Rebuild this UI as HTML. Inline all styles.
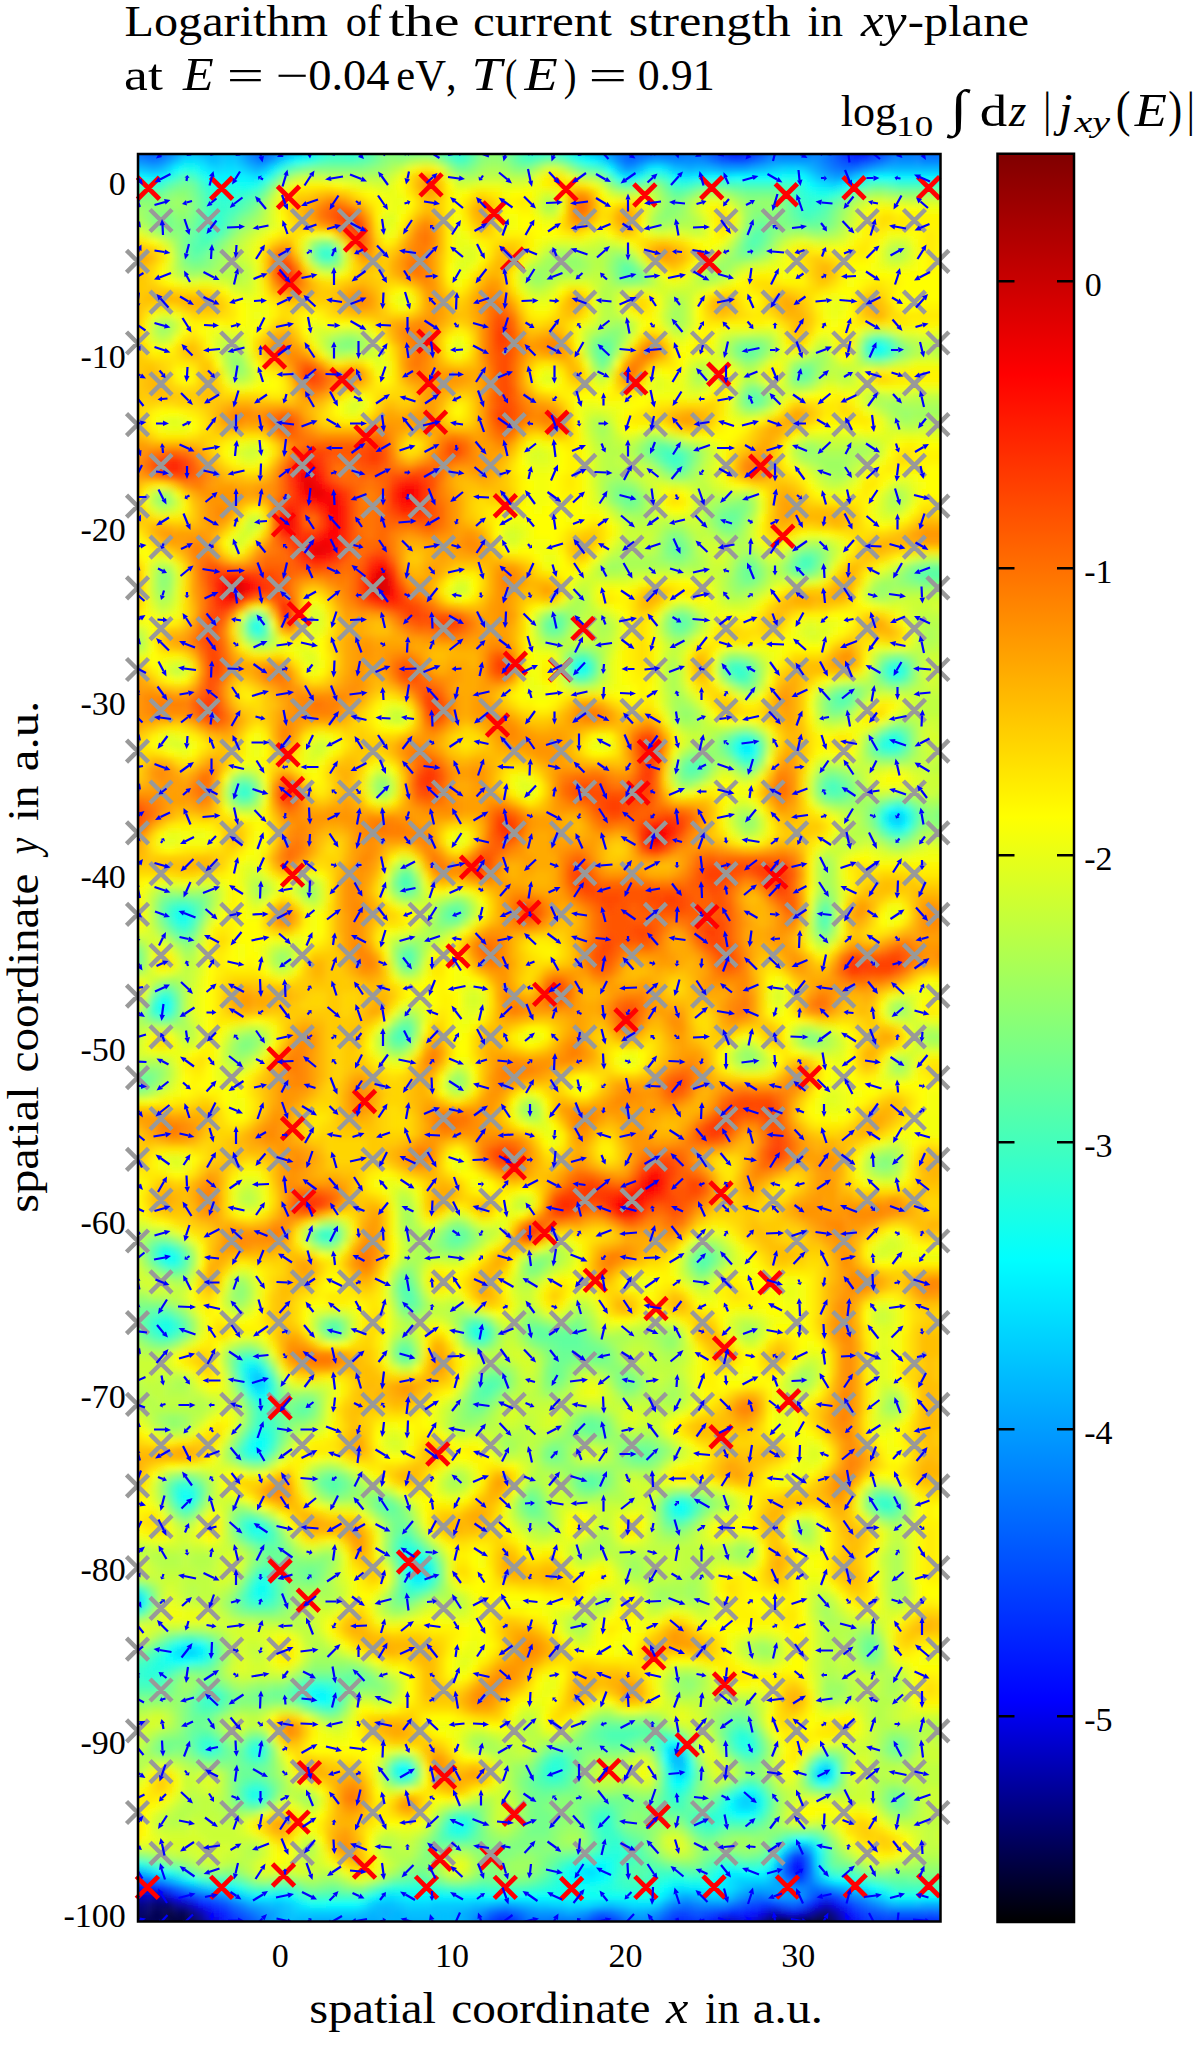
<!DOCTYPE html><html><head><meta charset="utf-8"><style>html,body{margin:0;padding:0;background:#fff;overflow:hidden;width:1200px;height:2055px;}svg{display:block;}text{font-family:"Liberation Serif",serif;fill:#000;font-kerning:none;}</style></head><body>
<svg width="1200" height="2055" viewBox="0 0 1200 2055">
<defs><linearGradient id="cb" x1="0" y1="0" x2="0" y2="1"><stop offset="0" stop-color="#800000"/><stop offset="0.125" stop-color="#ff0000"/><stop offset="0.375" stop-color="#ffff00"/><stop offset="0.625" stop-color="#00ffff"/><stop offset="0.875" stop-color="#0000ff"/><stop offset="1" stop-color="#000000"/></linearGradient><clipPath id="pc"><rect x="138" y="154" width="802.5" height="1767.5"/></clipPath><filter id="bl" x="-5%" y="-5%" width="110%" height="110%"><feGaussianBlur stdDeviation="3"/></filter></defs>
<rect width="1200" height="2055" fill="#fff"/>
<g clip-path="url(#pc)"><g filter="url(#bl)"><g transform="translate(109.495 124.907) scale(8.0096 8.1070)" fill="none" stroke-width="1.04">
<path stroke="#000000" d="M83 222.5h3"/>
<path stroke="#000015" d="M86 222.5h2M84 223.5h1"/>
<path stroke="#00002a" d="M83 221.5h2M88 221.5h1M9 222.5h1M82 222.5h1M88 222.5h1M83 223.5h1M85 223.5h1"/>
<path stroke="#000040" d="M7 220.5h1M7 221.5h3M85 221.5h3M89 221.5h1M8 222.5h1M89 222.5h1M8 223.5h2M86 223.5h3"/>
<path stroke="#000055" d="M5 220.5h2M8 220.5h2M0 221.5h7M10 221.5h1M82 221.5h1M1 222.5h3M7 222.5h1M10 222.5h1M7 223.5h1M82 223.5h1M89 223.5h1M8 224.5h2M83 224.5h2M88 224.5h1"/>
<path stroke="#00006a" d="M5 219.5h3M0 220.5h5M89 220.5h1M90 221.5h1M0 222.5h1M4 222.5h3M90 222.5h1M0 223.5h7M10 223.5h1M6 224.5h2M85 224.5h3M89 224.5h1"/>
<path stroke="#000080" d="M3 219.5h2M10 220.5h1M88 220.5h1M11 221.5h1M11 222.5h1M81 222.5h1M90 223.5h1M0 224.5h6M10 224.5h1M82 224.5h1"/>
<path stroke="#000095" d="M0 219.5h3M8 219.5h1M90 220.5h1M81 221.5h1M77 222.5h1M91 222.5h1M11 223.5h1M81 223.5h1M90 224.5h1"/>
<path stroke="#0000aa" d="M5 218.5h2M9 219.5h1M11 220.5h1M87 220.5h1M91 221.5h1M76 222.5h1M91 223.5h1M11 224.5h1"/>
<path stroke="#0000bf" d="M3 218.5h2M89 219.5h1M82 220.5h2M12 221.5h1M77 221.5h1M12 222.5h1M78 222.5h1M80 222.5h1M77 223.5h1M81 224.5h1M91 224.5h1"/>
<path stroke="#0000d4" d="M0 218.5h3M7 218.5h1M10 219.5h1M84 220.5h1M86 220.5h1M91 220.5h1M76 221.5h1M78 221.5h1M80 221.5h1M79 222.5h1M92 222.5h1M12 223.5h1M76 223.5h1M78 223.5h1M80 223.5h1"/>
<path stroke="#0000ea" d="M78 2.5h1M88 219.5h1M90 219.5h1M12 220.5h1M81 220.5h1M85 220.5h1M13 221.5h1M79 221.5h1M92 221.5h1M13 222.5h1M75 222.5h1M79 223.5h1M92 223.5h1M12 224.5h1M77 224.5h1"/>
<path stroke="#0000ff" d="M77 2.5h1M79 2.5h1M93 2.5h2M8 218.5h1M61 222.5h1M13 223.5h1M76 224.5h1M78 224.5h3M92 224.5h1"/>
<path stroke="#000bff" d="M78 1.5h1M77 3.5h2M93 3.5h2M85 214.5h1M11 219.5h1M13 220.5h1M80 220.5h1M92 220.5h1M75 221.5h1M93 221.5h1M14 222.5h1M48 222.5h2M93 222.5h1M75 223.5h1M13 224.5h1"/>
<path stroke="#0015ff" d="M77 1.5h1M79 1.5h1M93 1.5h2M92 2.5h1M95 2.5h1M79 3.5h1M92 3.5h1M86 214.5h1M85 215.5h2M0 217.5h6M91 219.5h1M79 220.5h1M14 221.5h1M49 221.5h1M61 221.5h1M62 222.5h1M98 222.5h7M14 223.5h1M49 223.5h1M61 223.5h1M93 223.5h1M75 224.5h1"/>
<path stroke="#0020ff" d="M78 0.5h1M93 0.5h2M92 1.5h1M95 1.5h1M76 2.5h1M80 2.5h1M95 3.5h1M6 217.5h1M9 218.5h1M12 219.5h1M87 219.5h1M14 220.5h1M77 220.5h2M15 221.5h1M48 221.5h1M62 221.5h1M71 221.5h1M74 221.5h1M98 221.5h7M15 222.5h1M50 222.5h1M60 222.5h1M70 222.5h2M74 222.5h1M94 222.5h1M97 222.5h1M48 223.5h1M62 223.5h1M99 223.5h2M14 224.5h1M93 224.5h1"/>
<path stroke="#002aff" d="M77 0.5h1M79 0.5h1M92 0.5h1M76 1.5h1M80 1.5h1M76 3.5h1M80 3.5h1M89 218.5h1M76 220.5h1M93 220.5h1M50 221.5h1M70 221.5h1M72 221.5h1M94 221.5h1M97 221.5h1M72 222.5h2M95 222.5h2M15 223.5h1M50 223.5h1M60 223.5h1M70 223.5h2M74 223.5h1M94 223.5h1M97 223.5h2M101 223.5h4M49 224.5h1M61 224.5h1"/>
<path stroke="#0035ff" d="M95 0.5h1M91 2.5h1M96 2.5h1M91 3.5h1M92 4.5h2M86 213.5h1M10 218.5h1M88 218.5h1M90 218.5h1M13 219.5h1M81 219.5h2M92 219.5h1M16 221.5h1M60 221.5h1M73 221.5h1M95 221.5h2M16 222.5h1M47 222.5h1M63 222.5h1M69 222.5h1M72 223.5h2M95 223.5h2M15 224.5h1M48 224.5h1M62 224.5h1M70 224.5h2M74 224.5h1M94 224.5h1M99 224.5h2"/>
<path stroke="#0040ff" d="M76 0.5h1M80 0.5h1M91 1.5h1M96 1.5h1M75 2.5h1M81 2.5h1M96 3.5h1M78 4.5h1M94 4.5h1M85 213.5h1M7 217.5h1M80 219.5h1M83 219.5h1M15 220.5h1M71 220.5h1M75 220.5h1M94 220.5h1M47 221.5h1M63 221.5h1M69 221.5h1M16 223.5h1M47 223.5h1M63 223.5h1M69 223.5h1M50 224.5h1M60 224.5h1M72 224.5h1M97 224.5h2M101 224.5h4"/>
<path stroke="#004aff" d="M91 0.5h1M75 1.5h1M81 1.5h1M75 3.5h1M81 3.5h1M77 4.5h1M79 4.5h1M91 4.5h1M84 215.5h1M85 216.5h2M14 219.5h1M79 219.5h1M86 219.5h1M49 220.5h1M70 220.5h1M72 220.5h1M74 220.5h1M95 220.5h1M17 221.5h1M17 222.5h1M51 222.5h1M59 222.5h1M16 224.5h1M47 224.5h1M73 224.5h1M95 224.5h2"/>
<path stroke="#0055ff" d="M96 0.5h1M5 2.5h1M18 2.5h2M65 2.5h4M90 2.5h1M97 2.5h1M65 3.5h1M90 3.5h1M76 4.5h1M95 4.5h1M84 214.5h1M0 216.5h4M11 218.5h1M91 218.5h1M84 219.5h1M93 219.5h1M16 220.5h1M48 220.5h1M73 220.5h1M96 220.5h1M102 220.5h1M51 221.5h1M59 221.5h1M68 222.5h1M17 223.5h1M51 223.5h1M59 223.5h1M63 224.5h1M69 224.5h1"/>
<path stroke="#0060ff" d="M75 0.5h1M81 0.5h1M5 1.5h1M18 1.5h2M65 1.5h3M90 1.5h1M97 1.5h1M0 2.5h1M3 2.5h2M6 2.5h1M64 2.5h1M69 2.5h2M74 2.5h1M82 2.5h1M102 2.5h2M4 3.5h3M18 3.5h2M64 3.5h1M66 3.5h2M74 3.5h1M97 3.5h1M80 4.5h1M90 4.5h1M4 216.5h1M8 217.5h1M12 218.5h1M87 218.5h1M78 219.5h1M85 219.5h1M50 220.5h1M61 220.5h1M97 220.5h5M103 220.5h2M18 221.5h1M46 221.5h1M68 221.5h1M18 222.5h1M46 222.5h1M55 222.5h1M64 222.5h1M68 223.5h1M17 224.5h1"/>
<path stroke="#006aff" d="M5 0.5h1M18 0.5h2M65 0.5h1M90 0.5h1M0 1.5h1M3 1.5h2M6 1.5h1M64 1.5h1M68 1.5h3M74 1.5h1M82 1.5h1M102 1.5h2M1 2.5h2M20 2.5h1M63 2.5h1M71 2.5h1M84 2.5h3M98 2.5h1M100 2.5h2M104 2.5h1M0 3.5h4M68 3.5h4M82 3.5h1M101 3.5h4M64 4.5h2M75 4.5h1M96 4.5h1M91 5.5h2M87 214.5h1M87 215.5h1M15 219.5h1M94 219.5h1M17 220.5h1M47 220.5h1M62 220.5h1M69 220.5h1M55 221.5h1M64 221.5h1M52 222.5h1M54 222.5h1M56 222.5h3M18 223.5h1M46 223.5h1M64 223.5h1M51 224.5h1M59 224.5h1"/>
<path stroke="#0075ff" d="M4 0.5h1M6 0.5h1M64 0.5h1M66 0.5h2M74 0.5h1M82 0.5h1M97 0.5h1M1 1.5h2M20 1.5h1M63 1.5h1M71 1.5h1M84 1.5h3M98 1.5h1M100 1.5h2M104 1.5h1M7 2.5h1M17 2.5h1M72 2.5h2M83 2.5h1M87 2.5h1M89 2.5h1M99 2.5h1M7 3.5h1M20 3.5h1M63 3.5h1M72 3.5h2M83 3.5h5M89 3.5h1M98 3.5h3M5 4.5h1M81 4.5h1M89 4.5h1M90 5.5h1M93 5.5h1M5 216.5h1M84 216.5h1M87 216.5h1M87 217.5h2M13 218.5h1M80 218.5h2M92 218.5h1M71 219.5h2M77 219.5h1M51 220.5h1M60 220.5h1M52 221.5h3M56 221.5h3M53 222.5h1M67 222.5h1M52 223.5h1M54 223.5h3M58 223.5h1M18 224.5h1M46 224.5h1M68 224.5h1"/>
<path stroke="#0080ff" d="M0 0.5h4M68 0.5h4M85 0.5h2M89 0.5h1M100 0.5h5M7 1.5h1M17 1.5h1M72 1.5h2M83 1.5h1M87 1.5h3M99 1.5h1M62 2.5h1M88 2.5h1M17 3.5h1M88 3.5h1M4 4.5h1M6 4.5h1M18 4.5h2M66 4.5h1M74 4.5h1M97 4.5h1M101 4.5h4M87 213.5h1M9 217.5h1M86 217.5h1M89 217.5h1M82 218.5h1M16 219.5h1M70 219.5h1M73 219.5h1M95 219.5h1M18 220.5h1M63 220.5h1M19 221.5h1M65 221.5h1M67 221.5h1M19 222.5h1M65 222.5h2M53 223.5h1M57 223.5h1M67 223.5h1M52 224.5h1M54 224.5h3M64 224.5h1"/>
<path stroke="#008aff" d="M7 0.5h1M17 0.5h1M20 0.5h1M63 0.5h1M72 0.5h2M83 0.5h2M87 0.5h2M98 0.5h2M21 2.5h1M62 3.5h1M0 4.5h4M63 4.5h1M70 4.5h4M82 4.5h1M88 4.5h1M98 4.5h3M89 5.5h1M94 5.5h1M86 212.5h1M84 213.5h1M6 216.5h1M85 217.5h1M14 218.5h1M79 218.5h1M86 218.5h1M93 218.5h1M74 219.5h3M46 220.5h1M52 220.5h1M68 220.5h1M45 221.5h1M66 221.5h1M45 222.5h1M19 223.5h1M65 223.5h2M53 224.5h1M57 224.5h2M67 224.5h1"/>
<path stroke="#0095ff" d="M8 1.5h1M21 1.5h1M62 1.5h1M8 2.5h1M61 2.5h1M8 3.5h1M21 3.5h1M17 4.5h1M67 4.5h1M69 4.5h1M83 4.5h5M64 5.5h1M90 217.5h1M83 218.5h1M96 219.5h1M19 220.5h1M53 220.5h3M59 220.5h1M64 220.5h1M45 223.5h1M19 224.5h1M45 224.5h1M65 224.5h2"/>
<path stroke="#009fff" d="M62 0.5h1M16 2.5h1M22 2.5h1M16 3.5h1M7 4.5h1M20 4.5h1M68 4.5h1M65 5.5h1M76 5.5h4M88 5.5h1M95 5.5h1M90 6.5h2M85 212.5h1M2 215.5h1M83 215.5h1M83 216.5h1M10 217.5h1M84 217.5h1M78 218.5h1M84 218.5h2M94 218.5h1M17 219.5h1M49 219.5h1M69 219.5h1M20 220.5h1M45 220.5h1M56 220.5h1M58 220.5h1M67 220.5h1M20 221.5h1M20 222.5h1M25 222.5h4"/>
<path stroke="#00aaff" d="M8 0.5h1M21 0.5h1M16 1.5h1M61 1.5h1M9 2.5h1M60 2.5h1M61 3.5h1M5 5.5h1M18 5.5h1M72 5.5h1M75 5.5h1M80 5.5h1M96 5.5h1M89 6.5h1M92 6.5h1M0 215.5h2M3 215.5h1M7 216.5h1M88 216.5h1M80 217.5h4M91 217.5h1M15 218.5h1M71 218.5h2M18 219.5h1M48 219.5h1M50 219.5h1M97 219.5h1M101 219.5h4M34 220.5h1M44 220.5h1M57 220.5h1M65 220.5h2M25 221.5h9M44 221.5h1M24 222.5h1M29 222.5h4M44 222.5h1M20 223.5h1M25 223.5h4M44 223.5h1M20 224.5h1"/>
<path stroke="#00b5ff" d="M16 0.5h1M9 1.5h1M12 1.5h1M22 1.5h1M10 2.5h4M23 2.5h1M9 3.5h1M11 3.5h3M22 3.5h1M16 4.5h1M62 4.5h1M4 5.5h1M6 5.5h1M71 5.5h1M73 5.5h2M81 5.5h1M87 5.5h1M97 5.5h8M2 182.5h1M70 201.5h1M87 212.5h1M83 214.5h1M11 217.5h1M79 217.5h1M73 218.5h1M19 219.5h1M47 219.5h1M51 219.5h1M98 219.5h3M21 220.5h1M32 220.5h2M35 220.5h2M43 220.5h1M21 221.5h1M23 221.5h2M34 221.5h7M43 221.5h1M21 222.5h1M23 222.5h1M33 222.5h8M24 223.5h1M29 223.5h6M36 223.5h4M44 224.5h1"/>
<path stroke="#00bfff" d="M9 0.5h1M12 0.5h2M61 0.5h1M10 1.5h2M13 1.5h1M15 1.5h1M60 1.5h1M14 2.5h2M59 2.5h1M10 3.5h1M14 3.5h2M60 3.5h1M8 4.5h1M12 4.5h2M0 5.5h4M17 5.5h1M19 5.5h1M63 5.5h1M66 5.5h1M70 5.5h1M82 5.5h1M88 6.5h1M98 85.5h1M18 154.5h1M2 181.5h1M1 182.5h1M70 200.5h1M71 201.5h1M71 202.5h1M89 203.5h1M4 215.5h1M82 216.5h1M92 217.5h1M70 218.5h1M77 218.5h1M95 218.5h1M20 219.5h2M33 219.5h3M45 219.5h2M52 219.5h1M62 219.5h1M22 220.5h1M31 220.5h1M37 220.5h6M22 221.5h1M41 221.5h2M22 222.5h1M41 222.5h3M21 223.5h1M23 223.5h1M35 223.5h1M40 223.5h2M43 223.5h1M21 224.5h1M24 224.5h17"/>
<path stroke="#00caff" d="M10 0.5h2M14 0.5h2M22 0.5h1M14 1.5h1M23 1.5h1M24 2.5h1M23 3.5h1M14 4.5h2M21 4.5h1M83 5.5h1M86 5.5h1M93 6.5h1M18 155.5h1M1 181.5h1M3 182.5h1M70 202.5h1M79 206.5h1M88 215.5h1M8 216.5h1M12 217.5h1M78 217.5h1M16 218.5h1M74 218.5h1M22 219.5h1M36 219.5h1M40 219.5h5M53 219.5h2M61 219.5h1M63 219.5h1M68 219.5h1M23 220.5h8M22 223.5h1M42 223.5h1M22 224.5h2M41 224.5h3"/>
<path stroke="#00d4ff" d="M60 0.5h1M59 1.5h1M59 3.5h1M11 4.5h1M7 5.5h1M13 5.5h1M16 5.5h1M84 5.5h2M90 7.5h1M97 85.5h1M3 181.5h1M0 182.5h1M9 188.5h2M89 202.5h1M71 203.5h1M88 203.5h1M79 207.5h1M78 216.5h4M89 216.5h1M13 217.5h1M93 217.5h1M75 218.5h2M96 218.5h1M32 219.5h1M37 219.5h3M55 219.5h2M60 219.5h1M64 219.5h1"/>
<path stroke="#00dfff" d="M23 0.5h1M24 1.5h1M58 2.5h1M24 3.5h1M9 4.5h2M61 4.5h1M12 5.5h1M14 5.5h2M69 5.5h1M18 6.5h1M64 6.5h1M87 6.5h1M89 7.5h1M98 86.5h1M18 153.5h1M17 154.5h1M19 155.5h1M38 178.5h1M0 181.5h1M8 188.5h1M71 200.5h1M78 206.5h1M80 206.5h1M78 207.5h1M80 207.5h1M84 212.5h1M88 214.5h1M5 215.5h1M59 215.5h2M82 215.5h1M77 216.5h1M71 217.5h1M77 217.5h1M17 218.5h1M34 218.5h2M69 218.5h1M23 219.5h1M57 219.5h3M65 219.5h3"/>
<path stroke="#00eaff" d="M59 0.5h1M58 1.5h1M25 2.5h1M58 3.5h1M22 4.5h1M20 5.5h1M67 5.5h1M5 6.5h1M17 6.5h1M65 6.5h1M71 6.5h2M94 6.5h1M88 7.5h1M91 7.5h1M79 76.5h1M98 84.5h1M99 85.5h1M17 153.5h1M19 154.5h1M18 156.5h1M38 177.5h1M39 178.5h1M38 179.5h1M10 187.5h1M11 188.5h1M70 203.5h1M83 213.5h1M88 213.5h1M9 216.5h1M14 217.5h1M70 217.5h1M72 217.5h2M76 217.5h1M94 217.5h1M20 218.5h2M36 218.5h1"/>
<path stroke="#00f4ff" d="M24 0.5h1M25 1.5h1M57 2.5h1M25 3.5h1M60 4.5h1M11 5.5h1M68 5.5h1M4 6.5h1M6 6.5h1M13 6.5h4M73 6.5h2M76 6.5h2M98 6.5h7M95 27.5h1M79 77.5h1M97 86.5h1M17 155.5h1M19 156.5h1M39 177.5h1M9 187.5h1M26 193.5h1M69 200.5h1M88 202.5h1M36 203.5h1M6 215.5h1M58 215.5h1M61 215.5h1M77 215.5h2M58 216.5h3M76 216.5h1M90 216.5h1M15 217.5h1M74 217.5h2M18 218.5h2M22 218.5h1M33 218.5h1M37 218.5h10M97 218.5h1M24 219.5h1M31 219.5h1"/>
<path stroke="#00ffff" d="M58 0.5h1M8 5.5h1M62 5.5h1M0 6.5h4M12 6.5h1M19 6.5h1M70 6.5h1M75 6.5h1M78 6.5h6M86 6.5h1M95 6.5h3M87 7.5h1M92 7.5h1M96 27.5h1M97 84.5h1M99 86.5h1M6 108.5h1M7 139.5h1M18 162.5h1M18 163.5h1M9 169.5h1M71 170.5h1M37 177.5h1M37 178.5h1M39 179.5h1M11 187.5h1M7 188.5h1M8 189.5h2M25 193.5h1M26 194.5h1M70 199.5h1M69 201.5h1M36 202.5h1M70 204.5h2M89 204.5h1M79 205.5h1M77 207.5h1M78 208.5h2M86 211.5h1M88 212.5h1M60 214.5h2M76 215.5h1M79 215.5h1M81 215.5h1M57 216.5h1M61 216.5h1M91 216.5h1M69 217.5h1M95 217.5h1M47 218.5h8M68 218.5h1M101 218.5h4M27 219.5h4"/>
<path stroke="#0bfff4" d="M25 0.5h1M57 1.5h1M26 2.5h1M56 2.5h1M57 3.5h1M23 4.5h1M59 4.5h1M63 6.5h1M84 6.5h2M13 7.5h2M16 7.5h2M18 61.5h1M58 66.5h1M58 67.5h1M98 67.5h1M78 76.5h1M80 76.5h1M97 76.5h1M80 77.5h1M99 84.5h1M8 97.5h2M7 108.5h1M6 109.5h1M6 139.5h1M19 162.5h1M17 163.5h1M9 168.5h1M70 170.5h1M18 173.5h1M37 176.5h2M37 179.5h1M18 180.5h2M18 181.5h1M8 187.5h1M7 189.5h1M10 189.5h1M27 193.5h1M27 194.5h1M18 200.5h1M72 202.5h1M37 203.5h1M90 203.5h1M80 205.5h1M77 206.5h1M80 208.5h1M43 209.5h1M85 211.5h1M2 214.5h1M59 214.5h1M62 214.5h1M82 214.5h1M57 215.5h1M62 215.5h1M80 215.5h1M10 216.5h1M75 216.5h1M92 216.5h1M58 217.5h2M55 218.5h11M98 218.5h3M25 219.5h2"/>
<path stroke="#15ffea" d="M26 1.5h1M43 2.5h1M53 2.5h3M26 3.5h1M24 4.5h1M9 5.5h2M7 6.5h1M66 6.5h1M15 7.5h1M18 7.5h1M88 8.5h2M18 62.5h1M59 66.5h1M59 67.5h1M97 67.5h1M98 76.5h1M78 77.5h1M96 85.5h1M9 98.5h1M8 139.5h1M7 140.5h1M6 148.5h2M46 148.5h1M46 149.5h1M17 152.5h1M18 161.5h2M17 162.5h1M19 163.5h1M10 169.5h1M71 171.5h1M19 179.5h1M19 181.5h1M4 182.5h1M2 183.5h1M12 188.5h1M6 189.5h1M11 189.5h1M24 193.5h1M25 194.5h1M69 199.5h1M79 199.5h1M37 202.5h1M90 202.5h1M72 203.5h1M88 204.5h1M18 205.5h1M18 206.5h1M81 206.5h1M81 207.5h1M77 208.5h1M44 209.5h1M43 210.5h1M87 211.5h1M0 214.5h2M3 214.5h1M58 214.5h1M7 215.5h1M62 216.5h1M70 216.5h2M16 217.5h1M56 217.5h2M60 217.5h1M68 217.5h1M96 217.5h1M23 218.5h1M32 218.5h1M66 218.5h2"/>
<path stroke="#20ffdf" d="M57 0.5h1M43 1.5h1M53 1.5h1M56 1.5h1M29 2.5h2M42 2.5h1M52 2.5h1M30 3.5h1M43 3.5h1M53 3.5h1M56 3.5h1M58 4.5h1M21 5.5h1M11 6.5h1M12 7.5h1M86 7.5h1M93 7.5h1M13 8.5h3M87 8.5h1M90 8.5h1M97 75.5h2M96 76.5h1M9 96.5h1M8 98.5h1M6 107.5h1M7 109.5h1M8 140.5h1M6 147.5h2M45 148.5h1M18 152.5h1M16 153.5h1M19 153.5h1M17 156.5h1M18 157.5h2M8 168.5h1M10 168.5h1M8 169.5h1M9 170.5h1M72 170.5h1M70 171.5h1M17 172.5h2M17 173.5h1M19 173.5h1M37 175.5h1M40 178.5h1M18 179.5h1M38 180.5h1M4 181.5h1M1 183.5h1M5 190.5h2M25 192.5h2M78 199.5h1M12 200.5h1M79 200.5h1M72 201.5h1M55 202.5h1M69 202.5h1M55 203.5h1M17 205.5h1M70 205.5h2M78 205.5h1M17 206.5h1M76 207.5h1M76 208.5h1M42 210.5h1M44 210.5h1M61 213.5h3M56 215.5h1M75 215.5h1M89 215.5h1M56 216.5h1M69 216.5h1M72 216.5h3M93 216.5h1M35 217.5h5M55 217.5h1M61 217.5h2"/>
<path stroke="#2bffd4" d="M26 0.5h1M43 0.5h1M29 1.5h3M42 1.5h1M52 1.5h1M54 1.5h2M27 2.5h2M31 2.5h1M44 2.5h1M27 3.5h1M29 3.5h1M31 3.5h1M42 3.5h1M52 3.5h1M54 3.5h2M25 4.5h1M69 6.5h1M4 7.5h2M71 7.5h1M16 8.5h1M86 8.5h1M14 9.5h1M87 9.5h1M13 11.5h1M12 12.5h2M27 15.5h1M97 27.5h1M95 28.5h2M98 66.5h1M78 67.5h1M79 75.5h1M79 78.5h1M16 82.5h1M98 87.5h1M8 96.5h1M10 97.5h1M7 107.5h1M6 138.5h2M5 148.5h1M8 148.5h1M45 149.5h1M16 152.5h1M16 154.5h1M20 155.5h1M19 160.5h1M18 164.5h1M71 169.5h1M36 175.5h1M36 176.5h1M39 176.5h1M2 180.5h1M37 180.5h1M17 181.5h1M3 183.5h1M7 187.5h1M12 187.5h1M6 188.5h1M5 189.5h1M0 190.5h1M4 190.5h1M7 190.5h1M0 191.5h1M4 191.5h2M27 192.5h1M28 193.5h1M12 194.5h1M78 198.5h2M12 199.5h1M71 199.5h1M80 199.5h1M17 200.5h1M80 200.5h1M18 201.5h1M56 202.5h1M35 203.5h1M72 204.5h1M19 205.5h1M75 208.5h1M42 209.5h1M61 209.5h1M74 209.5h2M62 212.5h2M83 212.5h1M4 214.5h1M57 214.5h1M63 214.5h1M77 214.5h1M8 215.5h1M63 215.5h1M11 216.5h1M68 216.5h1M34 217.5h1M40 217.5h1M54 217.5h1M63 217.5h1M67 217.5h1M97 217.5h1"/>
<path stroke="#35ffca" d="M30 0.5h1M42 0.5h1M52 0.5h2M56 0.5h1M27 1.5h2M44 1.5h1M41 2.5h1M51 2.5h1M28 3.5h1M44 3.5h1M61 5.5h1M8 6.5h1M20 6.5h1M0 7.5h4M6 7.5h1M70 7.5h1M72 7.5h1M85 7.5h1M12 8.5h1M17 8.5h1M91 8.5h1M13 9.5h1M15 9.5h1M86 9.5h1M88 9.5h1M13 10.5h2M87 10.5h1M12 11.5h1M12 13.5h1M26 15.5h1M27 16.5h1M70 41.5h1M97 66.5h1M79 67.5h1M99 67.5h1M17 82.5h1M96 84.5h1M100 85.5h1M96 86.5h1M7 97.5h1M5 108.5h1M5 109.5h1M27 136.5h1M27 137.5h1M6 140.5h1M5 147.5h1M6 149.5h2M20 156.5h1M19 158.5h1M19 159.5h1M18 160.5h1M20 161.5h1M20 162.5h1M16 163.5h1M17 164.5h1M9 167.5h1M96 169.5h1M96 170.5h2M72 171.5h1M18 174.5h2M38 175.5h1M36 177.5h1M40 177.5h1M19 178.5h1M40 179.5h1M1 180.5h1M3 180.5h1M17 180.5h1M20 180.5h1M39 180.5h1M20 181.5h1M18 182.5h2M0 183.5h1M12 189.5h1M1 190.5h3M1 191.5h3M6 191.5h1M24 192.5h1M12 193.5h2M23 193.5h1M13 194.5h1M24 194.5h1M28 194.5h1M11 199.5h1M18 199.5h1M11 200.5h1M13 200.5h1M19 200.5h1M78 200.5h1M55 201.5h2M89 201.5h1M35 202.5h1M54 202.5h1M54 203.5h1M56 203.5h1M87 203.5h1M81 205.5h1M19 206.5h1M70 206.5h1M61 208.5h1M74 208.5h1M81 208.5h1M62 209.5h1M73 209.5h1M76 209.5h1M61 210.5h2M62 211.5h2M84 211.5h1M88 211.5h1M64 212.5h1M60 213.5h1M64 213.5h1M76 214.5h1M78 214.5h1M81 214.5h1M55 216.5h1M63 216.5h1M94 216.5h1M17 217.5h1M21 217.5h1M41 217.5h1M46 217.5h1M53 217.5h1M64 217.5h3M24 218.5h1M31 218.5h1"/>
<path stroke="#40ffbf" d="M27 0.5h3M31 0.5h1M44 0.5h1M54 0.5h2M51 1.5h1M51 3.5h1M26 4.5h1M43 4.5h1M10 6.5h1M67 6.5h2M11 7.5h1M19 7.5h1M79 7.5h6M94 7.5h1M98 7.5h7M12 9.5h1M16 9.5h1M89 9.5h1M12 10.5h1M15 10.5h1M86 10.5h1M88 10.5h1M14 11.5h1M13 13.5h1M26 16.5h1M95 26.5h2M94 27.5h1M69 40.5h2M71 41.5h1M86 54.5h1M17 61.5h1M78 66.5h1M77 67.5h1M98 68.5h1M78 75.5h1M96 75.5h1M77 76.5h1M97 77.5h1M80 78.5h1M16 81.5h1M90 81.5h1M97 87.5h1M7 96.5h1M10 96.5h1M89 97.5h1M10 98.5h1M9 99.5h1M36 112.5h1M26 136.5h1M26 137.5h1M8 147.5h1M20 157.5h1M18 158.5h1M18 159.5h1M20 160.5h1M17 161.5h1M8 167.5h1M70 169.5h1M72 169.5h1M97 169.5h1M10 170.5h1M16 172.5h1M19 172.5h1M36 174.5h2M20 179.5h1M0 180.5h1M17 182.5h1M0 189.5h1M4 189.5h1M8 190.5h1M0 192.5h1M3 192.5h3M28 192.5h1M11 194.5h1M27 195.5h1M13 199.5h1M17 201.5h1M69 203.5h1M18 204.5h1M55 204.5h1M69 204.5h1M90 204.5h1M71 206.5h1M76 206.5h1M43 208.5h2M62 208.5h1M73 208.5h1M45 209.5h1M77 209.5h3M43 211.5h1M61 211.5h1M61 212.5h1M65 212.5h1M65 213.5h1M82 213.5h1M89 213.5h1M5 214.5h1M56 214.5h1M64 214.5h1M79 214.5h2M89 214.5h1M55 215.5h1M68 215.5h3M74 215.5h1M90 215.5h1M12 216.5h3M64 216.5h1M67 216.5h1M20 217.5h1M22 217.5h1M42 217.5h1M44 217.5h2M47 217.5h2M52 217.5h1M98 217.5h7M25 218.5h6"/>
<path stroke="#4affb5" d="M51 0.5h1M32 1.5h1M41 1.5h1M32 2.5h1M32 3.5h1M41 3.5h1M27 4.5h4M44 4.5h1M52 4.5h1M57 4.5h1M22 5.5h1M60 5.5h1M64 7.5h1M73 7.5h1M77 7.5h2M97 7.5h1M18 8.5h1M85 8.5h1M85 9.5h1M86 11.5h2M11 12.5h1M14 12.5h1M11 13.5h1M11 14.5h2M80 14.5h1M97 28.5h1M71 40.5h1M69 41.5h1M86 53.5h2M87 54.5h1M55 61.5h1M17 62.5h1M19 62.5h1M77 66.5h1M99 66.5h1M78 68.5h2M97 68.5h1M91 70.5h1M80 75.5h1M99 76.5h1M96 77.5h1M98 77.5h1M72 79.5h1M17 81.5h1M89 81.5h1M90 82.5h1M98 83.5h1M100 84.5h1M100 86.5h1M99 87.5h1M36 93.5h2M7 98.5h1M89 98.5h1M8 99.5h1M2 102.5h1M37 102.5h1M36 111.5h1M8 138.5h1M5 139.5h1M37 144.5h1M6 146.5h1M27 148.5h2M47 148.5h1M5 149.5h1M47 149.5h1M36 151.5h1M20 154.5h1M16 155.5h1M47 155.5h1M20 158.5h1M20 159.5h1M20 163.5h1M19 164.5h1M10 167.5h1M95 169.5h1M8 170.5h1M69 170.5h1M73 170.5h1M16 173.5h1M20 173.5h1M17 174.5h1M20 174.5h1M18 178.5h1M36 178.5h1M37 181.5h1M20 182.5h1M5 188.5h1M1 189.5h3M1 192.5h2M6 192.5h1M11 195.5h2M26 195.5h1M78 197.5h1M62 198.5h4M77 198.5h1M80 198.5h1M17 199.5h1M68 199.5h1M77 199.5h1M72 200.5h1M19 201.5h1M79 201.5h1M57 202.5h1M17 204.5h1M54 204.5h1M56 204.5h1M79 204.5h2M16 205.5h1M69 205.5h1M72 205.5h1M77 205.5h1M69 206.5h1M70 207.5h2M75 207.5h1M60 208.5h1M60 209.5h1M80 209.5h1M45 210.5h1M63 210.5h1M74 210.5h2M42 211.5h1M44 211.5h1M64 211.5h1M89 212.5h1M59 213.5h1M65 214.5h1M75 214.5h1M9 215.5h1M64 215.5h1M67 215.5h1M71 215.5h1M91 215.5h2M15 216.5h1M38 216.5h1M54 216.5h1M65 216.5h2M95 216.5h1M18 217.5h2M33 217.5h1M43 217.5h1M49 217.5h3"/>
<path stroke="#55ffaa" d="M32 0.5h1M40 2.5h1M45 2.5h1M50 2.5h1M45 3.5h1M31 4.5h1M51 4.5h1M59 5.5h1M9 6.5h1M62 6.5h1M7 7.5h1M65 7.5h1M74 7.5h3M95 7.5h2M11 8.5h1M92 8.5h1M17 9.5h1M90 9.5h1M16 10.5h1M85 10.5h1M89 10.5h1M11 11.5h1M15 11.5h1M88 11.5h1M80 13.5h2M10 14.5h1M10 15.5h2M64 17.5h1M64 18.5h1M61 27.5h1M61 28.5h1M86 30.5h1M80 33.5h1M68 40.5h1M70 42.5h2M101 55.5h4M18 60.5h1M19 61.5h1M71 61.5h1M58 65.5h2M57 66.5h1M60 66.5h1M79 66.5h1M57 67.5h1M60 67.5h1M96 67.5h1M58 68.5h1M92 70.5h1M91 71.5h1M99 75.5h1M95 76.5h1M77 77.5h1M73 78.5h1M78 78.5h1M73 79.5h1M91 81.5h1M89 82.5h1M91 82.5h1M37 94.5h1M89 96.5h1M42 97.5h2M1 102.5h1M1 103.5h2M37 103.5h1M37 111.5h1M35 112.5h1M1 118.5h3M43 137.5h1M5 138.5h1M9 139.5h1M74 139.5h1M9 140.5h1M73 140.5h2M36 143.5h2M37 145.5h1M5 146.5h1M7 146.5h1M4 147.5h1M45 147.5h1M4 148.5h1M9 148.5h1M44 148.5h1M8 149.5h1M17 151.5h1M37 151.5h1M46 155.5h1M48 155.5h1M46 156.5h2M17 157.5h1M24 158.5h1M16 162.5h1M16 164.5h1M27 167.5h2M59 167.5h2M7 168.5h1M11 168.5h1M34 170.5h1M95 170.5h1M98 170.5h1M69 171.5h1M70 172.5h2M20 178.5h1M17 179.5h1M36 179.5h1M36 180.5h1M16 181.5h1M36 181.5h1M9 186.5h2M6 187.5h1M13 188.5h1M9 190.5h1M7 191.5h1M23 192.5h1M29 192.5h1M11 193.5h1M14 193.5h1M22 193.5h1M14 194.5h1M23 194.5h1M13 195.5h1M79 197.5h1M11 198.5h2M61 198.5h1M66 198.5h4M10 199.5h1M19 199.5h1M62 199.5h3M68 200.5h1M12 201.5h1M54 201.5h1M57 201.5h1M80 201.5h1M88 201.5h1M90 201.5h1M87 202.5h1M53 203.5h1M57 203.5h1M19 204.5h1M36 204.5h1M53 204.5h1M87 204.5h1M16 206.5h1M82 206.5h1M61 207.5h2M69 207.5h1M82 207.5h1M45 208.5h1M72 208.5h1M72 209.5h1M41 210.5h1M60 210.5h1M73 210.5h1M41 211.5h1M58 213.5h1M66 213.5h1M66 214.5h2M65 215.5h2M72 215.5h2M37 216.5h1M39 216.5h1M96 216.5h1M23 217.5h1"/>
<path stroke="#60ff9f" d="M41 0.5h1M45 1.5h1M50 1.5h1M37 2.5h1M50 3.5h1M32 4.5h1M42 4.5h1M53 4.5h1M23 5.5h1M69 7.5h1M0 8.5h1M70 8.5h2M84 8.5h1M11 9.5h1M11 10.5h1M85 11.5h1M89 11.5h1M81 12.5h1M10 13.5h1M14 13.5h1M79 14.5h1M81 14.5h1M79 15.5h2M10 16.5h1M65 18.5h1M97 26.5h1M62 27.5h1M79 27.5h2M98 27.5h1M94 28.5h1M80 34.5h1M68 39.5h2M77 48.5h1M85 54.5h1M56 61.5h1M70 61.5h1M55 62.5h1M18 63.5h1M59 68.5h1M99 68.5h1M90 70.5h1M90 71.5h1M98 74.5h1M81 76.5h1M72 78.5h1M90 80.5h1M15 82.5h1M16 83.5h1M97 83.5h1M99 83.5h1M36 92.5h2M36 94.5h1M8 95.5h2M11 96.5h1M43 96.5h1M10 99.5h1M0 102.5h1M3 102.5h1M36 102.5h1M7 106.5h1M5 107.5h1M8 108.5h1M6 110.5h1M37 112.5h1M36 113.5h1M0 117.5h4M0 118.5h1M28 136.5h1M43 136.5h1M42 137.5h1M73 139.5h1M7 141.5h2M36 144.5h1M4 146.5h1M46 147.5h1M53 148.5h1M53 149.5h6M46 150.5h1M56 150.5h3M16 151.5h1M19 152.5h1M47 154.5h2M46 157.5h1M23 158.5h1M21 160.5h1M59 160.5h2M65 163.5h2M66 164.5h1M26 167.5h1M27 168.5h2M11 169.5h1M52 169.5h1M73 169.5h1M35 170.5h1M52 170.5h1M9 171.5h1M17 171.5h1M97 171.5h1M36 173.5h2M19 175.5h2M35 175.5h1M40 176.5h1M19 177.5h2M4 180.5h1M21 180.5h1M40 180.5h1M21 181.5h1M38 181.5h1M16 182.5h1M4 183.5h1M8 186.5h1M11 186.5h1M13 187.5h1M4 188.5h1M10 190.5h2M25 191.5h3M29 191.5h2M12 192.5h1M0 193.5h1M3 193.5h3M29 193.5h1M10 194.5h1M10 195.5h1M28 195.5h1M61 197.5h7M77 197.5h1M10 198.5h1M60 198.5h1M70 198.5h1M61 199.5h1M10 200.5h1M14 200.5h1M16 200.5h1M56 200.5h1M77 200.5h1M81 200.5h1M13 201.5h1M16 201.5h1M17 202.5h2M53 202.5h1M73 203.5h1M16 204.5h1M57 204.5h1M20 205.5h1M54 205.5h1M72 206.5h1M98 206.5h1M17 207.5h2M60 207.5h1M72 207.5h1M74 207.5h1M42 208.5h1M63 208.5h1M71 208.5h1M63 209.5h1M81 209.5h1M76 210.5h1M45 211.5h1M60 211.5h1M65 211.5h1M83 211.5h1M60 212.5h1M66 212.5h1M57 213.5h1M6 214.5h1M55 214.5h1M68 214.5h1M74 214.5h1M93 215.5h1M16 216.5h1M36 216.5h1M53 216.5h1M97 216.5h3"/>
<path stroke="#6aff95" d="M45 0.5h1M50 0.5h1M33 1.5h1M37 1.5h1M40 1.5h1M33 2.5h1M36 2.5h1M38 2.5h2M33 3.5h1M40 3.5h1M45 4.5h1M50 4.5h1M56 4.5h1M8 7.5h1M10 7.5h1M63 7.5h1M1 8.5h6M18 9.5h1M17 10.5h1M10 12.5h1M15 12.5h1M80 12.5h1M87 12.5h2M13 14.5h1M12 15.5h1M25 15.5h1M28 15.5h1M11 16.5h1M28 16.5h1M65 17.5h1M79 28.5h2M61 29.5h1M87 30.5h1M86 31.5h1M79 33.5h1M81 33.5h1M67 40.5h1M72 40.5h1M68 41.5h1M72 41.5h1M64 45.5h1M64 46.5h2M76 48.5h1M78 48.5h1M77 49.5h1M70 51.5h1M70 52.5h2M88 53.5h1M79 54.5h2M102 54.5h2M79 55.5h2M100 55.5h1M71 60.5h1M54 61.5h1M72 61.5h1M71 62.5h1M96 66.5h1M80 67.5h1M92 71.5h1M97 74.5h1M77 75.5h1M81 77.5h1M95 77.5h1M71 79.5h1M79 79.5h1M72 80.5h1M89 80.5h1M15 81.5h1M17 83.5h1M95 85.5h1M104 85.5h1M96 87.5h1M7 95.5h1M10 95.5h1M6 96.5h1M42 96.5h1M6 97.5h1M11 97.5h1M88 97.5h1M88 98.5h1M89 99.5h1M9 100.5h1M37 101.5h1M0 103.5h1M3 103.5h1M36 103.5h1M6 106.5h1M8 107.5h1M8 109.5h1M7 110.5h1M35 113.5h1M4 117.5h1M4 118.5h1M42 136.5h1M44 136.5h1M28 137.5h1M44 137.5h1M75 139.5h1M5 140.5h1M36 142.5h2M36 145.5h1M38 145.5h1M0 146.5h2M3 146.5h1M0 147.5h4M9 147.5h1M0 148.5h1M52 148.5h1M54 148.5h1M57 148.5h2M4 149.5h1M44 149.5h1M36 150.5h1M55 150.5h1M59 150.5h1M18 151.5h1M56 151.5h6M15 152.5h1M56 152.5h1M15 153.5h1M55 153.5h1M55 154.5h1M64 154.5h1M45 156.5h1M24 157.5h1M45 157.5h1M21 158.5h1M21 159.5h1M17 160.5h1M61 160.5h1M21 161.5h1M60 161.5h1M55 163.5h1M67 163.5h1M65 164.5h1M67 164.5h1M27 166.5h1M59 166.5h2M7 167.5h1M29 167.5h1M58 167.5h1M61 167.5h1M7 169.5h1M34 169.5h1M69 169.5h1M98 169.5h1M33 170.5h1M53 170.5h1M16 171.5h1M35 171.5h1M73 171.5h1M96 171.5h1M36 172.5h1M69 172.5h1M35 174.5h1M38 174.5h1M18 175.5h1M21 175.5h1M39 175.5h1M19 176.5h3M35 176.5h1M21 177.5h1M24 178.5h2M21 179.5h1M21 182.5h1M94 187.5h2M94 188.5h2M13 189.5h1M12 190.5h1M24 191.5h1M28 191.5h1M31 191.5h1M7 192.5h1M13 192.5h1M30 192.5h1M1 193.5h2M6 193.5h1M20 193.5h2M25 195.5h1M10 196.5h3M78 196.5h1M10 197.5h2M60 199.5h1M65 199.5h1M67 199.5h1M81 199.5h1M98 199.5h1M55 200.5h1M57 200.5h1M98 200.5h1M11 201.5h1M14 201.5h1M36 201.5h1M78 201.5h1M16 202.5h1M19 202.5h1M16 203.5h3M37 204.5h1M52 204.5h1M78 204.5h1M81 204.5h1M53 205.5h1M55 205.5h2M68 206.5h1M75 206.5h1M59 207.5h1M63 207.5h1M68 207.5h1M73 207.5h1M98 207.5h1M59 208.5h1M69 208.5h2M82 208.5h1M41 209.5h1M59 209.5h1M64 210.5h1M66 211.5h1M74 211.5h1M89 211.5h1M82 212.5h1M56 213.5h1M67 213.5h1M76 213.5h2M81 213.5h1M90 214.5h1M10 215.5h1M54 215.5h1M35 216.5h1M40 216.5h1M46 216.5h2M100 216.5h5M27 217.5h2M32 217.5h1"/>
<path stroke="#75ff8a" d="M33 0.5h1M36 1.5h1M38 1.5h2M35 2.5h1M49 2.5h1M36 3.5h4M49 3.5h1M33 4.5h1M54 4.5h1M24 5.5h1M43 5.5h2M58 5.5h1M21 6.5h1M9 7.5h1M66 7.5h1M10 8.5h1M19 8.5h1M72 8.5h1M79 8.5h5M93 8.5h1M84 9.5h1M91 9.5h1M84 10.5h1M90 10.5h1M6 11.5h2M10 11.5h1M16 11.5h1M81 11.5h1M84 11.5h1M6 12.5h2M82 12.5h1M85 12.5h2M89 12.5h1M9 13.5h1M79 13.5h1M82 13.5h1M9 14.5h1M9 15.5h1M81 15.5h1M9 16.5h1M63 17.5h1M63 18.5h1M66 18.5h1M61 26.5h2M94 26.5h1M60 27.5h1M78 27.5h1M81 27.5h1M62 28.5h1M80 32.5h1M79 34.5h1M81 34.5h1M67 39.5h1M70 39.5h1M69 42.5h1M63 45.5h1M65 45.5h1M77 47.5h2M76 49.5h1M71 51.5h1M87 52.5h1M85 53.5h1M88 54.5h1M101 54.5h1M104 54.5h1M86 55.5h1M79 56.5h1M101 56.5h4M55 60.5h2M70 60.5h1M54 62.5h1M56 62.5h1M70 62.5h1M19 63.5h1M77 68.5h1M80 68.5h1M96 68.5h1M90 72.5h1M99 74.5h1M76 76.5h1M99 77.5h1M74 78.5h1M74 79.5h1M71 80.5h1M73 80.5h1M91 80.5h1M92 81.5h1M92 82.5h1M95 84.5h1M101 85.5h1M95 86.5h1M11 95.5h1M41 97.5h1M42 98.5h1M7 99.5h1M2 101.5h1M5 110.5h1M37 110.5h1M35 111.5h1M5 117.5h1M25 136.5h1M6 137.5h1M25 137.5h1M42 138.5h2M74 138.5h1M53 140.5h1M75 140.5h1M9 141.5h1M73 141.5h2M38 144.5h1M2 146.5h1M8 146.5h1M37 146.5h1M27 147.5h2M44 147.5h1M1 148.5h1M3 148.5h1M55 148.5h2M52 149.5h1M59 149.5h1M6 150.5h1M37 150.5h1M45 150.5h1M54 150.5h1M60 150.5h1M55 151.5h1M36 152.5h2M55 152.5h1M57 152.5h1M60 152.5h2M56 153.5h1M46 154.5h1M49 154.5h1M56 154.5h1M49 155.5h1M64 155.5h2M16 156.5h1M21 156.5h1M48 156.5h1M21 157.5h1M23 157.5h1M25 157.5h1M47 157.5h1M17 158.5h1M22 158.5h1M25 158.5h1M45 158.5h2M17 159.5h1M22 159.5h3M59 159.5h2M58 160.5h1M59 161.5h1M61 161.5h1M21 162.5h1M15 163.5h1M64 163.5h1M68 163.5h1M55 164.5h1M28 166.5h1M61 166.5h1M11 167.5h1M29 168.5h1M59 168.5h2M96 168.5h1M33 169.5h1M53 169.5h1M74 170.5h1M18 171.5h1M34 171.5h1M36 171.5h1M52 171.5h2M98 171.5h1M20 172.5h1M35 172.5h1M72 172.5h1M35 173.5h1M16 174.5h1M21 174.5h1M18 177.5h1M22 177.5h1M21 178.5h1M23 178.5h1M24 179.5h2M16 180.5h1M5 181.5h1M5 182.5h1M36 182.5h1M17 183.5h4M7 186.5h1M12 186.5h1M5 187.5h1M0 188.5h4M30 190.5h1M8 191.5h1M32 191.5h1M11 192.5h1M22 192.5h1M31 192.5h1M7 193.5h1M15 193.5h1M18 193.5h2M15 194.5h1M18 194.5h2M22 194.5h1M29 194.5h1M14 195.5h1M77 196.5h1M79 196.5h1M12 197.5h1M60 197.5h1M68 197.5h1M80 197.5h1M9 198.5h1M13 198.5h1M59 198.5h1M76 198.5h1M6 199.5h4M14 199.5h1M59 199.5h1M66 199.5h1M6 200.5h2M15 200.5h1M58 200.5h1M62 200.5h2M97 200.5h1M15 201.5h1M58 201.5h1M68 201.5h1M81 201.5h1M58 202.5h1M73 202.5h1M80 202.5h1M19 203.5h1M38 203.5h1M52 203.5h1M58 203.5h1M20 204.5h1M35 204.5h1M73 204.5h1M52 205.5h1M57 205.5h1M76 205.5h1M82 205.5h1M89 205.5h1M20 206.5h1M52 206.5h3M61 206.5h4M97 206.5h1M99 206.5h1M16 207.5h1M53 207.5h1M64 207.5h1M67 207.5h1M53 208.5h2M68 208.5h1M46 209.5h1M53 209.5h2M46 210.5h1M52 210.5h3M65 210.5h1M77 210.5h4M87 210.5h1M40 211.5h1M46 211.5h1M75 211.5h1M40 212.5h2M55 213.5h1M75 213.5h1M78 213.5h1M80 213.5h1M90 213.5h1M7 214.5h1M54 214.5h1M69 214.5h1M91 214.5h1M38 215.5h2M48 216.5h1M52 216.5h1M24 217.5h1M26 217.5h1"/>
<path stroke="#80ff80" d="M36 0.5h2M40 0.5h1M34 1.5h2M46 1.5h1M49 1.5h1M34 2.5h1M46 2.5h1M34 3.5h2M46 3.5h1M55 4.5h1M25 5.5h7M51 5.5h1M20 7.5h1M7 8.5h1M69 8.5h1M78 8.5h1M10 9.5h1M70 9.5h1M10 10.5h1M5 11.5h1M80 11.5h1M82 11.5h2M90 11.5h1M8 12.5h2M83 12.5h2M26 14.5h2M82 14.5h1M13 15.5h1M78 15.5h1M12 16.5h1M25 16.5h1M63 16.5h2M10 17.5h2M29 27.5h1M60 28.5h1M78 28.5h1M98 28.5h1M87 29.5h1M85 30.5h1M85 31.5h1M87 31.5h1M72 42.5h1M63 46.5h1M76 47.5h1M79 47.5h1M78 49.5h1M70 50.5h1M69 52.5h1M86 52.5h1M88 52.5h1M70 53.5h2M100 54.5h1M78 55.5h1M85 55.5h1M87 55.5h1M99 55.5h1M80 56.5h1M100 56.5h1M72 60.5h1M57 65.5h1M60 65.5h1M98 65.5h1M80 66.5h1M76 67.5h1M79 69.5h1M91 69.5h2M93 70.5h1M89 71.5h1M91 72.5h1M95 75.5h1M76 77.5h1M71 78.5h1M80 79.5h1M16 80.5h1M88 81.5h1M18 82.5h1M90 83.5h2M96 83.5h1M101 84.5h1M104 84.5h1M103 85.5h1M104 86.5h1M100 87.5h1M98 88.5h1M35 93.5h1M6 95.5h1M89 95.5h1M44 96.5h1M88 96.5h1M44 97.5h1M6 98.5h1M41 98.5h1M43 98.5h1M88 99.5h1M8 100.5h1M1 101.5h1M3 101.5h1M36 101.5h1M38 102.5h1M4 109.5h1M36 110.5h1M87 112.5h1M16 113.5h2M96 128.5h1M5 137.5h1M7 137.5h1M41 137.5h1M9 138.5h1M52 140.5h1M6 141.5h1M37 141.5h1M52 141.5h1M0 145.5h7M52 147.5h1M58 147.5h1M2 148.5h1M26 148.5h1M9 149.5h1M27 149.5h2M5 150.5h1M7 150.5h1M47 150.5h1M53 150.5h1M61 150.5h1M15 151.5h1M62 151.5h1M58 152.5h2M62 152.5h1M20 153.5h1M15 154.5h1M63 154.5h1M65 154.5h1M45 155.5h1M55 155.5h1M22 157.5h1M61 159.5h1M22 160.5h1M16 161.5h1M58 161.5h1M66 162.5h2M54 163.5h1M56 163.5h1M54 164.5h1M56 164.5h1M64 164.5h1M68 164.5h1M26 166.5h1M58 166.5h1M26 168.5h1M52 168.5h1M58 168.5h1M95 168.5h1M97 168.5h1M74 169.5h1M36 170.5h1M51 170.5h1M8 171.5h1M10 171.5h1M15 172.5h1M37 172.5h1M70 173.5h1M22 176.5h1M23 177.5h4M17 178.5h1M22 178.5h1M26 178.5h1M41 178.5h1M22 179.5h2M41 179.5h1M35 181.5h1M39 181.5h1M15 182.5h1M35 182.5h1M37 182.5h1M16 183.5h1M94 186.5h2M95 189.5h1M28 190.5h2M31 190.5h1M12 191.5h1M14 192.5h1M32 192.5h2M10 193.5h1M17 193.5h1M9 194.5h1M16 194.5h2M20 194.5h2M9 195.5h1M9 196.5h1M9 197.5h1M76 197.5h1M18 198.5h1M71 198.5h1M16 199.5h1M58 199.5h1M72 199.5h1M97 199.5h1M99 199.5h1M8 200.5h2M54 200.5h1M59 200.5h3M64 200.5h1M99 200.5h1M10 201.5h1M37 201.5h1M53 201.5h1M15 202.5h1M79 202.5h1M91 202.5h1M15 203.5h1M80 203.5h1M91 203.5h1M15 204.5h1M51 204.5h1M58 204.5h1M15 205.5h1M58 205.5h1M68 205.5h1M73 205.5h1M88 205.5h1M97 205.5h2M15 206.5h1M55 206.5h1M58 206.5h3M65 206.5h1M67 206.5h1M73 206.5h1M52 207.5h1M54 207.5h1M58 207.5h1M65 207.5h2M97 207.5h1M99 207.5h1M46 208.5h1M52 208.5h1M55 208.5h1M58 208.5h1M64 208.5h1M67 208.5h1M52 209.5h1M55 209.5h1M64 209.5h1M71 209.5h1M82 209.5h1M59 210.5h1M66 210.5h1M72 210.5h1M81 210.5h1M84 210.5h3M88 210.5h1M51 211.5h4M73 211.5h1M82 211.5h1M42 212.5h1M45 212.5h9M59 212.5h1M67 212.5h1M0 213.5h4M39 213.5h2M47 213.5h3M54 213.5h1M74 213.5h1M79 213.5h1M8 214.5h1M70 214.5h1M73 214.5h1M92 214.5h1M37 215.5h1M47 215.5h1M53 215.5h1M94 215.5h1M17 216.5h1M41 216.5h1M45 216.5h1M49 216.5h3M25 217.5h1M29 217.5h1"/>
<path stroke="#8aff75" d="M34 0.5h2M38 0.5h2M46 0.5h1M49 0.5h1M47 2.5h2M47 3.5h2M34 4.5h1M41 4.5h1M46 4.5h1M49 4.5h1M32 5.5h1M45 5.5h1M50 5.5h1M52 5.5h1M61 6.5h1M67 7.5h2M8 8.5h2M98 8.5h4M103 8.5h2M0 9.5h7M71 9.5h1M80 9.5h1M83 9.5h1M5 10.5h3M18 10.5h1M69 10.5h2M80 10.5h2M83 10.5h1M8 11.5h2M17 11.5h1M69 11.5h1M5 12.5h1M16 12.5h1M90 12.5h1M7 13.5h2M15 13.5h1M83 13.5h1M14 14.5h1M78 16.5h2M9 17.5h1M12 17.5h1M27 17.5h1M64 19.5h2M62 25.5h2M29 26.5h2M60 26.5h1M63 26.5h1M28 27.5h1M30 27.5h1M99 27.5h1M81 28.5h1M86 29.5h1M79 32.5h1M71 39.5h1M66 40.5h1M71 43.5h1M63 44.5h2M6 46.5h1M66 46.5h1M78 46.5h2M64 47.5h2M75 48.5h1M71 50.5h1M77 50.5h1M69 51.5h1M72 52.5h1M69 53.5h1M79 53.5h2M78 54.5h1M84 54.5h1M6 55.5h1M81 55.5h1M6 56.5h1M78 56.5h1M99 56.5h1M17 60.5h1M72 62.5h1M17 63.5h1M97 65.5h1M76 66.5h1M100 66.5h1M100 67.5h1M57 68.5h1M60 68.5h1M93 69.5h1M89 70.5h1M89 72.5h1M76 75.5h1M81 75.5h1M73 77.5h2M77 78.5h1M17 80.5h1M92 80.5h1M18 81.5h1M34 81.5h1M88 82.5h1M15 83.5h1M89 83.5h1M92 83.5h1M100 83.5h1M103 84.5h1M102 85.5h1M101 86.5h1M103 86.5h1M97 88.5h1M99 88.5h1M38 93.5h1M38 94.5h1M41 96.5h1M90 97.5h1M11 98.5h1M10 100.5h1M0 101.5h1M38 101.5h1M38 103.5h1M37 104.5h1M8 106.5h1M8 110.5h1M17 112.5h1M34 112.5h1M88 112.5h1M37 113.5h1M16 114.5h1M4 116.5h2M5 118.5h1M43 118.5h1M2 119.5h1M96 127.5h2M97 128.5h1M43 135.5h1M45 137.5h1M4 138.5h1M27 138.5h1M41 138.5h1M44 138.5h1M73 138.5h1M75 138.5h1M4 139.5h1M54 140.5h1M72 140.5h1M36 141.5h1M53 141.5h1M16 143.5h1M38 143.5h1M16 144.5h1M36 146.5h1M38 146.5h1M47 147.5h1M53 147.5h1M29 148.5h1M59 148.5h1M0 149.5h2M3 149.5h1M60 149.5h1M35 151.5h1M54 151.5h1M47 153.5h2M54 153.5h1M57 153.5h1M62 153.5h3M54 154.5h1M21 155.5h1M54 155.5h1M56 155.5h1M63 155.5h1M64 156.5h1M44 157.5h1M44 158.5h1M25 159.5h1M44 159.5h2M58 159.5h1M62 160.5h1M57 161.5h1M62 161.5h1M55 162.5h2M64 162.5h2M69 163.5h1M15 164.5h1M20 164.5h1M18 165.5h1M65 165.5h3M9 166.5h1M29 166.5h1M62 166.5h1M30 167.5h1M62 167.5h1M30 168.5h1M53 168.5h1M61 168.5h1M28 169.5h1M32 169.5h1M35 169.5h1M51 169.5h1M7 170.5h1M11 170.5h1M15 171.5h1M54 171.5h1M15 173.5h1M21 173.5h1M69 173.5h1M71 173.5h1M17 175.5h1M22 175.5h1M18 176.5h1M35 177.5h1M41 177.5h1M26 179.5h1M22 180.5h1M15 181.5h1M22 181.5h1M22 182.5h1M21 183.5h1M93 187.5h1M94 189.5h1M13 190.5h1M25 190.5h3M11 191.5h1M13 191.5h1M23 191.5h1M8 192.5h1M20 192.5h2M72 192.5h1M8 193.5h1M16 193.5h1M30 193.5h1M0 194.5h7M24 195.5h1M78 195.5h2M13 196.5h1M27 196.5h1M61 196.5h2M76 196.5h1M8 198.5h1M17 198.5h1M81 198.5h1M57 199.5h1M76 199.5h1M5 200.5h1M20 200.5h1M20 201.5h1M35 201.5h1M59 201.5h1M91 201.5h1M98 201.5h1M14 202.5h1M20 202.5h1M38 202.5h1M52 202.5h1M81 202.5h1M20 203.5h1M34 203.5h1M51 203.5h1M79 203.5h1M91 204.5h1M51 205.5h1M59 205.5h1M90 205.5h1M56 206.5h2M66 206.5h1M74 206.5h1M19 207.5h1M45 207.5h2M55 207.5h3M56 208.5h2M65 208.5h2M56 209.5h1M58 209.5h1M65 209.5h4M40 210.5h1M51 210.5h1M55 210.5h1M67 210.5h1M82 210.5h2M47 211.5h1M50 211.5h1M55 211.5h1M59 211.5h1M67 211.5h1M76 211.5h1M39 212.5h1M43 212.5h2M54 212.5h2M74 212.5h2M81 212.5h1M90 212.5h1M4 213.5h1M46 213.5h1M50 213.5h1M53 213.5h1M68 213.5h1M38 214.5h2M47 214.5h2M53 214.5h1M71 214.5h2M11 215.5h1M14 215.5h2M36 215.5h1M46 215.5h1M48 215.5h1M97 215.5h8M21 216.5h2M34 216.5h1M30 217.5h2"/>
<path stroke="#95ff6a" d="M47 0.5h2M47 1.5h2M35 4.5h2M47 4.5h2M33 5.5h1M62 7.5h1M73 8.5h1M77 8.5h1M94 8.5h1M97 8.5h1M102 8.5h1M7 9.5h1M9 9.5h1M69 9.5h1M79 9.5h1M81 9.5h2M92 9.5h1M0 10.5h1M4 10.5h1M8 10.5h2M71 10.5h1M82 10.5h1M91 10.5h1M4 11.5h1M68 11.5h1M70 11.5h1M79 12.5h1M88 13.5h1M8 14.5h1M78 14.5h1M13 16.5h1M56 16.5h3M77 16.5h1M80 16.5h1M26 17.5h1M56 17.5h3M62 17.5h1M76 17.5h1M53 18.5h1M75 18.5h1M63 19.5h1M66 19.5h1M28 26.5h1M79 26.5h3M98 26.5h1M63 27.5h1M82 27.5h1M15 28.5h1M15 29.5h2M62 29.5h1M79 29.5h1M88 29.5h1M16 30.5h1M61 30.5h1M88 30.5h1M81 32.5h1M82 33.5h1M99 35.5h1M66 39.5h1M73 40.5h1M87 40.5h1M67 41.5h1M73 41.5h1M70 43.5h1M62 44.5h1M65 44.5h1M62 45.5h1M66 45.5h1M7 46.5h1M77 46.5h1M66 47.5h1M75 47.5h1M79 48.5h1M75 49.5h1M69 50.5h1M76 50.5h1M78 50.5h1M72 51.5h1M72 53.5h1M89 53.5h1M81 54.5h1M7 55.5h1M7 56.5h1M98 56.5h1M6 57.5h1M78 57.5h1M96 57.5h1M54 60.5h1M57 60.5h1M57 61.5h1M69 61.5h1M1 63.5h2M55 63.5h1M77 65.5h2M99 65.5h1M100 68.5h1M80 69.5h1M90 69.5h1M97 69.5h2M71 72.5h2M79 74.5h1M96 74.5h1M100 75.5h1M75 76.5h1M100 76.5h1M72 77.5h1M75 77.5h1M75 78.5h1M81 78.5h1M96 78.5h3M78 79.5h1M89 79.5h2M88 80.5h1M33 81.5h1M93 82.5h1M95 83.5h1M94 84.5h1M102 84.5h1M79 85.5h1M94 85.5h1M79 86.5h1M102 86.5h1M36 91.5h2M35 94.5h1M89 94.5h1M12 95.5h1M37 95.5h1M43 95.5h1M12 96.5h1M90 96.5h1M90 98.5h1M9 101.5h1M21 102.5h1M2 104.5h1M98 109.5h1M4 110.5h1M16 112.5h1M18 112.5h1M86 112.5h1M18 113.5h1M34 113.5h1M87 113.5h1M17 114.5h1M79 114.5h1M79 115.5h2M0 116.5h4M6 116.5h1M6 117.5h1M43 117.5h1M0 119.5h2M3 119.5h1M52 121.5h1M95 128.5h1M41 136.5h1M45 136.5h1M26 138.5h1M40 138.5h1M54 139.5h1M72 139.5h1M76 139.5h1M35 143.5h1M1 144.5h2M15 144.5h1M7 145.5h1M9 146.5h1M26 147.5h1M57 147.5h1M59 147.5h1M10 148.5h1M48 148.5h1M51 148.5h1M2 149.5h1M48 149.5h1M69 149.5h2M4 150.5h1M52 150.5h1M62 150.5h1M69 150.5h2M54 152.5h1M63 152.5h1M49 153.5h1M61 153.5h1M57 154.5h1M66 155.5h1M24 156.5h1M49 156.5h1M55 156.5h1M65 156.5h1M48 157.5h1M47 158.5h1M7 159.5h2M46 159.5h1M7 160.5h2M23 160.5h1M57 160.5h1M22 161.5h1M15 162.5h1M57 162.5h1M63 162.5h1M68 162.5h1M21 163.5h1M63 163.5h1M63 164.5h1M17 165.5h1M55 165.5h3M64 165.5h1M8 166.5h1M10 166.5h1M57 166.5h1M25 167.5h1M57 167.5h1M31 168.5h1M71 168.5h1M27 169.5h1M29 169.5h1M94 169.5h1M32 170.5h1M54 170.5h1M68 170.5h1M75 170.5h1M94 170.5h1M99 170.5h1M33 171.5h1M37 171.5h1M51 171.5h1M68 171.5h1M74 171.5h1M95 171.5h1M34 172.5h1M53 172.5h2M38 173.5h1M86 173.5h1M23 176.5h1M26 176.5h2M27 177.5h1M16 179.5h1M5 180.5h1M23 180.5h3M35 180.5h1M41 180.5h1M15 183.5h1M6 186.5h1M13 186.5h1M93 186.5h1M14 188.5h1M93 188.5h1M96 188.5h1M9 191.5h2M33 191.5h1M71 191.5h2M10 192.5h1M18 192.5h2M34 192.5h1M71 192.5h1M9 193.5h1M33 193.5h2M90 193.5h1M7 194.5h2M8 195.5h1M15 195.5h1M29 195.5h1M77 195.5h1M28 196.5h1M63 196.5h1M66 196.5h2M80 196.5h1M13 197.5h1M59 197.5h1M69 197.5h1M7 198.5h1M58 198.5h1M97 198.5h2M5 199.5h1M15 199.5h1M56 199.5h1M65 200.5h1M67 200.5h1M96 200.5h1M9 201.5h1M73 201.5h1M77 201.5h1M97 201.5h1M99 201.5h1M13 202.5h1M34 202.5h1M51 202.5h1M59 202.5h1M68 202.5h1M81 203.5h1M21 204.5h1M68 204.5h1M77 204.5h1M82 204.5h1M21 205.5h1M63 205.5h2M75 205.5h1M87 205.5h1M99 205.5h1M51 206.5h1M83 206.5h1M96 206.5h1M15 207.5h1M44 207.5h1M83 207.5h1M41 208.5h1M98 208.5h2M51 209.5h1M57 209.5h1M69 209.5h2M47 210.5h1M56 210.5h1M39 211.5h1M48 211.5h2M77 211.5h1M80 211.5h2M56 212.5h3M76 212.5h1M41 213.5h1M51 213.5h2M73 213.5h1M91 213.5h1M9 214.5h1M40 214.5h1M46 214.5h1M49 214.5h1M12 215.5h2M40 215.5h1M49 215.5h1M52 215.5h1M95 215.5h2M20 216.5h1M27 216.5h1M44 216.5h1"/>
<path stroke="#9fff60" d="M34 5.5h1M42 5.5h1M46 5.5h1M49 5.5h1M57 5.5h1M22 6.5h1M95 8.5h2M8 9.5h1M19 9.5h1M1 10.5h3M79 10.5h1M0 11.5h1M18 11.5h1M71 11.5h1M79 11.5h1M91 11.5h1M17 12.5h1M68 12.5h1M6 13.5h1M84 13.5h1M87 13.5h1M89 13.5h1M25 14.5h1M8 15.5h1M14 15.5h1M82 15.5h1M55 16.5h1M62 16.5h1M65 16.5h1M13 17.5h1M28 17.5h1M54 17.5h2M59 17.5h1M66 17.5h1M75 17.5h1M77 17.5h1M10 18.5h1M52 18.5h1M54 18.5h1M62 18.5h1M74 18.5h1M76 18.5h1M53 19.5h1M70 23.5h1M6 24.5h1M63 24.5h1M6 25.5h1M61 25.5h1M64 25.5h1M31 26.5h1M78 26.5h1M31 27.5h1M77 27.5h1M88 28.5h1M99 28.5h1M60 29.5h1M80 29.5h1M85 29.5h1M95 29.5h2M15 30.5h1M82 34.5h1M97 34.5h2M98 35.5h1M100 35.5h5M99 36.5h1M61 37.5h1M67 38.5h2M72 39.5h1M87 39.5h1M86 40.5h1M88 40.5h1M93 40.5h1M88 41.5h4M68 42.5h1M89 42.5h3M63 43.5h1M72 43.5h1M6 45.5h1M62 46.5h1M76 46.5h1M85 52.5h1M89 52.5h1M68 53.5h1M78 53.5h1M62 54.5h2M70 54.5h2M99 54.5h1M84 55.5h1M88 55.5h1M98 55.5h1M77 56.5h1M81 56.5h1M96 56.5h2M7 57.5h1M79 57.5h1M95 57.5h1M97 57.5h1M19 60.5h1M73 61.5h1M69 62.5h1M0 63.5h1M3 63.5h1M54 63.5h1M56 63.5h1M70 63.5h2M1 64.5h2M58 64.5h2M79 65.5h1M96 65.5h1M95 67.5h1M95 68.5h1M78 69.5h1M94 69.5h1M99 69.5h1M71 71.5h1M93 71.5h1M92 72.5h1M71 73.5h2M78 74.5h1M100 74.5h1M94 76.5h1M94 77.5h1M100 77.5h1M76 78.5h1M95 78.5h1M99 78.5h1M91 79.5h1M74 80.5h1M71 81.5h2M93 81.5h1M33 82.5h2M18 83.5h1M93 83.5h2M101 83.5h1M104 83.5h1M80 85.5h1M80 86.5h1M94 86.5h1M95 87.5h1M104 87.5h1M89 91.5h1M35 92.5h1M89 92.5h1M89 93.5h1M7 94.5h1M11 94.5h1M24 94.5h2M36 95.5h1M88 95.5h1M90 95.5h1M40 98.5h1M6 99.5h1M40 99.5h2M38 100.5h1M89 100.5h1M10 101.5h1M4 102.5h1M4 103.5h1M21 103.5h1M0 104.5h2M3 104.5h1M36 104.5h1M5 106.5h1M4 108.5h1M98 108.5h1M38 111.5h1M102 112.5h2M15 113.5h1M88 113.5h1M15 114.5h1M35 114.5h2M80 114.5h1M98 115.5h1M98 116.5h1M4 119.5h1M95 127.5h1M37 134.5h1M27 135.5h1M37 135.5h1M42 135.5h1M44 135.5h1M4 137.5h1M8 137.5h1M40 137.5h1M39 138.5h1M10 139.5h1M53 139.5h1M55 139.5h1M4 140.5h1M10 140.5h1M37 140.5h1M76 140.5h1M5 141.5h1M72 141.5h1M75 141.5h1M8 142.5h1M16 142.5h1M38 142.5h1M73 142.5h1M15 143.5h1M0 144.5h1M3 144.5h2M35 144.5h1M16 145.5h1M39 145.5h1M52 146.5h1M58 146.5h1M10 147.5h1M29 147.5h1M37 147.5h1M43 147.5h1M51 147.5h1M54 147.5h1M36 149.5h2M51 149.5h1M61 149.5h1M68 149.5h1M8 150.5h1M17 150.5h1M35 150.5h1M44 150.5h1M38 151.5h1M63 151.5h1M58 153.5h1M60 153.5h1M65 153.5h1M45 154.5h1M50 154.5h1M62 154.5h1M66 154.5h1M86 154.5h1M15 155.5h1M50 155.5h1M22 156.5h2M25 156.5h1M44 156.5h1M54 156.5h1M70 156.5h1M16 157.5h1M97 157.5h2M43 158.5h1M97 158.5h1M6 159.5h1M9 159.5h1M43 159.5h1M62 159.5h1M9 160.5h1M24 160.5h1M43 160.5h3M56 161.5h1M63 161.5h1M49 162.5h1M54 162.5h1M58 162.5h1M61 162.5h2M57 163.5h1M57 164.5h1M69 164.5h1M19 165.5h1M54 165.5h1M58 165.5h6M68 165.5h1M25 166.5h1M6 167.5h1M6 168.5h1M12 168.5h1M32 168.5h2M62 168.5h1M70 168.5h1M72 168.5h1M30 169.5h2M54 169.5h1M59 169.5h1M75 169.5h1M16 170.5h1M19 171.5h1M99 171.5h1M9 172.5h1M52 172.5h1M68 172.5h1M73 172.5h1M97 172.5h2M72 173.5h1M15 174.5h1M39 174.5h1M34 175.5h1M40 175.5h1M78 175.5h2M24 176.5h2M78 176.5h2M17 177.5h1M65 177.5h1M27 178.5h1M65 178.5h1M26 180.5h1M72 180.5h1M40 181.5h1M68 181.5h2M72 181.5h1M14 182.5h1M34 182.5h1M38 182.5h1M5 183.5h1M22 183.5h1M35 183.5h2M89 183.5h1M1 184.5h3M94 185.5h1M4 187.5h1M14 187.5h1M81 187.5h1M96 187.5h1M81 188.5h2M14 189.5h1M25 189.5h5M96 189.5h1M24 190.5h1M32 190.5h1M73 191.5h1M9 192.5h1M15 192.5h1M17 192.5h1M70 192.5h1M73 192.5h1M89 192.5h3M31 193.5h2M71 193.5h2M89 193.5h1M91 193.5h1M16 195.5h3M76 195.5h1M8 196.5h1M26 196.5h1M60 196.5h1M64 196.5h2M68 196.5h1M75 196.5h1M8 197.5h1M75 197.5h1M6 198.5h1M14 198.5h1M19 198.5h1M99 198.5h1M46 199.5h1M55 199.5h1M96 199.5h1M100 199.5h1M66 200.5h1M76 200.5h1M82 200.5h1M89 200.5h2M100 200.5h1M6 201.5h3M60 201.5h4M87 201.5h1M11 202.5h2M50 202.5h1M78 202.5h1M50 203.5h1M59 203.5h1M68 203.5h1M50 204.5h1M59 204.5h1M74 204.5h1M86 204.5h1M60 205.5h3M65 205.5h1M74 205.5h1M96 205.5h1M24 206.5h1M100 206.5h1M43 207.5h1M51 207.5h1M100 207.5h1M51 208.5h1M83 208.5h1M83 209.5h1M50 210.5h1M57 210.5h2M68 210.5h1M89 210.5h1M56 211.5h1M78 211.5h2M90 211.5h1M73 212.5h1M77 212.5h4M5 213.5h1M38 213.5h1M45 213.5h1M37 214.5h1M50 214.5h3M93 214.5h1M101 214.5h3M16 215.5h1M50 215.5h2M18 216.5h1M23 216.5h1M26 216.5h1M28 216.5h1M42 216.5h2"/>
<path stroke="#aaff55" d="M37 4.5h1M47 5.5h2M53 5.5h1M44 6.5h2M60 6.5h1M68 8.5h1M74 8.5h3M55 9.5h1M72 9.5h1M78 9.5h1M68 10.5h1M1 11.5h3M72 11.5h1M4 12.5h1M69 12.5h1M91 12.5h1M16 13.5h1M85 13.5h2M90 13.5h1M15 14.5h1M83 14.5h1M56 15.5h1M62 15.5h2M77 15.5h1M98 15.5h1M8 16.5h1M14 16.5h1M54 16.5h1M59 16.5h1M76 16.5h1M81 16.5h1M8 17.5h1M14 17.5h1M53 17.5h1M9 18.5h1M11 18.5h2M55 18.5h4M67 18.5h1M52 19.5h1M54 19.5h1M62 19.5h1M67 19.5h1M70 22.5h2M71 23.5h1M7 24.5h1M62 24.5h1M64 24.5h1M70 24.5h2M7 25.5h1M27 26.5h1M82 26.5h1M15 27.5h1M27 27.5h1M100 27.5h1M16 28.5h1M77 28.5h1M89 28.5h1M89 29.5h1M94 29.5h1M73 31.5h1M88 31.5h1M85 32.5h2M78 33.5h1M78 34.5h1M96 34.5h1M99 34.5h6M79 35.5h2M97 35.5h1M98 36.5h1M100 36.5h2M104 36.5h1M61 38.5h1M86 39.5h1M88 39.5h1M94 39.5h1M65 40.5h1M89 40.5h4M94 40.5h1M66 41.5h1M87 41.5h1M92 41.5h1M73 42.5h1M62 43.5h1M64 43.5h1M69 43.5h1M90 43.5h2M98 45.5h1M75 46.5h1M80 46.5h1M98 46.5h1M63 47.5h1M74 47.5h1M80 47.5h1M65 48.5h2M74 48.5h1M69 49.5h3M79 49.5h1M72 50.5h1M68 51.5h1M78 51.5h1M68 52.5h1M79 52.5h1M63 53.5h5M73 53.5h1M84 53.5h1M6 54.5h1M64 54.5h6M72 54.5h2M89 54.5h1M77 55.5h1M77 57.5h1M80 57.5h1M98 57.5h7M6 58.5h1M58 58.5h1M96 58.5h1M57 59.5h2M71 59.5h1M58 60.5h1M69 60.5h1M73 60.5h1M53 61.5h1M61 61.5h1M57 62.5h1M61 62.5h1M102 62.5h1M102 63.5h1M0 64.5h1M3 64.5h1M60 64.5h1M61 65.5h1M100 65.5h1M61 66.5h1M70 66.5h1M61 67.5h1M70 67.5h1M81 67.5h1M70 68.5h1M70 69.5h1M95 69.5h2M70 70.5h2M94 70.5h1M70 71.5h1M72 71.5h1M70 72.5h1M73 72.5h1M73 73.5h1M90 73.5h1M98 73.5h2M80 74.5h1M75 75.5h1M74 76.5h1M75 79.5h1M15 80.5h1M33 80.5h2M93 80.5h1M102 83.5h2M92 84.5h2M78 85.5h1M101 87.5h1M103 87.5h1M96 88.5h1M100 88.5h1M89 90.5h1M38 92.5h1M6 94.5h1M8 94.5h3M12 94.5h1M18 94.5h2M90 94.5h1M25 95.5h1M38 95.5h1M42 95.5h1M44 95.5h1M5 96.5h1M40 97.5h1M11 99.5h1M90 99.5h1M7 100.5h1M37 100.5h1M39 100.5h1M88 100.5h1M4 101.5h1M35 101.5h1M9 102.5h1M22 102.5h1M35 102.5h1M7 105.5h2M37 109.5h1M99 109.5h1M0 110.5h1M3 110.5h1M9 110.5h1M38 110.5h1M0 111.5h3M9 111.5h1M89 112.5h1M101 112.5h1M104 112.5h1M86 113.5h1M89 113.5h1M78 114.5h1M15 115.5h2M78 115.5h1M6 118.5h1M42 118.5h1M52 120.5h1M51 121.5h1M53 121.5h1M52 122.5h1M97 126.5h1M98 127.5h1M98 128.5h1M96 129.5h2M37 133.5h1M28 135.5h1M37 136.5h2M0 137.5h1M37 137.5h3M46 137.5h1M28 138.5h1M38 138.5h1M45 138.5h1M76 138.5h1M38 139.5h2M41 139.5h3M38 140.5h1M55 140.5h1M38 141.5h1M51 141.5h1M54 141.5h1M7 142.5h1M9 142.5h1M35 142.5h1M52 142.5h1M74 142.5h1M17 143.5h1M17 144.5h1M8 145.5h1M15 145.5h1M39 146.5h1M43 146.5h2M59 146.5h1M56 147.5h1M43 148.5h1M60 148.5h1M69 148.5h1M79 148.5h2M29 149.5h1M62 149.5h3M0 150.5h4M16 150.5h1M48 150.5h1M63 150.5h1M68 150.5h1M19 151.5h1M53 151.5h1M69 151.5h2M14 152.5h1M35 152.5h1M46 153.5h1M50 153.5h1M59 153.5h1M87 154.5h1M8 155.5h2M57 155.5h1M70 155.5h1M86 155.5h1M56 156.5h1M63 156.5h1M66 156.5h1M69 156.5h1M26 157.5h1M69 157.5h2M26 158.5h1M59 158.5h2M98 158.5h1M47 159.5h1M57 159.5h1M6 160.5h1M16 160.5h1M46 160.5h1M66 161.5h2M22 162.5h1M50 162.5h1M59 162.5h2M69 162.5h1M49 163.5h2M53 163.5h1M70 163.5h1M53 164.5h1M16 165.5h1M27 165.5h1M7 166.5h1M11 166.5h1M43 166.5h1M56 166.5h1M63 166.5h1M12 167.5h1M31 167.5h1M42 167.5h2M52 167.5h2M63 167.5h1M25 168.5h1M57 168.5h1M63 168.5h1M73 168.5h1M98 168.5h1M6 169.5h1M12 169.5h1M26 169.5h1M58 169.5h1M60 169.5h1M68 169.5h1M76 169.5h1M99 169.5h1M15 170.5h1M37 170.5h1M76 170.5h1M55 172.5h1M86 172.5h1M34 173.5h1M54 173.5h1M68 173.5h1M87 173.5h1M22 174.5h1M34 174.5h1M61 174.5h1M69 174.5h3M16 175.5h1M59 175.5h3M17 176.5h1M34 176.5h1M41 176.5h1M59 176.5h1M65 176.5h1M77 176.5h1M98 176.5h1M64 177.5h1M66 177.5h1M98 177.5h1M35 178.5h1M66 178.5h1M98 178.5h1M1 179.5h3M27 179.5h1M72 179.5h2M98 179.5h1M15 180.5h1M27 180.5h1M68 180.5h4M73 180.5h1M98 180.5h1M14 181.5h1M23 181.5h1M26 181.5h2M41 181.5h1M70 181.5h2M73 181.5h1M98 181.5h1M61 182.5h1M68 182.5h1M89 182.5h1M0 184.5h1M18 184.5h5M58 184.5h1M89 184.5h2M58 185.5h1M93 185.5h1M95 185.5h1M92 186.5h1M0 187.5h1M80 187.5h1M82 187.5h1M26 188.5h2M80 188.5h1M30 189.5h1M93 189.5h1M94 190.5h3M14 191.5h1M22 191.5h1M34 191.5h1M70 191.5h1M89 191.5h2M97 191.5h1M16 192.5h1M35 192.5h1M97 192.5h2M70 193.5h1M73 193.5h1M97 193.5h1M78 194.5h2M89 194.5h2M0 195.5h5M7 195.5h1M19 195.5h1M75 195.5h1M80 195.5h1M14 196.5h1M75 198.5h1M96 198.5h1M100 198.5h1M45 199.5h1M47 199.5h1M54 199.5h1M82 199.5h1M4 200.5h1M47 200.5h2M53 200.5h1M91 200.5h1M4 201.5h2M52 201.5h1M64 201.5h1M82 201.5h1M96 201.5h1M1 202.5h3M10 202.5h1M2 203.5h1M14 203.5h1M21 203.5h1M74 203.5h1M78 203.5h1M86 203.5h1M14 204.5h1M34 204.5h1M38 204.5h1M96 204.5h3M14 205.5h1M50 205.5h1M66 205.5h2M83 205.5h1M91 205.5h1M100 205.5h1M14 206.5h1M25 206.5h1M14 207.5h1M47 207.5h1M96 207.5h1M15 208.5h2M47 208.5h1M97 208.5h1M100 208.5h1M40 209.5h1M47 209.5h1M48 210.5h1M71 210.5h1M57 211.5h2M68 211.5h1M72 211.5h1M38 212.5h1M68 212.5h1M6 213.5h1M69 213.5h1M10 214.5h1M36 214.5h1M100 214.5h1M104 214.5h1M35 215.5h1M45 215.5h1M19 216.5h1M24 216.5h2M33 216.5h1"/>
<path stroke="#b5ff4a" d="M38 4.5h1M40 4.5h1M35 5.5h1M31 6.5h3M43 6.5h1M50 6.5h2M59 6.5h1M20 8.5h1M64 8.5h1M54 9.5h1M68 9.5h1M93 9.5h1M19 10.5h1M54 10.5h2M72 10.5h1M92 10.5h1M0 12.5h1M18 12.5h1M70 12.5h4M5 13.5h1M78 13.5h1M55 15.5h1M57 15.5h2M61 15.5h1M64 15.5h1M97 15.5h1M60 16.5h2M98 16.5h1M15 17.5h2M60 17.5h2M78 17.5h1M13 18.5h4M59 18.5h1M77 18.5h1M74 19.5h1M61 20.5h2M61 21.5h2M70 21.5h2M62 22.5h1M62 23.5h1M61 24.5h1M60 25.5h1M95 25.5h2M64 26.5h1M77 26.5h1M99 26.5h1M14 27.5h1M32 27.5h1M59 27.5h1M93 27.5h1M101 27.5h4M14 28.5h1M28 28.5h1M82 28.5h1M87 28.5h1M93 28.5h1M100 28.5h1M78 29.5h1M97 29.5h1M17 30.5h1M73 30.5h2M89 30.5h1M91 30.5h1M16 31.5h1M79 31.5h2M87 32.5h1M95 33.5h2M95 34.5h1M60 36.5h2M102 36.5h2M60 37.5h1M62 37.5h1M62 38.5h1M69 38.5h1M61 39.5h2M65 39.5h1M73 39.5h1M92 39.5h2M95 39.5h1M62 40.5h2M74 40.5h1M95 40.5h1M62 41.5h1M86 41.5h1M93 41.5h1M62 42.5h2M88 42.5h1M92 42.5h1M61 43.5h1M73 43.5h1M89 43.5h1M61 44.5h1M66 44.5h1M7 45.5h1M61 45.5h1M67 45.5h1M74 45.5h1M79 45.5h1M5 46.5h1M67 46.5h1M74 46.5h1M97 46.5h1M67 47.5h1M64 48.5h1M74 49.5h1M68 50.5h1M75 50.5h1M79 50.5h1M77 51.5h1M79 51.5h1M87 51.5h2M64 52.5h2M73 52.5h1M78 52.5h1M80 52.5h1M62 53.5h1M81 53.5h1M7 54.5h1M61 54.5h1M77 54.5h1M82 54.5h2M61 55.5h3M82 55.5h2M97 55.5h1M95 56.5h1M7 58.5h1M59 58.5h1M77 58.5h2M95 58.5h1M97 58.5h1M59 59.5h1M16 61.5h1M60 61.5h1M62 61.5h1M101 61.5h3M1 62.5h2M16 62.5h1M53 62.5h1M62 62.5h1M73 62.5h1M101 62.5h1M103 62.5h1M20 63.5h1M61 63.5h1M101 63.5h1M103 63.5h1M57 64.5h1M61 64.5h1M102 64.5h1M80 65.5h1M81 66.5h1M95 66.5h1M76 68.5h1M81 68.5h1M100 69.5h1M88 71.5h1M89 73.5h1M91 73.5h1M100 73.5h1M72 74.5h2M77 74.5h1M94 75.5h1M73 76.5h1M71 77.5h1M94 78.5h1M100 78.5h1M70 79.5h1M92 79.5h1M18 80.5h1M70 80.5h1M79 80.5h1M94 82.5h1M98 82.5h2M88 83.5h1M16 84.5h2M79 84.5h1M91 84.5h1M93 85.5h1M78 86.5h1M93 86.5h1M79 87.5h1M92 87.5h3M102 87.5h1M92 88.5h1M98 89.5h1M90 91.5h1M90 92.5h1M18 93.5h1M24 93.5h2M90 93.5h1M5 95.5h1M24 95.5h1M40 96.5h1M45 96.5h1M5 97.5h1M12 97.5h1M5 98.5h1M44 98.5h1M39 99.5h1M42 99.5h1M0 100.5h4M36 100.5h1M40 100.5h1M8 101.5h1M39 101.5h1M10 102.5h1M20 102.5h1M20 103.5h1M22 103.5h1M38 104.5h1M6 105.5h1M9 106.5h1M9 107.5h1M9 108.5h1M99 108.5h1M9 109.5h1M97 109.5h1M1 110.5h2M35 110.5h1M3 111.5h1M8 111.5h1M34 111.5h1M86 111.5h2M102 111.5h1M1 112.5h2M9 112.5h1M15 112.5h1M19 112.5h1M38 112.5h1M79 113.5h1M102 113.5h2M18 114.5h1M4 115.5h3M81 115.5h1M99 115.5h1M7 116.5h1M99 116.5h1M7 117.5h1M42 117.5h1M44 117.5h1M44 118.5h1M5 119.5h1M53 122.5h1M96 126.5h1M98 126.5h1M95 129.5h1M17 132.5h1M36 132.5h1M36 133.5h1M36 134.5h1M26 135.5h1M36 135.5h1M4 136.5h1M29 136.5h1M40 136.5h1M46 136.5h1M1 137.5h3M74 137.5h2M0 138.5h1M3 138.5h1M37 138.5h1M37 139.5h1M40 139.5h1M52 139.5h1M56 139.5h1M36 140.5h1M51 140.5h1M15 142.5h1M51 142.5h1M53 142.5h1M0 143.5h3M5 144.5h2M39 144.5h1M35 145.5h1M42 146.5h1M45 146.5h1M51 146.5h1M53 146.5h1M36 147.5h1M38 147.5h1M55 147.5h1M60 147.5h1M37 148.5h1M68 148.5h1M70 148.5h1M10 149.5h1M26 149.5h1M65 149.5h3M71 149.5h1M79 149.5h2M18 150.5h1M38 150.5h1M51 150.5h1M64 150.5h1M67 150.5h1M71 150.5h1M4 151.5h3M14 151.5h1M46 151.5h2M68 151.5h1M47 152.5h3M64 152.5h1M69 152.5h2M66 153.5h1M86 153.5h2M8 154.5h1M21 154.5h1M53 154.5h1M70 154.5h1M85 154.5h1M0 155.5h4M7 155.5h1M53 155.5h1M62 155.5h1M67 155.5h1M69 155.5h1M71 155.5h1M85 155.5h1M87 155.5h1M0 156.5h5M7 156.5h3M15 156.5h1M26 156.5h1M50 156.5h1M53 156.5h1M67 156.5h2M71 156.5h1M97 156.5h1M0 157.5h6M10 157.5h2M43 157.5h1M64 157.5h2M68 157.5h1M71 157.5h1M5 158.5h7M16 158.5h1M48 158.5h1M58 158.5h1M61 158.5h1M96 158.5h1M5 159.5h1M10 159.5h1M26 159.5h1M42 159.5h1M25 160.5h1M42 160.5h1M47 160.5h1M56 160.5h1M63 160.5h1M23 161.5h1M49 161.5h3M55 161.5h1M64 161.5h2M68 161.5h1M48 162.5h1M51 162.5h1M53 162.5h1M14 163.5h1M62 163.5h1M14 164.5h1M62 164.5h1M26 165.5h1M28 165.5h1M53 165.5h1M30 166.5h1M53 166.5h3M64 166.5h1M66 166.5h2M44 167.5h1M34 168.5h1M51 168.5h1M54 168.5h1M69 168.5h1M36 169.5h1M61 169.5h4M17 170.5h1M50 170.5h1M55 170.5h1M55 171.5h1M38 172.5h1M51 172.5h1M87 172.5h1M96 172.5h1M53 173.5h1M61 173.5h1M85 173.5h1M60 174.5h1M62 174.5h1M68 174.5h1M72 174.5h1M86 174.5h2M23 175.5h1M62 175.5h1M77 175.5h1M98 175.5h1M5 176.5h4M10 176.5h3M28 176.5h1M58 176.5h1M60 176.5h1M63 176.5h2M66 176.5h1M76 176.5h1M97 176.5h1M6 177.5h3M10 177.5h3M28 177.5h1M73 177.5h1M97 177.5h1M11 178.5h1M64 178.5h1M67 178.5h1M72 178.5h2M97 178.5h1M0 179.5h1M4 179.5h1M35 179.5h1M65 179.5h3M70 179.5h2M97 179.5h1M10 180.5h1M67 180.5h1M97 180.5h1M99 180.5h1M10 181.5h1M24 181.5h2M28 181.5h1M34 181.5h1M42 181.5h1M61 181.5h1M67 181.5h1M97 181.5h1M99 181.5h1M23 182.5h1M42 182.5h2M69 182.5h1M72 182.5h2M88 182.5h1M98 182.5h1M14 183.5h1M23 183.5h1M34 183.5h1M37 183.5h1M88 183.5h1M90 183.5h1M4 184.5h1M16 184.5h2M23 184.5h1M59 184.5h1M91 184.5h1M9 185.5h3M57 185.5h1M59 185.5h1M89 185.5h4M5 186.5h1M14 186.5h1M89 186.5h3M96 186.5h1M1 187.5h3M25 187.5h2M89 187.5h2M92 187.5h1M25 188.5h1M89 188.5h1M89 189.5h1M14 190.5h1M89 190.5h2M97 190.5h1M74 191.5h1M91 191.5h1M96 191.5h1M98 191.5h1M74 192.5h1M92 192.5h1M96 192.5h1M35 193.5h1M92 193.5h1M96 193.5h1M98 193.5h1M30 194.5h1M76 194.5h2M80 194.5h1M91 194.5h1M95 194.5h3M5 195.5h2M23 195.5h1M95 195.5h2M95 196.5h2M7 197.5h1M52 197.5h1M58 197.5h1M70 197.5h1M81 197.5h1M96 197.5h9M5 198.5h1M16 198.5h1M52 198.5h1M57 198.5h1M72 198.5h1M101 198.5h4M4 199.5h1M48 199.5h1M53 199.5h1M104 199.5h1M46 200.5h1M49 200.5h1M73 200.5h1M0 201.5h4M49 201.5h3M100 201.5h1M0 202.5h1M9 202.5h1M21 202.5h1M49 202.5h1M60 202.5h1M82 202.5h1M96 202.5h3M1 203.5h1M3 203.5h1M82 203.5h1M96 203.5h1M60 204.5h1M63 204.5h2M76 204.5h1M95 204.5h1M99 204.5h1M22 205.5h1M86 205.5h1M95 205.5h1M10 206.5h1M21 206.5h1M23 206.5h1M46 206.5h2M50 206.5h1M84 206.5h1M9 207.5h2M13 207.5h1M42 207.5h1M8 208.5h2M14 208.5h1M17 208.5h1M7 209.5h2M50 209.5h1M49 210.5h1M69 210.5h1M34 211.5h1M38 211.5h1M17 212.5h2M24 212.5h2M34 212.5h2M91 212.5h1M7 213.5h1M17 213.5h1M24 213.5h1M35 213.5h3M42 213.5h1M72 213.5h1M92 213.5h1M101 213.5h3M15 214.5h2M41 214.5h1M45 214.5h1M99 214.5h1M17 215.5h1M41 215.5h1M29 216.5h1"/>
<path stroke="#bfff40" d="M39 4.5h1M23 6.5h1M27 6.5h4M34 6.5h1M46 6.5h4M52 6.5h1M21 7.5h1M63 8.5h1M65 8.5h1M19 11.5h1M67 11.5h1M73 11.5h1M92 11.5h1M1 12.5h1M3 12.5h1M67 12.5h1M17 13.5h1M91 13.5h1M7 14.5h1M16 14.5h1M28 14.5h1M15 15.5h1M59 15.5h2M99 15.5h1M15 16.5h1M82 16.5h1M97 16.5h1M52 17.5h1M74 17.5h1M8 18.5h1M17 18.5h1M60 18.5h2M73 18.5h1M15 19.5h2M55 19.5h1M61 19.5h1M73 19.5h1M75 19.5h1M53 20.5h1M63 20.5h1M61 22.5h1M61 23.5h1M63 23.5h1M69 23.5h1M5 25.5h1M29 25.5h2M70 25.5h2M6 26.5h1M32 26.5h1M59 26.5h1M100 26.5h1M16 27.5h1M76 27.5h1M88 27.5h2M29 28.5h1M63 28.5h1M101 28.5h1M103 28.5h2M14 29.5h1M81 29.5h1M90 29.5h1M93 29.5h1M60 30.5h1M79 30.5h2M90 30.5h1M92 30.5h1M15 31.5h1M74 31.5h1M84 31.5h1M91 31.5h2M82 32.5h1M83 33.5h1M97 33.5h2M100 33.5h5M81 35.5h1M96 35.5h1M97 36.5h1M99 37.5h2M60 38.5h1M66 38.5h1M63 39.5h2M89 39.5h3M61 40.5h1M64 40.5h1M85 40.5h1M61 41.5h1M63 41.5h3M74 41.5h1M94 41.5h1M61 42.5h1M64 42.5h1M67 42.5h1M65 43.5h1M68 43.5h1M92 43.5h1M73 44.5h2M90 44.5h1M5 45.5h1M75 45.5h1M77 45.5h2M97 45.5h1M99 45.5h1M99 46.5h1M6 47.5h1M97 47.5h2M67 48.5h1M80 48.5h1M17 49.5h1M65 49.5h4M72 49.5h1M73 50.5h2M64 51.5h2M73 51.5h1M76 51.5h1M86 51.5h1M89 51.5h1M63 52.5h1M66 52.5h2M77 52.5h1M90 52.5h1M74 53.5h1M77 53.5h1M101 53.5h3M74 54.5h1M98 54.5h1M5 55.5h1M64 55.5h2M76 55.5h1M5 56.5h1M76 56.5h1M82 56.5h1M5 57.5h1M58 57.5h2M76 57.5h1M81 57.5h1M79 58.5h1M98 58.5h1M6 59.5h1M56 59.5h1M70 59.5h1M72 59.5h1M59 60.5h3M101 60.5h3M58 61.5h1M104 61.5h1M0 62.5h1M3 62.5h1M60 62.5h1M104 62.5h1M57 63.5h1M60 63.5h1M62 63.5h1M69 63.5h1M72 63.5h1M104 63.5h1M18 64.5h2M56 64.5h1M70 64.5h1M101 64.5h1M103 64.5h2M56 65.5h1M70 65.5h1M76 65.5h1M101 65.5h1M104 65.5h1M56 66.5h1M69 66.5h1M101 66.5h1M104 66.5h1M8 67.5h1M56 67.5h1M69 67.5h1M104 67.5h1M61 68.5h1M69 68.5h1M94 68.5h1M101 68.5h1M104 68.5h1M58 69.5h2M69 69.5h1M71 69.5h1M89 69.5h1M101 69.5h1M104 69.5h1M88 70.5h1M101 70.5h4M101 71.5h4M88 72.5h1M101 72.5h4M70 73.5h1M101 73.5h1M104 73.5h1M71 74.5h1M74 74.5h3M104 74.5h1M74 75.5h1M104 75.5h1M72 76.5h1M104 76.5h1M101 77.5h1M104 77.5h1M101 78.5h1M103 78.5h2M77 79.5h1M88 79.5h1M93 79.5h1M102 79.5h3M73 81.5h1M94 81.5h1M14 82.5h1M97 82.5h1M100 82.5h2M103 82.5h2M78 84.5h1M90 84.5h1M92 85.5h1M92 86.5h1M80 87.5h1M91 88.5h1M93 88.5h1M95 88.5h1M104 88.5h1M97 89.5h1M99 89.5h1M90 90.5h1M88 91.5h1M88 92.5h1M19 93.5h1M88 93.5h1M13 94.5h1M23 94.5h1M88 94.5h1M13 95.5h1M18 95.5h1M41 95.5h1M45 97.5h1M39 98.5h1M21 101.5h2M39 102.5h1M9 103.5h2M35 103.5h1M4 104.5h1M9 104.5h1M9 105.5h1M97 108.5h1M0 109.5h1M3 109.5h1M36 109.5h1M38 109.5h1M4 111.5h1M7 111.5h1M10 111.5h1M17 111.5h2M101 111.5h1M103 111.5h2M0 112.5h1M3 112.5h1M10 112.5h1M85 112.5h1M90 112.5h1M2 113.5h1M19 113.5h1M90 113.5h1M101 113.5h1M104 113.5h1M14 114.5h1M34 114.5h1M81 114.5h1M0 115.5h4M17 115.5h1M43 116.5h1M97 116.5h1M43 119.5h1M94 128.5h1M98 129.5h1M17 131.5h1M16 132.5h1M37 132.5h1M51 133.5h1M38 135.5h1M0 136.5h4M5 136.5h2M24 136.5h1M36 136.5h1M39 136.5h1M47 136.5h1M24 137.5h1M29 137.5h1M1 138.5h2M10 138.5h1M25 138.5h1M55 138.5h2M72 138.5h1M0 139.5h1M3 139.5h1M44 139.5h1M77 139.5h1M56 140.5h1M4 141.5h1M10 141.5h1M35 141.5h1M6 142.5h1M17 142.5h1M72 142.5h1M3 143.5h1M8 143.5h1M51 143.5h2M7 144.5h2M9 145.5h1M17 145.5h1M40 145.5h1M42 145.5h2M52 145.5h1M58 145.5h2M40 146.5h2M57 146.5h1M42 147.5h1M79 147.5h1M36 148.5h1M50 148.5h1M65 148.5h3M78 148.5h1M35 149.5h1M43 149.5h1M49 149.5h2M15 150.5h1M65 150.5h2M0 151.5h2M3 151.5h1M45 151.5h1M48 151.5h1M52 151.5h1M64 151.5h1M67 151.5h1M71 151.5h1M20 152.5h1M38 152.5h1M53 152.5h1M65 152.5h1M67 152.5h2M71 152.5h1M14 153.5h1M53 153.5h1M67 153.5h4M0 154.5h4M6 154.5h2M9 154.5h1M51 154.5h1M58 154.5h1M61 154.5h1M67 154.5h1M69 154.5h1M71 154.5h1M4 155.5h3M44 155.5h1M51 155.5h1M68 155.5h1M5 156.5h2M10 156.5h1M51 156.5h2M57 156.5h1M98 156.5h1M6 157.5h4M12 157.5h1M49 157.5h1M52 157.5h5M63 157.5h1M66 157.5h2M96 157.5h1M0 158.5h5M12 158.5h1M42 158.5h1M57 158.5h1M62 158.5h1M68 158.5h3M11 159.5h1M16 159.5h1M48 159.5h1M52 159.5h1M63 159.5h1M97 159.5h1M5 160.5h1M10 160.5h1M48 160.5h1M51 160.5h2M7 161.5h2M15 161.5h1M43 161.5h2M48 161.5h1M52 161.5h3M52 162.5h1M48 163.5h1M51 163.5h2M58 163.5h1M52 164.5h1M58 164.5h1M70 164.5h1M12 166.5h1M42 166.5h1M44 166.5h1M52 166.5h1M65 166.5h1M54 167.5h1M56 167.5h1M42 168.5h2M64 168.5h1M74 168.5h1M94 168.5h1M57 169.5h1M77 169.5h1M31 170.5h1M77 170.5h1M7 171.5h1M11 171.5h1M50 171.5h1M75 171.5h1M8 172.5h1M10 172.5h1M21 172.5h1M61 172.5h1M99 172.5h1M52 173.5h1M55 173.5h1M62 173.5h1M73 173.5h1M98 173.5h1M98 174.5h1M0 175.5h5M9 175.5h1M15 175.5h1M27 175.5h1M58 175.5h1M63 175.5h1M67 175.5h7M76 175.5h1M80 175.5h1M97 175.5h1M0 176.5h5M9 176.5h1M13 176.5h1M61 176.5h2M67 176.5h2M71 176.5h5M80 176.5h1M5 177.5h1M9 177.5h1M63 177.5h1M67 177.5h1M71 177.5h2M74 177.5h1M78 177.5h2M6 178.5h5M12 178.5h1M16 178.5h1M28 178.5h1M68 178.5h1M71 178.5h1M74 178.5h1M5 179.5h1M9 179.5h4M68 179.5h2M99 179.5h1M6 180.5h1M9 180.5h1M11 180.5h2M14 180.5h1M28 180.5h1M42 180.5h1M74 180.5h1M6 181.5h1M9 181.5h1M11 181.5h3M43 181.5h1M62 181.5h1M74 181.5h1M88 181.5h2M13 182.5h1M26 182.5h2M39 182.5h1M60 182.5h1M62 182.5h1M67 182.5h1M70 182.5h2M74 182.5h1M90 182.5h1M97 182.5h1M60 183.5h1M15 184.5h1M24 184.5h1M57 184.5h1M88 184.5h1M7 185.5h2M12 185.5h2M23 185.5h3M24 186.5h2M58 186.5h1M79 187.5h1M83 187.5h1M91 187.5h1M18 188.5h1M28 188.5h1M79 188.5h1M83 188.5h1M90 188.5h1M92 188.5h1M24 189.5h1M31 189.5h1M81 189.5h2M90 189.5h1M92 189.5h1M23 190.5h1M33 190.5h1M71 190.5h2M91 190.5h3M15 191.5h1M18 191.5h4M92 191.5h1M95 191.5h1M69 192.5h1M93 192.5h1M74 193.5h1M93 193.5h1M95 193.5h1M33 194.5h2M71 194.5h5M92 194.5h1M94 194.5h1M98 194.5h1M20 195.5h1M61 195.5h2M74 195.5h1M97 195.5h1M0 196.5h4M7 196.5h1M15 196.5h1M17 196.5h2M29 196.5h1M52 196.5h1M59 196.5h1M69 196.5h1M74 196.5h1M97 196.5h1M14 197.5h1M17 197.5h2M51 197.5h1M74 197.5h1M95 197.5h1M15 198.5h1M45 198.5h2M51 198.5h1M53 198.5h1M95 198.5h1M20 199.5h1M52 199.5h1M75 199.5h1M95 199.5h1M101 199.5h1M103 199.5h1M0 200.5h2M3 200.5h1M45 200.5h1M50 200.5h1M52 200.5h1M88 200.5h1M92 200.5h1M95 200.5h1M101 200.5h1M104 200.5h1M34 201.5h1M48 201.5h1M65 201.5h1M67 201.5h1M92 201.5h1M95 201.5h1M104 201.5h1M4 202.5h1M63 202.5h1M74 202.5h1M86 202.5h1M95 202.5h1M99 202.5h6M0 203.5h1M10 203.5h1M49 203.5h1M60 203.5h1M95 203.5h1M97 203.5h2M101 203.5h4M22 204.5h1M49 204.5h1M61 204.5h2M75 204.5h1M83 204.5h1M100 204.5h5M10 205.5h1M23 205.5h2M49 205.5h1M84 205.5h1M92 205.5h1M101 205.5h1M104 205.5h1M9 206.5h1M11 206.5h3M95 206.5h1M101 206.5h1M104 206.5h1M8 207.5h1M11 207.5h2M20 207.5h1M24 207.5h2M50 207.5h1M84 207.5h1M101 207.5h1M104 207.5h1M7 208.5h1M10 208.5h4M50 208.5h1M101 208.5h1M103 208.5h2M6 209.5h1M9 209.5h1M13 209.5h3M84 209.5h1M98 209.5h7M39 210.5h1M70 210.5h1M102 210.5h1M35 211.5h1M102 211.5h1M16 212.5h1M36 212.5h2M72 212.5h1M102 212.5h2M8 213.5h2M16 213.5h1M18 213.5h1M25 213.5h1M34 213.5h1M44 213.5h1M70 213.5h2M104 213.5h1M11 214.5h1M14 214.5h1M17 214.5h1M35 214.5h1M94 214.5h1M98 214.5h1M26 215.5h2M34 215.5h1"/>
<path stroke="#caff35" d="M36 5.5h1M56 5.5h1M24 6.5h3M58 6.5h1M66 8.5h2M73 9.5h1M77 9.5h1M94 9.5h1M99 9.5h2M78 10.5h1M2 12.5h1M19 12.5h1M92 12.5h1M73 13.5h1M61 14.5h1M77 14.5h1M84 14.5h1M98 14.5h1M16 15.5h1M24 15.5h1M54 15.5h1M76 15.5h1M83 15.5h1M16 16.5h1M29 16.5h1M53 16.5h1M75 16.5h1M99 16.5h1M17 17.5h1M25 17.5h1M79 17.5h1M51 18.5h1M17 19.5h1M60 19.5h1M68 19.5h1M52 20.5h1M54 20.5h1M70 20.5h3M69 21.5h1M72 21.5h1M69 22.5h1M72 22.5h1M72 23.5h1M5 24.5h1M8 24.5h1M65 24.5h1M69 24.5h1M72 24.5h1M28 25.5h1M31 25.5h1M59 25.5h1M65 25.5h1M94 25.5h1M97 25.5h1M7 26.5h1M14 26.5h2M26 26.5h1M76 26.5h1M93 26.5h1M101 26.5h4M83 27.5h1M30 28.5h1M59 28.5h1M76 28.5h1M86 28.5h1M102 28.5h1M17 29.5h1M73 29.5h2M98 29.5h1M62 30.5h1M72 30.5h1M84 30.5h1M17 31.5h1M61 31.5h1M72 31.5h1M89 31.5h2M73 32.5h1M78 32.5h1M84 32.5h1M94 33.5h1M99 33.5h1M78 35.5h1M62 36.5h1M98 37.5h1M101 37.5h4M63 38.5h1M70 38.5h1M60 39.5h1M74 39.5h1M85 39.5h1M17 40.5h1M65 42.5h2M74 42.5h1M87 42.5h1M93 42.5h1M66 43.5h1M74 43.5h1M88 43.5h1M67 44.5h1M72 44.5h1M89 44.5h1M91 44.5h1M98 44.5h1M73 45.5h1M76 45.5h1M80 45.5h1M8 46.5h1M61 46.5h1M73 46.5h1M7 47.5h1M62 47.5h1M73 47.5h1M18 48.5h1M63 48.5h1M68 48.5h2M73 48.5h1M18 49.5h1M64 49.5h1M73 49.5h1M64 50.5h4M66 51.5h2M74 51.5h2M74 52.5h1M83 53.5h1M90 53.5h1M104 53.5h1M5 54.5h1M75 54.5h2M60 55.5h1M66 55.5h2M72 55.5h4M96 55.5h1M59 56.5h1M43 57.5h1M94 57.5h1M5 58.5h1M57 58.5h1M76 58.5h1M80 58.5h1M99 58.5h6M7 59.5h1M60 59.5h1M100 59.5h3M53 60.5h1M100 60.5h1M104 60.5h1M59 61.5h1M74 61.5h1M100 61.5h1M20 62.5h1M4 63.5h1M53 63.5h1M4 64.5h1M55 64.5h1M62 64.5h1M71 64.5h1M100 64.5h1M69 65.5h1M95 65.5h1M102 65.5h2M103 66.5h1M71 67.5h1M101 67.5h1M71 68.5h1M93 68.5h1M103 68.5h1M60 69.5h1M77 69.5h1M102 69.5h2M69 70.5h1M72 70.5h1M79 70.5h1M99 70.5h2M69 71.5h1M73 71.5h1M100 71.5h1M35 72.5h2M99 72.5h2M35 73.5h2M74 73.5h1M97 73.5h1M102 73.5h2M95 74.5h1M101 74.5h1M103 74.5h1M72 75.5h2M101 75.5h1M26 76.5h1M82 76.5h1M101 76.5h1M103 76.5h1M102 77.5h2M89 78.5h1M93 78.5h1M102 78.5h1M76 79.5h1M81 79.5h1M94 79.5h1M100 79.5h2M75 80.5h1M78 80.5h1M80 80.5h1M94 80.5h1M102 80.5h3M32 81.5h1M35 81.5h1M102 81.5h2M95 82.5h2M102 82.5h1M15 84.5h1M18 84.5h1M80 84.5h1M81 86.5h1M91 87.5h1M94 88.5h1M101 88.5h1M103 88.5h1M89 89.5h3M88 90.5h1M35 91.5h1M18 92.5h1M17 93.5h1M5 94.5h1M17 94.5h1M19 95.5h1M35 95.5h1M39 95.5h1M13 96.5h1M87 98.5h1M5 99.5h1M38 99.5h1M87 99.5h1M4 100.5h1M6 100.5h1M11 100.5h1M35 100.5h1M41 100.5h1M90 100.5h1M20 101.5h1M10 104.5h1M21 104.5h1M5 105.5h1M10 105.5h1M4 107.5h1M1 109.5h1M99 110.5h1M5 111.5h2M16 111.5h1M88 111.5h1M33 112.5h1M1 113.5h1M3 113.5h1M14 113.5h1M33 113.5h1M80 113.5h1M37 114.5h1M89 114.5h1M7 115.5h1M14 115.5h1M97 115.5h1M15 116.5h2M79 116.5h2M98 117.5h1M7 118.5h1M51 120.5h1M53 120.5h1M51 122.5h1M95 126.5h1M94 127.5h1M16 131.5h1M36 131.5h1M18 132.5h1M51 132.5h1M17 133.5h1M43 134.5h1M41 135.5h1M45 135.5h1M48 136.5h1M9 137.5h1M36 137.5h1M47 137.5h1M73 137.5h1M76 137.5h1M46 138.5h1M77 138.5h1M1 139.5h1M36 139.5h1M57 139.5h1M0 140.5h1M3 140.5h1M39 140.5h1M71 140.5h1M77 140.5h1M55 141.5h1M71 141.5h1M76 141.5h1M0 142.5h4M5 142.5h1M75 142.5h1M4 143.5h1M7 143.5h1M9 143.5h1M73 143.5h2M14 144.5h1M51 144.5h2M14 145.5h1M41 145.5h1M51 145.5h1M10 146.5h1M15 146.5h2M27 146.5h2M35 146.5h1M46 146.5h1M60 146.5h1M96 146.5h1M25 147.5h1M39 147.5h1M48 147.5h1M50 147.5h1M78 147.5h1M80 147.5h1M96 147.5h1M25 148.5h1M49 148.5h1M61 148.5h1M63 148.5h2M81 148.5h1M38 149.5h1M78 149.5h1M9 150.5h1M49 150.5h2M2 151.5h1M7 151.5h1M49 151.5h1M65 151.5h2M0 152.5h2M3 152.5h3M46 152.5h1M50 152.5h1M66 152.5h1M87 152.5h1M0 153.5h6M36 153.5h2M45 153.5h1M51 153.5h1M71 153.5h1M88 153.5h1M4 154.5h2M52 154.5h1M68 154.5h1M88 154.5h1M10 155.5h1M22 155.5h1M52 155.5h1M84 155.5h1M11 156.5h1M62 156.5h1M72 156.5h1M85 156.5h2M96 156.5h1M13 157.5h1M15 157.5h1M50 157.5h2M57 157.5h1M62 157.5h1M51 158.5h4M56 158.5h1M63 158.5h1M66 158.5h2M4 159.5h1M51 159.5h1M53 159.5h1M56 159.5h1M67 159.5h2M96 159.5h1M98 159.5h1M26 160.5h1M49 160.5h2M53 160.5h1M64 160.5h1M66 160.5h3M6 161.5h1M9 161.5h1M24 161.5h1M45 161.5h3M70 162.5h1M22 163.5h1M61 163.5h1M71 163.5h1M21 164.5h1M49 164.5h3M61 164.5h1M15 165.5h1M25 165.5h1M52 165.5h1M69 165.5h1M68 166.5h1M24 167.5h1M32 167.5h1M41 167.5h1M55 167.5h1M64 167.5h1M66 167.5h2M96 167.5h1M56 168.5h1M65 168.5h1M68 168.5h1M75 168.5h1M13 169.5h1M50 169.5h1M55 169.5h2M65 169.5h1M12 170.5h1M14 170.5h1M61 170.5h4M67 170.5h1M14 171.5h1M20 171.5h1M32 171.5h1M38 171.5h1M61 171.5h2M67 171.5h1M94 171.5h1M14 172.5h1M33 172.5h1M62 172.5h1M74 172.5h1M85 172.5h1M9 173.5h1M14 173.5h1M60 173.5h1M67 173.5h1M97 173.5h1M99 173.5h1M14 174.5h1M53 174.5h2M59 174.5h1M67 174.5h1M73 174.5h1M78 174.5h2M97 174.5h1M5 175.5h4M10 175.5h2M14 175.5h1M26 175.5h1M64 175.5h3M74 175.5h2M99 175.5h1M16 176.5h1M69 176.5h2M96 176.5h1M99 176.5h1M13 177.5h1M58 177.5h2M68 177.5h3M75 177.5h1M77 177.5h1M96 177.5h1M99 177.5h1M5 178.5h1M13 178.5h1M69 178.5h2M99 178.5h1M6 179.5h3M15 179.5h1M28 179.5h1M64 179.5h1M74 179.5h1M8 180.5h1M13 180.5h1M66 180.5h1M6 182.5h1M10 182.5h3M24 182.5h2M28 182.5h1M33 182.5h1M41 182.5h1M44 182.5h1M99 182.5h1M13 183.5h1M24 183.5h2M38 183.5h1M43 183.5h1M59 183.5h1M61 183.5h1M67 183.5h2M73 183.5h2M91 183.5h1M5 184.5h1M14 184.5h1M25 184.5h1M92 184.5h4M6 185.5h1M14 185.5h1M22 185.5h1M88 185.5h1M96 185.5h1M15 186.5h1M26 186.5h1M59 186.5h1M81 186.5h1M88 186.5h1M15 187.5h1M17 187.5h2M24 187.5h1M27 187.5h1M88 187.5h1M15 188.5h1M17 188.5h1M88 188.5h1M91 188.5h1M15 189.5h1M18 189.5h1M80 189.5h1M88 189.5h1M91 189.5h1M97 189.5h1M70 190.5h1M73 190.5h1M88 190.5h1M98 190.5h1M16 191.5h2M35 191.5h1M69 191.5h1M88 191.5h1M93 191.5h2M99 191.5h1M88 192.5h1M94 192.5h2M99 192.5h1M69 193.5h1M75 193.5h1M88 193.5h1M94 193.5h1M35 194.5h1M70 194.5h1M93 194.5h1M21 195.5h2M73 195.5h1M81 195.5h1M94 195.5h1M98 195.5h1M4 196.5h1M16 196.5h1M25 196.5h1M51 196.5h1M81 196.5h1M94 196.5h1M98 196.5h1M100 196.5h5M0 197.5h4M6 197.5h1M27 197.5h2M53 197.5h1M71 197.5h1M0 198.5h1M4 198.5h1M47 198.5h1M0 199.5h2M3 199.5h1M44 199.5h1M49 199.5h3M73 199.5h1M94 199.5h1M102 199.5h1M2 200.5h1M51 200.5h1M93 200.5h2M102 200.5h2M21 201.5h1M38 201.5h1M76 201.5h1M101 201.5h3M8 202.5h1M61 202.5h2M64 202.5h1M77 202.5h1M92 202.5h1M9 203.5h1M13 203.5h1M63 203.5h1M77 203.5h1M99 203.5h2M1 204.5h2M9 204.5h2M65 204.5h1M92 204.5h1M94 204.5h1M9 205.5h1M11 205.5h1M13 205.5h1M85 205.5h1M93 205.5h2M102 205.5h2M22 206.5h1M45 206.5h1M48 206.5h2M85 206.5h1M90 206.5h5M102 206.5h2M41 207.5h1M48 207.5h1M102 207.5h2M6 208.5h1M18 208.5h1M40 208.5h1M48 208.5h1M84 208.5h1M96 208.5h1M102 208.5h1M10 209.5h3M48 209.5h2M88 209.5h2M6 210.5h4M11 210.5h5M90 210.5h1M101 210.5h1M103 210.5h2M12 211.5h6M24 211.5h1M33 211.5h1M36 211.5h2M101 211.5h1M103 211.5h2M15 212.5h1M33 212.5h1M69 212.5h1M101 212.5h1M104 212.5h1M10 213.5h1M14 213.5h2M43 213.5h1M100 213.5h1M12 214.5h2M24 214.5h2M97 214.5h1M22 215.5h1M25 215.5h1M28 215.5h1M32 216.5h1"/>
<path stroke="#d5ff2a" d="M54 5.5h1M35 6.5h1M33 7.5h2M43 7.5h2M61 7.5h1M54 8.5h1M62 8.5h1M20 9.5h1M97 9.5h2M101 9.5h4M67 10.5h1M73 10.5h1M93 10.5h1M74 12.5h1M78 12.5h1M4 13.5h1M18 13.5h1M72 13.5h1M17 14.5h1M60 14.5h1M62 14.5h1M88 14.5h3M97 14.5h1M99 14.5h1M17 16.5h1M80 17.5h1M68 18.5h1M14 19.5h1M51 19.5h1M56 19.5h1M72 19.5h1M76 19.5h1M16 20.5h2M64 20.5h1M68 20.5h2M73 20.5h1M63 21.5h1M63 22.5h1M60 24.5h1M8 25.5h1M26 25.5h2M80 25.5h3M5 26.5h1M13 26.5h1M16 26.5h1M83 26.5h1M89 26.5h1M13 27.5h1M26 27.5h1M27 28.5h1M31 28.5h3M83 28.5h1M90 28.5h1M77 29.5h1M84 29.5h1M91 29.5h2M99 29.5h1M14 30.5h1M93 30.5h1M81 31.5h1M72 32.5h1M74 32.5h1M83 32.5h1M88 32.5h1M30 34.5h1M83 34.5h1M94 34.5h1M60 35.5h2M59 36.5h1M59 37.5h1M97 37.5h1M65 38.5h1M87 38.5h7M96 39.5h1M16 40.5h1M18 40.5h1M53 40.5h1M60 40.5h1M75 40.5h1M96 40.5h1M60 41.5h1M75 41.5h1M85 41.5h1M95 41.5h1M60 42.5h1M60 43.5h1M67 43.5h1M60 44.5h1M70 44.5h2M75 44.5h1M99 44.5h1M96 46.5h1M68 47.5h1M96 47.5h1M17 48.5h1M70 48.5h3M80 49.5h1M16 50.5h2M49 50.5h2M15 51.5h2M50 51.5h1M63 51.5h1M80 51.5h1M90 51.5h1M62 52.5h1M75 52.5h2M81 52.5h1M84 52.5h1M61 53.5h1M75 53.5h2M82 53.5h1M100 53.5h1M60 54.5h1M8 55.5h1M68 55.5h4M89 55.5h1M8 56.5h1M58 56.5h1M60 56.5h1M75 56.5h1M83 56.5h1M85 56.5h2M44 57.5h1M94 58.5h1M55 59.5h1M77 59.5h3M99 59.5h1M103 59.5h2M25 60.5h1M62 60.5h1M74 60.5h1M25 61.5h1M63 61.5h1M68 61.5h1M4 62.5h1M58 62.5h2M63 62.5h1M68 62.5h1M87 62.5h1M100 62.5h1M16 63.5h1M58 63.5h2M20 64.5h1M54 64.5h1M69 64.5h1M1 65.5h2M62 65.5h1M71 65.5h1M81 65.5h1M8 66.5h1M71 66.5h1M102 66.5h1M7 67.5h1M9 67.5h1M102 67.5h2M56 68.5h1M92 68.5h1M102 68.5h1M57 69.5h1M81 69.5h1M80 70.5h1M95 70.5h1M98 70.5h1M94 71.5h1M74 72.5h1M93 72.5h1M88 73.5h1M92 73.5h1M81 74.5h1M102 74.5h1M102 75.5h2M8 76.5h1M25 76.5h1M102 76.5h1M25 77.5h2M93 77.5h1M70 78.5h1M90 78.5h2M16 79.5h2M95 79.5h2M99 79.5h1M101 80.5h1M14 81.5h1M70 81.5h1M87 81.5h1M101 81.5h1M104 81.5h1M35 82.5h1M87 82.5h1M14 83.5h1M89 84.5h1M77 85.5h1M81 85.5h1M91 85.5h1M91 86.5h1M78 87.5h1M90 88.5h1M102 88.5h1M92 89.5h1M96 89.5h1M100 89.5h1M36 90.5h1M17 92.5h1M23 93.5h1M20 94.5h1M26 94.5h1M39 94.5h1M17 95.5h1M26 95.5h1M40 95.5h1M45 95.5h1M25 96.5h1M38 96.5h2M39 97.5h1M87 97.5h1M12 98.5h1M43 99.5h1M5 100.5h1M40 101.5h1M88 101.5h2M8 102.5h1M8 104.5h1M37 105.5h1M10 106.5h1M45 107.5h1M83 107.5h1M99 107.5h1M45 108.5h1M2 109.5h1M100 109.5h1M10 110.5h1M98 110.5h1M100 110.5h1M19 111.5h1M85 111.5h1M100 111.5h1M8 112.5h1M100 112.5h1M0 113.5h1M9 113.5h2M78 113.5h1M85 113.5h1M91 113.5h1M100 113.5h1M0 114.5h4M77 114.5h1M88 114.5h1M90 114.5h1M99 114.5h2M77 115.5h1M82 115.5h1M14 116.5h1M44 116.5h1M78 116.5h1M81 116.5h1M97 117.5h1M99 117.5h1M6 119.5h1M42 119.5h1M98 125.5h1M94 129.5h1M17 130.5h1M18 131.5h1M37 131.5h1M52 132.5h1M16 133.5h1M18 133.5h1M50 133.5h1M38 134.5h1M0 135.5h4M29 135.5h1M7 136.5h1M97 137.5h1M36 138.5h1M57 138.5h1M96 138.5h3M2 139.5h1M45 139.5h1M71 139.5h1M96 139.5h1M1 140.5h1M42 140.5h2M57 140.5h1M0 141.5h2M3 141.5h1M16 141.5h1M4 142.5h1M50 142.5h1M5 143.5h2M39 143.5h1M50 143.5h1M9 144.5h1M26 146.5h1M29 146.5h1M95 146.5h1M97 146.5h1M30 147.5h1M35 147.5h1M41 147.5h1M67 147.5h2M81 147.5h1M95 147.5h1M97 147.5h1M11 148.5h1M30 148.5h1M35 148.5h1M38 148.5h1M62 148.5h1M71 148.5h1M81 149.5h1M79 150.5h2M44 151.5h1M50 151.5h2M72 151.5h1M2 152.5h1M6 152.5h1M51 152.5h2M72 152.5h1M88 152.5h1M6 153.5h2M52 153.5h1M85 153.5h1M14 154.5h1M44 154.5h1M59 154.5h2M84 154.5h1M25 155.5h2M58 155.5h1M72 155.5h1M96 155.5h2M27 156.5h1M43 156.5h1M84 156.5h1M14 157.5h1M42 157.5h1M58 157.5h4M72 157.5h1M99 157.5h1M13 158.5h1M41 158.5h1M49 158.5h2M55 158.5h1M64 158.5h2M71 158.5h1M99 158.5h1M0 159.5h1M41 159.5h1M49 159.5h2M54 159.5h1M66 159.5h1M69 159.5h1M41 160.5h1M54 160.5h2M65 160.5h1M96 160.5h1M42 161.5h1M69 161.5h1M14 162.5h1M35 162.5h1M47 162.5h1M59 163.5h2M59 164.5h2M71 164.5h1M14 165.5h1M20 165.5h1M29 165.5h1M43 165.5h1M6 166.5h1M24 166.5h1M31 166.5h1M13 167.5h1M65 167.5h1M68 167.5h1M95 167.5h1M97 167.5h1M5 168.5h1M13 168.5h1M35 168.5h1M41 168.5h1M44 168.5h1M55 168.5h1M66 168.5h2M99 168.5h1M14 169.5h2M25 169.5h1M66 169.5h2M6 170.5h1M28 170.5h3M56 170.5h5M65 170.5h1M78 170.5h1M100 170.5h1M56 171.5h1M76 171.5h1M100 171.5h1M50 172.5h1M56 172.5h1M67 172.5h1M8 173.5h1M22 173.5h1M39 173.5h1M51 173.5h1M88 173.5h1M1 174.5h2M8 174.5h2M52 174.5h1M55 174.5h1M63 174.5h1M74 174.5h1M85 174.5h1M88 174.5h1M99 174.5h1M12 175.5h2M24 175.5h1M41 175.5h1M57 175.5h1M87 175.5h1M14 176.5h2M57 176.5h1M4 177.5h1M16 177.5h1M34 177.5h1M76 177.5h1M80 177.5h1M4 178.5h1M63 178.5h1M96 178.5h1M13 179.5h2M42 179.5h1M96 179.5h1M7 180.5h1M29 180.5h1M65 180.5h1M88 180.5h1M96 180.5h1M8 181.5h1M29 181.5h1M44 181.5h1M60 181.5h1M66 181.5h1M87 181.5h1M90 181.5h1M9 182.5h1M40 182.5h1M87 182.5h1M26 183.5h2M33 183.5h1M42 183.5h1M44 183.5h1M57 183.5h2M87 183.5h1M97 183.5h2M13 184.5h1M35 184.5h1M56 184.5h1M60 184.5h1M96 184.5h1M5 185.5h1M15 185.5h7M4 186.5h1M16 186.5h3M57 186.5h1M80 186.5h1M82 186.5h1M16 187.5h1M19 187.5h1M78 187.5h1M16 188.5h1M19 188.5h1M24 188.5h1M29 188.5h1M78 188.5h1M97 188.5h1M17 189.5h1M19 189.5h1M83 189.5h1M15 190.5h1M17 190.5h3M36 192.5h1M75 192.5h1M36 193.5h1M76 193.5h5M99 193.5h1M31 194.5h2M69 194.5h1M81 194.5h1M88 194.5h1M99 194.5h1M30 195.5h1M52 195.5h1M60 195.5h1M67 195.5h3M72 195.5h1M89 195.5h2M93 195.5h1M99 195.5h1M5 196.5h2M19 196.5h1M53 196.5h1M73 196.5h1M99 196.5h1M4 197.5h2M15 197.5h2M72 197.5h2M94 197.5h1M1 198.5h3M44 198.5h1M48 198.5h1M50 198.5h1M54 198.5h1M56 198.5h1M73 198.5h2M82 198.5h1M94 198.5h1M2 199.5h1M92 199.5h2M44 200.5h1M75 200.5h1M83 200.5h1M47 201.5h1M66 201.5h1M74 201.5h1M93 201.5h2M5 202.5h1M94 202.5h1M11 203.5h2M22 203.5h1M61 203.5h2M64 203.5h1M75 203.5h1M92 203.5h1M94 203.5h1M0 204.5h1M3 204.5h1M11 204.5h1M13 204.5h1M66 204.5h2M85 204.5h1M93 204.5h1M12 205.5h1M25 205.5h1M34 205.5h2M48 205.5h1M8 206.5h1M86 206.5h1M88 206.5h2M7 207.5h1M49 207.5h1M95 207.5h1M49 208.5h1M5 209.5h1M16 209.5h1M85 209.5h3M97 209.5h1M10 210.5h1M16 210.5h1M34 210.5h2M38 210.5h1M100 210.5h1M7 211.5h5M18 211.5h1M25 211.5h1M69 211.5h1M71 211.5h1M91 211.5h1M0 212.5h15M19 212.5h1M23 212.5h1M11 213.5h3M19 213.5h1M23 213.5h1M93 213.5h1M18 214.5h1M26 214.5h1M34 214.5h1M95 214.5h2M18 215.5h1M21 215.5h1M23 215.5h2M44 215.5h1M30 216.5h1"/>
<path stroke="#dfff20" d="M41 5.5h1M55 5.5h1M42 6.5h1M31 7.5h2M45 7.5h1M49 7.5h3M55 8.5h1M53 9.5h1M67 9.5h1M95 9.5h2M20 10.5h1M53 10.5h1M20 11.5h1M34 11.5h2M54 11.5h2M74 11.5h1M78 11.5h1M93 11.5h1M20 12.5h1M34 12.5h1M0 13.5h1M68 13.5h2M71 13.5h1M74 13.5h1M92 13.5h1M6 14.5h1M24 14.5h1M55 14.5h3M59 14.5h1M63 14.5h1M85 14.5h1M87 14.5h1M91 14.5h1M7 15.5h1M17 15.5h1M29 15.5h1M44 15.5h2M65 15.5h1M96 15.5h1M24 16.5h1M44 16.5h2M66 16.5h1M83 16.5h1M96 16.5h1M7 17.5h1M29 17.5h1M43 17.5h2M67 17.5h1M73 17.5h1M81 17.5h1M97 17.5h2M7 18.5h1M27 18.5h1M72 18.5h1M78 18.5h1M10 19.5h1M13 19.5h1M57 19.5h3M69 19.5h1M71 19.5h1M15 20.5h1M55 20.5h1M60 20.5h1M65 20.5h3M36 21.5h1M53 21.5h2M6 23.5h2M64 23.5h1M14 25.5h1M25 25.5h1M72 25.5h1M77 25.5h3M98 25.5h1M71 26.5h1M88 26.5h1M33 27.5h1M43 27.5h1M64 27.5h1M17 28.5h1M75 28.5h1M85 28.5h1M33 29.5h1M72 29.5h1M75 29.5h1M75 30.5h1M78 30.5h1M54 31.5h2M60 31.5h1M68 31.5h1M78 31.5h1M93 31.5h1M68 32.5h1M91 32.5h3M84 33.5h1M31 34.5h1M30 35.5h1M59 35.5h1M62 35.5h1M82 35.5h1M95 35.5h1M7 36.5h2M63 37.5h1M59 38.5h1M64 38.5h1M71 38.5h1M86 38.5h1M94 38.5h4M17 39.5h2M75 39.5h1M52 40.5h1M54 40.5h1M17 41.5h1M52 41.5h3M75 42.5h1M75 43.5h1M93 43.5h1M68 44.5h2M76 44.5h1M88 44.5h1M92 44.5h1M97 44.5h1M60 45.5h1M68 45.5h1M96 45.5h1M100 45.5h1M60 46.5h1M68 46.5h1M5 47.5h1M8 47.5h1M99 47.5h1M96 48.5h2M50 49.5h1M51 50.5h1M80 50.5h1M49 51.5h1M85 51.5h1M91 52.5h1M6 53.5h1M97 54.5h1M59 55.5h1M95 55.5h1M43 56.5h2M61 56.5h4M84 56.5h1M87 56.5h1M8 57.5h1M60 57.5h1M75 57.5h1M82 57.5h1M8 58.5h1M60 58.5h1M5 59.5h1M25 59.5h1M73 59.5h1M76 59.5h1M97 59.5h2M6 60.5h1M26 60.5h1M99 60.5h1M26 61.5h1M87 61.5h1M25 62.5h1M74 62.5h1M86 62.5h1M88 62.5h2M63 63.5h1M87 63.5h2M100 63.5h1M17 64.5h1M53 64.5h1M99 64.5h1M0 65.5h1M3 65.5h1M24 65.5h2M7 66.5h1M9 66.5h1M25 66.5h1M62 66.5h1M82 66.5h1M62 67.5h1M94 67.5h1M62 68.5h1M91 68.5h1M61 69.5h1M96 70.5h2M99 71.5h1M34 72.5h1M69 72.5h1M98 72.5h1M34 73.5h1M75 73.5h1M89 74.5h2M7 75.5h1M71 75.5h1M82 75.5h1M7 76.5h1M9 76.5h1M27 76.5h1M61 76.5h1M71 76.5h1M93 76.5h1M82 77.5h1M25 78.5h1M88 78.5h1M92 78.5h1M18 79.5h1M33 79.5h2M97 79.5h2M32 80.5h1M35 80.5h1M87 80.5h1M100 80.5h1M51 81.5h2M74 81.5h1M95 81.5h1M100 81.5h1M32 82.5h1M52 82.5h1M34 83.5h1M78 83.5h2M77 84.5h1M77 86.5h1M81 87.5h1M7 88.5h1M43 88.5h1M93 89.5h1M95 89.5h1M101 89.5h1M104 89.5h1M37 90.5h1M91 90.5h1M17 91.5h1M38 91.5h1M11 93.5h2M20 93.5h1M26 93.5h1M34 93.5h1M91 93.5h1M34 94.5h1M91 94.5h1M4 95.5h1M91 95.5h1M18 96.5h1M37 96.5h1M13 97.5h1M0 99.5h1M4 99.5h1M37 99.5h1M87 100.5h1M5 101.5h1M7 101.5h1M11 101.5h1M23 101.5h1M11 102.5h1M19 102.5h1M23 102.5h1M11 103.5h1M39 103.5h1M5 104.5h1M11 104.5h1M20 104.5h1M22 104.5h1M35 104.5h1M4 105.5h1M36 105.5h1M38 105.5h1M45 106.5h1M83 106.5h1M10 107.5h1M44 107.5h1M46 107.5h1M98 107.5h1M100 107.5h1M10 108.5h1M37 108.5h2M44 108.5h1M46 108.5h1M83 108.5h1M100 108.5h1M10 109.5h1M45 109.5h1M101 110.5h1M15 111.5h1M89 111.5h1M4 112.5h1M14 112.5h1M52 112.5h1M91 112.5h1M38 113.5h1M4 114.5h1M33 114.5h1M87 114.5h1M91 114.5h1M98 114.5h1M101 114.5h1M104 114.5h1M35 115.5h2M64 115.5h1M100 115.5h1M8 116.5h1M8 117.5h1M14 117.5h2M44 119.5h1M90 119.5h1M89 120.5h2M53 123.5h2M97 125.5h1M99 126.5h1M7 127.5h2M99 127.5h1M8 128.5h1M99 128.5h1M16 130.5h1M18 130.5h1M96 130.5h2M35 131.5h1M35 132.5h1M50 132.5h1M38 133.5h1M52 133.5h1M42 134.5h1M44 134.5h1M4 135.5h1M48 135.5h1M48 137.5h1M98 137.5h1M54 138.5h1M78 139.5h1M95 139.5h1M97 139.5h1M2 140.5h1M40 140.5h2M78 140.5h1M2 141.5h1M17 141.5h1M39 141.5h1M56 141.5h1M10 142.5h1M54 142.5h1M71 142.5h1M14 143.5h1M18 143.5h1M53 143.5h1M18 144.5h1M42 144.5h2M50 144.5h1M58 144.5h2M74 144.5h1M44 145.5h1M53 145.5h1M57 145.5h1M60 145.5h1M96 145.5h1M17 146.5h1M25 146.5h1M50 146.5h1M54 146.5h1M56 146.5h1M11 147.5h1M40 147.5h1M49 147.5h1M61 147.5h1M66 147.5h1M69 147.5h1M77 147.5h1M42 148.5h1M77 148.5h1M96 148.5h2M96 149.5h1M14 150.5h1M19 150.5h1M43 150.5h1M72 150.5h1M96 150.5h1M34 151.5h1M96 151.5h2M7 152.5h1M45 152.5h1M86 152.5h1M96 152.5h1M8 153.5h1M72 153.5h1M96 153.5h1M10 154.5h1M72 154.5h1M96 154.5h1M14 155.5h1M23 155.5h2M27 155.5h1M61 155.5h1M88 155.5h1M12 156.5h3M58 156.5h1M61 156.5h1M87 156.5h1M27 157.5h1M84 157.5h1M15 158.5h1M1 159.5h3M12 159.5h1M55 159.5h1M64 159.5h2M95 159.5h1M4 160.5h1M11 160.5h1M97 160.5h1M25 161.5h1M35 161.5h1M23 162.5h1M34 162.5h1M36 162.5h1M35 163.5h2M47 163.5h1M72 163.5h1M87 163.5h2M48 164.5h1M87 164.5h2M13 165.5h1M44 165.5h1M51 165.5h1M13 166.5h1M41 166.5h1M45 166.5h1M5 167.5h1M33 167.5h1M45 167.5h1M51 167.5h1M24 168.5h1M76 168.5h1M5 169.5h1M37 169.5h1M78 169.5h1M100 169.5h1M13 170.5h1M18 170.5h1M27 170.5h1M38 170.5h1M66 170.5h1M60 171.5h1M63 171.5h1M77 171.5h1M60 172.5h1M88 172.5h1M95 172.5h1M10 173.5h1M56 173.5h1M74 173.5h1M0 174.5h1M3 174.5h1M10 174.5h1M23 174.5h1M40 174.5h1M56 174.5h1M58 174.5h1M66 174.5h1M77 174.5h1M80 174.5h1M25 175.5h1M28 175.5h1M86 175.5h1M88 175.5h1M96 175.5h1M0 177.5h4M14 177.5h1M42 177.5h1M60 177.5h1M62 177.5h1M3 178.5h1M14 178.5h2M42 178.5h1M75 178.5h1M29 179.5h1M63 179.5h1M34 180.5h1M61 180.5h4M87 180.5h1M89 180.5h1M100 180.5h1M7 181.5h1M33 181.5h1M63 181.5h1M75 181.5h1M96 181.5h1M100 181.5h1M8 182.5h1M59 182.5h1M66 182.5h1M75 182.5h1M91 182.5h1M96 182.5h1M6 183.5h1M12 183.5h1M39 183.5h1M41 183.5h1M56 183.5h1M62 183.5h1M69 183.5h1M72 183.5h1M75 183.5h1M92 183.5h1M96 183.5h1M6 184.5h1M12 184.5h1M26 184.5h1M34 184.5h1M36 184.5h1M74 184.5h1M87 184.5h1M97 184.5h1M4 185.5h1M26 185.5h1M56 185.5h1M60 185.5h1M0 186.5h1M3 186.5h1M19 186.5h1M23 186.5h1M79 186.5h1M83 186.5h1M28 187.5h1M58 187.5h2M97 187.5h1M84 188.5h1M16 189.5h1M32 189.5h1M44 189.5h1M79 189.5h1M87 189.5h1M16 190.5h1M20 190.5h1M22 190.5h1M34 190.5h1M69 190.5h1M74 190.5h1M87 190.5h1M99 190.5h1M36 191.5h1M75 191.5h1M81 193.5h1M51 195.5h1M53 195.5h1M63 195.5h1M70 195.5h2M91 195.5h1M100 195.5h1M70 196.5h1M72 196.5h1M19 197.5h1M26 197.5h1M29 197.5h1M50 197.5h1M57 197.5h1M28 198.5h1M49 198.5h1M55 198.5h1M91 199.5h1M36 200.5h1M75 201.5h1M83 201.5h1M7 202.5h1M33 202.5h1M48 202.5h1M65 202.5h1M67 202.5h1M75 202.5h2M83 202.5h1M4 203.5h1M33 203.5h1M65 203.5h1M76 203.5h1M83 203.5h1M12 204.5h1M23 204.5h1M84 204.5h1M36 205.5h1M47 205.5h1M26 206.5h1M87 206.5h1M23 207.5h1M85 207.5h1M5 208.5h1M39 209.5h1M5 210.5h1M36 210.5h2M99 210.5h1M6 211.5h1M70 211.5h1M100 211.5h1M70 212.5h2M92 212.5h1M100 212.5h1M26 213.5h1M33 213.5h1M99 213.5h1M23 214.5h1M42 214.5h1M44 214.5h1M19 215.5h2M42 215.5h1M31 216.5h1"/>
<path stroke="#eaff15" d="M37 5.5h1M53 6.5h1M22 7.5h1M30 7.5h1M35 7.5h1M46 7.5h3M52 7.5h1M34 8.5h2M53 8.5h1M35 9.5h2M56 9.5h1M74 9.5h1M76 9.5h1M35 10.5h1M94 10.5h1M35 12.5h1M93 12.5h1M1 13.5h1M3 13.5h1M19 13.5h1M34 13.5h1M43 13.5h1M61 13.5h1M67 13.5h1M70 13.5h1M18 14.5h1M43 14.5h2M54 14.5h1M58 14.5h1M86 14.5h1M43 15.5h1M53 15.5h1M75 15.5h1M84 15.5h1M100 15.5h1M7 16.5h1M43 16.5h1M52 16.5h1M74 16.5h1M100 16.5h1M18 17.5h1M51 17.5h1M82 17.5h2M96 17.5h1M99 17.5h1M18 18.5h1M26 18.5h1M43 18.5h1M9 19.5h1M11 19.5h2M18 19.5h1M70 19.5h1M77 19.5h1M18 20.5h1M51 20.5h1M74 20.5h1M17 21.5h1M37 21.5h1M52 21.5h1M60 21.5h1M90 21.5h1M60 22.5h1M90 22.5h2M18 23.5h1M60 23.5h1M68 23.5h1M90 23.5h1M25 24.5h1M59 24.5h1M13 25.5h1M15 25.5h2M32 25.5h1M69 25.5h1M76 25.5h1M83 25.5h1M99 25.5h2M103 25.5h2M25 26.5h1M43 26.5h1M70 26.5h1M6 27.5h1M75 27.5h1M87 27.5h1M90 27.5h1M13 28.5h1M74 28.5h1M84 28.5h1M34 29.5h1M76 29.5h1M82 29.5h1M100 29.5h5M18 30.5h1M34 30.5h1M54 30.5h1M81 30.5h1M18 31.5h1M62 31.5h1M69 31.5h1M71 31.5h1M75 31.5h1M16 32.5h1M61 32.5h1M67 32.5h1M69 32.5h3M89 32.5h2M94 32.5h2M100 32.5h5M72 33.5h2M85 33.5h1M93 33.5h1M29 34.5h1M59 34.5h2M77 34.5h1M29 35.5h1M63 35.5h1M77 35.5h1M6 36.5h1M9 36.5h1M63 36.5h1M78 36.5h2M96 36.5h1M7 37.5h3M67 37.5h2M96 37.5h1M98 38.5h7M16 39.5h1M53 39.5h1M59 39.5h1M97 39.5h1M15 40.5h1M19 40.5h1M55 40.5h1M16 41.5h1M18 41.5h1M55 41.5h1M53 42.5h2M86 42.5h1M94 42.5h1M87 43.5h1M99 43.5h1M100 44.5h1M72 45.5h1M89 45.5h3M81 46.5h1M100 46.5h1M61 47.5h1M72 47.5h1M81 47.5h1M95 47.5h1M62 48.5h1M98 48.5h1M16 49.5h1M49 49.5h1M51 49.5h1M63 49.5h1M63 50.5h1M2 51.5h1M51 51.5h1M91 51.5h1M15 52.5h1M5 53.5h1M54 53.5h2M99 53.5h1M8 54.5h1M55 54.5h1M90 54.5h1M65 56.5h1M74 56.5h1M88 56.5h1M94 56.5h1M42 57.5h1M57 57.5h1M75 58.5h1M81 58.5h1M8 59.5h1M18 59.5h1M54 59.5h1M61 59.5h1M69 59.5h1M74 59.5h2M80 59.5h1M96 59.5h1M7 60.5h1M63 60.5h1M75 60.5h1M0 61.5h4M86 61.5h1M88 61.5h3M26 62.5h1M25 63.5h1M68 63.5h1M73 63.5h1M86 63.5h1M21 64.5h1M23 64.5h2M63 64.5h1M72 64.5h1M77 64.5h2M96 64.5h3M4 65.5h1M82 65.5h1M24 66.5h1M68 66.5h1M75 66.5h1M25 67.5h1M68 67.5h1M75 67.5h1M82 67.5h1M52 68.5h1M68 68.5h1M90 68.5h1M52 69.5h2M56 69.5h1M62 69.5h1M68 69.5h1M72 69.5h1M88 69.5h1M68 70.5h1M73 70.5h1M78 70.5h1M35 71.5h1M70 74.5h1M88 74.5h1M91 74.5h1M94 74.5h1M8 75.5h1M26 75.5h1M93 75.5h1M6 76.5h1M18 76.5h1M60 76.5h1M62 76.5h1M9 77.5h1M18 77.5h1M24 77.5h1M24 78.5h1M51 80.5h1M76 80.5h2M95 80.5h1M19 81.5h1M79 81.5h1M99 81.5h1M19 82.5h1M51 82.5h1M71 82.5h1M33 83.5h1M7 87.5h2M10 87.5h2M43 87.5h1M90 87.5h1M6 88.5h1M8 88.5h1M88 89.5h1M94 89.5h1M102 89.5h2M96 90.5h4M16 91.5h1M18 91.5h1M91 91.5h1M16 92.5h1M19 92.5h1M25 92.5h1M91 92.5h1M6 93.5h3M10 93.5h1M13 93.5h1M16 93.5h1M39 93.5h1M4 94.5h1M14 94.5h1M22 94.5h1M43 94.5h1M14 95.5h1M23 95.5h1M4 96.5h1M17 96.5h1M24 96.5h1M26 96.5h1M36 96.5h1M46 96.5h1M87 96.5h1M4 97.5h1M97 97.5h2M4 98.5h1M38 98.5h1M45 98.5h1M1 99.5h3M36 99.5h1M23 100.5h1M34 100.5h1M42 100.5h1M19 101.5h1M41 101.5h1M5 102.5h1M5 103.5h1M8 103.5h1M19 103.5h1M23 103.5h1M7 104.5h1M39 104.5h1M0 105.5h1M3 105.5h1M11 105.5h1M4 106.5h1M11 106.5h1M44 106.5h1M101 106.5h3M82 107.5h1M84 107.5h1M0 108.5h1M3 108.5h1M39 108.5h1M39 109.5h1M44 109.5h1M83 109.5h1M11 110.5h1M39 110.5h1M44 110.5h1M97 110.5h1M102 110.5h3M11 111.5h1M90 111.5h1M11 112.5h1M20 112.5h1M53 112.5h1M4 113.5h1M8 113.5h1M5 114.5h5M19 114.5h1M102 114.5h2M8 115.5h1M13 115.5h1M18 115.5h1M34 115.5h1M65 115.5h1M90 115.5h2M13 116.5h1M17 116.5h1M42 116.5h1M82 116.5h1M100 116.5h1M13 117.5h1M96 117.5h1M8 118.5h1M41 118.5h1M58 118.5h2M90 118.5h1M7 119.5h1M52 119.5h1M89 119.5h1M91 119.5h1M91 120.5h1M50 121.5h1M89 121.5h3M54 122.5h1M52 123.5h1M54 124.5h2M55 125.5h1M99 125.5h1M94 126.5h1M9 127.5h1M43 127.5h1M7 128.5h1M9 128.5h1M43 128.5h1M34 130.5h2M46 130.5h1M95 130.5h1M98 130.5h1M2 131.5h1M15 131.5h1M15 132.5h1M38 132.5h1M35 133.5h1M2 134.5h1M49 134.5h2M25 135.5h1M39 135.5h1M46 135.5h2M49 135.5h1M8 136.5h1M75 136.5h1M56 137.5h1M77 137.5h1M96 137.5h1M99 137.5h1M78 138.5h1M95 138.5h1M99 138.5h1M27 139.5h1M51 139.5h1M58 139.5h1M98 139.5h1M100 139.5h5M35 140.5h1M44 140.5h1M79 140.5h1M15 141.5h1M50 141.5h1M57 141.5h1M77 141.5h1M18 142.5h1M39 142.5h1M65 142.5h2M34 143.5h1M66 143.5h1M72 143.5h1M75 143.5h1M84 143.5h2M34 144.5h1M40 144.5h2M53 144.5h1M73 144.5h1M75 144.5h1M84 144.5h2M10 145.5h1M18 145.5h1M50 145.5h1M97 145.5h1M14 146.5h1M30 146.5h1M47 146.5h1M78 146.5h3M98 146.5h1M70 147.5h1M82 147.5h1M98 147.5h1M82 148.5h1M95 148.5h1M11 149.5h1M16 149.5h3M30 149.5h1M97 149.5h1M10 150.5h1M34 150.5h1M97 150.5h1M8 151.5h1M87 151.5h2M95 151.5h1M95 152.5h1M97 152.5h1M21 153.5h1M35 153.5h1M44 153.5h1M95 153.5h1M97 153.5h1M79 154.5h1M95 154.5h1M97 154.5h1M11 155.5h1M59 155.5h2M83 155.5h1M98 155.5h1M59 156.5h1M73 156.5h1M83 156.5h1M99 156.5h1M41 157.5h1M73 157.5h1M83 157.5h1M85 157.5h1M95 157.5h1M14 158.5h1M27 158.5h1M72 158.5h1M83 158.5h2M95 158.5h1M15 159.5h1M27 159.5h1M40 159.5h1M70 159.5h1M83 159.5h2M15 160.5h1M69 160.5h1M83 160.5h2M95 160.5h1M5 161.5h1M10 161.5h1M26 161.5h1M34 161.5h1M36 161.5h1M96 161.5h1M43 162.5h2M46 162.5h1M71 162.5h1M87 162.5h1M34 163.5h1M13 164.5h1M27 164.5h1M72 164.5h1M86 164.5h1M11 165.5h2M24 165.5h1M42 165.5h1M86 165.5h2M17 166.5h2M51 166.5h1M84 166.5h3M69 167.5h1M98 167.5h1M16 169.5h1M42 169.5h2M93 169.5h1M79 170.5h1M93 170.5h1M49 171.5h1M64 171.5h1M66 171.5h1M78 171.5h1M86 171.5h2M7 172.5h1M63 172.5h1M75 172.5h1M100 172.5h1M33 173.5h1M50 173.5h1M63 173.5h1M96 173.5h1M100 173.5h1M4 174.5h2M7 174.5h1M11 174.5h1M13 174.5h1M57 174.5h1M75 174.5h2M96 174.5h1M100 174.5h1M33 175.5h1M53 175.5h1M56 175.5h1M100 175.5h1M42 176.5h1M100 176.5h1M15 177.5h1M29 177.5h1M57 177.5h1M61 177.5h1M100 177.5h1M0 178.5h3M29 178.5h1M79 178.5h1M100 178.5h1M75 179.5h1M87 179.5h2M100 179.5h1M43 180.5h1M75 180.5h1M7 182.5h1M29 182.5h1M45 182.5h1M63 182.5h1M100 182.5h1M9 183.5h3M28 183.5h1M40 183.5h1M45 183.5h1M55 183.5h1M66 183.5h1M71 183.5h1M95 183.5h1M99 183.5h1M7 184.5h5M37 184.5h1M43 184.5h2M55 184.5h1M61 184.5h1M66 184.5h2M73 184.5h1M75 184.5h1M0 185.5h4M87 185.5h1M97 185.5h1M1 186.5h2M20 186.5h1M27 186.5h1M60 186.5h1M78 186.5h1M87 186.5h1M97 186.5h1M45 187.5h1M60 187.5h1M84 187.5h1M87 187.5h1M30 188.5h1M44 188.5h2M87 188.5h1M23 189.5h1M43 189.5h1M84 189.5h1M98 189.5h1M21 190.5h1M43 190.5h2M81 190.5h2M55 191.5h1M68 191.5h1M87 191.5h1M54 192.5h2M68 192.5h1M76 192.5h1M54 193.5h1M36 194.5h1M53 194.5h1M66 195.5h1M88 195.5h1M92 195.5h1M101 195.5h4M30 196.5h1M50 196.5h1M58 196.5h1M71 196.5h1M93 196.5h1M41 197.5h1M44 197.5h3M27 198.5h1M29 198.5h1M43 198.5h1M93 198.5h1M43 199.5h1M74 199.5h1M83 199.5h1M90 199.5h1M21 200.5h1M35 200.5h1M74 200.5h1M87 200.5h1M33 201.5h1M46 201.5h1M86 201.5h1M6 202.5h1M22 202.5h1M93 202.5h1M8 203.5h1M67 203.5h1M85 203.5h1M93 203.5h1M33 204.5h1M48 204.5h1M2 205.5h1M8 205.5h1M44 206.5h1M6 207.5h1M26 207.5h1M40 207.5h1M91 207.5h4M24 208.5h2M85 208.5h1M90 209.5h1M17 210.5h1M33 210.5h1M5 211.5h1M26 212.5h1M94 213.5h1M19 214.5h1M22 214.5h1M27 214.5h1M43 214.5h1M33 215.5h1M43 215.5h1"/>
<path stroke="#f4ff0b" d="M36 6.5h1M57 6.5h1M29 7.5h1M53 7.5h1M60 7.5h1M21 8.5h1M33 8.5h1M36 8.5h1M43 8.5h1M49 8.5h1M34 9.5h1M75 9.5h1M34 10.5h1M36 10.5h1M56 10.5h1M74 10.5h1M77 10.5h1M101 10.5h4M43 11.5h1M49 11.5h2M53 11.5h1M21 12.5h1M43 12.5h1M49 12.5h2M54 12.5h1M2 13.5h1M26 13.5h1M35 13.5h1M44 13.5h1M60 13.5h1M77 13.5h1M93 13.5h1M97 13.5h3M45 14.5h1M53 14.5h1M64 14.5h1M74 14.5h1M76 14.5h1M92 14.5h1M96 14.5h1M100 14.5h1M18 15.5h1M46 15.5h1M18 16.5h1M84 16.5h1M45 17.5h1M84 17.5h1M95 17.5h1M100 17.5h1M28 18.5h1M44 18.5h1M79 18.5h1M84 18.5h2M93 18.5h2M8 19.5h1M43 19.5h1M92 19.5h1M16 21.5h1M18 21.5h1M35 21.5h1M55 21.5h1M68 21.5h1M73 21.5h1M89 21.5h1M91 21.5h1M99 21.5h1M17 22.5h3M36 22.5h1M53 22.5h2M68 22.5h1M89 22.5h1M5 23.5h1M8 23.5h1M17 23.5h1M19 23.5h1M65 23.5h1M89 23.5h1M91 23.5h1M9 24.5h1M17 24.5h2M26 24.5h1M66 24.5h1M68 24.5h1M73 24.5h1M90 24.5h1M12 25.5h1M17 25.5h1M58 25.5h1M89 25.5h1M93 25.5h1M101 25.5h2M12 26.5h1M17 26.5h1M33 26.5h1M58 26.5h1M65 26.5h1M72 26.5h1M75 26.5h1M90 26.5h1M17 27.5h1M42 27.5h1M44 27.5h1M71 27.5h1M84 27.5h1M34 28.5h1M43 28.5h1M72 28.5h2M92 28.5h1M59 29.5h1M83 29.5h1M9 30.5h1M33 30.5h1M55 30.5h1M68 30.5h1M71 30.5h1M94 30.5h1M14 31.5h1M19 31.5h1M53 31.5h1M67 31.5h1M70 31.5h1M83 31.5h1M15 32.5h1M17 32.5h1M60 32.5h1M96 32.5h4M30 33.5h2M67 33.5h5M77 33.5h1M86 33.5h1M58 34.5h1M61 34.5h4M93 34.5h1M31 35.5h1M58 35.5h1M94 35.5h1M77 36.5h1M80 36.5h1M6 37.5h1M66 37.5h1M89 37.5h3M72 38.5h2M15 39.5h1M52 39.5h1M54 39.5h1M76 39.5h1M59 40.5h1M76 40.5h1M84 40.5h1M59 41.5h1M76 41.5h1M96 41.5h1M52 42.5h1M55 42.5h1M59 42.5h1M76 42.5h1M52 43.5h3M59 43.5h1M76 43.5h1M98 43.5h1M100 43.5h1M53 44.5h2M59 44.5h1M77 44.5h1M93 44.5h1M101 44.5h1M104 44.5h1M8 45.5h1M52 45.5h3M59 45.5h1M92 45.5h1M104 45.5h1M4 46.5h1M52 46.5h3M59 46.5h1M72 46.5h1M95 46.5h1M53 47.5h1M59 47.5h2M69 47.5h1M50 48.5h2M57 48.5h1M95 48.5h1M52 49.5h1M15 50.5h1M18 50.5h1M52 50.5h1M87 50.5h2M0 51.5h2M3 51.5h1M17 51.5h1M52 51.5h3M62 51.5h1M81 51.5h1M0 52.5h4M16 52.5h1M50 52.5h1M53 52.5h3M82 52.5h2M7 53.5h1M91 53.5h1M54 54.5h1M96 54.5h1M58 55.5h1M57 56.5h1M66 56.5h1M73 56.5h1M43 58.5h1M71 58.5h1M26 59.5h1M62 59.5h1M95 59.5h1M5 60.5h1M8 60.5h1M16 60.5h1M68 60.5h1M76 60.5h4M98 60.5h1M4 61.5h1M20 61.5h1M52 61.5h1M75 61.5h1M91 61.5h1M99 61.5h1M52 62.5h1M85 62.5h1M90 62.5h1M21 63.5h1M24 63.5h1M52 63.5h1M85 63.5h1M89 63.5h1M22 64.5h1M25 64.5h1M52 64.5h1M68 64.5h1M79 64.5h5M95 64.5h1M23 65.5h1M53 65.5h3M63 65.5h1M68 65.5h1M83 65.5h1M6 66.5h1M26 66.5h1M52 66.5h2M63 66.5h1M6 67.5h1M52 67.5h2M63 67.5h1M8 68.5h1M53 68.5h1M63 68.5h1M54 69.5h1M63 69.5h2M76 69.5h1M52 70.5h3M34 71.5h1M36 71.5h1M68 71.5h1M74 71.5h1M87 71.5h1M98 71.5h1M37 72.5h1M37 73.5h1M69 73.5h1M79 73.5h1M93 73.5h1M96 73.5h1M92 74.5h2M6 75.5h1M9 75.5h1M18 75.5h1M25 75.5h1M27 75.5h1M61 75.5h1M10 76.5h1M17 76.5h1M24 76.5h1M28 76.5h1M8 77.5h1M17 77.5h1M27 77.5h1M70 77.5h1M89 77.5h1M17 78.5h2M26 78.5h1M15 79.5h1M24 79.5h2M87 79.5h1M50 80.5h1M52 80.5h1M96 80.5h1M99 80.5h1M50 81.5h1M75 81.5h1M78 81.5h1M96 81.5h3M72 82.5h1M78 82.5h2M19 83.5h1M77 83.5h1M80 83.5h1M87 83.5h1M88 84.5h1M17 85.5h2M90 85.5h1M9 87.5h1M12 87.5h1M18 87.5h1M44 87.5h1M77 87.5h1M9 88.5h4M18 88.5h1M42 88.5h1M44 88.5h1M79 88.5h2M89 88.5h1M18 89.5h1M17 90.5h2M92 90.5h1M95 90.5h1M100 90.5h5M24 92.5h1M34 92.5h1M5 93.5h1M9 93.5h1M14 93.5h1M0 94.5h1M16 94.5h1M21 94.5h1M42 94.5h1M44 94.5h1M87 95.5h1M14 96.5h1M91 96.5h1M97 96.5h2M17 97.5h2M25 97.5h1M38 97.5h1M46 97.5h1M91 97.5h1M25 98.5h1M91 98.5h1M97 98.5h1M12 99.5h1M25 99.5h1M35 99.5h1M91 99.5h1M20 100.5h3M24 100.5h1M6 101.5h1M16 101.5h1M18 101.5h1M34 101.5h1M16 102.5h1M6 104.5h1M43 104.5h1M1 105.5h2M43 105.5h2M83 105.5h1M43 106.5h1M46 106.5h1M82 106.5h1M84 106.5h1M104 106.5h1M11 107.5h1M38 107.5h2M97 107.5h1M101 107.5h4M11 108.5h1M36 108.5h1M82 108.5h1M84 108.5h1M11 109.5h1M35 109.5h1M43 109.5h1M46 109.5h1M96 109.5h1M43 110.5h1M45 110.5h1M14 111.5h1M20 111.5h1M33 111.5h1M43 111.5h2M99 111.5h1M43 112.5h1M51 112.5h1M79 112.5h1M11 113.5h1M13 113.5h1M81 113.5h1M92 113.5h1M13 114.5h1M64 114.5h2M82 114.5h1M86 114.5h1M43 115.5h2M63 115.5h1M89 115.5h1M77 116.5h1M90 116.5h2M96 116.5h1M16 117.5h1M45 117.5h1M90 117.5h2M100 117.5h1M13 118.5h3M45 118.5h1M89 118.5h1M91 118.5h1M95 118.5h3M8 119.5h1M15 119.5h1M92 119.5h2M102 119.5h2M0 120.5h5M15 120.5h2M88 120.5h1M92 120.5h1M102 120.5h2M15 121.5h2M54 121.5h1M88 121.5h1M92 121.5h1M102 121.5h2M50 122.5h1M90 122.5h1M101 122.5h4M101 123.5h4M99 124.5h6M96 125.5h1M6 127.5h1M42 127.5h1M6 128.5h1M44 128.5h1M93 128.5h1M16 129.5h3M93 129.5h1M99 129.5h1M1 130.5h3M33 130.5h1M36 130.5h1M45 130.5h1M94 130.5h1M1 131.5h1M3 131.5h1M19 131.5h1M34 131.5h1M38 131.5h1M2 132.5h1M19 132.5h1M15 133.5h1M19 133.5h1M49 133.5h1M0 134.5h2M3 134.5h1M35 134.5h1M5 135.5h1M35 135.5h1M40 135.5h1M35 136.5h1M49 136.5h1M74 136.5h1M76 136.5h1M98 136.5h1M10 137.5h1M57 137.5h1M24 138.5h1M29 138.5h1M47 138.5h1M58 138.5h1M100 138.5h1M11 139.5h1M28 139.5h1M79 139.5h1M99 139.5h1M58 140.5h1M70 140.5h1M70 141.5h1M78 141.5h3M14 142.5h1M34 142.5h1M67 142.5h1M76 142.5h1M84 142.5h2M10 143.5h1M58 143.5h1M65 143.5h1M67 143.5h1M82 143.5h2M86 143.5h1M60 144.5h1M83 144.5h1M86 144.5h1M34 145.5h1M74 145.5h2M84 145.5h3M95 145.5h1M98 145.5h1M11 146.5h1M55 146.5h1M61 146.5h1M67 146.5h1M77 146.5h1M81 146.5h1M84 146.5h2M16 147.5h1M62 147.5h1M65 147.5h1M83 147.5h4M39 148.5h1M85 148.5h2M98 148.5h1M25 149.5h1M34 149.5h1M72 149.5h1M77 149.5h1M95 149.5h1M98 149.5h1M28 150.5h1M78 150.5h1M81 150.5h1M87 150.5h1M95 150.5h1M98 150.5h1M13 151.5h1M20 151.5h1M86 151.5h1M98 151.5h1M13 152.5h1M34 152.5h1M44 152.5h1M73 152.5h1M89 152.5h1M9 153.5h1M73 153.5h1M79 153.5h1M89 153.5h1M73 154.5h1M77 154.5h2M80 154.5h1M28 155.5h1M43 155.5h1M73 155.5h1M95 155.5h1M28 156.5h1M60 156.5h1M95 156.5h1M86 157.5h1M40 158.5h1M85 158.5h1M13 159.5h1M85 159.5h1M99 159.5h1M0 160.5h1M3 160.5h1M27 160.5h1M34 160.5h2M40 160.5h1M85 160.5h1M98 160.5h1M14 161.5h1M37 161.5h1M41 161.5h1M70 161.5h1M84 161.5h3M95 161.5h1M97 161.5h1M24 162.5h1M37 162.5h1M45 162.5h1M86 162.5h1M88 162.5h1M97 162.5h1M13 163.5h1M23 163.5h1M86 163.5h1M97 163.5h2M22 164.5h1M26 164.5h1M28 164.5h1M73 164.5h1M9 165.5h2M30 165.5h1M45 165.5h1M70 165.5h1M85 165.5h1M88 165.5h1M14 166.5h1M32 166.5h1M69 166.5h1M83 166.5h1M40 167.5h1M70 167.5h1M72 167.5h2M83 167.5h2M14 168.5h1M40 168.5h1M77 168.5h1M38 169.5h1M41 169.5h1M79 169.5h1M5 170.5h1M26 170.5h1M49 170.5h1M104 170.5h1M6 171.5h1M12 171.5h2M31 171.5h1M57 171.5h1M59 171.5h1M65 171.5h1M79 171.5h1M104 171.5h1M11 172.5h1M39 172.5h1M49 172.5h1M7 173.5h1M59 173.5h1M66 173.5h1M78 173.5h2M84 173.5h1M6 174.5h1M33 174.5h1M51 174.5h1M64 174.5h2M52 175.5h1M54 175.5h2M29 176.5h1M33 176.5h1M46 176.5h1M56 176.5h1M87 176.5h2M95 176.5h1M46 177.5h1M87 177.5h1M95 177.5h1M58 178.5h2M62 178.5h1M76 178.5h3M87 178.5h2M95 178.5h1M30 179.5h1M62 179.5h1M86 179.5h1M30 180.5h1M44 180.5h1M60 180.5h1M86 180.5h1M104 180.5h1M30 181.5h1M45 181.5h1M59 181.5h1M65 181.5h1M86 181.5h1M104 181.5h1M32 182.5h1M49 182.5h7M58 182.5h1M76 182.5h1M7 183.5h2M54 183.5h1M70 183.5h1M76 183.5h1M93 183.5h2M27 184.5h1M33 184.5h1M38 184.5h1M41 184.5h2M45 184.5h1M68 184.5h1M98 184.5h1M45 185.5h1M65 185.5h2M80 185.5h3M21 186.5h2M45 186.5h2M56 186.5h1M64 186.5h1M77 186.5h1M84 186.5h1M20 187.5h1M23 187.5h1M44 187.5h1M46 187.5h1M57 187.5h1M63 187.5h2M77 187.5h1M20 188.5h1M23 188.5h1M43 188.5h1M46 188.5h1M63 188.5h1M77 188.5h1M102 188.5h3M20 189.5h1M45 189.5h1M78 189.5h1M99 189.5h1M101 189.5h4M35 190.5h1M75 190.5h1M80 190.5h1M83 190.5h1M100 190.5h1M104 190.5h1M43 191.5h1M54 191.5h1M100 191.5h1M77 192.5h1M80 192.5h1M87 192.5h1M100 192.5h1M53 193.5h1M55 193.5h1M68 193.5h1M82 193.5h1M100 193.5h1M52 194.5h1M54 194.5h1M61 194.5h1M68 194.5h1M82 194.5h1M100 194.5h1M33 195.5h2M54 195.5h1M59 195.5h1M64 195.5h2M82 195.5h1M24 196.5h1M88 196.5h2M30 197.5h1M40 197.5h1M42 197.5h2M54 197.5h1M82 197.5h1M93 197.5h1M26 198.5h1M42 198.5h1M92 198.5h1M26 199.5h4M89 199.5h1M34 200.5h1M37 200.5h1M66 202.5h1M39 203.5h1M48 203.5h1M66 203.5h1M84 203.5h1M4 204.5h1M8 204.5h1M0 205.5h2M3 205.5h1M37 205.5h1M46 205.5h1M7 206.5h1M21 207.5h2M86 207.5h1M90 207.5h1M19 208.5h1M88 208.5h3M95 208.5h1M17 209.5h1M96 209.5h1M24 210.5h2M91 210.5h1M98 210.5h1M4 211.5h1M19 211.5h1M23 211.5h1M20 212.5h1M93 212.5h1M20 213.5h1M22 213.5h1M98 213.5h1M20 214.5h2M33 214.5h1M29 215.5h1"/>
<path stroke="#ffff00" d="M23 7.5h1M28 7.5h1M36 7.5h1M42 7.5h1M32 8.5h1M44 8.5h1M50 8.5h3M56 8.5h1M61 8.5h1M37 9.5h1M43 9.5h1M62 9.5h1M66 9.5h1M43 10.5h1M49 10.5h2M95 10.5h1M98 10.5h3M21 11.5h1M36 11.5h1M51 11.5h2M94 11.5h1M51 12.5h3M55 12.5h1M66 12.5h1M75 12.5h1M20 13.5h1M25 13.5h1M27 13.5h1M53 13.5h3M62 13.5h1M75 13.5h1M100 13.5h1M5 14.5h1M73 14.5h1M75 14.5h1M74 15.5h1M90 15.5h2M95 15.5h1M104 15.5h1M46 16.5h1M95 16.5h1M101 16.5h1M104 16.5h1M42 17.5h1M85 17.5h1M92 17.5h3M101 17.5h1M103 17.5h2M6 18.5h1M42 18.5h1M69 18.5h1M83 18.5h1M92 18.5h1M95 18.5h10M7 19.5h1M78 19.5h1M93 19.5h1M99 19.5h6M14 20.5h1M36 20.5h1M56 20.5h1M75 20.5h1M91 20.5h2M98 20.5h7M15 21.5h1M64 21.5h1M80 21.5h1M92 21.5h1M98 21.5h1M100 21.5h5M16 22.5h1M37 22.5h1M64 22.5h1M73 22.5h1M92 22.5h1M99 22.5h2M16 23.5h1M25 23.5h1M73 23.5h1M92 23.5h1M13 24.5h1M16 24.5h1M19 24.5h1M24 24.5h1M27 24.5h4M67 24.5h1M82 24.5h1M89 24.5h1M91 24.5h1M9 25.5h1M11 25.5h1M18 25.5h1M24 25.5h1M66 25.5h1M73 25.5h1M75 25.5h1M88 25.5h1M90 25.5h1M8 26.5h1M42 26.5h1M44 26.5h1M5 27.5h1M7 27.5h1M12 27.5h1M34 27.5h1M58 27.5h1M72 27.5h1M71 28.5h1M91 28.5h1M13 29.5h1M18 29.5h1M32 29.5h1M63 29.5h1M71 29.5h1M8 30.5h1M53 30.5h1M69 30.5h1M76 30.5h2M9 31.5h1M20 31.5h1M34 31.5h1M82 31.5h1M94 31.5h1M18 32.5h3M54 32.5h2M62 32.5h1M75 32.5h1M77 32.5h1M58 33.5h4M66 33.5h1M74 33.5h1M87 33.5h3M92 33.5h1M28 34.5h1M32 34.5h1M65 34.5h2M6 35.5h3M28 35.5h1M43 35.5h1M64 35.5h1M5 36.5h1M10 36.5h1M58 36.5h1M10 37.5h1M64 37.5h2M77 37.5h2M88 37.5h1M92 37.5h2M95 37.5h1M74 38.5h4M85 38.5h1M19 39.5h1M55 39.5h1M84 39.5h1M98 39.5h1M101 39.5h4M14 40.5h1M56 40.5h1M97 40.5h1M15 41.5h1M19 41.5h1M51 41.5h1M56 41.5h1M84 41.5h1M51 42.5h1M56 42.5h1M85 42.5h1M95 42.5h1M102 42.5h3M55 43.5h1M97 43.5h1M101 43.5h4M52 44.5h1M55 44.5h1M78 44.5h1M87 44.5h1M96 44.5h1M102 44.5h2M4 45.5h1M55 45.5h1M69 45.5h1M71 45.5h1M81 45.5h1M88 45.5h1M95 45.5h1M101 45.5h3M55 46.5h2M58 46.5h1M104 46.5h1M18 47.5h1M51 47.5h2M54 47.5h5M70 47.5h2M100 47.5h1M49 48.5h1M52 48.5h5M58 48.5h2M61 48.5h1M81 48.5h1M99 48.5h1M48 49.5h1M53 49.5h4M62 49.5h1M96 49.5h1M48 50.5h1M53 50.5h3M86 50.5h1M89 50.5h1M14 51.5h1M55 51.5h1M84 51.5h1M4 52.5h1M49 52.5h1M51 52.5h2M61 52.5h1M4 53.5h1M53 53.5h1M56 53.5h1M60 53.5h1M98 53.5h1M56 54.5h1M59 54.5h1M57 55.5h1M42 56.5h1M45 56.5h1M71 56.5h2M45 57.5h1M61 57.5h1M63 57.5h2M74 57.5h1M83 57.5h1M25 58.5h1M44 58.5h1M70 58.5h1M72 58.5h1M74 58.5h1M93 58.5h1M53 59.5h1M63 59.5h1M94 59.5h1M4 60.5h1M52 60.5h1M64 60.5h1M90 60.5h3M5 61.5h1M64 61.5h1M85 61.5h1M92 61.5h1M5 62.5h1M24 62.5h1M64 62.5h1M91 62.5h1M26 63.5h1M64 63.5h1M74 63.5h1M84 63.5h1M5 64.5h1M26 64.5h1M76 64.5h1M84 64.5h5M5 65.5h1M26 65.5h1M52 65.5h1M75 65.5h1M5 66.5h1M94 66.5h1M24 67.5h1M26 67.5h1M64 67.5h1M7 68.5h1M9 68.5h1M64 68.5h1M75 68.5h1M82 68.5h1M89 68.5h1M51 69.5h1M55 69.5h1M65 69.5h1M67 69.5h1M51 70.5h1M55 70.5h1M63 70.5h3M81 70.5h1M87 70.5h1M53 71.5h2M95 71.5h1M33 72.5h1M75 72.5h1M87 72.5h1M97 72.5h1M33 73.5h1M76 73.5h3M80 73.5h1M34 74.5h3M17 75.5h1M60 75.5h1M62 75.5h1M89 75.5h1M5 76.5h1M19 76.5h1M7 77.5h1M10 77.5h1M19 77.5h1M60 77.5h2M88 77.5h1M90 77.5h1M92 77.5h1M16 78.5h1M82 78.5h1M32 79.5h1M35 79.5h1M14 80.5h1M19 80.5h1M25 80.5h1M97 80.5h2M53 81.5h1M76 81.5h2M80 81.5h1M53 82.5h1M77 82.5h1M14 84.5h1M81 84.5h1M16 85.5h1M18 86.5h1M90 86.5h1M6 87.5h1M19 87.5h1M42 87.5h1M19 88.5h1M7 89.5h1M17 89.5h1M16 90.5h1M35 90.5h1M93 90.5h2M15 91.5h1M15 92.5h1M26 92.5h1M0 93.5h1M4 93.5h1M15 93.5h1M21 93.5h2M1 94.5h1M3 94.5h1M40 94.5h1M87 94.5h1M0 95.5h1M16 95.5h1M20 95.5h1M34 95.5h1M46 95.5h1M16 96.5h1M19 96.5h1M14 97.5h1M16 97.5h1M26 97.5h1M96 97.5h1M0 98.5h1M3 98.5h1M13 98.5h1M16 98.5h3M26 98.5h1M37 98.5h1M96 98.5h1M98 98.5h1M16 99.5h3M24 99.5h1M26 99.5h1M34 99.5h1M44 99.5h1M16 100.5h4M25 100.5h1M15 101.5h1M17 101.5h1M24 101.5h1M42 101.5h1M87 101.5h1M15 102.5h1M17 102.5h2M40 102.5h1M42 102.5h1M12 103.5h1M15 103.5h2M18 103.5h1M42 103.5h2M12 104.5h1M19 104.5h1M42 104.5h1M44 104.5h1M12 105.5h1M39 105.5h1M42 105.5h1M45 105.5h1M82 105.5h1M102 105.5h1M12 106.5h1M37 106.5h4M42 106.5h1M100 106.5h1M12 107.5h1M37 107.5h1M40 107.5h1M43 107.5h1M1 108.5h1M12 108.5h1M40 108.5h1M43 108.5h1M96 108.5h1M101 108.5h1M104 108.5h1M12 109.5h1M82 109.5h1M84 109.5h1M101 109.5h1M104 109.5h1M12 110.5h1M18 110.5h1M34 110.5h1M84 110.5h2M12 111.5h1M39 111.5h1M52 111.5h2M84 111.5h1M91 111.5h1M7 112.5h1M13 112.5h1M44 112.5h1M54 112.5h1M80 112.5h1M84 112.5h1M92 112.5h1M20 113.5h1M32 113.5h1M43 113.5h2M52 113.5h1M77 113.5h1M99 113.5h1M10 114.5h1M43 114.5h2M63 114.5h1M66 114.5h1M76 114.5h1M85 114.5h1M92 114.5h1M97 114.5h1M66 115.5h1M76 115.5h1M83 115.5h1M92 115.5h1M12 116.5h1M45 116.5h1M64 116.5h2M89 116.5h1M92 116.5h1M9 117.5h1M12 117.5h1M41 117.5h1M58 117.5h2M89 117.5h1M92 117.5h1M9 118.5h1M11 118.5h2M16 118.5h1M57 118.5h1M60 118.5h1M92 118.5h3M98 118.5h7M9 119.5h1M14 119.5h1M16 119.5h1M41 119.5h1M51 119.5h1M53 119.5h1M58 119.5h2M88 119.5h1M94 119.5h2M101 119.5h1M104 119.5h1M5 120.5h1M14 120.5h1M50 120.5h1M54 120.5h1M93 120.5h1M101 120.5h1M104 120.5h1M87 121.5h1M101 121.5h1M104 121.5h1M15 122.5h2M88 122.5h2M91 122.5h1M51 123.5h1M55 123.5h1M100 123.5h1M98 124.5h1M54 125.5h1M100 125.5h1M43 126.5h1M10 127.5h1M44 127.5h1M93 127.5h1M42 128.5h1M8 129.5h1M34 129.5h1M44 129.5h2M0 130.5h1M15 130.5h1M37 130.5h1M47 130.5h1M0 131.5h1M46 131.5h2M51 131.5h2M0 132.5h2M3 132.5h1M49 132.5h1M1 133.5h3M16 134.5h2M48 134.5h1M51 134.5h1M6 135.5h1M97 136.5h1M35 137.5h1M55 137.5h1M72 137.5h1M11 138.5h1M35 138.5h1M71 138.5h1M101 138.5h4M26 139.5h1M35 139.5h1M46 139.5h1M11 140.5h1M45 140.5h1M50 140.5h1M80 140.5h1M96 140.5h2M18 141.5h1M42 141.5h2M58 141.5h1M81 141.5h1M27 142.5h2M55 142.5h1M57 142.5h2M64 142.5h1M68 142.5h1M70 142.5h1M79 142.5h5M86 142.5h1M27 143.5h2M42 143.5h2M49 143.5h1M59 143.5h1M64 143.5h1M80 143.5h2M10 144.5h1M57 144.5h1M67 144.5h1M82 144.5h1M13 145.5h1M25 145.5h2M30 145.5h1M73 145.5h1M76 145.5h1M81 145.5h3M13 146.5h1M18 146.5h1M24 146.5h1M31 146.5h1M34 146.5h1M48 146.5h2M68 146.5h1M76 146.5h1M82 146.5h2M86 146.5h1M94 146.5h1M12 147.5h1M15 147.5h1M17 147.5h1M24 147.5h1M34 147.5h1M63 147.5h2M76 147.5h1M94 147.5h1M34 148.5h1M41 148.5h1M83 148.5h2M15 149.5h1M19 149.5h1M42 149.5h1M82 149.5h1M86 149.5h2M13 150.5h1M27 150.5h1M29 150.5h1M86 150.5h1M88 150.5h1M43 151.5h1M73 151.5h1M79 151.5h2M8 152.5h1M79 152.5h2M85 152.5h1M98 152.5h1M13 153.5h1M38 153.5h1M78 153.5h1M80 153.5h1M84 153.5h1M22 154.5h1M76 154.5h1M81 154.5h1M83 154.5h1M89 154.5h1M98 154.5h1M12 155.5h2M76 155.5h3M82 155.5h1M42 156.5h1M74 156.5h1M88 156.5h1M40 157.5h1M73 158.5h1M14 159.5h1M39 159.5h1M71 159.5h1M82 159.5h1M1 160.5h2M12 160.5h1M36 160.5h2M39 160.5h1M70 160.5h1M82 160.5h1M86 160.5h1M4 161.5h1M27 161.5h1M33 161.5h1M83 161.5h1M87 161.5h1M98 161.5h1M33 162.5h1M42 162.5h1M72 162.5h1M85 162.5h1M96 162.5h1M98 162.5h1M37 163.5h1M43 163.5h1M46 163.5h1M73 163.5h1M89 163.5h1M25 164.5h1M34 164.5h3M43 164.5h2M47 164.5h1M85 164.5h1M89 164.5h1M97 164.5h2M7 165.5h2M21 165.5h1M50 165.5h1M71 165.5h1M84 165.5h1M5 166.5h1M15 166.5h2M19 166.5h1M40 166.5h1M87 166.5h1M96 166.5h2M14 167.5h1M34 167.5h1M71 167.5h1M74 167.5h1M82 167.5h1M85 167.5h1M94 167.5h1M15 168.5h1M36 168.5h1M45 168.5h1M50 168.5h1M0 169.5h1M4 169.5h1M17 169.5h1M39 169.5h2M44 169.5h1M104 169.5h1M0 170.5h5M19 170.5h1M39 170.5h1M101 170.5h1M103 170.5h1M21 171.5h1M39 171.5h1M58 171.5h1M85 171.5h1M88 171.5h1M101 171.5h1M103 171.5h1M22 172.5h1M32 172.5h1M57 172.5h1M59 172.5h1M66 172.5h1M76 172.5h1M78 172.5h2M84 172.5h1M104 172.5h1M0 173.5h4M11 173.5h1M57 173.5h1M75 173.5h1M80 173.5h1M89 173.5h1M104 173.5h1M12 174.5h1M89 174.5h1M104 174.5h1M42 175.5h1M81 175.5h1M85 175.5h1M89 175.5h1M104 175.5h1M45 176.5h1M81 176.5h1M86 176.5h1M104 176.5h1M45 177.5h1M86 177.5h1M88 177.5h1M104 177.5h1M34 178.5h1M46 178.5h1M60 178.5h1M80 178.5h1M86 178.5h1M104 178.5h1M34 179.5h1M46 179.5h1M89 179.5h1M95 179.5h1M101 179.5h1M104 179.5h1M45 180.5h2M90 180.5h1M101 180.5h3M31 181.5h2M46 181.5h1M48 181.5h6M64 181.5h1M76 181.5h1M80 181.5h3M91 181.5h1M101 181.5h3M46 182.5h1M48 182.5h1M56 182.5h2M80 182.5h4M86 182.5h1M92 182.5h1M95 182.5h1M104 182.5h1M46 183.5h1M52 183.5h2M63 183.5h1M81 183.5h2M86 183.5h1M39 184.5h2M46 184.5h1M62 184.5h1M65 184.5h1M76 184.5h1M86 184.5h1M27 185.5h1M44 185.5h1M46 185.5h1M55 185.5h1M61 185.5h1M64 185.5h1M75 185.5h5M83 185.5h1M86 185.5h1M44 186.5h1M61 186.5h1M63 186.5h1M65 186.5h1M29 187.5h1M43 187.5h1M47 187.5h1M61 187.5h2M65 187.5h1M59 188.5h4M64 188.5h1M85 188.5h1M101 188.5h1M33 189.5h1M42 189.5h1M70 189.5h3M85 189.5h2M100 189.5h1M36 190.5h1M42 190.5h1M45 190.5h1M68 190.5h1M79 190.5h1M84 190.5h3M101 190.5h3M37 191.5h1M44 191.5h1M56 191.5h1M76 191.5h1M104 191.5h1M37 192.5h1M53 192.5h1M78 192.5h2M81 192.5h1M37 193.5h1M51 194.5h1M55 194.5h1M62 194.5h1M104 194.5h1M31 195.5h2M35 195.5h1M50 195.5h1M20 196.5h1M40 196.5h3M54 196.5h1M82 196.5h1M87 196.5h1M90 196.5h1M47 197.5h3M56 197.5h1M86 197.5h2M20 198.5h1M30 198.5h1M41 198.5h1M83 198.5h1M25 199.5h1M30 199.5h2M88 199.5h1M25 200.5h3M29 200.5h5M43 200.5h1M84 200.5h1M22 201.5h1M32 201.5h1M44 201.5h2M84 202.5h2M24 204.5h1M39 204.5h1M26 205.5h1M33 205.5h1M40 206.5h2M43 206.5h1M5 207.5h1M87 207.5h3M4 208.5h1M26 208.5h1M39 208.5h1M86 208.5h2M91 208.5h1M4 209.5h1M25 209.5h1M34 209.5h3M38 209.5h1M4 210.5h1M0 211.5h1M26 211.5h1M32 211.5h1M92 211.5h1M99 211.5h1M22 212.5h1M32 212.5h1M99 212.5h1M21 213.5h1M95 213.5h1"/>
<path stroke="#fff400" d="M38 5.5h1M40 5.5h1M54 6.5h1M24 7.5h4M54 7.5h1M31 8.5h1M42 8.5h1M48 8.5h1M21 9.5h1M33 9.5h1M42 9.5h1M49 9.5h2M52 9.5h1M63 9.5h1M21 10.5h1M33 10.5h1M37 10.5h1M42 10.5h1M51 10.5h2M75 10.5h1M96 10.5h2M33 11.5h1M42 11.5h1M66 11.5h1M75 11.5h1M100 11.5h5M36 12.5h1M42 12.5h1M44 12.5h1M61 12.5h1M94 12.5h1M100 12.5h5M24 13.5h1M42 13.5h1M49 13.5h4M56 13.5h1M59 13.5h1M66 13.5h1M94 13.5h1M96 13.5h1M101 13.5h1M103 13.5h2M19 14.5h1M34 14.5h1M42 14.5h1M46 14.5h1M52 14.5h1M65 14.5h1M72 14.5h1M93 14.5h1M95 14.5h1M101 14.5h1M103 14.5h2M42 15.5h1M52 15.5h1M85 15.5h1M88 15.5h2M92 15.5h1M101 15.5h1M103 15.5h1M42 16.5h1M51 16.5h1M73 16.5h1M85 16.5h1M92 16.5h3M102 16.5h2M6 17.5h1M72 17.5h1M102 17.5h1M29 18.5h1M50 18.5h1M71 18.5h1M80 18.5h3M86 18.5h1M42 19.5h1M44 19.5h1M50 19.5h1M79 19.5h1M84 19.5h3M91 19.5h1M94 19.5h1M97 19.5h2M35 20.5h1M37 20.5h1M43 20.5h1M59 20.5h1M79 20.5h1M90 20.5h1M93 20.5h1M19 21.5h1M79 21.5h1M88 21.5h1M20 22.5h1M35 22.5h1M52 22.5h1M55 22.5h1M80 22.5h1M88 22.5h1M98 22.5h1M101 22.5h4M20 23.5h1M24 23.5h1M26 23.5h1M53 23.5h2M66 23.5h2M4 24.5h1M10 24.5h3M14 24.5h2M31 24.5h1M58 24.5h1M77 24.5h5M92 24.5h1M100 24.5h5M4 25.5h1M33 25.5h1M43 25.5h1M74 25.5h1M91 25.5h2M4 26.5h1M73 26.5h2M84 26.5h1M87 26.5h1M25 27.5h1M70 27.5h1M73 27.5h2M92 27.5h1M26 28.5h1M42 28.5h1M44 28.5h1M10 30.5h1M19 30.5h1M70 30.5h1M83 30.5h1M95 30.5h1M97 30.5h8M8 31.5h1M10 31.5h1M21 31.5h1M33 31.5h1M56 31.5h1M77 31.5h1M100 31.5h5M21 32.5h1M56 32.5h1M66 32.5h1M29 33.5h1M32 33.5h1M57 33.5h1M62 33.5h4M90 33.5h2M43 34.5h1M67 34.5h1M84 34.5h1M5 35.5h1M9 35.5h1M65 35.5h1M83 35.5h1M29 36.5h2M64 36.5h1M76 36.5h1M81 36.5h1M89 36.5h3M95 36.5h1M5 37.5h1M58 37.5h1M69 37.5h1M76 37.5h1M79 37.5h1M87 37.5h1M94 37.5h1M58 38.5h1M78 38.5h1M14 39.5h1M56 39.5h1M58 39.5h1M77 39.5h1M99 39.5h2M51 40.5h1M57 40.5h2M101 40.5h4M57 41.5h2M97 41.5h1M101 41.5h4M17 42.5h2M57 42.5h2M96 42.5h1M98 42.5h4M51 43.5h1M56 43.5h1M58 43.5h1M86 43.5h1M94 43.5h1M96 43.5h1M6 44.5h1M51 44.5h1M56 44.5h1M58 44.5h1M79 44.5h1M51 45.5h1M56 45.5h3M93 45.5h1M9 46.5h1M51 46.5h1M57 46.5h1M69 46.5h1M94 46.5h1M101 46.5h1M103 46.5h1M9 47.5h1M17 47.5h1M94 47.5h1M16 48.5h1M48 48.5h1M60 48.5h1M94 48.5h1M57 49.5h2M81 49.5h1M95 49.5h1M97 49.5h1M0 50.5h4M56 50.5h1M62 50.5h1M81 50.5h1M90 50.5h1M4 51.5h1M48 51.5h1M92 51.5h1M5 52.5h1M56 52.5h1M92 52.5h1M0 53.5h1M4 54.5h1M57 54.5h1M4 55.5h1M43 55.5h3M56 55.5h1M94 55.5h1M4 56.5h1M67 56.5h4M4 57.5h1M62 57.5h1M65 57.5h1M93 57.5h1M4 58.5h1M42 58.5h1M56 58.5h1M61 58.5h1M63 58.5h2M73 58.5h1M82 58.5h1M4 59.5h1M64 59.5h1M81 59.5h1M93 59.5h1M24 60.5h1M80 60.5h1M86 60.5h4M6 61.5h2M24 61.5h1M27 61.5h1M67 61.5h1M79 61.5h1M67 62.5h1M75 62.5h1M84 62.5h1M99 62.5h1M5 63.5h1M23 63.5h1M67 63.5h1M83 63.5h1M90 63.5h1M99 63.5h1M16 64.5h1M64 64.5h1M89 64.5h1M6 65.5h3M22 65.5h1M64 65.5h1M72 65.5h1M84 65.5h1M94 65.5h1M54 66.5h2M64 66.5h1M83 66.5h1M55 67.5h1M65 67.5h1M67 67.5h1M54 68.5h2M65 68.5h3M72 68.5h1M66 69.5h1M17 70.5h1M50 70.5h1M56 70.5h1M62 70.5h1M66 70.5h2M33 71.5h1M51 71.5h2M55 71.5h1M65 71.5h1M79 71.5h2M97 71.5h1M68 72.5h1M94 72.5h1M87 73.5h1M94 73.5h2M18 74.5h1M33 74.5h1M82 74.5h1M5 75.5h1M10 75.5h1M19 75.5h1M28 75.5h1M70 75.5h1M88 75.5h1M90 75.5h1M92 75.5h1M11 76.5h1M59 76.5h1M88 76.5h2M92 76.5h1M28 77.5h1M62 77.5h1M91 77.5h1M19 78.5h1M23 78.5h1M33 78.5h1M87 78.5h1M19 79.5h1M26 79.5h1M26 80.5h1M81 80.5h1M25 81.5h2M50 82.5h1M70 82.5h1M73 82.5h1M76 82.5h1M32 83.5h1M35 83.5h1M52 83.5h1M76 83.5h1M19 84.5h1M76 84.5h1M19 85.5h1M76 85.5h1M89 85.5h1M8 86.5h5M19 86.5h1M76 86.5h1M82 86.5h1M13 87.5h1M82 87.5h1M13 88.5h1M17 88.5h1M78 88.5h1M81 88.5h1M88 88.5h1M6 89.5h1M8 89.5h1M19 89.5h1M43 89.5h1M87 90.5h1M19 91.5h1M87 91.5h1M95 91.5h10M14 92.5h1M87 92.5h1M92 92.5h1M1 93.5h3M87 93.5h1M92 93.5h1M2 94.5h1M15 94.5h1M41 94.5h1M45 94.5h1M92 94.5h1M1 95.5h1M3 95.5h1M15 95.5h1M0 96.5h1M15 96.5h1M35 96.5h1M0 97.5h1M15 97.5h1M24 97.5h1M37 97.5h1M99 97.5h1M1 98.5h2M14 98.5h2M24 98.5h1M15 99.5h1M12 100.5h1M15 100.5h1M26 100.5h1M43 100.5h1M12 101.5h1M53 101.5h3M90 101.5h1M7 102.5h1M12 102.5h1M14 102.5h1M34 102.5h1M41 102.5h1M43 102.5h1M54 102.5h2M88 102.5h2M14 103.5h1M17 103.5h1M13 104.5h1M23 104.5h1M21 105.5h1M35 105.5h1M40 105.5h2M84 105.5h1M101 105.5h1M103 105.5h1M41 106.5h1M41 107.5h2M2 108.5h1M41 108.5h2M102 108.5h2M40 109.5h1M42 109.5h1M103 109.5h1M17 110.5h1M19 110.5h1M42 110.5h1M46 110.5h1M83 110.5h1M86 110.5h1M13 111.5h1M42 111.5h1M45 111.5h1M54 111.5h1M92 111.5h1M5 112.5h1M12 112.5h1M32 112.5h1M50 112.5h1M78 112.5h1M5 113.5h1M7 113.5h1M12 113.5h1M51 113.5h1M53 113.5h1M84 113.5h1M11 114.5h2M32 114.5h1M83 114.5h1M9 115.5h1M12 115.5h1M33 115.5h1M37 115.5h1M88 115.5h1M96 115.5h1M101 115.5h1M104 115.5h1M9 116.5h1M18 116.5h1M35 116.5h2M63 116.5h1M10 117.5h2M17 117.5h1M93 117.5h1M95 117.5h1M101 117.5h1M104 117.5h1M10 118.5h1M88 118.5h1M10 119.5h1M12 119.5h2M100 119.5h1M6 120.5h2M17 120.5h1M87 120.5h1M94 120.5h1M14 121.5h1M17 121.5h1M100 121.5h1M87 122.5h1M92 122.5h1M100 122.5h1M99 123.5h1M53 124.5h1M56 124.5h1M56 125.5h1M95 125.5h1M101 125.5h1M103 125.5h2M55 126.5h1M61 126.5h2M100 126.5h1M5 127.5h1M5 128.5h1M10 128.5h1M17 128.5h1M1 129.5h3M7 129.5h1M9 129.5h1M33 129.5h1M35 129.5h1M43 129.5h1M4 130.5h1M19 130.5h1M32 130.5h1M93 130.5h1M99 130.5h1M33 131.5h1M45 131.5h1M48 131.5h1M50 131.5h1M0 133.5h1M43 133.5h1M4 134.5h1M18 134.5h1M45 134.5h1M7 135.5h1M9 136.5h1M30 136.5h1M73 136.5h1M77 136.5h1M99 136.5h1M23 137.5h1M58 137.5h1M78 137.5h1M95 137.5h1M100 137.5h1M53 138.5h1M79 138.5h1M94 138.5h1M70 139.5h1M80 139.5h1M94 139.5h1M16 140.5h1M95 140.5h1M98 140.5h7M27 141.5h2M34 141.5h1M40 141.5h2M44 141.5h1M65 141.5h5M43 142.5h1M49 142.5h1M56 142.5h1M69 142.5h1M77 142.5h2M87 142.5h1M19 143.5h1M26 143.5h1M40 143.5h1M54 143.5h1M57 143.5h1M68 143.5h1M71 143.5h1M76 143.5h1M79 143.5h1M87 143.5h1M13 144.5h1M26 144.5h1M44 144.5h1M49 144.5h1M66 144.5h1M72 144.5h1M76 144.5h1M80 144.5h2M87 144.5h1M97 144.5h1M11 145.5h1M24 145.5h1M27 145.5h3M31 145.5h1M45 145.5h1M54 145.5h1M56 145.5h1M61 145.5h1M67 145.5h1M77 145.5h4M87 145.5h1M12 146.5h1M66 146.5h1M75 146.5h1M87 146.5h1M99 146.5h1M14 147.5h1M18 147.5h1M31 147.5h1M71 147.5h1M87 147.5h1M99 147.5h1M12 148.5h1M16 148.5h3M24 148.5h1M31 148.5h1M40 148.5h1M72 148.5h1M76 148.5h1M87 148.5h1M99 148.5h1M12 149.5h1M39 149.5h1M85 149.5h1M11 150.5h1M39 150.5h1M9 151.5h1M89 151.5h1M74 152.5h1M10 153.5h1M74 153.5h1M98 153.5h1M11 154.5h1M13 154.5h1M27 154.5h1M43 154.5h1M74 154.5h2M82 154.5h1M74 155.5h2M79 155.5h3M99 155.5h1M41 156.5h1M75 156.5h2M82 156.5h1M28 157.5h1M74 157.5h1M82 157.5h1M87 157.5h1M100 157.5h1M39 158.5h1M82 158.5h1M86 158.5h1M38 159.5h1M86 159.5h1M14 160.5h1M33 160.5h1M38 160.5h1M99 160.5h1M11 161.5h1M38 161.5h1M40 161.5h1M82 161.5h1M7 162.5h1M13 162.5h1M25 162.5h2M24 163.5h1M33 163.5h1M44 163.5h2M85 163.5h1M96 163.5h1M99 163.5h1M12 164.5h1M23 164.5h2M42 164.5h1M45 164.5h2M74 164.5h1M99 164.5h1M23 165.5h1M31 165.5h1M41 165.5h1M46 165.5h1M49 165.5h1M72 165.5h2M97 165.5h2M23 166.5h1M33 166.5h1M46 166.5h1M82 166.5h1M46 167.5h1M75 167.5h1M86 167.5h1M99 167.5h1M4 168.5h1M39 168.5h1M78 168.5h1M93 168.5h1M100 168.5h1M1 169.5h3M24 169.5h1M80 169.5h1M101 169.5h1M25 170.5h1M80 170.5h1M102 170.5h1M0 171.5h4M93 171.5h1M102 171.5h1M0 172.5h3M13 172.5h1M64 172.5h1M77 172.5h1M89 172.5h1M94 172.5h1M101 172.5h3M4 173.5h1M13 173.5h1M23 173.5h1M40 173.5h1M49 173.5h1M58 173.5h1M76 173.5h2M101 173.5h1M103 173.5h1M27 174.5h1M41 174.5h1M50 174.5h1M84 174.5h1M101 174.5h1M103 174.5h1M45 175.5h2M51 175.5h1M95 175.5h1M101 175.5h1M103 175.5h1M43 176.5h2M52 176.5h2M89 176.5h1M101 176.5h1M103 176.5h1M81 177.5h1M89 177.5h1M101 177.5h1M103 177.5h1M30 178.5h1M45 178.5h1M47 178.5h1M57 178.5h1M61 178.5h1M89 178.5h1M101 178.5h1M103 178.5h1M43 179.5h1M45 179.5h1M47 179.5h1M59 179.5h3M76 179.5h1M79 179.5h2M85 179.5h1M102 179.5h2M31 180.5h1M33 180.5h1M47 180.5h1M59 180.5h1M76 180.5h1M79 180.5h2M85 180.5h1M95 180.5h1M47 181.5h1M54 181.5h2M79 181.5h1M83 181.5h3M95 181.5h1M30 182.5h1M47 182.5h1M64 182.5h2M77 182.5h3M84 182.5h2M101 182.5h1M103 182.5h1M32 183.5h1M47 183.5h1M50 183.5h2M65 183.5h1M77 183.5h4M83 183.5h1M100 183.5h1M54 184.5h1M63 184.5h2M72 184.5h1M77 184.5h7M35 185.5h1M40 185.5h4M47 185.5h1M63 185.5h1M67 185.5h1M74 185.5h1M84 185.5h2M28 186.5h1M43 186.5h1M47 186.5h1M62 186.5h1M66 186.5h1M76 186.5h1M85 186.5h2M22 187.5h1M85 187.5h2M102 187.5h3M31 188.5h1M42 188.5h1M47 188.5h1M58 188.5h1M65 188.5h1M86 188.5h1M98 188.5h1M100 188.5h1M21 189.5h2M46 189.5h1M73 189.5h1M77 189.5h1M55 190.5h2M76 190.5h1M78 190.5h1M42 191.5h1M53 191.5h1M67 191.5h1M80 191.5h3M86 191.5h1M101 191.5h1M103 191.5h1M56 192.5h1M82 192.5h1M104 192.5h1M52 193.5h1M87 193.5h1M37 194.5h1M60 194.5h1M101 194.5h3M87 195.5h1M39 196.5h1M43 196.5h1M57 196.5h1M91 196.5h2M25 197.5h1M39 197.5h1M55 197.5h1M88 197.5h1M92 197.5h1M25 198.5h1M40 198.5h1M85 198.5h3M91 198.5h1M42 199.5h1M84 199.5h1M87 199.5h1M28 200.5h1M86 200.5h1M31 201.5h1M84 201.5h1M32 202.5h1M39 202.5h1M5 203.5h1M23 203.5h1M4 205.5h1M38 205.5h1M45 205.5h1M0 206.5h4M6 206.5h1M33 206.5h2M42 206.5h1M4 207.5h1M23 208.5h1M92 208.5h1M94 208.5h1M24 209.5h1M33 209.5h1M37 209.5h1M91 209.5h1M18 210.5h1M32 210.5h1M97 210.5h1M1 211.5h3M27 213.5h1M96 213.5h2M28 214.5h1M32 215.5h1"/>
<path stroke="#ffea00" d="M39 5.5h1M56 6.5h1M55 7.5h1M59 7.5h1M22 8.5h1M37 8.5h1M45 8.5h1M47 8.5h1M32 9.5h1M44 9.5h1M51 9.5h1M61 9.5h1M64 9.5h2M66 10.5h1M76 10.5h1M44 11.5h1M56 11.5h1M77 11.5h1M95 11.5h1M98 11.5h2M22 12.5h1M33 12.5h1M48 12.5h1M77 12.5h1M95 12.5h1M97 12.5h3M21 13.5h1M45 13.5h1M48 13.5h1M57 13.5h1M76 13.5h1M95 13.5h1M102 13.5h1M0 14.5h1M4 14.5h1M23 14.5h1M35 14.5h1M47 14.5h1M94 14.5h1M102 14.5h1M6 15.5h1M47 15.5h1M66 15.5h1M73 15.5h1M86 15.5h2M93 15.5h2M102 15.5h1M91 16.5h1M46 17.5h1M68 17.5h1M86 17.5h1M91 17.5h1M25 18.5h1M45 18.5h1M70 18.5h1M91 18.5h1M6 19.5h1M83 19.5h1M95 19.5h2M13 20.5h1M19 20.5h1M76 20.5h3M80 20.5h1M89 20.5h1M97 20.5h1M51 21.5h1M67 21.5h1M74 21.5h1M81 21.5h1M97 21.5h1M15 22.5h1M67 22.5h1M79 22.5h1M81 22.5h1M9 23.5h1M15 23.5h1M23 23.5h1M52 23.5h1M59 23.5h1M80 23.5h2M88 23.5h1M99 23.5h6M23 24.5h1M32 24.5h1M74 24.5h3M83 24.5h1M88 24.5h1M93 24.5h2M97 24.5h3M10 25.5h1M44 25.5h1M68 25.5h1M84 25.5h1M11 26.5h1M24 26.5h1M91 26.5h2M85 27.5h2M91 27.5h1M5 28.5h3M12 28.5h1M70 28.5h1M8 29.5h2M28 29.5h1M35 29.5h1M54 29.5h1M70 29.5h1M20 30.5h1M35 30.5h1M56 30.5h1M59 30.5h1M67 30.5h1M82 30.5h1M96 30.5h1M35 31.5h1M76 31.5h1M98 31.5h2M14 32.5h1M33 32.5h2M53 32.5h1M57 32.5h1M59 32.5h1M76 32.5h1M20 33.5h2M56 33.5h1M75 33.5h2M44 34.5h1M57 34.5h1M68 34.5h2M76 34.5h1M89 34.5h2M92 34.5h1M10 35.5h1M27 35.5h1M32 35.5h1M42 35.5h1M44 35.5h1M66 35.5h1M76 35.5h1M89 35.5h2M93 35.5h1M11 36.5h1M28 36.5h1M31 36.5h1M43 36.5h1M65 36.5h3M92 36.5h3M11 37.5h1M75 37.5h1M6 38.5h4M16 38.5h3M53 38.5h1M37 39.5h2M57 39.5h1M20 40.5h1M77 40.5h1M98 40.5h1M100 40.5h1M14 41.5h1M100 41.5h1M16 42.5h1M50 42.5h1M84 42.5h1M97 42.5h1M57 43.5h1M77 43.5h1M95 43.5h1M5 44.5h1M57 44.5h1M94 44.5h2M70 45.5h1M87 45.5h1M94 45.5h1M71 46.5h1M89 46.5h5M102 46.5h1M4 47.5h1M47 47.5h4M104 47.5h1M6 48.5h3M19 48.5h1M47 48.5h1M19 49.5h1M59 49.5h1M94 49.5h1M98 49.5h1M85 50.5h1M91 50.5h1M56 51.5h1M82 51.5h1M14 52.5h1M1 53.5h3M52 53.5h1M97 53.5h1M53 54.5h1M58 54.5h1M95 54.5h1M55 55.5h1M90 55.5h1M89 56.5h1M41 57.5h1M71 57.5h3M84 57.5h1M26 58.5h1M45 58.5h1M62 58.5h1M19 59.5h1M24 59.5h1M52 59.5h1M92 59.5h1M0 60.5h4M27 60.5h1M93 60.5h1M97 60.5h1M8 61.5h1M65 61.5h1M76 61.5h3M80 61.5h1M98 61.5h1M27 62.5h1M65 62.5h1M92 62.5h1M22 63.5h1M65 63.5h1M75 63.5h1M80 63.5h3M65 64.5h1M67 64.5h1M73 64.5h1M75 64.5h1M94 64.5h1M18 65.5h2M27 65.5h1M65 65.5h1M67 65.5h1M3 66.5h2M23 66.5h1M27 66.5h1M65 66.5h1M67 66.5h1M5 67.5h1M10 67.5h1M54 67.5h1M66 67.5h1M72 67.5h1M93 67.5h1M6 68.5h1M25 68.5h1M51 68.5h1M88 68.5h1M16 69.5h1M73 69.5h1M82 69.5h1M87 69.5h1M16 70.5h1M34 70.5h1M57 70.5h1M61 70.5h1M74 70.5h1M77 70.5h1M64 71.5h1M66 71.5h2M96 71.5h1M32 72.5h1M53 72.5h2M32 73.5h1M81 73.5h1M7 74.5h2M87 74.5h1M24 75.5h1M91 75.5h1M4 76.5h1M16 76.5h1M29 76.5h1M44 76.5h1M70 76.5h1M90 76.5h1M6 77.5h1M16 77.5h1M23 77.5h1M59 77.5h1M9 78.5h1M27 78.5h1M34 78.5h1M23 79.5h1M50 79.5h2M24 80.5h1M49 80.5h1M53 80.5h1M31 81.5h1M49 81.5h1M26 82.5h1M74 82.5h2M80 82.5h1M87 84.5h1M15 85.5h1M82 85.5h1M7 86.5h1M17 86.5h1M17 87.5h1M89 87.5h1M5 88.5h1M9 89.5h3M16 89.5h1M87 89.5h1M15 90.5h1M34 91.5h1M92 91.5h1M94 91.5h1M0 92.5h1M13 92.5h1M20 92.5h1M23 92.5h1M39 92.5h1M101 92.5h4M27 93.5h1M27 94.5h1M2 95.5h1M22 95.5h1M27 95.5h1M98 95.5h1M1 96.5h1M3 96.5h1M96 96.5h1M99 96.5h1M1 97.5h1M3 97.5h1M36 97.5h1M36 98.5h1M13 99.5h2M19 99.5h1M23 99.5h1M95 99.5h2M33 100.5h1M53 100.5h2M91 100.5h1M14 101.5h1M25 101.5h1M52 101.5h1M6 102.5h1M13 102.5h1M24 102.5h1M53 102.5h1M7 103.5h1M13 103.5h1M40 103.5h2M14 104.5h5M40 104.5h2M82 104.5h2M13 105.5h1M20 105.5h1M22 105.5h1M46 105.5h1M104 105.5h1M0 106.5h1M13 106.5h1M36 106.5h1M85 106.5h1M99 106.5h1M0 107.5h1M3 107.5h1M13 107.5h1M36 107.5h1M47 107.5h1M13 108.5h1M47 108.5h1M13 109.5h1M41 109.5h1M102 109.5h1M13 110.5h4M20 110.5h1M40 110.5h1M87 110.5h1M96 110.5h1M51 111.5h1M39 112.5h1M42 112.5h1M93 112.5h1M99 112.5h1M67 113.5h1M38 114.5h1M62 114.5h1M67 114.5h1M84 114.5h1M10 115.5h1M19 115.5h1M42 115.5h1M45 115.5h1M62 115.5h1M102 115.5h2M10 116.5h2M34 116.5h1M66 116.5h1M76 116.5h1M83 116.5h1M101 116.5h1M104 116.5h1M57 117.5h1M60 117.5h1M79 117.5h3M94 117.5h1M102 117.5h2M17 118.5h1M11 119.5h1M17 119.5h1M45 119.5h1M57 119.5h1M96 119.5h1M99 119.5h1M8 120.5h2M13 120.5h1M43 120.5h1M100 120.5h1M93 121.5h1M14 122.5h1M17 122.5h1M25 122.5h2M15 123.5h1M25 123.5h1M88 123.5h4M97 124.5h1M61 125.5h2M102 125.5h1M6 126.5h4M42 126.5h1M54 126.5h1M93 126.5h1M11 127.5h1M61 127.5h2M100 127.5h1M16 128.5h1M18 128.5h1M76 128.5h2M0 129.5h1M4 129.5h3M15 129.5h1M19 129.5h1M32 129.5h1M46 129.5h1M77 129.5h1M38 130.5h1M44 130.5h1M84 130.5h1M4 131.5h1M32 131.5h1M49 131.5h1M83 131.5h2M34 132.5h1M48 132.5h1M53 132.5h1M4 133.5h1M44 133.5h1M48 133.5h1M15 134.5h1M28 134.5h2M39 134.5h1M41 134.5h1M30 135.5h1M75 135.5h2M23 136.5h1M96 136.5h1M11 137.5h1M49 137.5h1M59 137.5h1M48 138.5h1M59 138.5h1M59 139.5h1M17 140.5h1M27 140.5h2M69 140.5h1M81 140.5h1M11 141.5h1M19 141.5h1M82 141.5h6M19 142.5h1M26 142.5h1M29 142.5h1M42 142.5h1M59 142.5h1M29 143.5h1M41 143.5h1M60 143.5h1M69 143.5h1M77 143.5h2M19 144.5h1M25 144.5h1M27 144.5h4M33 144.5h1M54 144.5h1M61 144.5h1M68 144.5h1M77 144.5h1M79 144.5h1M96 144.5h1M98 144.5h1M12 145.5h1M19 145.5h1M32 145.5h2M49 145.5h1M66 145.5h1M68 145.5h1M94 145.5h1M99 145.5h1M32 146.5h1M69 146.5h1M74 146.5h1M13 147.5h1M15 148.5h1M19 148.5h1M94 148.5h1M13 149.5h2M33 149.5h1M83 149.5h2M88 149.5h1M94 149.5h1M99 149.5h1M12 150.5h1M20 150.5h1M26 150.5h1M33 150.5h1M73 150.5h1M85 150.5h1M99 150.5h1M39 151.5h1M78 151.5h1M81 151.5h1M85 151.5h1M99 151.5h1M9 152.5h1M43 152.5h1M78 152.5h1M99 152.5h1M34 153.5h1M43 153.5h1M75 153.5h1M77 153.5h1M81 153.5h1M94 153.5h1M26 154.5h1M28 154.5h1M94 154.5h1M29 155.5h1M89 155.5h1M29 156.5h1M100 156.5h1M75 157.5h1M74 158.5h1M100 158.5h1M28 159.5h1M34 159.5h4M72 159.5h1M94 159.5h1M13 160.5h1M28 160.5h1M87 160.5h1M94 160.5h1M0 161.5h2M3 161.5h1M28 161.5h1M39 161.5h1M71 161.5h1M88 161.5h1M99 161.5h1M5 162.5h2M8 162.5h2M27 162.5h1M38 162.5h1M41 162.5h1M84 162.5h1M89 162.5h1M95 162.5h1M99 162.5h1M25 163.5h3M42 163.5h1M74 163.5h1M29 164.5h1M33 164.5h1M37 164.5h1M96 164.5h1M6 165.5h1M22 165.5h1M32 165.5h2M47 165.5h2M83 165.5h1M89 165.5h1M70 166.5h1M73 166.5h1M88 166.5h1M95 166.5h1M98 166.5h1M4 167.5h1M23 167.5h1M39 167.5h1M81 167.5h1M0 168.5h1M16 168.5h1M37 168.5h2M79 168.5h5M49 169.5h1M102 169.5h2M40 170.5h4M4 171.5h2M29 171.5h2M80 171.5h1M3 172.5h1M6 172.5h1M12 172.5h1M48 172.5h1M58 172.5h1M65 172.5h1M80 172.5h1M5 173.5h2M12 173.5h1M64 173.5h2M95 173.5h1M102 173.5h1M24 174.5h1M26 174.5h1M28 174.5h1M81 174.5h1M95 174.5h1M102 174.5h1M29 175.5h1M43 175.5h2M47 175.5h1M102 175.5h1M47 176.5h1M54 176.5h2M102 176.5h1M33 177.5h1M43 177.5h2M47 177.5h1M56 177.5h1M102 177.5h1M85 178.5h1M102 178.5h1M31 179.5h1M44 179.5h1M58 179.5h1M77 179.5h2M32 180.5h1M48 180.5h3M78 180.5h1M81 180.5h1M56 181.5h1M58 181.5h1M77 181.5h2M31 182.5h1M93 182.5h2M102 182.5h1M29 183.5h1M48 183.5h2M64 183.5h1M84 183.5h2M28 184.5h1M47 184.5h1M53 184.5h1M69 184.5h1M84 184.5h2M99 184.5h1M34 185.5h1M36 185.5h4M62 185.5h1M73 185.5h1M98 185.5h1M42 186.5h1M21 187.5h1M42 187.5h1M48 187.5h1M56 187.5h1M76 187.5h1M101 187.5h1M21 188.5h2M57 188.5h1M76 188.5h1M99 188.5h1M34 189.5h1M61 189.5h5M69 189.5h1M74 189.5h3M37 190.5h1M54 190.5h1M67 190.5h1M77 190.5h1M77 191.5h3M83 191.5h3M102 191.5h1M43 192.5h1M67 192.5h1M83 192.5h1M101 192.5h1M103 192.5h1M56 193.5h1M83 193.5h1M101 193.5h1M103 193.5h2M50 194.5h1M67 194.5h1M87 194.5h1M36 195.5h1M55 195.5h1M31 196.5h1M44 196.5h1M49 196.5h1M86 196.5h1M31 197.5h1M83 197.5h1M85 197.5h1M89 197.5h1M31 198.5h1M84 198.5h1M88 198.5h3M32 199.5h1M85 199.5h2M24 200.5h1M38 200.5h1M85 200.5h1M28 201.5h3M43 201.5h1M85 201.5h1M47 202.5h1M7 203.5h1M32 203.5h1M25 204.5h1M47 204.5h1M7 205.5h1M39 205.5h1M4 206.5h2M0 207.5h4M33 207.5h2M39 207.5h1M0 208.5h2M3 208.5h1M33 208.5h2M93 208.5h1M0 209.5h2M3 209.5h1M18 209.5h1M26 209.5h1M95 209.5h1M0 210.5h2M3 210.5h1M23 210.5h1M26 210.5h1M98 211.5h1M21 212.5h1M94 212.5h1M32 213.5h1M30 215.5h1"/>
<path stroke="#ffdf00" d="M37 6.5h1M41 6.5h1M55 6.5h1M37 7.5h1M56 7.5h1M58 7.5h1M30 8.5h1M46 8.5h1M38 9.5h1M48 9.5h1M44 10.5h1M48 10.5h1M61 10.5h2M22 11.5h1M37 11.5h1M48 11.5h1M61 11.5h1M76 11.5h1M96 11.5h2M56 12.5h1M60 12.5h1M62 12.5h1M76 12.5h1M96 12.5h1M22 13.5h2M33 13.5h1M36 13.5h1M58 13.5h1M63 13.5h1M1 14.5h3M48 14.5h1M51 14.5h1M66 14.5h1M71 14.5h1M23 15.5h1M51 15.5h1M6 16.5h1M47 16.5h1M86 16.5h1M90 16.5h1M24 17.5h1M30 17.5h1M50 17.5h1M5 18.5h1M19 19.5h1M27 19.5h1M80 19.5h3M87 19.5h1M90 19.5h1M9 20.5h2M12 20.5h1M34 20.5h1M44 20.5h1M50 20.5h1M57 20.5h2M81 20.5h1M86 20.5h3M94 20.5h1M96 20.5h1M14 21.5h1M20 21.5h1M34 21.5h1M38 21.5h1M56 21.5h1M65 21.5h2M78 21.5h1M87 21.5h1M93 21.5h1M6 22.5h2M21 22.5h1M24 22.5h3M65 22.5h1M4 23.5h1M14 23.5h1M21 23.5h2M27 23.5h1M55 23.5h1M74 23.5h1M79 23.5h1M82 23.5h1M93 23.5h1M98 23.5h1M20 24.5h1M53 24.5h1M57 24.5h1M95 24.5h2M19 25.5h1M42 25.5h1M57 25.5h1M67 25.5h1M9 26.5h1M18 26.5h1M34 26.5h1M69 26.5h1M4 27.5h1M8 27.5h1M8 28.5h1M18 28.5h1M35 28.5h1M58 28.5h1M64 28.5h1M7 29.5h1M10 29.5h1M29 29.5h1M31 29.5h1M53 29.5h1M55 29.5h1M69 29.5h1M7 30.5h1M13 30.5h1M59 31.5h1M95 31.5h1M97 31.5h1M9 32.5h1M32 32.5h1M35 32.5h1M58 32.5h1M19 33.5h1M33 33.5h1M6 34.5h2M27 34.5h1M42 34.5h1M70 34.5h4M88 34.5h1M91 34.5h1M4 35.5h1M11 35.5h1M57 35.5h1M67 35.5h1M91 35.5h2M4 36.5h1M27 36.5h1M42 36.5h1M44 36.5h1M68 36.5h1M88 36.5h1M70 37.5h1M86 37.5h1M10 38.5h1M15 38.5h1M52 38.5h1M54 38.5h1M57 38.5h1M79 38.5h1M13 39.5h1M20 39.5h1M51 39.5h1M78 39.5h1M13 40.5h1M37 40.5h1M99 40.5h1M50 41.5h1M77 41.5h1M98 41.5h2M15 42.5h1M77 42.5h1M50 43.5h1M85 43.5h1M7 44.5h1M50 44.5h1M80 44.5h1M86 44.5h1M46 46.5h1M50 46.5h1M70 46.5h1M88 46.5h1M46 47.5h1M93 47.5h1M101 47.5h3M5 48.5h1M9 48.5h1M46 48.5h1M100 48.5h1M15 49.5h1M47 49.5h1M60 49.5h2M14 50.5h1M57 50.5h1M61 50.5h1M92 50.5h3M61 51.5h1M83 51.5h1M93 51.5h1M6 52.5h1M48 52.5h1M60 52.5h1M101 52.5h4M8 53.5h1M51 53.5h1M57 53.5h1M92 53.5h1M91 54.5h1M9 55.5h1M54 55.5h1M9 56.5h1M46 56.5h1M56 56.5h1M9 57.5h1M70 57.5h1M9 58.5h1M24 58.5h1M65 58.5h1M69 58.5h1M9 59.5h1M17 59.5h1M27 59.5h1M65 59.5h1M68 59.5h1M91 59.5h1M9 60.5h1M65 60.5h1M67 60.5h1M81 60.5h1M85 60.5h1M66 61.5h1M84 61.5h1M93 61.5h1M15 62.5h1M66 62.5h1M76 62.5h1M79 62.5h2M27 63.5h1M51 63.5h1M66 63.5h1M76 63.5h4M91 63.5h1M94 63.5h2M27 64.5h1M66 64.5h1M74 64.5h1M9 65.5h1M17 65.5h1M20 65.5h2M66 65.5h1M85 65.5h4M0 66.5h3M10 66.5h1M66 66.5h1M72 66.5h1M84 66.5h1M27 67.5h1M83 67.5h1M26 68.5h1M17 69.5h1M50 69.5h1M75 69.5h1M18 70.5h1M35 70.5h1M49 70.5h1M58 70.5h3M17 71.5h2M37 71.5h1M50 71.5h1M56 71.5h1M63 71.5h1M75 71.5h1M78 71.5h1M81 71.5h1M52 72.5h1M55 72.5h1M65 72.5h1M79 72.5h2M95 72.5h2M31 73.5h1M6 74.5h1M9 74.5h1M17 74.5h1M19 74.5h1M26 74.5h1M32 74.5h1M37 74.5h1M11 75.5h1M29 75.5h1M43 75.5h3M59 75.5h1M83 75.5h1M87 75.5h1M12 76.5h1M43 76.5h1M45 76.5h1M63 76.5h1M83 76.5h1M87 76.5h1M91 76.5h1M0 77.5h6M11 77.5h1M63 77.5h1M87 77.5h1M1 78.5h3M8 78.5h1M10 78.5h1M15 78.5h1M20 78.5h1M32 78.5h1M2 79.5h1M49 79.5h1M52 79.5h1M31 80.5h1M69 80.5h1M27 81.5h1M25 82.5h1M31 82.5h1M51 83.5h1M53 83.5h1M81 83.5h1M14 85.5h1M88 85.5h1M13 86.5h1M43 86.5h2M89 86.5h1M20 87.5h1M45 87.5h1M76 87.5h1M77 88.5h1M87 88.5h1M5 89.5h1M12 89.5h2M27 89.5h1M36 89.5h1M42 89.5h1M19 90.5h1M38 90.5h1M14 91.5h1M25 91.5h2M93 91.5h1M1 92.5h7M11 92.5h2M27 92.5h1M93 92.5h3M100 92.5h1M93 93.5h1M33 94.5h1M21 95.5h1M97 95.5h1M2 96.5h1M23 96.5h1M27 96.5h1M47 96.5h1M2 97.5h1M19 97.5h1M27 97.5h1M27 98.5h1M34 98.5h2M46 98.5h1M95 98.5h1M99 98.5h1M27 99.5h1M33 99.5h1M86 99.5h1M97 99.5h1M13 100.5h2M27 100.5h1M52 100.5h1M55 100.5h1M86 100.5h1M13 101.5h1M26 101.5h1M43 101.5h1M56 101.5h1M52 102.5h1M56 102.5h1M6 103.5h1M34 103.5h1M44 103.5h1M53 103.5h2M82 103.5h1M52 104.5h1M14 105.5h1M19 105.5h1M52 105.5h1M3 106.5h1M47 106.5h1M70 106.5h1M85 107.5h1M96 107.5h1M35 108.5h1M47 109.5h1M85 109.5h1M41 110.5h1M73 110.5h2M82 110.5h1M91 110.5h2M21 111.5h1M32 111.5h1M74 111.5h1M93 111.5h1M98 111.5h1M6 112.5h1M21 112.5h1M45 112.5h1M81 112.5h1M6 113.5h1M42 113.5h1M45 113.5h1M50 113.5h1M54 113.5h1M62 113.5h2M66 113.5h1M76 113.5h1M82 113.5h1M93 113.5h1M98 113.5h1M20 114.5h1M45 114.5h1M11 115.5h1M32 115.5h1M67 115.5h1M84 115.5h1M33 116.5h1M62 116.5h1M93 116.5h1M102 116.5h2M35 117.5h1M61 117.5h1M78 117.5h1M82 117.5h1M88 117.5h1M56 118.5h1M54 119.5h1M60 119.5h1M87 119.5h1M97 119.5h2M10 120.5h1M18 120.5h1M42 120.5h1M95 120.5h1M18 121.5h1M25 121.5h3M35 121.5h1M86 121.5h1M27 122.5h1M35 122.5h2M55 122.5h1M86 122.5h1M99 122.5h1M14 123.5h1M16 123.5h1M26 123.5h1M35 123.5h2M50 123.5h1M87 123.5h1M98 123.5h1M25 124.5h1M94 125.5h1M5 126.5h1M10 126.5h2M44 126.5h1M56 126.5h1M104 126.5h1M55 127.5h1M76 127.5h2M4 128.5h1M33 128.5h2M45 128.5h1M92 128.5h1M100 128.5h1M10 129.5h1M36 129.5h1M42 129.5h1M76 129.5h1M92 129.5h1M100 129.5h1M5 130.5h1M48 130.5h1M77 130.5h1M83 130.5h1M85 130.5h1M44 131.5h1M53 131.5h1M82 131.5h1M94 131.5h4M4 132.5h1M20 132.5h1M82 132.5h2M42 133.5h1M53 133.5h1M5 134.5h1M19 134.5h1M47 134.5h1M8 135.5h1M24 135.5h1M50 135.5h1M74 135.5h1M77 135.5h1M10 136.5h1M60 136.5h2M78 136.5h1M30 137.5h1M60 137.5h1M101 137.5h1M103 137.5h2M23 138.5h1M80 138.5h1M25 139.5h1M50 139.5h1M81 139.5h1M15 140.5h1M18 140.5h2M34 140.5h1M59 140.5h1M67 140.5h2M87 140.5h2M14 141.5h1M20 141.5h1M49 141.5h1M59 141.5h1M64 141.5h1M88 141.5h1M40 142.5h2M44 142.5h1M63 142.5h1M88 142.5h1M13 143.5h1M25 143.5h1M30 143.5h1M33 143.5h1M44 143.5h1M55 143.5h2M63 143.5h1M70 143.5h1M88 143.5h1M11 144.5h1M24 144.5h1M31 144.5h2M56 144.5h1M65 144.5h1M78 144.5h1M88 144.5h1M23 145.5h1M55 145.5h1M88 145.5h1M19 146.5h1M23 146.5h1M33 146.5h1M62 146.5h1M73 146.5h1M88 146.5h1M100 146.5h1M19 147.5h1M23 147.5h1M32 147.5h2M72 147.5h1M75 147.5h1M100 147.5h1M13 148.5h2M32 148.5h2M88 148.5h1M31 149.5h1M30 150.5h1M42 150.5h1M77 150.5h1M82 150.5h1M89 150.5h1M94 150.5h1M10 151.5h1M12 151.5h1M33 151.5h1M74 151.5h1M94 151.5h1M12 152.5h1M21 152.5h1M33 152.5h1M39 152.5h1M81 152.5h1M94 152.5h1M76 153.5h1M82 153.5h2M99 153.5h1M12 154.5h1M23 154.5h1M25 154.5h1M29 154.5h1M99 154.5h1M42 155.5h1M94 155.5h1M40 156.5h1M77 156.5h1M94 156.5h1M39 157.5h1M88 157.5h1M94 157.5h1M28 158.5h1M38 158.5h1M87 158.5h1M94 158.5h1M33 159.5h1M87 159.5h1M100 159.5h1M71 160.5h1M81 160.5h1M2 161.5h1M12 161.5h2M81 161.5h1M94 161.5h1M4 162.5h1M28 162.5h1M73 162.5h1M83 162.5h1M28 163.5h1M38 163.5h1M84 163.5h1M84 164.5h1M34 165.5h2M74 165.5h1M82 165.5h1M96 165.5h1M99 165.5h1M20 166.5h1M34 166.5h1M50 166.5h1M71 166.5h2M74 166.5h1M81 166.5h1M99 166.5h1M15 167.5h1M35 167.5h1M50 167.5h1M76 167.5h1M87 167.5h1M1 168.5h1M3 168.5h1M23 168.5h1M46 168.5h1M84 168.5h1M101 168.5h1M104 168.5h1M45 169.5h1M81 169.5h1M20 170.5h1M87 170.5h1M22 171.5h1M27 171.5h2M40 171.5h1M48 171.5h1M89 171.5h1M4 172.5h2M48 173.5h1M90 173.5h1M25 174.5h1M42 174.5h1M45 174.5h3M49 174.5h1M90 174.5h1M90 175.5h1M51 176.5h1M85 176.5h1M90 176.5h1M94 176.5h1M30 177.5h1M85 177.5h1M94 177.5h1M31 178.5h1M43 178.5h2M81 178.5h1M94 178.5h1M48 179.5h1M57 179.5h1M81 179.5h1M90 179.5h1M51 180.5h3M58 180.5h1M77 180.5h1M82 180.5h3M91 180.5h1M57 181.5h1M92 181.5h1M94 181.5h1M104 183.5h1M32 184.5h1M48 184.5h1M52 184.5h1M71 184.5h1M28 185.5h1M33 185.5h1M54 185.5h1M68 185.5h1M40 186.5h2M48 186.5h1M55 186.5h1M75 186.5h1M98 186.5h1M30 187.5h1M66 187.5h1M98 187.5h1M100 187.5h1M32 188.5h1M48 188.5h1M35 189.5h2M41 189.5h1M47 189.5h1M56 189.5h5M66 189.5h1M68 189.5h1M41 190.5h1M57 190.5h1M66 190.5h1M38 191.5h1M41 191.5h1M45 191.5h1M38 192.5h1M42 192.5h1M52 192.5h1M86 192.5h1M102 192.5h1M38 193.5h1M51 193.5h1M61 193.5h1M67 193.5h1M102 193.5h1M38 194.5h1M56 194.5h1M63 194.5h1M83 194.5h1M37 195.5h6M49 195.5h1M58 195.5h1M83 195.5h1M23 196.5h1M38 196.5h1M45 196.5h1M55 196.5h2M83 196.5h1M85 196.5h1M20 197.5h1M84 197.5h1M90 197.5h2M39 198.5h1M21 199.5h1M24 199.5h1M33 199.5h1M41 199.5h1M22 200.5h1M42 200.5h1M23 201.5h1M26 201.5h2M23 202.5h1M31 202.5h1M6 203.5h1M5 204.5h1M7 204.5h1M5 205.5h1M40 205.5h1M27 206.5h1M35 206.5h1M39 206.5h1M27 207.5h1M2 208.5h1M20 208.5h1M35 208.5h1M2 209.5h1M32 209.5h1M92 209.5h1M2 210.5h1M92 210.5h1M96 210.5h1M20 211.5h1M22 211.5h1M93 211.5h1M95 212.5h1M98 212.5h1M32 214.5h1M31 215.5h1"/>
<path stroke="#ffd500" d="M57 7.5h1M23 8.5h2M22 9.5h1M41 9.5h1M22 10.5h1M38 10.5h1M41 10.5h1M62 11.5h1M23 12.5h1M45 12.5h1M46 13.5h2M65 13.5h1M20 14.5h1M29 14.5h1M49 14.5h2M67 14.5h1M70 14.5h1M19 15.5h1M34 15.5h1M72 15.5h1M30 16.5h1M67 16.5h1M72 16.5h1M87 16.5h1M89 16.5h1M5 17.5h1M71 17.5h1M87 17.5h1M30 18.5h1M33 18.5h1M87 18.5h1M5 19.5h1M26 19.5h1M28 19.5h1M34 19.5h2M45 19.5h1M8 20.5h1M11 20.5h1M42 20.5h1M82 20.5h1M85 20.5h1M95 20.5h1M43 21.5h1M59 21.5h1M5 22.5h1M8 22.5h1M14 22.5h1M22 22.5h2M27 22.5h1M34 22.5h1M38 22.5h1M51 22.5h1M59 22.5h1M66 22.5h1M74 22.5h1M78 22.5h1M87 22.5h1M93 22.5h1M97 22.5h1M10 23.5h4M28 23.5h1M35 23.5h2M78 23.5h1M97 23.5h1M22 24.5h1M33 24.5h1M43 24.5h1M52 24.5h1M54 24.5h1M84 24.5h1M23 25.5h1M87 25.5h1M10 26.5h1M41 26.5h1M45 26.5h1M57 26.5h1M11 27.5h1M18 27.5h1M35 27.5h1M41 27.5h1M45 27.5h1M65 27.5h1M4 28.5h1M6 29.5h1M19 29.5h1M27 29.5h1M30 29.5h1M43 29.5h1M68 29.5h1M21 30.5h1M32 30.5h1M52 30.5h1M63 30.5h1M7 31.5h1M13 31.5h1M52 31.5h1M57 31.5h1M66 31.5h1M96 31.5h1M8 32.5h1M10 32.5h1M22 32.5h1M36 32.5h1M63 32.5h1M14 33.5h5M22 33.5h1M28 33.5h1M34 33.5h4M43 33.5h2M55 33.5h1M0 34.5h1M4 34.5h2M8 34.5h3M33 34.5h1M74 34.5h2M85 34.5h1M87 34.5h1M0 35.5h2M3 35.5h1M26 35.5h1M68 35.5h1M75 35.5h1M88 35.5h1M0 36.5h1M3 36.5h1M12 36.5h1M26 36.5h1M75 36.5h1M82 36.5h1M4 37.5h1M12 37.5h1M74 37.5h1M80 37.5h1M5 38.5h1M11 38.5h4M19 38.5h1M37 38.5h1M84 38.5h1M12 39.5h1M79 39.5h1M38 40.5h1M83 40.5h1M83 41.5h1M19 42.5h1M84 43.5h1M4 44.5h1M81 44.5h1M50 45.5h1M82 45.5h1M0 46.5h1M45 46.5h1M47 46.5h2M82 46.5h1M87 46.5h1M19 47.5h1M45 47.5h1M82 47.5h1M93 48.5h1M0 49.5h4M87 49.5h1M93 49.5h1M99 49.5h1M4 50.5h1M47 50.5h1M58 50.5h1M82 50.5h1M84 50.5h1M95 50.5h2M5 51.5h1M18 51.5h1M57 51.5h1M17 52.5h1M93 52.5h1M99 52.5h2M15 53.5h1M50 53.5h1M59 53.5h1M96 53.5h1M0 54.5h1M9 54.5h1M94 54.5h1M42 55.5h1M46 55.5h1M53 55.5h1M41 56.5h1M93 56.5h1M25 57.5h1M46 57.5h1M56 57.5h1M66 57.5h1M85 57.5h1M83 58.5h1M0 59.5h1M3 59.5h1M82 59.5h1M90 59.5h1M66 60.5h1M94 60.5h1M96 60.5h1M15 61.5h1M51 61.5h1M81 61.5h1M6 62.5h1M51 62.5h1M77 62.5h2M81 62.5h3M93 62.5h1M93 63.5h1M96 63.5h1M98 63.5h1M6 64.5h1M51 64.5h1M51 65.5h1M51 67.5h1M92 67.5h1M24 68.5h1M74 69.5h1M33 70.5h1M75 70.5h2M16 71.5h1M32 71.5h1M18 72.5h1M31 72.5h1M51 72.5h1M64 72.5h1M66 72.5h2M76 72.5h1M78 72.5h1M81 72.5h1M18 73.5h1M25 74.5h1M27 74.5h2M30 74.5h2M44 74.5h1M69 74.5h1M4 75.5h1M16 75.5h1M30 75.5h1M32 75.5h4M46 75.5h1M63 75.5h1M0 76.5h4M30 76.5h1M46 76.5h1M58 76.5h1M15 77.5h1M20 77.5h1M29 77.5h1M33 77.5h1M44 77.5h1M0 78.5h1M22 78.5h1M35 78.5h1M0 79.5h2M3 79.5h1M14 79.5h1M20 79.5h1M27 79.5h1M31 79.5h1M69 79.5h1M82 79.5h1M27 80.5h1M36 80.5h1M86 80.5h1M36 81.5h1M54 81.5h1M69 81.5h1M86 81.5h1M27 82.5h1M36 82.5h1M49 82.5h1M54 82.5h1M86 82.5h1M75 83.5h1M9 85.5h2M13 85.5h1M87 85.5h1M14 86.5h1M16 86.5h1M20 86.5h1M42 86.5h1M83 86.5h1M5 87.5h1M41 87.5h1M83 87.5h1M88 87.5h1M14 88.5h1M20 88.5h1M27 88.5h2M41 88.5h1M45 88.5h1M82 88.5h1M14 89.5h2M28 89.5h1M37 89.5h1M44 89.5h1M63 89.5h1M14 90.5h1M26 90.5h3M27 91.5h1M8 92.5h3M96 92.5h4M33 93.5h1M94 93.5h1M101 93.5h4M46 94.5h1M93 94.5h1M47 95.5h1M92 95.5h1M99 95.5h1M34 96.5h1M35 97.5h1M47 97.5h1M95 97.5h1M19 98.5h1M20 99.5h1M45 99.5h1M94 99.5h1M56 100.5h1M95 100.5h1M27 101.5h1M33 101.5h1M51 101.5h1M24 103.5h1M52 103.5h1M55 103.5h1M45 104.5h1M53 104.5h1M81 104.5h1M15 105.5h4M23 105.5h1M51 105.5h1M70 105.5h1M81 105.5h1M100 105.5h1M1 106.5h1M14 106.5h1M35 106.5h1M52 106.5h1M71 106.5h1M81 106.5h1M98 106.5h1M1 107.5h1M25 107.5h2M29 107.5h2M81 107.5h1M24 108.5h3M29 108.5h2M81 108.5h1M85 108.5h1M14 109.5h1M29 109.5h1M73 109.5h2M81 109.5h1M21 110.5h1M33 110.5h1M47 110.5h1M88 110.5h3M93 110.5h1M41 111.5h1M46 111.5h1M50 111.5h1M55 111.5h1M73 111.5h1M79 111.5h2M83 111.5h1M94 111.5h1M49 112.5h1M55 112.5h1M61 112.5h1M67 112.5h2M74 112.5h1M77 112.5h1M94 112.5h1M28 113.5h1M31 113.5h1M61 113.5h1M64 113.5h2M68 113.5h1M75 113.5h1M83 113.5h1M28 114.5h1M31 114.5h1M42 114.5h1M61 114.5h1M68 114.5h1M75 114.5h1M93 114.5h1M96 114.5h1M28 115.5h1M75 115.5h1M87 115.5h1M93 115.5h1M28 116.5h1M37 116.5h1M41 116.5h1M61 116.5h1M88 116.5h1M95 116.5h1M18 117.5h1M28 117.5h1M34 117.5h1M36 117.5h1M56 117.5h1M77 117.5h1M27 118.5h1M34 118.5h3M40 118.5h1M61 118.5h1M18 119.5h1M27 119.5h1M35 119.5h2M50 119.5h1M56 119.5h1M11 120.5h2M26 120.5h2M34 120.5h3M44 120.5h1M86 120.5h1M99 120.5h1M13 121.5h1M34 121.5h1M36 121.5h1M49 121.5h1M94 121.5h1M99 121.5h1M13 122.5h1M24 122.5h1M34 122.5h1M37 122.5h1M49 122.5h1M93 122.5h1M13 123.5h1M24 123.5h1M27 123.5h1M34 123.5h1M37 123.5h1M56 123.5h1M92 123.5h1M13 124.5h3M24 124.5h1M26 124.5h2M34 124.5h4M52 124.5h1M61 124.5h2M89 124.5h2M96 124.5h1M12 125.5h2M27 125.5h5M53 125.5h1M12 126.5h1M27 126.5h5M60 126.5h1M63 126.5h1M101 126.5h1M103 126.5h1M4 127.5h1M12 127.5h1M17 127.5h1M28 127.5h3M41 127.5h1M54 127.5h1M63 127.5h1M75 127.5h1M78 127.5h1M92 127.5h1M0 128.5h4M11 128.5h1M15 128.5h1M19 128.5h1M32 128.5h1M41 128.5h1M75 128.5h1M78 128.5h1M31 129.5h1M85 129.5h1M8 130.5h2M31 130.5h1M39 130.5h1M76 130.5h1M86 130.5h1M92 130.5h1M100 130.5h1M14 131.5h1M20 131.5h1M31 131.5h1M39 131.5h1M77 131.5h1M85 131.5h1M93 131.5h1M98 131.5h2M14 132.5h1M33 132.5h1M39 132.5h1M44 132.5h4M77 132.5h1M84 132.5h1M102 132.5h3M14 133.5h1M20 133.5h1M34 133.5h1M39 133.5h1M77 133.5h1M81 133.5h2M102 133.5h2M6 134.5h1M27 134.5h1M30 134.5h1M40 134.5h1M46 134.5h1M52 134.5h1M75 134.5h4M81 134.5h2M9 135.5h1M78 135.5h1M98 135.5h1M11 136.5h1M56 136.5h2M59 136.5h1M62 136.5h1M84 136.5h2M100 136.5h1M61 137.5h1M79 137.5h1M84 137.5h3M94 137.5h1M102 137.5h1M29 139.5h1M47 139.5h1M69 139.5h1M87 139.5h2M20 140.5h2M26 140.5h1M46 140.5h1M82 140.5h1M85 140.5h2M94 140.5h1M21 141.5h1M26 141.5h1M29 141.5h1M45 141.5h1M97 141.5h3M11 142.5h1M20 142.5h1M33 142.5h1M48 142.5h1M11 143.5h1M20 143.5h1M48 143.5h1M61 143.5h2M98 143.5h1M12 144.5h1M23 144.5h1M62 144.5h1M64 144.5h1M69 144.5h1M95 144.5h1M99 144.5h1M46 145.5h1M48 145.5h1M62 145.5h1M72 145.5h1M100 145.5h1M65 146.5h1M70 146.5h1M72 146.5h1M101 146.5h1M103 146.5h2M88 147.5h1M101 147.5h1M103 147.5h2M20 148.5h1M100 148.5h1M20 149.5h1M32 149.5h1M40 149.5h2M76 149.5h1M100 149.5h1M31 150.5h2M84 150.5h1M100 150.5h1M11 151.5h1M100 151.5h1M10 152.5h1M75 152.5h1M84 152.5h1M100 152.5h1M11 153.5h2M100 153.5h1M24 154.5h1M35 154.5h3M100 154.5h1M30 155.5h1M41 155.5h1M100 155.5h1M81 156.5h1M89 156.5h1M29 157.5h1M76 157.5h1M34 158.5h1M37 158.5h1M75 158.5h1M32 159.5h1M73 159.5h1M29 160.5h1M32 160.5h1M88 160.5h1M100 160.5h1M32 161.5h1M72 161.5h1M80 161.5h1M100 161.5h1M0 162.5h4M10 162.5h1M12 162.5h1M32 162.5h1M39 162.5h2M74 162.5h1M78 162.5h5M100 162.5h1M12 163.5h1M75 163.5h1M90 163.5h1M95 163.5h1M100 163.5h1M11 164.5h1M30 164.5h1M32 164.5h1M38 164.5h1M41 164.5h1M75 164.5h1M90 164.5h1M100 164.5h1M5 165.5h1M36 165.5h1M40 165.5h1M4 166.5h1M39 166.5h1M47 166.5h1M16 167.5h3M80 167.5h1M100 167.5h1M2 168.5h1M17 168.5h1M85 168.5h2M102 168.5h2M18 169.5h1M82 169.5h1M24 170.5h1M44 170.5h1M48 170.5h1M81 170.5h1M86 170.5h1M88 170.5h1M84 171.5h1M23 172.5h1M40 172.5h1M90 172.5h1M93 172.5h1M32 173.5h1M47 173.5h1M81 173.5h1M43 174.5h2M48 174.5h1M48 175.5h1M50 175.5h1M84 175.5h1M94 175.5h1M52 177.5h2M90 177.5h1M33 178.5h1M56 178.5h1M90 178.5h1M32 179.5h2M84 179.5h1M94 179.5h1M54 180.5h4M94 180.5h1M93 181.5h1M30 183.5h2M101 183.5h3M51 184.5h1M70 184.5h1M100 184.5h1M48 185.5h1M99 185.5h1M29 186.5h1M39 186.5h1M67 186.5h1M74 186.5h1M101 186.5h4M41 187.5h1M75 187.5h1M99 187.5h1M41 188.5h1M56 188.5h1M66 188.5h1M75 188.5h1M37 189.5h1M55 189.5h1M67 189.5h1M38 190.5h1M46 190.5h1M53 190.5h1M64 190.5h2M57 191.5h1M66 191.5h1M44 192.5h1M84 192.5h1M43 195.5h1M56 195.5h2M86 195.5h1M21 196.5h1M32 196.5h2M46 196.5h3M84 196.5h1M38 197.5h1M32 198.5h1M34 199.5h1M40 199.5h1M23 200.5h1M24 201.5h2M39 201.5h1M29 202.5h2M47 203.5h1M26 204.5h1M32 204.5h1M6 205.5h1M27 205.5h1M44 205.5h1M22 208.5h1M27 208.5h1M32 208.5h1M38 208.5h1M23 209.5h1M93 209.5h2M19 210.5h1M31 210.5h1M93 210.5h1M95 210.5h1M94 211.5h2M97 211.5h1M27 212.5h1M96 212.5h2M29 214.5h1"/>
<path stroke="#ffca00" d="M41 7.5h1M25 8.5h1M29 8.5h1M38 8.5h1M41 8.5h1M60 8.5h1M31 9.5h1M45 9.5h1M47 9.5h1M32 10.5h1M23 11.5h1M41 11.5h1M47 12.5h1M28 13.5h1M64 13.5h1M33 14.5h1M68 14.5h2M5 15.5h1M35 15.5h1M48 15.5h1M19 16.5h1M34 16.5h1M41 16.5h1M50 16.5h1M88 16.5h1M19 17.5h1M33 17.5h2M41 17.5h1M47 17.5h1M69 17.5h1M90 17.5h1M0 18.5h1M4 18.5h1M19 18.5h1M31 18.5h2M34 18.5h1M41 18.5h1M46 18.5h1M49 18.5h1M90 18.5h1M0 19.5h5M29 19.5h1M33 19.5h1M36 19.5h1M88 19.5h2M0 20.5h5M6 20.5h2M26 20.5h2M38 20.5h1M83 20.5h2M0 21.5h4M13 21.5h1M21 21.5h1M25 21.5h3M44 21.5h1M82 21.5h1M86 21.5h1M96 21.5h1M0 22.5h2M4 22.5h1M43 22.5h1M56 22.5h1M82 22.5h1M0 23.5h1M29 23.5h1M34 23.5h1M37 23.5h1M56 23.5h1M58 23.5h1M75 23.5h1M77 23.5h1M83 23.5h1M87 23.5h1M0 24.5h1M21 24.5h1M44 24.5h1M55 24.5h2M87 24.5h1M0 25.5h1M34 25.5h1M45 25.5h1M0 26.5h1M66 26.5h1M85 26.5h2M0 27.5h1M3 27.5h1M0 28.5h2M3 28.5h1M9 28.5h1M11 28.5h1M41 28.5h1M45 28.5h1M0 29.5h6M11 29.5h2M42 29.5h1M44 29.5h1M56 29.5h1M58 29.5h1M0 30.5h4M6 30.5h1M11 30.5h1M0 31.5h4M11 31.5h1M22 31.5h1M32 31.5h1M63 31.5h1M0 32.5h4M7 32.5h1M11 32.5h1M13 32.5h1M31 32.5h1M65 32.5h1M0 33.5h5M8 33.5h3M13 33.5h1M54 33.5h1M1 34.5h3M11 34.5h2M36 34.5h2M45 34.5h1M56 34.5h1M86 34.5h1M2 35.5h1M12 35.5h1M33 35.5h1M45 35.5h1M69 35.5h1M84 35.5h1M1 36.5h2M32 36.5h1M45 36.5h1M57 36.5h1M69 36.5h1M87 36.5h1M0 37.5h1M3 37.5h1M57 37.5h1M71 37.5h1M73 37.5h1M85 37.5h1M38 38.5h1M55 38.5h2M80 38.5h1M36 39.5h1M39 39.5h1M83 39.5h1M36 40.5h1M50 40.5h1M78 40.5h1M13 41.5h1M20 41.5h1M14 42.5h1M49 42.5h1M83 42.5h1M17 43.5h2M49 43.5h1M78 43.5h1M83 43.5h1M49 44.5h1M82 44.5h1M85 44.5h1M0 45.5h1M3 45.5h1M9 45.5h1M45 45.5h3M86 45.5h1M3 46.5h1M49 46.5h1M0 47.5h1M10 47.5h1M16 47.5h1M92 47.5h1M4 48.5h1M10 48.5h1M45 48.5h1M82 48.5h1M101 48.5h1M103 48.5h2M4 49.5h1M46 49.5h1M82 49.5h1M86 49.5h1M88 49.5h2M92 49.5h1M19 50.5h1M59 50.5h2M83 50.5h1M97 50.5h1M13 51.5h1M60 51.5h1M94 51.5h1M7 52.5h1M57 52.5h1M98 52.5h1M16 53.5h1M37 53.5h2M49 53.5h1M58 53.5h1M93 53.5h1M95 53.5h1M3 54.5h1M43 54.5h3M52 54.5h1M93 55.5h1M24 57.5h1M26 57.5h1M69 57.5h1M86 57.5h3M0 58.5h1M27 58.5h1M41 58.5h1M46 58.5h1M52 58.5h2M55 58.5h1M92 58.5h1M1 59.5h2M51 59.5h1M88 59.5h2M20 60.5h1M51 60.5h1M84 60.5h1M95 60.5h1M9 61.5h1M28 61.5h1M97 61.5h1M28 62.5h1M94 62.5h1M98 62.5h1M6 63.5h1M15 63.5h1M92 63.5h1M97 63.5h1M90 64.5h1M93 64.5h1M28 65.5h1M74 65.5h1M89 65.5h1M28 66.5h1M51 66.5h1M85 66.5h1M4 67.5h1M23 67.5h1M84 67.5h1M5 68.5h1M10 68.5h1M16 68.5h1M27 68.5h1M73 68.5h2M83 68.5h1M87 68.5h1M8 69.5h1M15 69.5h1M18 69.5h1M15 70.5h1M19 70.5h1M36 70.5h1M82 70.5h1M86 70.5h1M19 71.5h1M49 71.5h1M62 71.5h1M76 71.5h2M86 71.5h1M17 72.5h1M19 72.5h1M77 72.5h1M86 72.5h1M17 73.5h1M19 73.5h1M30 73.5h1M52 73.5h3M68 73.5h1M82 73.5h1M86 73.5h1M5 74.5h1M10 74.5h1M29 74.5h1M45 74.5h1M61 74.5h2M83 74.5h1M0 75.5h1M3 75.5h1M31 75.5h1M42 75.5h1M13 76.5h1M15 76.5h1M20 76.5h1M23 76.5h1M32 76.5h2M42 76.5h1M12 77.5h1M30 77.5h3M34 77.5h1M43 77.5h1M45 77.5h1M58 77.5h1M83 77.5h1M4 78.5h1M21 78.5h1M28 78.5h1M31 78.5h1M49 78.5h3M60 78.5h4M86 78.5h1M9 79.5h1M22 79.5h1M53 79.5h1M86 79.5h1M0 80.5h4M48 80.5h1M24 81.5h1M48 81.5h1M81 81.5h1M13 82.5h1M13 83.5h1M26 83.5h1M86 83.5h1M13 84.5h1M33 84.5h2M75 84.5h1M82 84.5h1M86 84.5h1M8 85.5h1M11 85.5h2M20 85.5h1M75 85.5h1M86 85.5h1M6 86.5h1M15 86.5h1M45 86.5h1M75 86.5h1M85 86.5h4M14 87.5h1M16 87.5h1M75 87.5h1M84 87.5h4M16 88.5h1M63 88.5h1M86 88.5h1M26 89.5h1M35 89.5h1M62 89.5h1M64 89.5h1M5 90.5h5M13 90.5h1M34 90.5h1M62 90.5h2M0 91.5h5M13 91.5h1M24 91.5h1M21 92.5h2M40 93.5h1M43 93.5h1M95 93.5h1M99 93.5h2M98 94.5h2M104 94.5h1M33 95.5h1M96 95.5h1M20 96.5h1M34 97.5h1M33 98.5h1M21 99.5h2M55 99.5h2M92 99.5h1M98 99.5h1M44 100.5h1M51 100.5h1M94 100.5h1M57 101.5h1M86 101.5h1M25 102.5h4M44 102.5h1M51 102.5h1M57 102.5h1M87 102.5h1M27 103.5h2M51 103.5h1M56 103.5h1M81 103.5h1M83 103.5h1M88 103.5h2M24 104.5h1M27 104.5h2M34 104.5h1M51 104.5h1M84 104.5h1M102 104.5h2M24 105.5h1M27 105.5h3M34 105.5h1M71 105.5h1M85 105.5h1M2 106.5h1M23 106.5h9M51 106.5h1M69 106.5h1M2 107.5h1M14 107.5h1M24 107.5h1M27 107.5h2M31 107.5h1M35 107.5h1M70 107.5h2M14 108.5h1M23 108.5h1M27 108.5h2M31 108.5h1M95 108.5h1M20 109.5h9M30 109.5h1M34 109.5h1M92 109.5h1M95 109.5h1M22 110.5h1M27 110.5h4M53 110.5h2M75 110.5h1M81 110.5h1M94 110.5h2M27 111.5h3M31 111.5h1M40 111.5h1M61 111.5h1M75 111.5h1M81 111.5h1M95 111.5h1M97 111.5h1M27 112.5h3M31 112.5h1M60 112.5h1M62 112.5h1M73 112.5h1M75 112.5h2M83 112.5h1M21 113.5h1M27 113.5h1M29 113.5h1M49 113.5h1M74 113.5h1M94 113.5h1M27 114.5h1M29 114.5h2M52 114.5h1M27 115.5h1M29 115.5h3M46 115.5h1M61 115.5h1M68 115.5h1M85 115.5h1M19 116.5h1M27 116.5h1M29 116.5h1M32 116.5h1M46 116.5h1M59 116.5h2M67 116.5h1M75 116.5h1M94 116.5h1M27 117.5h1M33 117.5h1M37 117.5h1M46 117.5h1M62 117.5h4M76 117.5h1M18 118.5h1M28 118.5h1M46 118.5h1M52 118.5h4M26 119.5h1M28 119.5h1M34 119.5h1M40 119.5h1M55 119.5h1M25 120.5h1M28 120.5h1M55 120.5h1M58 120.5h2M96 120.5h1M7 121.5h3M24 121.5h1M28 121.5h1M37 121.5h1M55 121.5h1M18 122.5h1M28 122.5h1M33 122.5h1M98 122.5h1M17 123.5h1M28 123.5h1M33 123.5h1M97 123.5h1M0 124.5h4M12 124.5h1M28 124.5h6M88 124.5h1M91 124.5h1M0 125.5h4M11 125.5h1M14 125.5h1M25 125.5h2M32 125.5h4M43 125.5h1M60 125.5h1M63 125.5h1M93 125.5h1M3 126.5h2M13 126.5h2M32 126.5h2M92 126.5h1M102 126.5h1M13 127.5h1M15 127.5h2M18 127.5h1M27 127.5h1M31 127.5h3M45 127.5h1M56 127.5h1M60 127.5h1M104 127.5h1M27 128.5h5M35 128.5h1M54 128.5h2M62 128.5h1M14 129.5h1M37 129.5h1M41 129.5h1M47 129.5h1M78 129.5h1M86 129.5h1M6 130.5h2M14 130.5h1M20 130.5h1M43 130.5h1M49 130.5h1M51 130.5h3M104 130.5h1M5 131.5h1M76 131.5h1M100 131.5h5M31 132.5h2M43 132.5h1M78 132.5h1M81 132.5h1M101 132.5h1M5 133.5h1M30 133.5h1M45 133.5h1M76 133.5h1M78 133.5h3M83 133.5h1M101 133.5h1M104 133.5h1M7 134.5h3M14 134.5h1M34 134.5h1M79 134.5h2M83 134.5h1M102 134.5h2M10 135.5h1M17 135.5h1M34 135.5h1M73 135.5h1M79 135.5h1M81 135.5h4M97 135.5h1M99 135.5h1M12 136.5h1M34 136.5h1M58 136.5h1M72 136.5h1M79 136.5h1M82 136.5h2M86 136.5h1M95 136.5h1M12 137.5h1M34 137.5h1M62 137.5h1M71 137.5h1M80 137.5h1M83 137.5h1M12 138.5h1M34 138.5h1M49 138.5h1M52 138.5h1M60 138.5h1M70 138.5h1M81 138.5h1M85 138.5h4M12 139.5h1M21 139.5h1M24 139.5h1M34 139.5h1M68 139.5h1M82 139.5h1M86 139.5h1M89 139.5h1M66 140.5h1M83 140.5h2M89 140.5h1M89 141.5h1M96 141.5h1M100 141.5h1M21 142.5h1M25 142.5h1M60 142.5h1M89 142.5h1M98 142.5h1M24 143.5h1M31 143.5h2M97 143.5h1M20 144.5h1M45 144.5h1M48 144.5h1M55 144.5h1M63 144.5h1M71 144.5h1M20 145.5h1M22 145.5h1M47 145.5h1M65 145.5h1M69 145.5h1M104 145.5h1M20 146.5h1M22 146.5h1M63 146.5h1M71 146.5h1M102 146.5h1M20 147.5h1M22 147.5h1M73 147.5h2M102 147.5h1M23 148.5h1M75 148.5h1M101 148.5h4M24 149.5h1M73 149.5h1M89 149.5h1M104 149.5h1M74 150.5h1M83 150.5h1M104 150.5h1M31 151.5h2M42 151.5h1M82 151.5h1M84 151.5h1M90 151.5h1M104 151.5h1M11 152.5h1M32 152.5h1M77 152.5h1M82 152.5h1M90 152.5h1M101 152.5h1M103 152.5h2M22 153.5h1M33 153.5h1M39 153.5h1M90 153.5h1M101 153.5h1M103 153.5h2M30 154.5h1M34 154.5h1M38 154.5h1M42 154.5h1M103 154.5h2M40 155.5h1M104 155.5h1M30 156.5h1M39 156.5h1M78 156.5h1M104 156.5h1M30 157.5h1M38 157.5h1M104 157.5h1M29 158.5h1M32 158.5h2M35 158.5h2M76 158.5h1M88 158.5h1M104 158.5h1M29 159.5h1M31 159.5h1M74 159.5h2M81 159.5h1M88 159.5h1M104 159.5h1M31 160.5h1M72 160.5h1M104 160.5h1M29 161.5h1M76 161.5h4M89 161.5h1M103 161.5h2M11 162.5h1M75 162.5h3M94 162.5h1M101 162.5h1M103 162.5h2M0 163.5h2M32 163.5h1M41 163.5h1M76 163.5h5M83 163.5h1M101 163.5h1M104 163.5h1M31 164.5h1M83 164.5h1M104 164.5h1M37 165.5h1M39 165.5h1M75 165.5h1M81 165.5h1M95 165.5h1M100 165.5h1M22 166.5h1M35 166.5h1M75 166.5h1M80 166.5h1M89 166.5h1M94 166.5h1M100 166.5h1M0 167.5h1M36 167.5h1M38 167.5h1M77 167.5h1M88 167.5h1M103 167.5h2M87 168.5h1M23 169.5h1M83 169.5h1M85 170.5h1M89 170.5h1M92 170.5h1M26 171.5h1M41 171.5h3M81 171.5h1M92 171.5h1M31 172.5h1M47 172.5h1M81 172.5h1M41 173.5h1M46 173.5h1M83 173.5h1M94 173.5h1M32 174.5h1M82 174.5h2M91 174.5h1M94 174.5h1M32 175.5h1M49 175.5h1M82 175.5h1M91 175.5h1M30 176.5h1M32 176.5h1M48 176.5h1M82 176.5h1M93 176.5h1M31 177.5h2M48 177.5h1M54 177.5h2M93 177.5h1M32 178.5h1M48 178.5h1M84 178.5h1M49 179.5h1M56 179.5h1M82 179.5h1M91 179.5h1M92 180.5h2M29 184.5h1M49 184.5h2M32 185.5h1M53 185.5h1M72 185.5h1M35 186.5h4M99 186.5h2M31 187.5h1M40 187.5h1M49 187.5h1M33 188.5h1M70 188.5h2M54 189.5h1M58 190.5h1M60 190.5h4M52 191.5h1M41 192.5h1M57 192.5h1M85 192.5h1M42 193.5h2M50 193.5h1M60 193.5h1M62 193.5h1M39 194.5h4M49 194.5h1M59 194.5h1M66 194.5h1M84 195.5h1M22 196.5h1M34 196.5h4M24 197.5h1M32 197.5h1M24 198.5h1M38 198.5h1M35 199.5h5M27 202.5h2M43 202.5h2M46 202.5h1M24 203.5h1M6 204.5h1M46 204.5h1M32 205.5h1M41 205.5h1M32 207.5h1M35 207.5h1M21 208.5h1M36 208.5h1M19 209.5h1M27 209.5h1M31 209.5h1M94 210.5h1M21 211.5h1M31 211.5h1M96 211.5h1M31 212.5h1"/>
<path stroke="#ffbf00" d="M38 6.5h1M26 8.5h1M28 8.5h1M57 8.5h1M23 9.5h1M39 9.5h2M23 10.5h1M39 10.5h2M63 10.5h1M65 10.5h1M45 11.5h1M47 11.5h1M60 11.5h1M24 12.5h1M37 12.5h1M41 12.5h1M57 12.5h1M59 12.5h1M63 12.5h1M65 12.5h1M41 13.5h1M21 14.5h2M36 14.5h1M41 14.5h1M0 15.5h1M4 15.5h1M33 15.5h1M41 15.5h1M49 15.5h2M71 15.5h1M5 16.5h1M33 16.5h1M48 16.5h1M4 17.5h1M31 17.5h2M49 17.5h1M70 17.5h1M88 17.5h1M1 18.5h3M88 18.5h1M25 19.5h1M30 19.5h1M32 19.5h1M41 19.5h1M49 19.5h1M5 20.5h1M28 20.5h1M33 20.5h1M45 20.5h1M4 21.5h2M24 21.5h1M28 21.5h1M42 21.5h1M50 21.5h1M75 21.5h1M77 21.5h1M94 21.5h2M2 22.5h2M9 22.5h1M13 22.5h1M28 22.5h1M44 22.5h1M86 22.5h1M96 22.5h1M1 23.5h3M30 23.5h4M43 23.5h2M51 23.5h1M57 23.5h1M76 23.5h1M94 23.5h1M1 24.5h1M3 24.5h1M34 24.5h1M42 24.5h1M85 24.5h1M1 25.5h1M3 25.5h1M20 25.5h1M41 25.5h1M52 25.5h2M56 25.5h1M85 25.5h2M1 26.5h1M3 26.5h1M19 26.5h1M23 26.5h1M1 27.5h2M9 27.5h2M24 27.5h1M57 27.5h1M69 27.5h1M2 28.5h1M10 28.5h1M69 28.5h1M20 29.5h1M45 29.5h1M52 29.5h1M4 30.5h2M12 30.5h1M57 30.5h1M4 31.5h1M6 31.5h1M36 31.5h1M58 31.5h1M4 32.5h1M12 32.5h1M30 32.5h1M37 32.5h1M52 32.5h1M64 32.5h1M5 33.5h3M11 33.5h2M42 33.5h1M45 33.5h1M53 33.5h1M13 34.5h1M26 34.5h1M34 34.5h2M25 35.5h1M41 35.5h1M70 35.5h1M74 35.5h1M87 35.5h1M41 36.5h1M83 36.5h1M1 37.5h2M13 37.5h1M27 37.5h4M43 37.5h2M72 37.5h1M81 37.5h1M4 38.5h1M39 38.5h1M51 38.5h1M11 39.5h1M80 39.5h1M12 40.5h1M49 41.5h1M15 43.5h2M0 44.5h1M44 44.5h2M48 44.5h1M83 44.5h2M1 45.5h1M44 45.5h1M48 45.5h2M1 46.5h1M10 46.5h1M18 46.5h1M44 46.5h1M86 46.5h1M1 47.5h1M3 47.5h1M44 47.5h1M87 47.5h5M0 48.5h4M44 48.5h1M92 48.5h1M102 48.5h1M8 49.5h2M85 49.5h1M90 49.5h2M100 49.5h1M98 50.5h1M47 51.5h1M58 51.5h1M95 51.5h1M37 52.5h2M59 52.5h1M94 52.5h1M97 52.5h1M48 53.5h1M94 53.5h1M1 54.5h2M37 54.5h2M46 54.5h1M92 54.5h2M0 55.5h1M52 55.5h1M91 55.5h1M55 56.5h1M90 56.5h1M0 57.5h1M52 57.5h1M67 57.5h2M89 57.5h1M3 58.5h1M51 58.5h1M54 58.5h1M66 58.5h1M84 58.5h1M44 59.5h2M66 59.5h2M83 59.5h1M85 59.5h3M28 60.5h1M82 60.5h1M33 61.5h1M82 61.5h2M94 61.5h1M7 62.5h2M21 62.5h1M23 62.5h1M33 62.5h2M28 63.5h1M7 64.5h1M28 64.5h1M16 65.5h1M40 65.5h2M73 65.5h1M93 65.5h1M22 66.5h1M74 66.5h1M86 66.5h3M93 66.5h1M28 67.5h1M74 67.5h1M87 67.5h5M17 68.5h1M86 68.5h1M7 69.5h1M9 69.5h1M33 69.5h2M49 69.5h1M86 69.5h1M32 70.5h1M48 70.5h1M20 71.5h1M57 71.5h1M82 71.5h1M16 72.5h1M50 72.5h1M56 72.5h1M63 72.5h1M38 73.5h1M55 73.5h1M64 73.5h2M4 74.5h1M16 74.5h1M24 74.5h1M43 74.5h1M60 74.5h1M63 74.5h1M86 74.5h1M1 75.5h2M12 75.5h1M36 75.5h1M58 75.5h1M84 75.5h1M86 75.5h1M14 76.5h1M31 76.5h1M34 76.5h1M47 76.5h1M86 76.5h1M13 77.5h2M22 77.5h1M42 77.5h1M46 77.5h2M86 77.5h1M7 78.5h1M11 78.5h1M14 78.5h1M29 78.5h2M48 78.5h1M52 78.5h1M59 78.5h1M69 78.5h1M21 79.5h1M36 79.5h1M48 79.5h1M20 80.5h1M28 80.5h1M30 80.5h1M54 80.5h1M13 81.5h1M28 81.5h1M30 81.5h1M28 82.5h1M81 82.5h1M25 83.5h1M27 83.5h1M31 83.5h1M36 83.5h1M50 83.5h1M54 83.5h1M71 83.5h4M35 84.5h1M52 84.5h2M83 85.5h1M41 86.5h1M58 86.5h1M84 86.5h1M27 87.5h2M4 88.5h1M15 88.5h1M26 88.5h1M29 88.5h1M62 88.5h1M64 88.5h1M76 88.5h1M83 88.5h3M4 89.5h1M20 89.5h1M29 89.5h1M86 89.5h1M0 90.5h5M10 90.5h3M25 90.5h1M64 90.5h1M5 91.5h4M20 91.5h1M28 91.5h1M39 91.5h1M68 91.5h2M28 92.5h1M33 92.5h1M42 93.5h1M44 93.5h1M96 93.5h3M47 94.5h1M94 94.5h4M100 94.5h4M80 95.5h1M95 95.5h1M100 95.5h1M92 96.5h1M95 96.5h1M100 96.5h1M57 97.5h1M100 97.5h1M23 98.5h1M47 98.5h1M56 98.5h2M86 98.5h1M94 98.5h1M54 99.5h1M57 99.5h1M93 99.5h1M28 100.5h1M57 100.5h1M92 100.5h2M96 100.5h1M28 101.5h1M91 101.5h1M81 102.5h2M90 102.5h1M57 103.5h1M29 104.5h1M65 104.5h2M71 104.5h1M101 104.5h1M104 104.5h1M25 105.5h2M30 105.5h1M47 105.5h1M53 105.5h1M69 105.5h1M72 105.5h1M15 106.5h1M18 106.5h5M32 106.5h3M72 106.5h1M86 106.5h1M97 106.5h1M23 107.5h1M32 107.5h1M69 107.5h1M72 107.5h1M22 108.5h1M72 108.5h3M92 108.5h2M15 109.5h1M18 109.5h2M31 109.5h1M72 109.5h1M75 109.5h1M91 109.5h1M93 109.5h2M23 110.5h1M25 110.5h2M31 110.5h2M52 110.5h1M55 110.5h1M72 110.5h1M22 111.5h1M30 111.5h1M47 111.5h3M56 111.5h1M60 111.5h1M67 111.5h2M78 111.5h1M82 111.5h1M96 111.5h1M30 112.5h1M41 112.5h1M46 112.5h1M48 112.5h1M66 112.5h1M82 112.5h1M95 112.5h1M98 112.5h1M30 113.5h1M39 113.5h1M46 113.5h1M55 113.5h1M60 113.5h1M69 113.5h1M97 113.5h1M46 114.5h1M51 114.5h1M53 114.5h1M69 114.5h1M20 115.5h1M38 115.5h1M86 115.5h1M95 115.5h1M30 116.5h2M58 116.5h1M84 116.5h1M19 117.5h1M29 117.5h1M40 117.5h1M66 117.5h1M83 117.5h1M26 118.5h1M33 118.5h1M37 118.5h1M87 118.5h1M19 119.5h1M37 119.5h1M61 119.5h1M19 120.5h1M37 120.5h1M41 120.5h1M45 120.5h1M49 120.5h1M57 120.5h1M97 120.5h2M0 121.5h7M10 121.5h3M19 121.5h1M33 121.5h1M95 121.5h1M98 121.5h1M23 122.5h1M38 122.5h1M94 122.5h1M12 123.5h1M23 123.5h1M29 123.5h4M38 123.5h1M49 123.5h1M62 123.5h1M69 123.5h2M86 123.5h1M93 123.5h1M16 124.5h1M23 124.5h1M38 124.5h1M57 124.5h1M63 124.5h1M87 124.5h1M92 124.5h1M95 124.5h1M4 125.5h2M15 125.5h1M36 125.5h1M42 125.5h1M44 125.5h1M57 125.5h1M91 125.5h2M0 126.5h3M15 126.5h2M26 126.5h1M34 126.5h1M41 126.5h1M53 126.5h1M57 126.5h1M78 126.5h2M0 127.5h4M14 127.5h1M19 127.5h1M34 127.5h1M101 127.5h1M12 128.5h1M14 128.5h1M20 128.5h1M61 128.5h1M63 128.5h1M104 128.5h1M11 129.5h1M20 129.5h1M29 129.5h2M38 129.5h1M53 129.5h2M84 129.5h1M101 129.5h1M104 129.5h1M30 130.5h1M40 130.5h1M42 130.5h1M50 130.5h1M54 130.5h1M78 130.5h1M82 130.5h1M91 130.5h1M101 130.5h3M8 131.5h2M30 131.5h1M43 131.5h1M78 131.5h1M81 131.5h1M86 131.5h1M92 131.5h1M5 132.5h1M9 132.5h1M30 132.5h1M76 132.5h1M79 132.5h2M100 132.5h1M8 133.5h2M31 133.5h1M47 133.5h1M75 133.5h1M20 134.5h1M31 134.5h1M74 134.5h1M101 134.5h1M104 134.5h1M11 135.5h1M16 135.5h1M18 135.5h1M80 135.5h1M85 135.5h1M100 135.5h2M104 135.5h1M55 136.5h1M80 136.5h2M101 136.5h1M103 136.5h2M54 137.5h1M63 137.5h1M81 137.5h2M87 137.5h1M22 138.5h1M50 138.5h2M69 138.5h1M82 138.5h3M93 138.5h1M16 139.5h5M22 139.5h2M60 139.5h1M67 139.5h1M83 139.5h3M93 139.5h1M14 140.5h1M22 140.5h1M29 140.5h1M47 140.5h1M49 140.5h1M65 140.5h1M22 141.5h1M33 141.5h1M46 141.5h1M48 141.5h1M63 141.5h1M95 141.5h1M101 141.5h4M13 142.5h1M22 142.5h1M30 142.5h1M45 142.5h1M62 142.5h1M97 142.5h1M99 142.5h1M21 143.5h3M45 143.5h1M89 143.5h1M99 143.5h1M21 144.5h2M70 144.5h1M89 144.5h1M21 145.5h1M89 145.5h1M101 145.5h3M21 146.5h1M64 146.5h1M89 146.5h1M93 146.5h1M21 147.5h1M93 147.5h1M21 148.5h2M73 148.5h1M101 149.5h3M25 150.5h1M76 150.5h1M101 150.5h3M21 151.5h1M30 151.5h1M75 151.5h1M77 151.5h1M101 151.5h3M31 152.5h1M42 152.5h1M76 152.5h1M83 152.5h1M102 152.5h1M31 153.5h2M42 153.5h1M102 153.5h1M31 154.5h3M90 154.5h1M101 154.5h2M31 155.5h1M33 155.5h1M101 155.5h3M31 156.5h2M79 156.5h2M101 156.5h1M103 156.5h1M31 157.5h4M77 157.5h1M81 157.5h1M89 157.5h1M101 157.5h1M103 157.5h1M30 158.5h2M81 158.5h1M101 158.5h1M103 158.5h1M30 159.5h1M76 159.5h1M101 159.5h1M103 159.5h1M30 160.5h1M73 160.5h5M80 160.5h1M101 160.5h3M31 161.5h1M73 161.5h3M101 161.5h2M29 162.5h1M90 162.5h1M102 162.5h1M2 163.5h4M11 163.5h1M29 163.5h1M39 163.5h1M81 163.5h2M102 163.5h2M0 164.5h1M10 164.5h1M39 164.5h2M76 164.5h1M79 164.5h4M95 164.5h1M101 164.5h1M103 164.5h1M4 165.5h1M38 165.5h1M80 165.5h1M90 165.5h1M104 165.5h1M0 166.5h1M21 166.5h1M38 166.5h1M49 166.5h1M104 166.5h1M1 167.5h1M3 167.5h1M19 167.5h1M37 167.5h1M47 167.5h1M78 167.5h2M93 167.5h1M101 167.5h2M18 168.5h1M49 168.5h1M88 168.5h1M46 169.5h1M48 169.5h1M84 169.5h5M92 169.5h1M21 170.5h3M45 170.5h1M47 170.5h1M82 170.5h1M84 170.5h1M23 171.5h1M25 171.5h1M47 171.5h1M90 171.5h1M41 172.5h1M83 172.5h1M91 172.5h2M24 173.5h1M42 173.5h1M44 173.5h2M82 173.5h1M91 173.5h1M93 173.5h1M29 174.5h1M93 174.5h1M83 175.5h1M92 175.5h2M50 176.5h1M84 176.5h1M91 176.5h1M51 177.5h1M82 177.5h1M84 177.5h1M91 177.5h1M52 178.5h2M82 178.5h1M91 178.5h1M93 178.5h1M50 179.5h4M55 179.5h1M83 179.5h1M93 179.5h1M31 184.5h1M101 184.5h1M103 184.5h2M29 185.5h1M49 185.5h1M69 185.5h1M100 185.5h1M103 185.5h2M30 186.5h1M33 186.5h2M49 186.5h1M54 186.5h1M68 186.5h1M73 186.5h1M38 187.5h2M55 187.5h1M67 187.5h1M74 187.5h1M36 188.5h2M40 188.5h1M49 188.5h1M55 188.5h1M67 188.5h3M72 188.5h3M38 189.5h1M40 189.5h1M48 189.5h1M39 190.5h2M47 190.5h1M59 190.5h1M39 191.5h2M58 191.5h1M61 191.5h1M65 191.5h1M39 192.5h2M51 192.5h1M61 192.5h1M66 192.5h1M39 193.5h1M41 193.5h1M57 193.5h1M84 193.5h1M86 193.5h1M43 194.5h1M57 194.5h2M64 194.5h2M84 194.5h1M86 194.5h1M44 195.5h1M48 195.5h1M85 195.5h1M37 197.5h1M33 198.5h1M23 199.5h1M39 200.5h1M41 200.5h1M42 201.5h1M24 202.5h1M45 202.5h1M28 203.5h1M31 203.5h1M27 204.5h1M40 204.5h1M45 204.5h1M42 205.5h2M32 206.5h1M38 206.5h1M37 208.5h1M22 210.5h1M27 210.5h1M27 211.5h1M28 213.5h1M31 213.5h1M30 214.5h2"/>
<path stroke="#ffb500" d="M38 7.5h1M27 8.5h1M24 9.5h1M30 9.5h1M46 9.5h1M57 9.5h1M45 10.5h1M47 10.5h1M38 11.5h1M65 11.5h1M25 12.5h1M46 12.5h1M1 15.5h3M67 15.5h1M0 16.5h1M23 16.5h1M35 16.5h1M49 16.5h1M71 16.5h1M0 17.5h4M48 17.5h1M89 17.5h1M35 18.5h1M47 18.5h2M89 18.5h1M31 19.5h1M37 19.5h1M46 19.5h1M20 20.5h1M25 20.5h1M41 20.5h1M49 20.5h1M6 21.5h7M22 21.5h2M33 21.5h1M57 21.5h1M76 21.5h1M83 21.5h1M85 21.5h1M10 22.5h3M33 22.5h1M42 22.5h1M57 22.5h1M75 22.5h1M77 22.5h1M83 22.5h1M94 22.5h1M38 23.5h1M42 23.5h1M84 23.5h3M95 23.5h2M2 24.5h1M45 24.5h1M86 24.5h1M2 25.5h1M21 25.5h2M54 25.5h1M2 26.5h1M35 26.5h1M68 26.5h1M19 28.5h1M25 28.5h1M53 28.5h1M57 28.5h1M21 29.5h1M41 29.5h1M57 29.5h1M67 29.5h1M36 30.5h1M58 30.5h1M5 31.5h1M12 31.5h1M5 32.5h2M29 32.5h1M44 32.5h2M23 33.5h1M27 33.5h1M38 33.5h1M14 34.5h1M18 34.5h5M25 34.5h1M38 34.5h1M41 34.5h1M13 35.5h1M36 35.5h1M71 35.5h1M73 35.5h1M13 36.5h1M25 36.5h1M74 36.5h1M86 36.5h1M14 37.5h1M17 37.5h2M26 37.5h1M31 37.5h1M42 37.5h1M45 37.5h1M52 37.5h2M84 37.5h1M0 38.5h1M3 38.5h1M36 38.5h1M81 38.5h1M83 38.5h1M10 39.5h1M21 39.5h1M50 39.5h1M21 40.5h1M39 40.5h1M79 40.5h1M82 40.5h1M37 41.5h1M78 41.5h1M13 42.5h1M48 42.5h1M14 43.5h1M19 43.5h1M43 43.5h2M48 43.5h1M82 43.5h1M1 44.5h3M8 44.5h1M43 44.5h1M46 44.5h2M2 45.5h1M83 45.5h1M85 45.5h1M2 46.5h1M17 46.5h1M2 47.5h1M86 47.5h1M15 48.5h1M86 48.5h4M91 48.5h1M5 49.5h1M7 49.5h1M10 49.5h1M14 49.5h1M45 49.5h1M83 49.5h2M5 50.5h1M13 50.5h1M99 50.5h1M6 51.5h1M59 51.5h1M96 51.5h3M8 52.5h1M13 52.5h1M39 52.5h1M47 52.5h1M58 52.5h1M95 52.5h2M9 53.5h1M14 53.5h1M39 53.5h1M47 53.5h1M42 54.5h1M47 54.5h1M51 54.5h1M3 55.5h1M38 55.5h1M41 55.5h1M47 55.5h1M0 56.5h1M40 56.5h1M47 56.5h1M52 56.5h3M3 57.5h1M40 57.5h1M47 57.5h1M51 57.5h1M53 57.5h1M92 57.5h1M1 58.5h2M68 58.5h1M88 58.5h4M10 59.5h1M28 59.5h1M43 59.5h1M46 59.5h1M84 59.5h1M10 60.5h1M83 60.5h1M32 61.5h1M34 61.5h1M29 62.5h1M32 62.5h1M50 62.5h1M95 62.5h3M50 63.5h1M8 64.5h1M15 64.5h1M40 64.5h3M91 64.5h1M10 65.5h1M42 65.5h4M40 66.5h2M45 66.5h1M89 66.5h1M0 67.5h2M3 67.5h1M73 67.5h1M85 67.5h2M15 68.5h1M23 68.5h1M28 68.5h1M33 68.5h1M84 68.5h1M6 69.5h1M19 69.5h1M25 69.5h2M35 69.5h1M83 69.5h1M20 70.5h1M15 71.5h1M31 71.5h1M48 71.5h1M20 72.5h1M30 72.5h1M38 72.5h1M82 72.5h1M8 73.5h1M20 73.5h1M29 73.5h1M44 73.5h1M51 73.5h1M56 73.5h1M63 73.5h1M83 73.5h1M0 74.5h1M20 74.5h1M38 74.5h1M46 74.5h1M53 74.5h2M59 74.5h1M64 74.5h1M84 74.5h2M13 75.5h1M15 75.5h1M20 75.5h1M23 75.5h1M47 75.5h1M85 75.5h1M35 76.5h1M41 76.5h1M57 76.5h1M84 76.5h2M21 77.5h1M35 77.5h1M48 77.5h2M57 77.5h1M5 78.5h2M43 78.5h2M47 78.5h1M58 78.5h1M64 78.5h1M83 78.5h1M4 79.5h1M8 79.5h1M10 79.5h1M28 79.5h3M54 79.5h1M4 80.5h1M23 80.5h1M82 80.5h1M0 81.5h4M29 81.5h1M29 82.5h2M48 82.5h1M69 82.5h1M70 83.5h1M8 84.5h2M20 84.5h1M32 84.5h1M54 84.5h1M7 85.5h1M44 85.5h2M57 85.5h2M84 85.5h2M21 86.5h1M57 86.5h1M15 87.5h1M26 87.5h1M29 87.5h1M57 87.5h2M74 87.5h1M75 88.5h1M0 89.5h1M34 89.5h1M61 89.5h1M79 89.5h2M29 90.5h1M43 90.5h1M61 90.5h1M9 91.5h4M50 91.5h1M62 91.5h2M67 91.5h1M70 91.5h1M50 92.5h1M53 92.5h2M28 93.5h1M41 93.5h1M52 93.5h3M28 94.5h1M32 94.5h1M28 95.5h1M48 95.5h1M79 95.5h1M93 95.5h2M104 95.5h1M28 96.5h1M33 96.5h1M48 96.5h1M80 96.5h2M23 97.5h1M28 97.5h1M33 97.5h1M48 97.5h1M56 97.5h1M80 97.5h2M28 98.5h1M55 98.5h1M58 98.5h1M81 98.5h1M92 98.5h1M100 98.5h1M28 99.5h1M32 99.5h1M53 99.5h1M99 99.5h1M32 100.5h1M50 100.5h1M85 100.5h1M44 101.5h1M50 101.5h1M81 101.5h1M50 102.5h1M83 102.5h1M25 103.5h2M29 103.5h1M45 103.5h1M65 103.5h2M72 103.5h1M80 103.5h1M87 103.5h1M25 104.5h2M46 104.5h1M50 104.5h1M54 104.5h1M64 104.5h1M67 104.5h1M69 104.5h2M72 104.5h1M80 104.5h1M88 104.5h2M31 105.5h1M33 105.5h1M50 105.5h1M64 105.5h2M68 105.5h1M86 105.5h1M99 105.5h1M16 106.5h2M59 106.5h2M21 107.5h2M33 107.5h2M52 107.5h1M59 107.5h2M73 107.5h1M86 107.5h1M92 107.5h2M95 107.5h1M20 108.5h2M32 108.5h1M34 108.5h1M48 108.5h1M70 108.5h2M75 108.5h1M91 108.5h1M94 108.5h1M16 109.5h2M48 109.5h1M86 109.5h1M24 110.5h1M48 110.5h1M51 110.5h1M56 110.5h1M60 110.5h2M68 110.5h1M80 110.5h1M26 111.5h1M72 111.5h1M76 111.5h1M22 112.5h1M26 112.5h1M40 112.5h1M47 112.5h1M56 112.5h1M69 112.5h1M72 112.5h1M26 113.5h1M47 113.5h2M73 113.5h1M95 113.5h2M26 114.5h1M50 114.5h1M54 114.5h1M74 114.5h1M94 114.5h2M26 115.5h1M60 115.5h1M69 115.5h1M94 115.5h1M26 116.5h1M57 116.5h1M68 116.5h1M87 116.5h1M26 117.5h1M32 117.5h1M55 117.5h1M67 117.5h1M75 117.5h1M19 118.5h1M29 118.5h1M38 118.5h2M51 118.5h1M62 118.5h1M25 119.5h1M33 119.5h1M38 119.5h2M46 119.5h1M74 119.5h1M86 119.5h1M24 120.5h1M33 120.5h1M38 120.5h1M56 120.5h1M60 120.5h1M73 120.5h1M23 121.5h1M38 121.5h1M72 121.5h2M85 121.5h1M96 121.5h2M12 122.5h1M29 122.5h1M32 122.5h1M48 122.5h1M56 122.5h1M69 122.5h3M85 122.5h1M97 122.5h1M1 123.5h3M61 123.5h1M63 123.5h1M68 123.5h1M96 123.5h1M4 124.5h1M11 124.5h1M51 124.5h1M60 124.5h1M68 124.5h3M93 124.5h2M6 125.5h1M10 125.5h1M16 125.5h1M24 125.5h1M37 125.5h1M79 125.5h1M88 125.5h3M17 126.5h2M35 126.5h1M45 126.5h1M59 126.5h1M64 126.5h1M77 126.5h1M91 126.5h1M20 127.5h1M26 127.5h1M35 127.5h1M53 127.5h1M64 127.5h1M74 127.5h1M79 127.5h1M102 127.5h2M13 128.5h1M26 128.5h1M36 128.5h1M46 128.5h1M53 128.5h1M56 128.5h1M86 128.5h1M91 128.5h1M101 128.5h1M103 128.5h1M26 129.5h3M39 129.5h2M55 129.5h1M75 129.5h1M87 129.5h1M91 129.5h1M102 129.5h2M10 130.5h1M41 130.5h1M87 130.5h1M6 131.5h2M40 131.5h1M54 131.5h1M91 131.5h1M8 132.5h1M42 132.5h1M85 132.5h1M93 132.5h2M99 132.5h1M6 133.5h2M10 133.5h1M29 133.5h1M32 133.5h2M41 133.5h1M46 133.5h1M84 133.5h1M100 133.5h1M10 134.5h1M26 134.5h1M84 134.5h1M100 134.5h1M12 135.5h1M14 135.5h2M19 135.5h1M23 135.5h1M31 135.5h1M60 135.5h2M86 135.5h1M96 135.5h1M102 135.5h2M13 136.5h1M50 136.5h1M63 136.5h1M87 136.5h1M94 136.5h1M102 136.5h1M13 137.5h1M22 137.5h1M88 137.5h1M93 137.5h1M30 138.5h1M61 138.5h1M67 138.5h2M89 138.5h1M15 139.5h1M48 139.5h2M66 139.5h1M12 140.5h1M25 140.5h1M60 140.5h1M90 140.5h1M93 140.5h1M13 141.5h1M25 141.5h1M47 141.5h1M60 141.5h1M90 141.5h1M23 142.5h2M32 142.5h1M46 142.5h2M61 142.5h1M90 142.5h1M12 143.5h1M47 143.5h1M96 143.5h1M47 144.5h1M94 144.5h1M100 144.5h1M63 145.5h2M70 145.5h2M93 145.5h1M89 147.5h1M74 148.5h1M89 148.5h1M93 148.5h1M21 149.5h1M74 149.5h2M93 149.5h1M21 150.5h1M40 150.5h2M75 150.5h1M90 150.5h1M76 151.5h1M83 151.5h1M29 153.5h2M39 154.5h3M32 155.5h1M34 155.5h1M39 155.5h1M90 155.5h1M33 156.5h2M38 156.5h1M102 156.5h1M35 157.5h3M102 157.5h1M89 158.5h1M102 158.5h1M77 159.5h1M93 159.5h1M102 159.5h1M78 160.5h2M89 160.5h1M93 160.5h1M30 161.5h1M93 161.5h1M6 163.5h2M10 163.5h1M40 163.5h1M1 164.5h9M77 164.5h2M102 164.5h1M0 165.5h2M76 165.5h1M79 165.5h1M101 165.5h3M1 166.5h1M3 166.5h1M36 166.5h2M48 166.5h1M76 166.5h1M79 166.5h1M101 166.5h3M2 167.5h1M89 167.5h1M47 168.5h1M19 169.5h1M47 169.5h1M89 169.5h1M46 170.5h1M83 170.5h1M90 170.5h1M24 171.5h1M44 171.5h1M82 171.5h2M91 171.5h1M24 172.5h1M27 172.5h4M42 172.5h3M46 172.5h1M82 172.5h1M26 173.5h3M43 173.5h1M92 173.5h1M92 174.5h1M31 176.5h1M49 176.5h1M83 176.5h1M92 176.5h1M50 177.5h1M92 177.5h1M49 178.5h1M51 178.5h1M54 178.5h2M83 178.5h1M92 178.5h1M54 179.5h1M92 179.5h1M30 184.5h1M102 184.5h1M31 185.5h1M50 185.5h3M101 185.5h2M31 186.5h2M32 187.5h2M35 187.5h3M68 187.5h1M34 188.5h2M38 188.5h2M39 189.5h1M52 190.5h1M46 191.5h1M59 191.5h2M62 191.5h3M45 192.5h1M60 192.5h1M62 192.5h1M40 193.5h1M44 193.5h1M49 193.5h1M59 193.5h1M63 193.5h1M66 193.5h1M85 193.5h1M33 197.5h1M34 198.5h1M37 198.5h1M22 199.5h1M40 200.5h1M25 202.5h2M25 203.5h3M29 203.5h2M43 203.5h1M44 204.5h1M36 206.5h1M28 207.5h1M38 207.5h1M28 208.5h1M31 208.5h1M22 209.5h1M28 209.5h3M20 210.5h1M30 210.5h1"/>
<path stroke="#ffaa00" d="M40 6.5h1M39 8.5h2M25 9.5h1M60 9.5h1M24 10.5h1M57 10.5h1M60 10.5h1M64 10.5h1M24 11.5h1M32 11.5h1M40 11.5h1M46 11.5h1M57 11.5h1M63 11.5h1M58 12.5h1M37 13.5h1M30 15.5h1M36 15.5h1M70 15.5h1M1 16.5h4M68 16.5h1M70 16.5h1M35 17.5h1M24 18.5h1M29 20.5h1M32 20.5h1M39 21.5h1M45 21.5h1M58 21.5h1M84 21.5h1M29 22.5h1M39 22.5h1M45 22.5h1M58 22.5h1M76 22.5h1M84 22.5h2M95 22.5h1M45 23.5h1M35 24.5h1M41 24.5h1M51 24.5h1M35 25.5h1M55 25.5h1M52 26.5h1M19 27.5h1M36 27.5h1M36 28.5h1M52 28.5h1M54 28.5h2M36 29.5h1M22 30.5h1M44 30.5h2M66 30.5h1M45 31.5h1M28 32.5h1M38 32.5h1M43 32.5h1M41 33.5h1M15 34.5h3M23 34.5h2M55 34.5h1M24 35.5h1M34 35.5h2M37 35.5h1M56 35.5h1M72 35.5h1M85 35.5h2M33 36.5h1M70 36.5h1M73 36.5h1M84 36.5h1M15 37.5h2M37 37.5h2M41 37.5h1M56 37.5h1M82 37.5h2M1 38.5h2M20 38.5h1M40 38.5h1M82 38.5h1M5 39.5h5M81 39.5h2M49 40.5h1M12 41.5h1M48 41.5h1M82 41.5h1M20 42.5h1M78 42.5h1M82 42.5h1M1 43.5h2M45 43.5h1M47 43.5h1M79 43.5h1M16 44.5h2M10 45.5h1M43 45.5h1M84 45.5h1M11 46.5h1M16 46.5h1M19 46.5h1M83 46.5h1M85 46.5h1M11 47.5h1M83 47.5h1M11 48.5h1M83 48.5h1M85 48.5h1M90 48.5h1M6 49.5h1M11 49.5h1M44 49.5h1M101 49.5h4M46 50.5h1M37 51.5h2M99 51.5h2M40 52.5h1M17 53.5h1M40 53.5h1M42 53.5h5M39 54.5h1M41 54.5h1M1 55.5h1M37 55.5h1M39 55.5h1M92 55.5h1M3 56.5h1M25 56.5h1M91 56.5h2M1 57.5h1M27 57.5h1M55 57.5h1M90 57.5h1M10 58.5h1M47 58.5h1M50 58.5h1M67 58.5h1M85 58.5h3M42 59.5h1M50 59.5h1M29 61.5h3M50 61.5h1M95 61.5h2M9 62.5h1M30 62.5h2M35 62.5h1M7 63.5h1M29 63.5h1M33 63.5h4M9 64.5h1M29 64.5h1M38 64.5h2M43 64.5h3M50 64.5h1M92 64.5h1M29 65.5h1M39 65.5h1M90 65.5h1M16 66.5h3M29 66.5h1M42 66.5h3M73 66.5h1M2 67.5h1M16 67.5h2M29 67.5h1M32 67.5h2M41 67.5h1M44 67.5h2M4 68.5h1M18 68.5h1M32 68.5h1M34 68.5h1M44 68.5h2M50 68.5h1M85 68.5h1M24 69.5h1M27 69.5h1M32 69.5h1M43 69.5h3M48 69.5h1M85 69.5h1M37 70.5h1M44 70.5h1M47 70.5h1M85 70.5h1M21 71.5h1M44 71.5h1M61 71.5h1M85 71.5h1M44 72.5h1M49 72.5h1M57 72.5h1M83 72.5h1M85 72.5h1M6 73.5h2M9 73.5h1M16 73.5h1M43 73.5h1M45 73.5h1M66 73.5h2M84 73.5h2M1 74.5h3M11 74.5h1M42 74.5h1M52 74.5h1M55 74.5h4M14 75.5h1M37 75.5h1M41 75.5h1M57 75.5h1M64 75.5h1M69 75.5h1M48 76.5h1M64 76.5h1M50 77.5h2M64 77.5h1M69 77.5h1M84 77.5h2M13 78.5h1M36 78.5h1M45 78.5h2M53 78.5h1M57 78.5h1M47 79.5h1M63 79.5h2M9 80.5h1M13 80.5h1M29 80.5h1M47 80.5h1M4 81.5h1M43 81.5h2M47 81.5h1M24 82.5h1M44 82.5h1M28 83.5h1M30 83.5h1M82 83.5h1M10 84.5h1M12 84.5h1M25 84.5h2M31 84.5h1M36 84.5h1M74 84.5h1M85 84.5h1M43 85.5h1M56 85.5h1M74 85.5h1M5 86.5h1M27 86.5h2M40 86.5h1M46 86.5h1M56 86.5h1M59 86.5h1M74 86.5h1M21 87.5h1M40 87.5h1M46 87.5h1M53 87.5h2M56 87.5h1M59 87.5h1M63 87.5h1M25 88.5h1M52 88.5h3M61 88.5h1M74 88.5h1M1 89.5h3M25 89.5h1M38 89.5h1M41 89.5h1M52 89.5h3M78 89.5h1M81 89.5h1M20 90.5h1M42 90.5h1M53 90.5h3M65 90.5h1M70 90.5h1M86 90.5h1M23 91.5h1M29 91.5h1M33 91.5h1M49 91.5h1M51 91.5h1M53 91.5h3M64 91.5h3M86 91.5h1M49 92.5h1M51 92.5h2M55 92.5h1M67 92.5h3M32 93.5h1M45 93.5h1M50 93.5h2M55 93.5h1M86 93.5h1M48 94.5h1M53 94.5h3M79 94.5h2M86 94.5h1M32 95.5h1M81 95.5h1M101 95.5h3M22 96.5h1M56 96.5h2M79 96.5h1M20 97.5h1M58 97.5h1M82 97.5h1M86 97.5h1M92 97.5h1M94 97.5h1M20 98.5h1M32 98.5h1M48 98.5h1M80 98.5h1M82 98.5h1M93 98.5h1M46 99.5h1M52 99.5h1M58 99.5h1M80 99.5h2M100 99.5h1M58 100.5h1M70 100.5h2M80 100.5h2M97 100.5h1M58 101.5h1M70 101.5h2M80 101.5h1M82 101.5h1M85 101.5h1M29 102.5h1M33 102.5h1M58 102.5h1M71 102.5h2M80 102.5h1M86 102.5h1M50 103.5h1M58 103.5h1M64 103.5h1M67 103.5h1M71 103.5h1M73 103.5h1M84 103.5h1M30 104.5h1M68 104.5h1M73 104.5h1M85 104.5h1M87 104.5h1M100 104.5h1M32 105.5h1M59 105.5h1M63 105.5h1M66 105.5h2M73 105.5h1M80 105.5h1M87 105.5h2M48 106.5h1M50 106.5h1M53 106.5h1M61 106.5h1M68 106.5h1M73 106.5h1M80 106.5h1M87 106.5h1M96 106.5h1M15 107.5h1M18 107.5h3M48 107.5h1M51 107.5h1M61 107.5h1M68 107.5h1M74 107.5h3M91 107.5h1M94 107.5h1M15 108.5h1M18 108.5h2M33 108.5h1M59 108.5h2M69 108.5h1M86 108.5h1M32 109.5h2M59 109.5h2M90 109.5h1M49 110.5h2M57 110.5h1M59 110.5h1M67 110.5h1M76 110.5h1M23 111.5h1M25 111.5h1M57 111.5h1M59 111.5h1M62 111.5h1M69 111.5h1M77 111.5h1M59 112.5h1M63 112.5h1M96 112.5h2M41 113.5h1M70 113.5h1M72 113.5h1M21 114.5h1M47 114.5h3M60 114.5h1M70 114.5h1M41 115.5h1M47 115.5h1M74 115.5h1M20 116.5h1M38 116.5h1M47 116.5h1M56 116.5h1M20 117.5h1M30 117.5h1M38 117.5h1M54 117.5h1M87 117.5h1M20 118.5h1M74 118.5h2M20 119.5h1M29 119.5h1M49 119.5h1M62 119.5h1M73 119.5h1M20 120.5h1M29 120.5h1M39 120.5h2M61 120.5h1M74 120.5h1M85 120.5h1M29 121.5h1M48 121.5h1M71 121.5h1M10 122.5h2M19 122.5h1M30 122.5h2M62 122.5h1M67 122.5h2M72 122.5h1M95 122.5h2M0 123.5h1M11 123.5h1M18 123.5h1M39 123.5h1M48 123.5h1M67 123.5h1M71 123.5h1M94 123.5h1M17 124.5h1M50 124.5h1M79 124.5h1M86 124.5h1M7 125.5h3M17 125.5h1M23 125.5h1M41 125.5h1M45 125.5h1M52 125.5h1M59 125.5h1M64 125.5h1M78 125.5h1M80 125.5h1M87 125.5h1M19 126.5h1M25 126.5h1M36 126.5h1M58 126.5h1M76 126.5h1M88 126.5h1M90 126.5h1M57 127.5h1M59 127.5h1M91 127.5h1M25 128.5h1M40 128.5h1M60 128.5h1M64 128.5h1M74 128.5h1M79 128.5h1M85 128.5h1M87 128.5h1M102 128.5h1M13 129.5h1M25 129.5h1M48 129.5h1M52 129.5h1M83 129.5h1M29 130.5h1M55 130.5h1M81 130.5h1M10 131.5h1M21 131.5h1M41 131.5h2M79 131.5h2M87 131.5h1M6 132.5h2M10 132.5h1M21 132.5h1M40 132.5h2M86 132.5h1M91 132.5h2M95 132.5h2M21 133.5h1M40 133.5h1M13 134.5h1M32 134.5h1M73 134.5h1M85 134.5h1M99 134.5h1M13 135.5h1M59 135.5h1M22 136.5h1M31 136.5h1M50 137.5h1M64 137.5h5M70 137.5h1M13 138.5h1M21 138.5h1M62 138.5h1M66 138.5h1M13 139.5h2M90 139.5h1M13 140.5h1M23 140.5h1M33 140.5h1M48 140.5h1M64 140.5h1M12 141.5h1M23 141.5h1M30 141.5h1M94 141.5h1M12 142.5h1M31 142.5h1M96 142.5h1M46 143.5h1M90 143.5h1M46 144.5h1M90 144.5h1M104 144.5h1M22 149.5h2M93 150.5h1M29 151.5h1M40 151.5h2M93 151.5h1M30 152.5h1M93 152.5h1M23 153.5h1M28 153.5h1M93 153.5h1M93 154.5h1M35 155.5h1M38 155.5h1M93 155.5h1M35 156.5h1M90 156.5h1M93 156.5h1M93 157.5h1M77 158.5h1M93 158.5h1M80 159.5h1M89 159.5h1M90 161.5h1M30 162.5h2M8 163.5h2M30 163.5h2M94 163.5h1M2 165.5h2M78 165.5h1M94 165.5h1M2 166.5h1M77 166.5h1M22 167.5h1M49 167.5h1M48 168.5h1M89 168.5h1M92 168.5h1M22 169.5h1M91 170.5h1M45 171.5h2M26 172.5h1M45 172.5h1M25 173.5h1M31 173.5h1M30 175.5h1M49 177.5h1M83 177.5h1M50 178.5h1M30 185.5h1M70 185.5h2M50 186.5h1M53 186.5h1M69 186.5h1M72 186.5h1M34 187.5h1M50 187.5h1M54 187.5h1M69 187.5h1M73 187.5h1M50 188.5h1M54 188.5h1M49 189.5h1M53 189.5h1M51 191.5h1M50 192.5h1M58 192.5h2M63 192.5h1M58 193.5h1M44 194.5h1M48 194.5h1M85 194.5h1M45 195.5h3M34 197.5h3M21 198.5h1M35 198.5h2M42 202.5h1M40 203.5h1M44 203.5h1M46 203.5h1M28 204.5h1M31 204.5h1M41 204.5h3M28 205.5h1M28 206.5h1M29 208.5h2M20 209.5h1M21 210.5h1M28 210.5h1M30 211.5h1M29 213.5h1"/>
<path stroke="#ff9f00" d="M39 6.5h1M40 7.5h1M59 8.5h1M46 10.5h1M39 11.5h1M26 12.5h1M64 12.5h1M20 15.5h1M68 15.5h1M31 16.5h2M40 16.5h1M69 16.5h1M40 17.5h1M36 18.5h1M40 18.5h1M38 19.5h1M47 19.5h2M24 20.5h1M30 20.5h1M39 20.5h1M46 20.5h1M29 21.5h1M41 21.5h1M30 22.5h1M32 22.5h1M41 22.5h1M50 22.5h1M39 23.5h1M41 23.5h1M36 24.5h1M40 25.5h1M20 26.5h1M22 26.5h1M40 26.5h1M53 26.5h1M56 26.5h1M67 26.5h1M23 27.5h1M40 27.5h1M20 28.5h1M40 28.5h1M56 28.5h1M65 28.5h1M68 28.5h1M26 29.5h1M40 29.5h1M46 29.5h1M64 29.5h1M28 30.5h1M31 30.5h1M40 30.5h4M46 30.5h1M51 30.5h1M31 31.5h1M37 31.5h1M44 31.5h1M46 31.5h1M51 31.5h1M23 32.5h1M39 32.5h1M41 32.5h2M46 32.5h1M26 33.5h1M39 33.5h1M46 33.5h1M52 33.5h1M39 34.5h2M46 34.5h1M54 34.5h1M14 35.5h1M38 35.5h1M40 35.5h1M46 35.5h1M34 36.5h4M40 36.5h1M46 36.5h1M56 36.5h1M71 36.5h2M85 36.5h1M19 37.5h1M25 37.5h1M32 37.5h1M36 37.5h1M39 37.5h2M46 37.5h1M54 37.5h2M45 38.5h2M0 39.5h5M40 39.5h1M46 39.5h2M11 40.5h1M46 40.5h3M80 40.5h2M36 41.5h1M38 41.5h1M47 41.5h1M2 42.5h1M43 42.5h2M47 42.5h1M0 43.5h1M3 43.5h1M13 43.5h1M42 43.5h1M46 43.5h1M81 43.5h1M13 44.5h3M18 44.5h1M42 44.5h1M17 45.5h1M43 46.5h1M84 46.5h1M15 47.5h1M43 47.5h1M84 47.5h2M43 48.5h1M84 48.5h1M12 49.5h2M43 49.5h1M6 50.5h1M8 50.5h3M12 50.5h1M43 50.5h1M100 50.5h1M7 51.5h2M19 51.5h1M36 51.5h1M39 51.5h4M101 51.5h4M9 52.5h1M18 52.5h1M36 52.5h1M41 52.5h3M36 53.5h1M41 53.5h1M40 54.5h1M48 54.5h3M2 55.5h1M10 55.5h1M40 55.5h1M51 55.5h1M1 56.5h1M10 56.5h1M24 56.5h1M26 56.5h1M38 56.5h2M51 56.5h1M2 57.5h1M10 57.5h1M50 57.5h1M54 57.5h1M91 57.5h1M28 58.5h1M40 58.5h1M47 59.5h1M29 60.5h2M32 60.5h2M46 60.5h2M50 60.5h1M10 61.5h1M46 61.5h2M22 62.5h1M47 62.5h3M8 63.5h1M30 63.5h3M37 63.5h2M45 63.5h2M49 63.5h1M30 64.5h1M33 64.5h5M46 64.5h1M15 65.5h1M30 65.5h1M33 65.5h1M46 65.5h1M19 66.5h1M21 66.5h1M30 66.5h1M32 66.5h2M39 66.5h1M46 66.5h1M90 66.5h1M92 66.5h1M40 67.5h1M42 67.5h2M46 67.5h1M0 68.5h2M3 68.5h1M29 68.5h1M43 68.5h1M46 68.5h1M4 69.5h2M10 69.5h1M20 69.5h1M28 69.5h1M46 69.5h2M84 69.5h1M21 70.5h1M31 70.5h1M43 70.5h1M45 70.5h2M83 70.5h1M30 71.5h1M43 71.5h1M45 71.5h1M47 71.5h1M58 71.5h1M60 71.5h1M83 71.5h1M21 72.5h1M29 72.5h1M43 72.5h1M45 72.5h1M48 72.5h1M62 72.5h1M84 72.5h1M0 73.5h6M24 73.5h5M46 73.5h1M50 73.5h1M57 73.5h1M62 73.5h1M15 74.5h1M23 74.5h1M47 74.5h1M51 74.5h1M38 75.5h1M48 75.5h1M53 75.5h4M22 76.5h1M40 76.5h1M49 76.5h1M56 76.5h1M41 77.5h1M52 77.5h1M56 77.5h1M12 78.5h1M42 78.5h1M54 78.5h1M56 78.5h1M85 78.5h1M13 79.5h1M43 79.5h2M55 79.5h1M62 79.5h1M85 79.5h1M8 80.5h1M43 80.5h2M55 80.5h1M5 81.5h1M8 81.5h2M20 81.5h1M45 81.5h1M55 81.5h1M7 82.5h2M43 82.5h1M45 82.5h3M55 82.5h1M7 83.5h3M20 83.5h1M24 83.5h1M29 83.5h1M44 83.5h3M49 83.5h1M55 83.5h1M85 83.5h1M7 84.5h1M11 84.5h1M27 84.5h2M30 84.5h1M37 84.5h1M44 84.5h3M51 84.5h1M55 84.5h1M83 84.5h2M6 85.5h1M21 85.5h1M38 85.5h5M46 85.5h1M53 85.5h3M26 86.5h1M29 86.5h1M39 86.5h1M53 86.5h3M4 87.5h1M25 87.5h1M30 87.5h1M52 87.5h1M55 87.5h1M60 87.5h1M62 87.5h1M64 87.5h1M0 88.5h1M3 88.5h1M21 88.5h1M30 88.5h1M34 88.5h3M55 88.5h6M73 88.5h1M30 89.5h1M45 89.5h1M55 89.5h1M60 89.5h1M65 89.5h1M77 89.5h1M82 89.5h1M85 89.5h1M24 90.5h1M30 90.5h1M33 90.5h1M39 90.5h1M50 90.5h3M69 90.5h1M71 90.5h1M52 91.5h1M61 91.5h1M71 91.5h1M29 92.5h1M32 92.5h1M40 92.5h1M70 92.5h1M86 92.5h1M46 93.5h1M48 93.5h2M49 94.5h1M52 94.5h1M55 95.5h2M86 95.5h1M21 96.5h1M32 96.5h1M55 96.5h1M82 96.5h1M86 96.5h1M93 96.5h2M101 96.5h1M104 96.5h1M29 97.5h1M32 97.5h1M55 97.5h1M79 97.5h1M29 98.5h1M29 99.5h1M50 99.5h2M70 99.5h1M79 99.5h1M82 99.5h1M85 99.5h1M104 99.5h1M29 100.5h1M45 100.5h1M79 100.5h1M82 100.5h1M84 100.5h1M101 100.5h4M29 101.5h1M32 101.5h1M72 101.5h1M83 101.5h2M94 101.5h2M70 102.5h1M73 102.5h1M84 102.5h1M30 103.5h1M68 103.5h3M90 103.5h1M102 103.5h2M33 104.5h1M47 104.5h1M55 104.5h4M74 104.5h1M86 104.5h1M48 105.5h1M58 105.5h1M89 105.5h1M58 106.5h1M62 106.5h4M67 106.5h1M75 106.5h3M92 106.5h1M95 106.5h1M16 107.5h2M58 107.5h1M62 107.5h1M80 107.5h1M16 108.5h2M58 108.5h1M61 108.5h1M68 108.5h1M76 108.5h1M80 108.5h1M53 109.5h4M58 109.5h1M61 109.5h1M68 109.5h2M71 109.5h1M76 109.5h1M80 109.5h1M58 110.5h1M69 110.5h1M79 110.5h1M24 111.5h1M58 111.5h1M66 111.5h1M57 112.5h1M65 112.5h1M70 112.5h2M22 113.5h1M56 113.5h1M59 113.5h1M71 113.5h1M25 114.5h1M39 114.5h1M41 114.5h1M55 114.5h1M71 114.5h3M25 115.5h1M59 115.5h1M70 115.5h1M25 116.5h1M40 116.5h1M55 116.5h1M74 116.5h1M85 116.5h1M25 117.5h1M31 117.5h1M39 117.5h1M47 117.5h1M53 117.5h1M74 117.5h1M84 117.5h1M25 118.5h1M32 118.5h1M47 118.5h1M50 118.5h1M63 118.5h1M65 118.5h3M76 118.5h2M80 118.5h3M24 119.5h1M75 119.5h1M23 120.5h1M32 120.5h1M46 120.5h1M48 120.5h1M67 120.5h1M72 120.5h1M20 121.5h1M22 121.5h1M32 121.5h1M39 121.5h1M56 121.5h1M64 121.5h7M74 121.5h1M0 122.5h6M8 122.5h2M22 122.5h1M39 122.5h1M47 122.5h1M61 122.5h1M63 122.5h4M4 123.5h1M22 123.5h1M47 123.5h1M57 123.5h1M60 123.5h1M64 123.5h3M85 123.5h1M95 123.5h1M5 124.5h1M22 124.5h1M39 124.5h1M49 124.5h1M64 124.5h1M67 124.5h1M71 124.5h1M80 124.5h1M18 125.5h1M22 125.5h1M38 125.5h1M58 125.5h1M68 125.5h2M20 126.5h1M24 126.5h1M75 126.5h1M80 126.5h1M87 126.5h1M89 126.5h1M21 127.5h1M25 127.5h1M36 127.5h1M58 127.5h1M73 127.5h1M86 127.5h3M21 128.5h1M37 128.5h1M52 128.5h1M57 128.5h1M12 129.5h1M21 129.5h1M24 129.5h1M56 129.5h1M63 129.5h1M79 129.5h1M88 129.5h1M90 129.5h1M11 130.5h1M13 130.5h1M21 130.5h1M24 130.5h3M28 130.5h1M75 130.5h1M79 130.5h1M88 130.5h1M90 130.5h1M13 131.5h1M29 131.5h1M88 131.5h3M29 132.5h1M54 132.5h1M75 132.5h1M87 132.5h1M89 132.5h2M97 132.5h2M13 133.5h1M74 133.5h1M85 133.5h1M89 133.5h2M99 133.5h1M11 134.5h1M21 134.5h1M33 134.5h1M53 134.5h1M98 134.5h1M32 135.5h2M51 135.5h1M62 135.5h1M72 135.5h1M87 135.5h1M95 135.5h1M14 136.5h1M33 136.5h1M64 136.5h1M66 136.5h2M71 136.5h1M88 136.5h1M93 136.5h1M31 137.5h1M33 137.5h1M69 137.5h1M89 137.5h1M92 137.5h1M18 138.5h3M63 138.5h1M65 138.5h1M90 138.5h1M92 138.5h1M30 139.5h1M65 139.5h1M24 140.5h1M24 141.5h1M61 141.5h2M91 141.5h1M91 142.5h1M100 142.5h1M91 143.5h1M95 143.5h1M100 143.5h1M93 144.5h1M101 144.5h3M90 145.5h1M90 146.5h1M90 149.5h1M24 150.5h1M28 151.5h1M22 152.5h1M40 152.5h2M24 153.5h4M40 153.5h2M36 155.5h2M36 156.5h2M78 157.5h1M90 157.5h1M78 159.5h1M91 162.5h1M93 162.5h1M91 163.5h1M91 164.5h1M94 164.5h1M77 165.5h1M78 166.5h1M90 166.5h1M93 166.5h1M20 167.5h1M48 167.5h1M19 168.5h1M22 168.5h1M20 169.5h1M90 169.5h2M25 172.5h1M29 173.5h1M30 174.5h2M31 175.5h1M51 186.5h2M71 186.5h1M70 187.5h3M50 189.5h1M52 189.5h1M48 190.5h1M51 190.5h1M47 191.5h1M65 192.5h1M21 197.5h1M23 197.5h1M23 198.5h1M40 201.5h2M40 202.5h1M42 203.5h1M45 203.5h1M29 204.5h1M37 206.5h1M31 207.5h1M36 207.5h1M21 209.5h1M29 210.5h1M28 211.5h1M28 212.5h1M30 212.5h1M30 213.5h1"/>
<path stroke="#ff9500" d="M39 7.5h1M58 8.5h1M26 9.5h1M29 9.5h1M25 10.5h1M31 10.5h1M25 11.5h1M59 11.5h1M64 11.5h1M32 12.5h1M38 12.5h1M40 12.5h1M37 14.5h1M22 15.5h1M40 15.5h1M69 15.5h1M36 16.5h1M36 17.5h1M20 19.5h1M24 19.5h1M40 19.5h1M21 20.5h1M31 20.5h1M40 20.5h1M48 20.5h1M32 21.5h1M40 21.5h1M46 21.5h1M49 21.5h1M31 22.5h1M40 22.5h1M40 23.5h1M46 23.5h1M37 24.5h1M40 24.5h1M46 24.5h1M46 25.5h1M51 25.5h1M21 26.5h1M36 26.5h1M46 26.5h1M54 26.5h1M22 27.5h1M46 27.5h1M52 27.5h2M56 27.5h1M66 27.5h1M21 28.5h1M24 28.5h1M46 28.5h1M22 29.5h1M51 29.5h1M38 31.5h6M64 31.5h2M40 32.5h1M51 32.5h1M24 33.5h1M40 33.5h1M53 34.5h1M18 35.5h1M39 35.5h1M14 36.5h1M17 36.5h2M24 36.5h1M38 36.5h2M35 37.5h1M51 37.5h1M35 38.5h1M35 39.5h1M0 40.5h4M1 41.5h2M21 41.5h1M46 41.5h1M0 42.5h2M3 42.5h1M12 42.5h1M45 42.5h2M4 43.5h1M20 43.5h1M80 43.5h1M12 44.5h1M19 44.5h1M11 45.5h6M18 45.5h2M42 45.5h1M12 46.5h4M12 47.5h1M12 48.5h1M14 48.5h1M7 50.5h1M11 50.5h1M37 50.5h1M42 50.5h1M44 50.5h2M101 50.5h4M9 51.5h1M12 51.5h1M43 51.5h1M46 51.5h1M44 52.5h1M46 52.5h1M10 54.5h1M36 54.5h1M48 55.5h1M2 56.5h1M37 56.5h1M48 56.5h1M23 57.5h1M28 57.5h1M39 57.5h1M48 57.5h1M23 58.5h1M48 58.5h2M29 59.5h1M41 59.5h1M48 59.5h2M15 60.5h1M31 60.5h1M45 60.5h1M48 60.5h2M23 61.5h1M35 61.5h1M48 61.5h2M36 62.5h1M46 62.5h1M9 63.5h1M39 63.5h2M44 63.5h1M47 63.5h2M31 64.5h2M31 65.5h2M34 65.5h1M38 65.5h1M91 65.5h2M20 66.5h1M31 66.5h1M34 66.5h1M91 66.5h1M11 67.5h1M15 67.5h1M18 67.5h1M22 67.5h1M30 67.5h2M34 67.5h1M2 68.5h1M30 68.5h2M42 68.5h1M0 69.5h4M14 69.5h1M23 69.5h1M29 69.5h1M31 69.5h1M36 69.5h1M42 69.5h1M0 70.5h4M8 70.5h2M14 70.5h1M22 70.5h1M30 70.5h1M84 70.5h1M0 71.5h4M22 71.5h1M29 71.5h1M38 71.5h1M46 71.5h1M59 71.5h1M84 71.5h1M0 72.5h4M15 72.5h1M22 72.5h1M46 72.5h2M10 73.5h1M21 73.5h1M23 73.5h1M47 73.5h1M58 73.5h1M61 73.5h1M65 74.5h1M68 74.5h1M39 75.5h2M51 75.5h2M21 76.5h1M36 76.5h1M39 76.5h1M50 76.5h6M69 76.5h1M36 77.5h1M53 77.5h3M55 78.5h1M84 78.5h1M5 79.5h1M7 79.5h1M11 79.5h1M45 79.5h2M56 79.5h4M61 79.5h1M83 79.5h1M5 80.5h1M7 80.5h1M10 80.5h1M45 80.5h2M85 80.5h1M6 81.5h2M46 81.5h1M82 81.5h1M85 81.5h1M0 82.5h7M9 82.5h1M20 82.5h1M82 82.5h1M85 82.5h1M10 83.5h1M37 83.5h1M43 83.5h1M47 83.5h2M69 83.5h1M24 84.5h1M29 84.5h1M38 84.5h1M43 84.5h1M56 84.5h3M73 84.5h1M24 85.5h8M36 85.5h2M52 85.5h1M59 85.5h1M22 86.5h1M25 86.5h1M30 86.5h1M38 86.5h1M52 86.5h1M61 87.5h1M73 87.5h1M1 88.5h2M31 88.5h1M33 88.5h1M37 88.5h1M40 88.5h1M46 88.5h1M31 89.5h1M33 89.5h1M51 89.5h1M56 89.5h1M71 89.5h2M76 89.5h1M83 89.5h2M44 90.5h1M49 90.5h1M60 90.5h1M66 90.5h1M21 91.5h1M30 91.5h1M32 91.5h1M30 92.5h2M42 92.5h2M48 92.5h1M62 92.5h2M66 92.5h1M29 93.5h1M31 93.5h1M47 93.5h1M29 94.5h1M31 94.5h1M50 94.5h2M56 94.5h1M29 95.5h1M31 95.5h1M49 95.5h1M54 95.5h1M78 95.5h1M29 96.5h1M49 96.5h1M58 96.5h1M103 96.5h1M49 97.5h1M59 97.5h1M83 97.5h1M93 97.5h1M101 97.5h1M104 97.5h1M22 98.5h1M31 98.5h1M49 98.5h1M54 98.5h1M59 98.5h1M79 98.5h1M83 98.5h1M101 98.5h1M104 98.5h1M31 99.5h1M47 99.5h3M59 99.5h1M71 99.5h1M83 99.5h2M101 99.5h3M31 100.5h1M49 100.5h1M69 100.5h1M83 100.5h1M98 100.5h1M100 100.5h1M49 101.5h1M69 101.5h1M79 101.5h1M92 101.5h1M101 101.5h4M30 102.5h1M45 102.5h1M49 102.5h1M65 102.5h5M85 102.5h1M102 102.5h1M33 103.5h1M49 103.5h1M74 103.5h1M85 103.5h2M101 103.5h1M104 103.5h1M31 104.5h2M48 104.5h2M59 104.5h1M63 104.5h1M49 105.5h1M60 105.5h1M62 105.5h1M74 105.5h1M90 105.5h1M98 105.5h1M49 106.5h1M66 106.5h1M74 106.5h1M88 106.5h4M93 106.5h2M50 107.5h1M53 107.5h1M67 107.5h1M77 107.5h1M87 107.5h1M90 107.5h1M52 108.5h1M67 108.5h1M90 108.5h1M52 109.5h1M57 109.5h1M67 109.5h1M70 109.5h1M87 109.5h1M62 110.5h1M71 110.5h1M77 110.5h2M70 111.5h2M23 112.5h1M25 112.5h1M58 112.5h1M64 112.5h1M25 113.5h1M40 113.5h1M56 114.5h1M59 114.5h1M21 115.5h1M48 115.5h2M51 115.5h5M58 115.5h1M71 115.5h1M73 115.5h1M21 116.5h1M39 116.5h1M54 116.5h1M69 116.5h1M86 116.5h1M21 117.5h1M52 117.5h1M68 117.5h1M21 118.5h1M30 118.5h2M64 118.5h1M73 118.5h1M78 118.5h2M83 118.5h1M86 118.5h1M21 119.5h3M32 119.5h1M47 119.5h2M63 119.5h1M66 119.5h2M85 119.5h1M21 120.5h2M47 120.5h1M62 120.5h1M65 120.5h2M68 120.5h1M75 120.5h1M21 121.5h1M30 121.5h2M40 121.5h1M42 121.5h6M57 121.5h7M6 122.5h2M20 122.5h2M46 122.5h1M57 122.5h1M73 122.5h1M5 123.5h1M10 123.5h1M19 123.5h1M21 123.5h1M46 123.5h1M72 123.5h1M10 124.5h1M18 124.5h1M21 124.5h1M40 124.5h1M43 124.5h6M58 124.5h2M65 124.5h2M19 125.5h3M39 125.5h2M65 125.5h3M70 125.5h1M86 125.5h1M21 126.5h3M37 126.5h1M40 126.5h1M52 126.5h1M65 126.5h1M74 126.5h1M86 126.5h1M22 127.5h1M24 127.5h1M40 127.5h1M52 127.5h1M65 127.5h1M80 127.5h1M89 127.5h2M24 128.5h1M39 128.5h1M59 128.5h1M88 128.5h1M90 128.5h1M22 129.5h2M51 129.5h1M62 129.5h1M64 129.5h1M82 129.5h1M89 129.5h1M23 130.5h1M27 130.5h1M80 130.5h1M89 130.5h1M75 131.5h1M13 132.5h1M88 132.5h1M11 133.5h1M28 133.5h1M86 133.5h3M91 133.5h4M12 134.5h1M86 134.5h6M97 134.5h1M20 135.5h1M22 135.5h1M57 135.5h2M88 135.5h1M92 135.5h3M15 136.5h4M32 136.5h1M65 136.5h1M68 136.5h1M89 136.5h1M92 136.5h1M14 137.5h1M90 137.5h2M14 138.5h4M33 138.5h1M64 138.5h1M91 138.5h1M33 139.5h1M61 139.5h1M91 139.5h2M30 140.5h1M63 140.5h1M91 140.5h2M31 141.5h2M92 141.5h2M95 142.5h1M101 142.5h1M104 142.5h1M91 144.5h2M92 145.5h1M92 146.5h1M90 147.5h1M92 147.5h1M90 148.5h1M92 148.5h1M22 150.5h2M91 150.5h1M91 151.5h1M29 152.5h1M91 152.5h1M91 153.5h1M91 154.5h1M91 155.5h1M80 157.5h1M90 158.5h1M79 159.5h1M90 159.5h1M90 160.5h1M92 160.5h1M93 163.5h1M91 165.5h1M21 167.5h1M90 167.5h1M92 167.5h1M90 168.5h2M21 169.5h1M30 173.5h1M70 186.5h1M51 187.5h1M53 187.5h1M51 188.5h1M53 188.5h1M51 189.5h1M49 190.5h2M50 191.5h1M46 192.5h1M49 192.5h1M64 192.5h1M45 193.5h1M48 193.5h1M64 193.5h2M45 194.5h1M47 194.5h1M41 202.5h1M41 203.5h1M30 204.5h1M31 205.5h1M31 206.5h1M29 207.5h1M37 207.5h1M29 211.5h1"/>
<path stroke="#ff8a00" d="M27 12.5h1M32 13.5h1M40 13.5h1M40 14.5h1M32 15.5h1M37 15.5h1M37 18.5h1M39 19.5h1M23 20.5h1M47 20.5h1M30 21.5h2M46 22.5h1M38 24.5h2M36 25.5h1M51 26.5h1M55 26.5h1M20 27.5h2M37 27.5h1M54 27.5h1M68 27.5h1M22 28.5h2M37 28.5h1M51 28.5h1M39 29.5h1M66 29.5h1M27 30.5h1M29 30.5h1M37 30.5h1M39 30.5h1M28 31.5h1M27 32.5h1M25 33.5h1M52 34.5h1M15 35.5h3M19 35.5h1M23 35.5h1M53 35.5h1M55 35.5h1M15 36.5h2M52 36.5h2M24 37.5h1M33 37.5h2M26 38.5h5M41 38.5h1M44 38.5h1M47 38.5h1M50 38.5h1M22 39.5h1M45 39.5h1M48 39.5h2M4 40.5h1M22 40.5h1M35 40.5h1M40 40.5h1M45 40.5h1M0 41.5h1M3 41.5h1M11 41.5h1M39 41.5h1M45 41.5h1M79 41.5h1M81 41.5h1M42 42.5h1M81 42.5h1M5 43.5h1M12 43.5h1M9 44.5h1M20 44.5h1M20 45.5h1M42 46.5h1M13 47.5h2M42 47.5h1M13 48.5h1M42 48.5h1M42 49.5h1M36 50.5h1M38 50.5h1M41 50.5h1M10 51.5h2M44 51.5h2M12 52.5h1M45 52.5h1M10 53.5h1M13 53.5h1M50 55.5h1M23 56.5h1M27 56.5h1M50 56.5h1M38 57.5h1M49 57.5h1M29 58.5h1M16 59.5h1M20 59.5h1M23 59.5h1M30 59.5h1M34 60.5h1M10 62.5h1M14 62.5h1M45 62.5h1M41 63.5h3M10 64.5h1M47 64.5h1M49 64.5h1M35 65.5h1M50 65.5h1M11 66.5h1M15 66.5h1M19 68.5h1M22 68.5h1M35 68.5h1M41 68.5h1M47 68.5h1M21 69.5h2M30 69.5h1M4 70.5h4M23 70.5h7M42 70.5h1M4 71.5h1M23 71.5h1M4 72.5h1M7 72.5h3M23 72.5h1M28 72.5h1M58 72.5h1M61 72.5h1M15 73.5h1M22 73.5h1M42 73.5h1M48 73.5h2M59 73.5h2M12 74.5h1M14 74.5h1M21 74.5h2M39 74.5h1M41 74.5h1M48 74.5h3M21 75.5h2M49 75.5h2M37 76.5h2M40 77.5h1M37 78.5h1M6 79.5h1M37 79.5h1M42 79.5h1M60 79.5h1M84 79.5h1M6 80.5h1M21 80.5h2M37 80.5h1M63 80.5h2M42 81.5h1M37 82.5h1M42 82.5h1M6 83.5h1M12 83.5h1M42 83.5h1M56 83.5h1M83 83.5h2M6 84.5h1M39 84.5h4M22 85.5h2M32 85.5h4M23 86.5h2M31 86.5h1M37 86.5h1M60 86.5h1M73 86.5h1M22 87.5h1M24 87.5h1M31 87.5h2M39 87.5h1M24 88.5h1M32 88.5h1M38 88.5h1M51 88.5h1M65 88.5h1M72 88.5h1M21 89.5h1M24 89.5h1M32 89.5h1M39 89.5h2M50 89.5h1M57 89.5h1M59 89.5h1M73 89.5h3M31 90.5h2M41 90.5h1M56 90.5h1M67 90.5h2M72 90.5h1M22 91.5h1M31 91.5h1M42 91.5h2M56 91.5h1M41 92.5h1M56 92.5h1M61 92.5h1M64 92.5h2M71 92.5h1M30 93.5h1M56 93.5h1M79 93.5h1M30 94.5h1M78 94.5h1M81 94.5h1M30 95.5h1M57 95.5h1M30 96.5h2M78 96.5h1M102 96.5h1M22 97.5h1M30 97.5h2M103 97.5h1M21 98.5h1M30 98.5h1M85 98.5h1M102 98.5h2M30 99.5h1M30 100.5h1M59 100.5h1M72 100.5h1M99 100.5h1M30 101.5h2M45 101.5h1M93 101.5h1M96 101.5h1M32 102.5h1M64 102.5h1M79 102.5h1M101 102.5h1M103 102.5h2M31 103.5h1M46 103.5h1M79 103.5h1M79 104.5h1M90 104.5h1M54 105.5h1M57 105.5h1M61 105.5h1M75 105.5h5M78 106.5h2M49 107.5h1M63 107.5h1M78 107.5h1M49 108.5h1M51 108.5h1M53 108.5h1M57 108.5h1M62 108.5h1M77 108.5h1M49 109.5h1M51 109.5h1M77 109.5h1M88 109.5h2M70 110.5h1M24 112.5h1M23 113.5h2M57 113.5h2M22 114.5h1M24 114.5h1M24 115.5h1M39 115.5h1M50 115.5h1M56 115.5h2M72 115.5h1M24 116.5h1M48 116.5h1M53 116.5h1M73 116.5h1M22 117.5h1M24 117.5h1M48 117.5h1M50 117.5h2M73 117.5h1M86 117.5h1M22 118.5h3M48 118.5h2M68 118.5h1M84 118.5h1M30 119.5h2M64 119.5h2M68 119.5h1M76 119.5h1M30 120.5h2M63 120.5h2M71 120.5h1M41 121.5h1M40 122.5h1M45 122.5h1M60 122.5h1M9 123.5h1M20 123.5h1M40 123.5h1M45 123.5h1M59 123.5h1M79 123.5h2M6 124.5h1M9 124.5h1M19 124.5h2M41 124.5h2M78 124.5h1M85 124.5h1M46 125.5h1M51 125.5h1M71 125.5h1M77 125.5h1M66 126.5h1M73 126.5h1M23 127.5h1M37 127.5h1M46 127.5h1M85 127.5h1M22 128.5h2M38 128.5h1M47 128.5h1M58 128.5h1M73 128.5h1M80 128.5h1M84 128.5h1M89 128.5h1M49 129.5h2M61 129.5h1M74 129.5h1M80 129.5h2M12 130.5h1M22 130.5h1M56 130.5h1M11 131.5h1M22 131.5h1M11 132.5h1M12 133.5h1M54 133.5h1M73 133.5h1M95 133.5h2M98 133.5h1M25 134.5h1M60 134.5h1M92 134.5h5M21 135.5h1M56 135.5h1M67 135.5h2M89 135.5h3M19 136.5h1M69 136.5h2M90 136.5h2M15 137.5h1M17 137.5h3M21 137.5h1M32 137.5h1M31 138.5h1M64 139.5h1M61 140.5h1M92 142.5h3M102 142.5h2M92 143.5h3M101 143.5h1M103 143.5h2M91 145.5h1M91 146.5h1M91 147.5h1M91 148.5h1M91 149.5h2M92 150.5h1M22 151.5h1M26 151.5h2M92 151.5h1M23 152.5h1M92 152.5h1M92 153.5h1M92 154.5h1M92 155.5h1M91 156.5h2M79 157.5h1M91 157.5h2M78 158.5h1M80 158.5h1M91 158.5h2M92 159.5h1M91 160.5h1M91 161.5h2M92 162.5h1M92 163.5h1M93 164.5h1M93 165.5h1M91 166.5h1M20 168.5h2M52 187.5h1M52 188.5h1M48 191.5h2M47 192.5h2M46 193.5h2M46 194.5h1M22 197.5h1M22 198.5h1M29 205.5h1M30 207.5h1M29 212.5h1"/>
<path stroke="#ff8000" d="M27 9.5h2M58 11.5h1M39 12.5h1M29 13.5h1M38 13.5h1M32 14.5h1M38 14.5h1M21 15.5h1M38 15.5h2M20 16.5h1M37 16.5h1M39 16.5h1M23 17.5h1M39 17.5h1M39 18.5h1M22 20.5h1M47 21.5h2M50 23.5h1M37 25.5h3M37 26.5h1M39 26.5h1M39 27.5h1M51 27.5h1M55 27.5h1M39 28.5h1M66 28.5h2M37 29.5h1M65 29.5h1M30 30.5h1M38 30.5h1M47 30.5h1M64 30.5h1M23 31.5h1M29 31.5h2M47 31.5h1M47 32.5h1M51 33.5h1M20 35.5h1M52 35.5h1M54 35.5h1M19 36.5h1M54 36.5h2M47 37.5h1M21 38.5h1M25 38.5h1M31 38.5h1M42 38.5h2M10 40.5h1M35 41.5h1M44 41.5h1M80 41.5h1M79 42.5h1M10 44.5h2M41 44.5h1M32 45.5h1M41 45.5h1M20 46.5h1M32 46.5h1M20 47.5h1M35 50.5h1M39 50.5h2M35 51.5h1M10 52.5h2M19 52.5h1M35 52.5h1M18 53.5h1M16 54.5h1M36 55.5h1M49 55.5h1M28 56.5h2M49 56.5h1M11 57.5h1M29 57.5h1M11 58.5h1M39 58.5h1M11 59.5h1M23 60.5h1M44 60.5h1M45 61.5h1M37 62.5h1M14 63.5h1M48 64.5h1M36 65.5h2M19 67.5h1M39 67.5h1M50 67.5h1M11 68.5h1M14 68.5h1M20 68.5h1M40 68.5h1M49 68.5h1M5 71.5h1M7 71.5h3M14 71.5h1M24 71.5h1M27 71.5h2M5 72.5h2M24 72.5h4M59 72.5h1M13 74.5h1M66 74.5h1M37 77.5h1M41 78.5h1M65 78.5h1M12 79.5h1M65 79.5h1M42 80.5h1M56 80.5h1M62 80.5h1M83 80.5h2M10 81.5h1M23 81.5h1M37 81.5h1M10 82.5h1M12 82.5h1M5 83.5h1M11 83.5h1M21 84.5h1M23 84.5h1M47 84.5h1M50 84.5h1M59 84.5h1M72 84.5h1M73 85.5h1M32 86.5h1M35 86.5h2M63 86.5h2M0 87.5h1M3 87.5h1M23 87.5h1M33 87.5h6M72 87.5h1M22 88.5h1M39 88.5h1M58 89.5h1M70 89.5h1M21 90.5h1M23 90.5h1M85 90.5h1M40 91.5h1M48 91.5h1M60 91.5h1M72 91.5h1M44 92.5h1M68 93.5h2M80 93.5h1M50 95.5h1M53 95.5h1M82 95.5h1M54 96.5h1M59 96.5h1M83 96.5h1M21 97.5h1M54 97.5h1M78 97.5h1M102 97.5h1M50 98.5h1M53 98.5h1M70 98.5h1M78 98.5h1M84 98.5h1M69 99.5h1M78 99.5h1M46 100.5h3M78 100.5h1M48 101.5h1M59 101.5h1M68 101.5h1M73 101.5h1M100 101.5h1M31 102.5h1M48 102.5h1M59 102.5h1M74 102.5h1M91 102.5h1M32 103.5h1M47 103.5h2M59 103.5h1M63 103.5h1M100 103.5h1M75 104.5h1M99 104.5h1M91 105.5h1M97 105.5h1M64 107.5h3M79 107.5h1M88 107.5h2M50 108.5h1M54 108.5h1M78 108.5h1M87 108.5h1M50 109.5h1M62 109.5h1M79 109.5h1M66 110.5h1M63 111.5h1M23 114.5h1M40 114.5h1M57 114.5h2M22 115.5h2M40 115.5h1M22 116.5h2M49 116.5h4M70 116.5h1M23 117.5h1M49 117.5h1M85 117.5h1M85 118.5h1M72 119.5h1M84 119.5h1M69 120.5h1M84 120.5h1M75 121.5h1M84 121.5h1M58 122.5h2M84 122.5h1M6 123.5h3M44 123.5h1M58 123.5h1M7 124.5h2M72 124.5h1M81 124.5h1M47 125.5h1M81 125.5h1M38 126.5h2M46 126.5h1M67 126.5h2M72 126.5h1M39 127.5h1M72 127.5h1M51 128.5h1M65 128.5h1M57 129.5h1M12 131.5h1M28 131.5h1M55 131.5h1M12 132.5h1M22 132.5h1M74 132.5h1M97 133.5h1M22 134.5h1M59 134.5h1M61 134.5h1M72 134.5h1M55 135.5h1M63 135.5h1M20 136.5h2M54 136.5h1M16 137.5h1M20 137.5h1M53 137.5h1M32 138.5h1M32 139.5h1M62 139.5h2M31 140.5h2M62 140.5h1M102 143.5h1M23 151.5h3M24 152.5h1M28 152.5h1M79 158.5h1M91 159.5h1M92 164.5h1M92 165.5h1M92 166.5h1M91 167.5h1M30 205.5h1M29 206.5h1"/>
<path stroke="#ff7500" d="M58 9.5h2M26 10.5h1M30 10.5h1M59 10.5h1M26 11.5h1M39 13.5h1M30 14.5h1M39 14.5h1M31 15.5h1M38 16.5h1M20 17.5h1M37 17.5h2M20 18.5h1M38 18.5h1M47 22.5h1M49 22.5h1M47 23.5h1M38 26.5h1M38 27.5h1M67 27.5h1M38 28.5h1M23 29.5h1M25 29.5h1M38 29.5h1M47 29.5h1M23 30.5h1M65 30.5h1M27 31.5h1M24 32.5h1M47 33.5h1M47 34.5h1M51 34.5h1M21 35.5h2M47 36.5h1M51 36.5h1M20 37.5h1M24 38.5h1M34 38.5h1M48 38.5h1M23 39.5h1M41 39.5h1M5 40.5h1M4 41.5h1M40 41.5h1M43 41.5h1M4 42.5h1M11 42.5h1M21 42.5h1M28 42.5h2M36 42.5h2M41 42.5h1M80 42.5h1M6 43.5h1M11 43.5h1M41 43.5h1M32 44.5h1M31 45.5h1M33 45.5h1M31 46.5h1M33 46.5h1M41 46.5h1M31 47.5h2M20 48.5h1M31 48.5h2M20 49.5h1M31 49.5h2M36 49.5h2M41 49.5h1M20 50.5h1M32 50.5h1M20 51.5h1M20 52.5h1M11 53.5h1M15 54.5h1M17 54.5h1M24 55.5h3M28 55.5h2M11 56.5h1M37 57.5h1M18 58.5h2M30 58.5h1M31 59.5h1M40 59.5h1M11 60.5h1M35 60.5h1M14 61.5h1M21 61.5h1M36 61.5h1M38 62.5h2M44 62.5h1M10 63.5h1M14 64.5h1M11 65.5h1M47 65.5h1M35 66.5h1M38 66.5h1M50 66.5h1M20 67.5h2M35 67.5h1M21 68.5h1M48 68.5h1M37 69.5h1M41 69.5h1M10 70.5h1M38 70.5h1M6 71.5h1M25 71.5h2M42 71.5h1M42 72.5h1M60 72.5h1M39 73.5h1M40 74.5h1M67 74.5h1M65 75.5h1M38 77.5h2M65 77.5h1M11 80.5h2M57 80.5h1M68 80.5h1M12 81.5h1M56 81.5h1M63 81.5h1M68 81.5h1M83 81.5h2M56 82.5h1M68 82.5h1M83 82.5h2M0 83.5h1M4 83.5h1M38 83.5h1M41 83.5h1M57 83.5h1M68 83.5h1M5 84.5h1M70 84.5h2M5 85.5h1M47 85.5h1M51 85.5h1M60 85.5h1M4 86.5h1M33 86.5h2M47 86.5h1M61 86.5h2M1 87.5h2M51 87.5h1M65 87.5h1M23 88.5h1M71 88.5h1M23 89.5h1M49 89.5h1M40 90.5h1M48 90.5h1M57 90.5h1M59 90.5h1M41 91.5h1M44 91.5h1M47 92.5h1M72 92.5h1M66 93.5h2M70 93.5h2M78 93.5h1M57 94.5h1M51 95.5h2M58 95.5h1M50 96.5h1M50 97.5h1M60 97.5h1M84 97.5h1M51 98.5h1M60 98.5h1M69 98.5h1M71 98.5h1M60 99.5h1M72 99.5h1M65 101.5h1M78 101.5h1M97 101.5h1M46 102.5h1M100 102.5h1M75 103.5h1M60 104.5h1M62 104.5h1M78 104.5h1M95 105.5h2M57 106.5h1M57 107.5h1M56 108.5h1M66 108.5h1M79 108.5h1M89 108.5h1M66 109.5h1M78 109.5h1M65 111.5h1M71 116.5h2M69 117.5h1M77 119.5h1M83 119.5h1M70 120.5h1M41 122.5h1M43 122.5h2M74 122.5h1M41 123.5h3M84 123.5h1M48 125.5h1M50 125.5h1M72 125.5h1M85 125.5h1M51 126.5h1M69 126.5h3M85 126.5h1M38 127.5h1M66 127.5h1M72 128.5h1M83 128.5h1M60 129.5h1M63 130.5h1M23 131.5h2M27 131.5h1M28 132.5h1M22 133.5h1M23 134.5h2M54 134.5h1M68 134.5h1M66 135.5h1M69 135.5h1M71 135.5h1M31 139.5h1M25 152.5h3M30 206.5h1"/>
<path stroke="#ff6a00" d="M58 10.5h1M31 11.5h1M28 12.5h1M22 16.5h1M23 19.5h1M48 22.5h1M47 24.5h1M50 24.5h1M47 25.5h1M47 26.5h1M47 27.5h1M47 28.5h1M50 29.5h1M50 30.5h1M50 31.5h1M26 32.5h1M47 35.5h1M51 35.5h1M23 36.5h1M23 37.5h1M50 37.5h1M22 38.5h2M32 38.5h2M49 38.5h1M24 39.5h1M44 39.5h1M6 40.5h1M9 40.5h1M41 40.5h1M44 40.5h1M41 41.5h2M35 42.5h1M21 43.5h1M29 43.5h2M32 43.5h1M21 44.5h1M31 44.5h1M33 44.5h1M21 45.5h1M33 47.5h1M41 47.5h1M25 48.5h1M33 48.5h1M41 48.5h1M33 49.5h1M35 49.5h1M38 49.5h1M31 50.5h1M33 50.5h2M31 51.5h4M21 52.5h1M31 52.5h1M12 53.5h1M19 53.5h3M30 53.5h1M35 53.5h1M11 54.5h1M14 54.5h1M18 54.5h1M29 54.5h2M11 55.5h1M23 55.5h1M27 55.5h1M30 55.5h1M22 56.5h1M30 56.5h1M22 57.5h1M30 57.5h1M38 58.5h1M32 59.5h1M11 61.5h1M40 62.5h1M14 65.5h1M47 66.5h1M14 67.5h1M47 67.5h1M39 68.5h1M11 69.5h1M10 72.5h1M14 72.5h1M11 73.5h1M14 73.5h1M68 75.5h1M65 76.5h1M38 78.5h1M68 79.5h1M58 80.5h4M65 80.5h1M11 81.5h1M62 81.5h1M64 81.5h1M11 82.5h1M41 82.5h1M1 83.5h3M23 83.5h1M39 83.5h2M58 83.5h1M22 84.5h1M48 84.5h2M68 84.5h2M51 86.5h1M65 86.5h1M72 86.5h1M47 87.5h1M47 88.5h1M50 88.5h1M22 89.5h1M46 89.5h1M22 90.5h1M45 90.5h1M73 90.5h1M76 90.5h9M85 91.5h1M45 92.5h1M60 92.5h1M61 93.5h5M85 93.5h1M77 94.5h1M85 94.5h1M77 95.5h1M60 96.5h1M85 97.5h1M52 98.5h1M72 98.5h1M60 100.5h1M68 100.5h1M46 101.5h2M64 101.5h1M66 101.5h2M99 101.5h1M47 102.5h1M63 102.5h1M78 102.5h1M61 104.5h1M76 104.5h2M55 105.5h2M92 105.5h3M54 106.5h1M54 107.5h1M55 108.5h1M63 108.5h1M88 108.5h1M63 110.5h1M64 111.5h1M72 117.5h1M72 118.5h1M69 119.5h1M78 119.5h1M80 119.5h3M76 120.5h1M42 122.5h1M73 123.5h1M78 123.5h1M81 123.5h1M49 125.5h1M73 125.5h1M76 125.5h1M81 126.5h1M51 127.5h1M81 127.5h1M81 128.5h2M58 129.5h2M65 129.5h1M73 129.5h1M57 130.5h1M62 130.5h1M64 130.5h1M25 131.5h2M27 133.5h1M72 133.5h1M58 134.5h1M67 134.5h1M69 134.5h1M52 135.5h1M54 135.5h1M70 135.5h1M51 137.5h1"/>
<path stroke="#ff6000" d="M27 10.5h1M29 10.5h1M27 11.5h1M23 18.5h1M49 23.5h1M50 25.5h1M50 26.5h1M50 27.5h1M50 28.5h1M24 29.5h1M26 30.5h1M25 32.5h1M50 32.5h1M50 33.5h1M20 36.5h1M48 37.5h1M25 39.5h6M34 39.5h1M7 40.5h2M23 40.5h1M10 41.5h1M22 41.5h1M28 41.5h2M30 42.5h1M34 42.5h1M38 42.5h1M40 42.5h1M7 43.5h1M10 43.5h1M28 43.5h1M31 43.5h1M33 43.5h2M30 44.5h1M34 44.5h1M40 45.5h1M40 46.5h1M24 48.5h1M34 48.5h1M25 49.5h1M34 49.5h1M39 49.5h2M30 52.5h1M32 52.5h1M22 53.5h1M31 53.5h1M19 54.5h4M22 55.5h1M36 56.5h1M39 59.5h1M43 60.5h1M37 61.5h1M44 61.5h1M11 62.5h1M41 62.5h1M43 62.5h1M11 64.5h1M49 65.5h1M14 66.5h1M36 66.5h2M38 67.5h1M36 68.5h1M13 69.5h1M38 69.5h1M40 69.5h1M41 70.5h1M10 71.5h1M39 72.5h1M41 73.5h1M39 78.5h2M68 78.5h1M38 79.5h1M41 79.5h1M41 81.5h1M57 81.5h1M23 82.5h1M57 82.5h1M59 83.5h1M4 84.5h1M60 84.5h1M66 84.5h2M4 85.5h1M61 85.5h1M64 85.5h3M72 85.5h1M0 86.5h1M47 89.5h2M66 89.5h1M58 90.5h1M74 90.5h2M57 91.5h1M73 91.5h1M46 92.5h1M79 92.5h1M85 92.5h1M57 93.5h1M72 93.5h1M81 93.5h1M72 94.5h2M82 94.5h1M59 95.5h1M73 95.5h2M83 95.5h1M85 95.5h1M53 96.5h1M65 96.5h1M73 96.5h2M77 96.5h1M84 96.5h2M61 97.5h1M65 97.5h9M77 97.5h1M61 98.5h1M68 98.5h1M77 98.5h1M61 99.5h1M68 99.5h1M77 99.5h1M73 100.5h1M77 100.5h1M60 101.5h1M63 101.5h1M74 101.5h1M98 101.5h1M75 102.5h1M94 102.5h2M60 103.5h1M62 103.5h1M78 103.5h1M91 103.5h1M99 103.5h1M91 104.5h1M98 104.5h1M64 108.5h2M63 109.5h1M70 117.5h1M69 118.5h1M71 119.5h1M79 119.5h1M83 120.5h1M79 122.5h2M77 124.5h1M84 124.5h1M74 125.5h2M47 126.5h1M47 127.5h1M67 127.5h1M71 127.5h1M84 127.5h1M48 128.5h1M50 128.5h1M71 128.5h1M71 129.5h2M71 130.5h1M74 130.5h1M56 131.5h1M74 131.5h1M73 132.5h1M60 133.5h1M68 133.5h1M62 134.5h1M71 134.5h1M53 135.5h1M64 135.5h2M51 136.5h1"/>
<path stroke="#ff5500" d="M28 10.5h1M31 14.5h1M21 16.5h1M21 19.5h1M48 23.5h1M48 28.5h1M48 29.5h1M48 30.5h1M26 31.5h1M48 31.5h1M48 32.5h1M48 33.5h1M48 34.5h1M50 34.5h1M50 35.5h1M50 36.5h1M21 37.5h1M49 37.5h1M31 39.5h1M42 39.5h2M28 40.5h3M34 40.5h1M5 41.5h1M27 41.5h1M30 41.5h1M34 41.5h1M5 42.5h1M10 42.5h1M27 42.5h1M31 42.5h3M39 42.5h1M8 43.5h2M40 43.5h1M29 44.5h1M40 44.5h1M30 45.5h1M34 45.5h1M21 46.5h1M30 46.5h1M34 46.5h1M30 47.5h1M34 47.5h1M40 47.5h1M30 48.5h1M35 48.5h1M40 48.5h1M24 49.5h1M30 49.5h1M30 50.5h1M21 51.5h1M30 51.5h1M22 52.5h1M33 52.5h2M29 53.5h1M12 54.5h2M23 54.5h1M28 54.5h1M31 54.5h1M21 55.5h1M12 57.5h1M12 58.5h1M20 58.5h1M22 58.5h1M31 58.5h1M37 58.5h1M12 59.5h1M33 59.5h1M14 60.5h1M36 60.5h1M40 60.5h3M38 61.5h2M13 62.5h1M42 62.5h1M11 63.5h1M13 63.5h1M48 65.5h1M13 68.5h1M37 68.5h2M39 69.5h1M11 70.5h1M13 70.5h1M12 73.5h2M41 80.5h1M21 81.5h1M58 81.5h1M60 81.5h2M65 81.5h1M38 82.5h1M40 82.5h1M62 82.5h3M21 83.5h1M60 83.5h1M67 83.5h1M0 84.5h1M65 84.5h1M50 85.5h1M62 85.5h2M67 85.5h1M1 86.5h3M71 87.5h1M48 88.5h2M69 89.5h1M47 90.5h1M47 91.5h1M59 91.5h1M57 92.5h1M73 92.5h1M78 92.5h1M80 92.5h1M60 93.5h1M73 93.5h1M77 93.5h1M58 94.5h1M61 94.5h11M74 94.5h1M76 94.5h1M60 95.5h1M64 95.5h3M72 95.5h1M75 95.5h2M84 95.5h1M51 96.5h1M61 96.5h1M63 96.5h2M66 96.5h2M72 96.5h1M75 96.5h2M51 97.5h1M53 97.5h1M62 97.5h3M74 97.5h3M62 98.5h6M73 98.5h1M62 99.5h3M73 99.5h1M61 100.5h1M63 100.5h3M67 100.5h1M77 101.5h1M60 102.5h1M62 102.5h1M92 102.5h2M96 102.5h1M99 102.5h1M76 103.5h1M56 107.5h1M65 110.5h1M71 117.5h1M70 119.5h1M77 120.5h1M76 121.5h1M83 121.5h1M75 122.5h1M78 122.5h1M81 122.5h1M83 122.5h1M82 123.5h2M73 124.5h1M82 124.5h1M82 125.5h1M84 125.5h1M50 126.5h1M84 126.5h1M68 127.5h1M70 127.5h1M49 128.5h1M66 128.5h1M58 130.5h1M61 130.5h1M70 130.5h1M70 131.5h2M23 132.5h1M27 132.5h1M55 132.5h1M71 132.5h2M59 133.5h1M61 133.5h1M69 133.5h1M71 133.5h1M55 134.5h1M57 134.5h1M70 134.5h1M52 137.5h1"/>
<path stroke="#ff4a00" d="M28 11.5h1M31 12.5h1M22 19.5h1M48 24.5h2M48 27.5h2M49 28.5h1M49 29.5h1M49 30.5h1M24 31.5h1M49 31.5h1M49 32.5h1M49 33.5h1M49 34.5h1M48 35.5h1M21 36.5h2M48 36.5h1M22 37.5h1M32 39.5h2M24 40.5h1M27 40.5h1M31 40.5h1M42 40.5h2M31 41.5h1M27 43.5h1M35 43.5h1M22 45.5h1M24 47.5h1M36 48.5h2M39 48.5h1M24 54.5h1M27 54.5h1M35 54.5h1M12 55.5h1M19 55.5h2M31 55.5h1M12 56.5h1M21 56.5h1M21 57.5h1M17 58.5h1M15 59.5h1M34 59.5h1M38 59.5h1M12 60.5h1M39 60.5h1M12 61.5h2M22 61.5h1M40 61.5h1M13 64.5h1M12 65.5h2M12 66.5h1M12 67.5h1M36 67.5h2M48 67.5h2M12 68.5h1M12 69.5h1M39 70.5h1M13 71.5h1M39 71.5h1M41 71.5h1M11 72.5h1M41 72.5h1M40 73.5h1M66 75.5h1M68 76.5h1M68 77.5h1M66 78.5h1M66 79.5h1M38 80.5h1M22 81.5h1M38 81.5h1M59 81.5h1M39 82.5h1M58 82.5h4M61 83.5h1M64 83.5h3M1 84.5h3M61 84.5h1M64 84.5h1M0 85.5h1M3 85.5h1M48 85.5h1M68 85.5h1M71 85.5h1M48 87.5h1M50 87.5h1M70 88.5h1M46 90.5h1M45 91.5h1M58 91.5h1M74 91.5h1M76 91.5h4M84 91.5h1M59 92.5h1M77 92.5h1M74 93.5h1M76 93.5h1M59 94.5h2M75 94.5h1M84 94.5h1M61 95.5h3M67 95.5h2M71 95.5h1M52 96.5h1M62 96.5h1M68 96.5h4M52 97.5h1M74 98.5h3M65 99.5h3M76 99.5h1M62 100.5h1M66 100.5h1M74 100.5h1M76 100.5h1M61 101.5h2M75 101.5h2M61 102.5h1M76 102.5h2M97 102.5h2M61 103.5h1M77 103.5h1M94 104.5h4M56 106.5h1M55 107.5h1M65 109.5h1M64 110.5h1M70 118.5h2M78 120.5h5M77 121.5h4M74 123.5h1M77 123.5h1M83 124.5h1M48 126.5h2M82 126.5h1M50 127.5h1M69 127.5h1M82 127.5h2M70 128.5h1M70 129.5h1M59 130.5h2M65 130.5h1M72 130.5h2M57 131.5h1M72 131.5h2M70 132.5h1M23 133.5h1M26 133.5h1M67 133.5h1M70 133.5h1M56 134.5h1M66 134.5h1"/>
<path stroke="#ff4000" d="M30 11.5h1M29 12.5h1M30 13.5h2M22 17.5h1M48 25.5h2M48 26.5h2M24 30.5h2M25 31.5h1M49 35.5h1M49 36.5h1M25 40.5h2M32 40.5h2M9 41.5h1M32 41.5h2M22 42.5h1M36 43.5h1M39 43.5h1M22 44.5h1M28 44.5h1M25 47.5h1M35 47.5h1M39 47.5h1M26 48.5h1M38 48.5h1M26 49.5h1M22 51.5h1M29 52.5h1M23 53.5h1M32 53.5h1M25 54.5h2M18 55.5h1M20 56.5h1M31 56.5h1M20 57.5h1M31 57.5h1M36 57.5h1M21 58.5h1M35 59.5h3M13 60.5h1M21 60.5h1M37 60.5h2M41 61.5h3M12 62.5h1M12 63.5h1M12 64.5h1M13 66.5h1M48 66.5h1M13 67.5h1M12 70.5h1M40 70.5h1M11 71.5h1M13 72.5h1M67 75.5h1M39 79.5h2M66 80.5h1M40 81.5h1M67 81.5h1M21 82.5h1M65 82.5h3M22 83.5h1M62 83.5h2M62 84.5h2M1 85.5h2M49 85.5h1M69 85.5h2M48 86.5h1M50 86.5h1M66 86.5h1M71 86.5h1M46 91.5h1M75 91.5h1M80 91.5h4M58 92.5h1M74 92.5h3M81 92.5h1M84 92.5h1M58 93.5h2M75 93.5h1M82 93.5h1M84 93.5h1M83 94.5h1M69 95.5h2M74 99.5h2M75 100.5h1M95 103.5h4M92 104.5h2M55 106.5h1M64 109.5h1M81 121.5h2M76 122.5h2M82 122.5h1M74 124.5h1M76 124.5h1M83 125.5h1M48 127.5h1M58 131.5h1M61 131.5h3M24 132.5h1M26 132.5h1M59 132.5h2M69 132.5h1M55 133.5h1M58 133.5h1M53 136.5h1"/>
<path stroke="#ff3500" d="M29 11.5h1M21 17.5h1M21 18.5h1M6 41.5h1M23 41.5h1M26 41.5h1M9 42.5h1M22 43.5h1M37 43.5h2M35 44.5h1M39 44.5h1M29 45.5h1M39 45.5h1M22 46.5h1M39 46.5h1M24 50.5h2M23 52.5h1M28 53.5h1M34 53.5h1M13 55.5h1M17 55.5h1M19 56.5h1M19 57.5h1M36 58.5h1M13 59.5h1M21 59.5h2M49 66.5h1M12 71.5h1M40 71.5h1M12 72.5h1M40 72.5h1M66 76.5h1M66 77.5h1M67 78.5h1M67 79.5h1M39 80.5h2M67 80.5h1M39 81.5h1M66 81.5h1M49 87.5h1M66 87.5h1M66 88.5h1M67 89.5h2M82 92.5h1M83 93.5h1M92 103.5h1M94 103.5h1M75 123.5h2M75 124.5h1M83 126.5h1M49 127.5h1M67 128.5h1M69 128.5h1M66 129.5h1M59 131.5h2M64 131.5h1M69 131.5h1M25 132.5h1M56 132.5h3M61 132.5h1M68 132.5h1M24 133.5h2"/>
<path stroke="#ff2a00" d="M30 12.5h1M22 18.5h1M7 41.5h2M6 42.5h1M26 42.5h1M35 45.5h1M23 46.5h1M29 46.5h1M35 46.5h1M21 47.5h1M23 47.5h1M38 47.5h1M21 50.5h1M29 50.5h1M23 51.5h1M29 51.5h1M33 53.5h1M32 54.5h1M14 55.5h3M35 55.5h1M13 58.5h1M32 58.5h1M14 59.5h1M22 60.5h1M67 76.5h1M67 77.5h1M22 82.5h1M49 86.5h1M70 86.5h1M70 87.5h1M83 92.5h1M93 103.5h1M68 128.5h1M69 129.5h1M69 130.5h1M62 132.5h1M56 133.5h2M62 133.5h1M63 134.5h1M52 136.5h1"/>
<path stroke="#ff2000" d="M24 41.5h2M7 42.5h2M27 44.5h1M23 45.5h1M24 46.5h1M26 47.5h1M29 47.5h1M36 47.5h2M23 48.5h1M29 48.5h1M23 49.5h1M29 49.5h1M23 50.5h1M24 53.5h1M13 56.5h1M18 56.5h1M13 57.5h1M18 57.5h1M67 86.5h1M65 131.5h1M67 132.5h1M66 133.5h1M65 134.5h1"/>
<path stroke="#ff1500" d="M23 42.5h1M26 43.5h1M23 44.5h1M36 44.5h1M38 44.5h1M28 45.5h1M38 46.5h1M22 47.5h1M22 50.5h1M26 50.5h1M24 51.5h1M28 52.5h1M27 53.5h1M32 55.5h1M35 56.5h1M16 58.5h1M33 58.5h1M35 58.5h1M69 86.5h1M69 88.5h1M66 130.5h1M64 134.5h1"/>
<path stroke="#ff0b00" d="M25 42.5h1M23 43.5h1M37 44.5h1M38 45.5h1M25 46.5h1M36 46.5h1M21 48.5h1M27 48.5h1M21 49.5h1M27 49.5h1M28 51.5h1M24 52.5h1M25 53.5h2M33 54.5h2M32 57.5h1M35 57.5h1M14 58.5h1M34 58.5h1M68 86.5h1M67 129.5h2M66 131.5h1M68 131.5h1M63 132.5h1M66 132.5h1"/>
<path stroke="#ff0000" d="M24 42.5h1M26 44.5h1M24 45.5h1M27 45.5h1M36 45.5h1M26 46.5h1M28 46.5h1M37 46.5h1M27 47.5h2M28 48.5h1M28 49.5h1M27 50.5h2M25 51.5h1M14 56.5h1M17 56.5h1M32 56.5h1M17 57.5h1M69 87.5h1M68 130.5h1M67 131.5h1M64 132.5h2M63 133.5h1"/>
<path stroke="#f40000" d="M25 43.5h1M37 45.5h1M27 46.5h1M22 48.5h1M22 49.5h1M26 51.5h2M27 52.5h1M14 57.5h1M15 58.5h1M67 87.5h1M67 88.5h2M67 130.5h1M65 133.5h1"/>
<path stroke="#ea0000" d="M24 43.5h1M24 44.5h2M25 45.5h2M25 52.5h2M33 55.5h2M15 56.5h2M68 87.5h1M64 133.5h1"/>
<path stroke="#df0000" d="M34 56.5h1M16 57.5h1M33 57.5h2"/>
<path stroke="#d50000" d="M33 56.5h1M15 57.5h1"/>
</g></g></g>
<path fill="none" stroke="#ff0000" stroke-width="4.8" d="M501.5 248.0l22 22M501.5 270.0l22 -22M417.8 330.3l22 22M417.8 352.3l22 -22M292.8 447.5l22 22M292.8 469.5l22 -22M272.5 513.9l22 22M272.5 535.9l22 -22M549.4 659.0l22 22M549.4 681.0l22 -22M627.0 782.0l22 22M627.0 804.0l22 -22M480.8 1847.1l22 22M480.8 1869.1l22 -22"/>
<path fill="none" stroke="#999999" stroke-width="4.5" d="M150.0 209.5l22 22M150.0 231.5l22 -22M197.1 209.5l22 22M197.1 231.5l22 -22M291.3 209.5l22 22M291.3 231.5l22 -22M338.4 209.5l22 22M338.4 231.5l22 -22M432.5 209.5l22 22M432.5 231.5l22 -22M479.6 209.5l22 22M479.6 231.5l22 -22M573.8 209.5l22 22M573.8 231.5l22 -22M620.9 209.5l22 22M620.9 231.5l22 -22M715.0 209.5l22 22M715.0 231.5l22 -22M762.1 209.5l22 22M762.1 231.5l22 -22M856.3 209.5l22 22M856.3 231.5l22 -22M903.4 209.5l22 22M903.4 231.5l22 -22M126.5 250.3l22 22M126.5 272.3l22 -22M220.7 250.3l22 22M220.7 272.3l22 -22M267.8 250.3l22 22M267.8 272.3l22 -22M361.9 250.3l22 22M361.9 272.3l22 -22M409.0 250.3l22 22M409.0 272.3l22 -22M503.2 250.3l22 22M503.2 272.3l22 -22M550.2 250.3l22 22M550.2 272.3l22 -22M644.4 250.3l22 22M644.4 272.3l22 -22M691.5 250.3l22 22M691.5 272.3l22 -22M785.7 250.3l22 22M785.7 272.3l22 -22M832.8 250.3l22 22M832.8 272.3l22 -22M926.9 250.3l22 22M926.9 272.3l22 -22M150.0 291.1l22 22M150.0 313.1l22 -22M197.1 291.1l22 22M197.1 313.1l22 -22M291.3 291.1l22 22M291.3 313.1l22 -22M338.4 291.1l22 22M338.4 313.1l22 -22M432.5 291.1l22 22M432.5 313.1l22 -22M479.6 291.1l22 22M479.6 313.1l22 -22M573.8 291.1l22 22M573.8 313.1l22 -22M620.9 291.1l22 22M620.9 313.1l22 -22M715.0 291.1l22 22M715.0 313.1l22 -22M762.1 291.1l22 22M762.1 313.1l22 -22M856.3 291.1l22 22M856.3 313.1l22 -22M903.4 291.1l22 22M903.4 313.1l22 -22M126.5 332.0l22 22M126.5 354.0l22 -22M220.7 332.0l22 22M220.7 354.0l22 -22M267.8 332.0l22 22M267.8 354.0l22 -22M361.9 332.0l22 22M361.9 354.0l22 -22M409.0 332.0l22 22M409.0 354.0l22 -22M503.2 332.0l22 22M503.2 354.0l22 -22M550.2 332.0l22 22M550.2 354.0l22 -22M644.4 332.0l22 22M644.4 354.0l22 -22M691.5 332.0l22 22M691.5 354.0l22 -22M785.7 332.0l22 22M785.7 354.0l22 -22M832.8 332.0l22 22M832.8 354.0l22 -22M926.9 332.0l22 22M926.9 354.0l22 -22M150.0 372.8l22 22M150.0 394.8l22 -22M197.1 372.8l22 22M197.1 394.8l22 -22M291.3 372.8l22 22M291.3 394.8l22 -22M338.4 372.8l22 22M338.4 394.8l22 -22M432.5 372.8l22 22M432.5 394.8l22 -22M479.6 372.8l22 22M479.6 394.8l22 -22M573.8 372.8l22 22M573.8 394.8l22 -22M620.9 372.8l22 22M620.9 394.8l22 -22M715.0 372.8l22 22M715.0 394.8l22 -22M762.1 372.8l22 22M762.1 394.8l22 -22M856.3 372.8l22 22M856.3 394.8l22 -22M903.4 372.8l22 22M903.4 394.8l22 -22M126.5 413.6l22 22M126.5 435.6l22 -22M220.7 413.6l22 22M220.7 435.6l22 -22M267.8 413.6l22 22M267.8 435.6l22 -22M361.9 413.6l22 22M361.9 435.6l22 -22M409.0 413.6l22 22M409.0 435.6l22 -22M503.2 413.6l22 22M503.2 435.6l22 -22M550.2 413.6l22 22M550.2 435.6l22 -22M644.4 413.6l22 22M644.4 435.6l22 -22M691.5 413.6l22 22M691.5 435.6l22 -22M785.7 413.6l22 22M785.7 435.6l22 -22M832.8 413.6l22 22M832.8 435.6l22 -22M926.9 413.6l22 22M926.9 435.6l22 -22M150.0 454.4l22 22M150.0 476.4l22 -22M197.1 454.4l22 22M197.1 476.4l22 -22M291.3 454.4l22 22M291.3 476.4l22 -22M338.4 454.4l22 22M338.4 476.4l22 -22M432.5 454.4l22 22M432.5 476.4l22 -22M479.6 454.4l22 22M479.6 476.4l22 -22M573.8 454.4l22 22M573.8 476.4l22 -22M620.9 454.4l22 22M620.9 476.4l22 -22M715.0 454.4l22 22M715.0 476.4l22 -22M762.1 454.4l22 22M762.1 476.4l22 -22M856.3 454.4l22 22M856.3 476.4l22 -22M903.4 454.4l22 22M903.4 476.4l22 -22M126.5 495.2l22 22M126.5 517.2l22 -22M220.7 495.2l22 22M220.7 517.2l22 -22M267.8 495.2l22 22M267.8 517.2l22 -22M361.9 495.2l22 22M361.9 517.2l22 -22M409.0 495.2l22 22M409.0 517.2l22 -22M503.2 495.2l22 22M503.2 517.2l22 -22M550.2 495.2l22 22M550.2 517.2l22 -22M644.4 495.2l22 22M644.4 517.2l22 -22M691.5 495.2l22 22M691.5 517.2l22 -22M785.7 495.2l22 22M785.7 517.2l22 -22M832.8 495.2l22 22M832.8 517.2l22 -22M926.9 495.2l22 22M926.9 517.2l22 -22M150.0 536.1l22 22M150.0 558.1l22 -22M197.1 536.1l22 22M197.1 558.1l22 -22M291.3 536.1l22 22M291.3 558.1l22 -22M338.4 536.1l22 22M338.4 558.1l22 -22M432.5 536.1l22 22M432.5 558.1l22 -22M479.6 536.1l22 22M479.6 558.1l22 -22M573.8 536.1l22 22M573.8 558.1l22 -22M620.9 536.1l22 22M620.9 558.1l22 -22M715.0 536.1l22 22M715.0 558.1l22 -22M762.1 536.1l22 22M762.1 558.1l22 -22M856.3 536.1l22 22M856.3 558.1l22 -22M903.4 536.1l22 22M903.4 558.1l22 -22M126.5 576.9l22 22M126.5 598.9l22 -22M220.7 576.9l22 22M220.7 598.9l22 -22M267.8 576.9l22 22M267.8 598.9l22 -22M361.9 576.9l22 22M361.9 598.9l22 -22M409.0 576.9l22 22M409.0 598.9l22 -22M503.2 576.9l22 22M503.2 598.9l22 -22M550.2 576.9l22 22M550.2 598.9l22 -22M644.4 576.9l22 22M644.4 598.9l22 -22M691.5 576.9l22 22M691.5 598.9l22 -22M785.7 576.9l22 22M785.7 598.9l22 -22M832.8 576.9l22 22M832.8 598.9l22 -22M926.9 576.9l22 22M926.9 598.9l22 -22M150.0 617.7l22 22M150.0 639.7l22 -22M197.1 617.7l22 22M197.1 639.7l22 -22M291.3 617.7l22 22M291.3 639.7l22 -22M338.4 617.7l22 22M338.4 639.7l22 -22M432.5 617.7l22 22M432.5 639.7l22 -22M479.6 617.7l22 22M479.6 639.7l22 -22M573.8 617.7l22 22M573.8 639.7l22 -22M620.9 617.7l22 22M620.9 639.7l22 -22M715.0 617.7l22 22M715.0 639.7l22 -22M762.1 617.7l22 22M762.1 639.7l22 -22M856.3 617.7l22 22M856.3 639.7l22 -22M903.4 617.7l22 22M903.4 639.7l22 -22M126.5 658.5l22 22M126.5 680.5l22 -22M220.7 658.5l22 22M220.7 680.5l22 -22M267.8 658.5l22 22M267.8 680.5l22 -22M361.9 658.5l22 22M361.9 680.5l22 -22M409.0 658.5l22 22M409.0 680.5l22 -22M503.2 658.5l22 22M503.2 680.5l22 -22M550.2 658.5l22 22M550.2 680.5l22 -22M644.4 658.5l22 22M644.4 680.5l22 -22M691.5 658.5l22 22M691.5 680.5l22 -22M785.7 658.5l22 22M785.7 680.5l22 -22M832.8 658.5l22 22M832.8 680.5l22 -22M926.9 658.5l22 22M926.9 680.5l22 -22M150.0 699.3l22 22M150.0 721.3l22 -22M197.1 699.3l22 22M197.1 721.3l22 -22M291.3 699.3l22 22M291.3 721.3l22 -22M338.4 699.3l22 22M338.4 721.3l22 -22M432.5 699.3l22 22M432.5 721.3l22 -22M479.6 699.3l22 22M479.6 721.3l22 -22M573.8 699.3l22 22M573.8 721.3l22 -22M620.9 699.3l22 22M620.9 721.3l22 -22M715.0 699.3l22 22M715.0 721.3l22 -22M762.1 699.3l22 22M762.1 721.3l22 -22M856.3 699.3l22 22M856.3 721.3l22 -22M903.4 699.3l22 22M903.4 721.3l22 -22M126.5 740.2l22 22M126.5 762.2l22 -22M220.7 740.2l22 22M220.7 762.2l22 -22M267.8 740.2l22 22M267.8 762.2l22 -22M361.9 740.2l22 22M361.9 762.2l22 -22M409.0 740.2l22 22M409.0 762.2l22 -22M503.2 740.2l22 22M503.2 762.2l22 -22M550.2 740.2l22 22M550.2 762.2l22 -22M644.4 740.2l22 22M644.4 762.2l22 -22M691.5 740.2l22 22M691.5 762.2l22 -22M785.7 740.2l22 22M785.7 762.2l22 -22M832.8 740.2l22 22M832.8 762.2l22 -22M926.9 740.2l22 22M926.9 762.2l22 -22M150.0 781.0l22 22M150.0 803.0l22 -22M197.1 781.0l22 22M197.1 803.0l22 -22M291.3 781.0l22 22M291.3 803.0l22 -22M338.4 781.0l22 22M338.4 803.0l22 -22M432.5 781.0l22 22M432.5 803.0l22 -22M479.6 781.0l22 22M479.6 803.0l22 -22M573.8 781.0l22 22M573.8 803.0l22 -22M620.9 781.0l22 22M620.9 803.0l22 -22M715.0 781.0l22 22M715.0 803.0l22 -22M762.1 781.0l22 22M762.1 803.0l22 -22M856.3 781.0l22 22M856.3 803.0l22 -22M903.4 781.0l22 22M903.4 803.0l22 -22M126.5 821.8l22 22M126.5 843.8l22 -22M220.7 821.8l22 22M220.7 843.8l22 -22M267.8 821.8l22 22M267.8 843.8l22 -22M361.9 821.8l22 22M361.9 843.8l22 -22M409.0 821.8l22 22M409.0 843.8l22 -22M503.2 821.8l22 22M503.2 843.8l22 -22M550.2 821.8l22 22M550.2 843.8l22 -22M644.4 821.8l22 22M644.4 843.8l22 -22M691.5 821.8l22 22M691.5 843.8l22 -22M785.7 821.8l22 22M785.7 843.8l22 -22M832.8 821.8l22 22M832.8 843.8l22 -22M926.9 821.8l22 22M926.9 843.8l22 -22M150.0 862.6l22 22M150.0 884.6l22 -22M197.1 862.6l22 22M197.1 884.6l22 -22M291.3 862.6l22 22M291.3 884.6l22 -22M338.4 862.6l22 22M338.4 884.6l22 -22M432.5 862.6l22 22M432.5 884.6l22 -22M479.6 862.6l22 22M479.6 884.6l22 -22M573.8 862.6l22 22M573.8 884.6l22 -22M620.9 862.6l22 22M620.9 884.6l22 -22M715.0 862.6l22 22M715.0 884.6l22 -22M762.1 862.6l22 22M762.1 884.6l22 -22M856.3 862.6l22 22M856.3 884.6l22 -22M903.4 862.6l22 22M903.4 884.6l22 -22M126.5 903.4l22 22M126.5 925.4l22 -22M220.7 903.4l22 22M220.7 925.4l22 -22M267.8 903.4l22 22M267.8 925.4l22 -22M361.9 903.4l22 22M361.9 925.4l22 -22M409.0 903.4l22 22M409.0 925.4l22 -22M503.2 903.4l22 22M503.2 925.4l22 -22M550.2 903.4l22 22M550.2 925.4l22 -22M644.4 903.4l22 22M644.4 925.4l22 -22M691.5 903.4l22 22M691.5 925.4l22 -22M785.7 903.4l22 22M785.7 925.4l22 -22M832.8 903.4l22 22M832.8 925.4l22 -22M926.9 903.4l22 22M926.9 925.4l22 -22M150.0 944.3l22 22M150.0 966.3l22 -22M197.1 944.3l22 22M197.1 966.3l22 -22M291.3 944.3l22 22M291.3 966.3l22 -22M338.4 944.3l22 22M338.4 966.3l22 -22M432.5 944.3l22 22M432.5 966.3l22 -22M479.6 944.3l22 22M479.6 966.3l22 -22M573.8 944.3l22 22M573.8 966.3l22 -22M620.9 944.3l22 22M620.9 966.3l22 -22M715.0 944.3l22 22M715.0 966.3l22 -22M762.1 944.3l22 22M762.1 966.3l22 -22M856.3 944.3l22 22M856.3 966.3l22 -22M903.4 944.3l22 22M903.4 966.3l22 -22M126.5 985.1l22 22M126.5 1007.1l22 -22M220.7 985.1l22 22M220.7 1007.1l22 -22M267.8 985.1l22 22M267.8 1007.1l22 -22M361.9 985.1l22 22M361.9 1007.1l22 -22M409.0 985.1l22 22M409.0 1007.1l22 -22M503.2 985.1l22 22M503.2 1007.1l22 -22M550.2 985.1l22 22M550.2 1007.1l22 -22M644.4 985.1l22 22M644.4 1007.1l22 -22M691.5 985.1l22 22M691.5 1007.1l22 -22M785.7 985.1l22 22M785.7 1007.1l22 -22M832.8 985.1l22 22M832.8 1007.1l22 -22M926.9 985.1l22 22M926.9 1007.1l22 -22M150.0 1025.9l22 22M150.0 1047.9l22 -22M197.1 1025.9l22 22M197.1 1047.9l22 -22M291.3 1025.9l22 22M291.3 1047.9l22 -22M338.4 1025.9l22 22M338.4 1047.9l22 -22M432.5 1025.9l22 22M432.5 1047.9l22 -22M479.6 1025.9l22 22M479.6 1047.9l22 -22M573.8 1025.9l22 22M573.8 1047.9l22 -22M620.9 1025.9l22 22M620.9 1047.9l22 -22M715.0 1025.9l22 22M715.0 1047.9l22 -22M762.1 1025.9l22 22M762.1 1047.9l22 -22M856.3 1025.9l22 22M856.3 1047.9l22 -22M903.4 1025.9l22 22M903.4 1047.9l22 -22M126.5 1066.7l22 22M126.5 1088.7l22 -22M220.7 1066.7l22 22M220.7 1088.7l22 -22M267.8 1066.7l22 22M267.8 1088.7l22 -22M361.9 1066.7l22 22M361.9 1088.7l22 -22M409.0 1066.7l22 22M409.0 1088.7l22 -22M503.2 1066.7l22 22M503.2 1088.7l22 -22M550.2 1066.7l22 22M550.2 1088.7l22 -22M644.4 1066.7l22 22M644.4 1088.7l22 -22M691.5 1066.7l22 22M691.5 1088.7l22 -22M785.7 1066.7l22 22M785.7 1088.7l22 -22M832.8 1066.7l22 22M832.8 1088.7l22 -22M926.9 1066.7l22 22M926.9 1088.7l22 -22M150.0 1107.5l22 22M150.0 1129.5l22 -22M197.1 1107.5l22 22M197.1 1129.5l22 -22M291.3 1107.5l22 22M291.3 1129.5l22 -22M338.4 1107.5l22 22M338.4 1129.5l22 -22M432.5 1107.5l22 22M432.5 1129.5l22 -22M479.6 1107.5l22 22M479.6 1129.5l22 -22M573.8 1107.5l22 22M573.8 1129.5l22 -22M620.9 1107.5l22 22M620.9 1129.5l22 -22M715.0 1107.5l22 22M715.0 1129.5l22 -22M762.1 1107.5l22 22M762.1 1129.5l22 -22M856.3 1107.5l22 22M856.3 1129.5l22 -22M903.4 1107.5l22 22M903.4 1129.5l22 -22M126.5 1148.4l22 22M126.5 1170.4l22 -22M220.7 1148.4l22 22M220.7 1170.4l22 -22M267.8 1148.4l22 22M267.8 1170.4l22 -22M361.9 1148.4l22 22M361.9 1170.4l22 -22M409.0 1148.4l22 22M409.0 1170.4l22 -22M503.2 1148.4l22 22M503.2 1170.4l22 -22M550.2 1148.4l22 22M550.2 1170.4l22 -22M644.4 1148.4l22 22M644.4 1170.4l22 -22M691.5 1148.4l22 22M691.5 1170.4l22 -22M785.7 1148.4l22 22M785.7 1170.4l22 -22M832.8 1148.4l22 22M832.8 1170.4l22 -22M926.9 1148.4l22 22M926.9 1170.4l22 -22M150.0 1189.2l22 22M150.0 1211.2l22 -22M197.1 1189.2l22 22M197.1 1211.2l22 -22M291.3 1189.2l22 22M291.3 1211.2l22 -22M338.4 1189.2l22 22M338.4 1211.2l22 -22M432.5 1189.2l22 22M432.5 1211.2l22 -22M479.6 1189.2l22 22M479.6 1211.2l22 -22M573.8 1189.2l22 22M573.8 1211.2l22 -22M620.9 1189.2l22 22M620.9 1211.2l22 -22M715.0 1189.2l22 22M715.0 1211.2l22 -22M762.1 1189.2l22 22M762.1 1211.2l22 -22M856.3 1189.2l22 22M856.3 1211.2l22 -22M903.4 1189.2l22 22M903.4 1211.2l22 -22M126.5 1230.0l22 22M126.5 1252.0l22 -22M220.7 1230.0l22 22M220.7 1252.0l22 -22M267.8 1230.0l22 22M267.8 1252.0l22 -22M361.9 1230.0l22 22M361.9 1252.0l22 -22M409.0 1230.0l22 22M409.0 1252.0l22 -22M503.2 1230.0l22 22M503.2 1252.0l22 -22M550.2 1230.0l22 22M550.2 1252.0l22 -22M644.4 1230.0l22 22M644.4 1252.0l22 -22M691.5 1230.0l22 22M691.5 1252.0l22 -22M785.7 1230.0l22 22M785.7 1252.0l22 -22M832.8 1230.0l22 22M832.8 1252.0l22 -22M926.9 1230.0l22 22M926.9 1252.0l22 -22M150.0 1270.8l22 22M150.0 1292.8l22 -22M197.1 1270.8l22 22M197.1 1292.8l22 -22M291.3 1270.8l22 22M291.3 1292.8l22 -22M338.4 1270.8l22 22M338.4 1292.8l22 -22M432.5 1270.8l22 22M432.5 1292.8l22 -22M479.6 1270.8l22 22M479.6 1292.8l22 -22M573.8 1270.8l22 22M573.8 1292.8l22 -22M620.9 1270.8l22 22M620.9 1292.8l22 -22M715.0 1270.8l22 22M715.0 1292.8l22 -22M762.1 1270.8l22 22M762.1 1292.8l22 -22M856.3 1270.8l22 22M856.3 1292.8l22 -22M903.4 1270.8l22 22M903.4 1292.8l22 -22M126.5 1311.6l22 22M126.5 1333.6l22 -22M220.7 1311.6l22 22M220.7 1333.6l22 -22M267.8 1311.6l22 22M267.8 1333.6l22 -22M361.9 1311.6l22 22M361.9 1333.6l22 -22M409.0 1311.6l22 22M409.0 1333.6l22 -22M503.2 1311.6l22 22M503.2 1333.6l22 -22M550.2 1311.6l22 22M550.2 1333.6l22 -22M644.4 1311.6l22 22M644.4 1333.6l22 -22M691.5 1311.6l22 22M691.5 1333.6l22 -22M785.7 1311.6l22 22M785.7 1333.6l22 -22M832.8 1311.6l22 22M832.8 1333.6l22 -22M926.9 1311.6l22 22M926.9 1333.6l22 -22M150.0 1352.5l22 22M150.0 1374.5l22 -22M197.1 1352.5l22 22M197.1 1374.5l22 -22M291.3 1352.5l22 22M291.3 1374.5l22 -22M338.4 1352.5l22 22M338.4 1374.5l22 -22M432.5 1352.5l22 22M432.5 1374.5l22 -22M479.6 1352.5l22 22M479.6 1374.5l22 -22M573.8 1352.5l22 22M573.8 1374.5l22 -22M620.9 1352.5l22 22M620.9 1374.5l22 -22M715.0 1352.5l22 22M715.0 1374.5l22 -22M762.1 1352.5l22 22M762.1 1374.5l22 -22M856.3 1352.5l22 22M856.3 1374.5l22 -22M903.4 1352.5l22 22M903.4 1374.5l22 -22M126.5 1393.3l22 22M126.5 1415.3l22 -22M220.7 1393.3l22 22M220.7 1415.3l22 -22M267.8 1393.3l22 22M267.8 1415.3l22 -22M361.9 1393.3l22 22M361.9 1415.3l22 -22M409.0 1393.3l22 22M409.0 1415.3l22 -22M503.2 1393.3l22 22M503.2 1415.3l22 -22M550.2 1393.3l22 22M550.2 1415.3l22 -22M644.4 1393.3l22 22M644.4 1415.3l22 -22M691.5 1393.3l22 22M691.5 1415.3l22 -22M785.7 1393.3l22 22M785.7 1415.3l22 -22M832.8 1393.3l22 22M832.8 1415.3l22 -22M926.9 1393.3l22 22M926.9 1415.3l22 -22M150.0 1434.1l22 22M150.0 1456.1l22 -22M197.1 1434.1l22 22M197.1 1456.1l22 -22M291.3 1434.1l22 22M291.3 1456.1l22 -22M338.4 1434.1l22 22M338.4 1456.1l22 -22M432.5 1434.1l22 22M432.5 1456.1l22 -22M479.6 1434.1l22 22M479.6 1456.1l22 -22M573.8 1434.1l22 22M573.8 1456.1l22 -22M620.9 1434.1l22 22M620.9 1456.1l22 -22M715.0 1434.1l22 22M715.0 1456.1l22 -22M762.1 1434.1l22 22M762.1 1456.1l22 -22M856.3 1434.1l22 22M856.3 1456.1l22 -22M903.4 1434.1l22 22M903.4 1456.1l22 -22M126.5 1474.9l22 22M126.5 1496.9l22 -22M220.7 1474.9l22 22M220.7 1496.9l22 -22M267.8 1474.9l22 22M267.8 1496.9l22 -22M361.9 1474.9l22 22M361.9 1496.9l22 -22M409.0 1474.9l22 22M409.0 1496.9l22 -22M503.2 1474.9l22 22M503.2 1496.9l22 -22M550.2 1474.9l22 22M550.2 1496.9l22 -22M644.4 1474.9l22 22M644.4 1496.9l22 -22M691.5 1474.9l22 22M691.5 1496.9l22 -22M785.7 1474.9l22 22M785.7 1496.9l22 -22M832.8 1474.9l22 22M832.8 1496.9l22 -22M926.9 1474.9l22 22M926.9 1496.9l22 -22M150.0 1515.7l22 22M150.0 1537.7l22 -22M197.1 1515.7l22 22M197.1 1537.7l22 -22M291.3 1515.7l22 22M291.3 1537.7l22 -22M338.4 1515.7l22 22M338.4 1537.7l22 -22M432.5 1515.7l22 22M432.5 1537.7l22 -22M479.6 1515.7l22 22M479.6 1537.7l22 -22M573.8 1515.7l22 22M573.8 1537.7l22 -22M620.9 1515.7l22 22M620.9 1537.7l22 -22M715.0 1515.7l22 22M715.0 1537.7l22 -22M762.1 1515.7l22 22M762.1 1537.7l22 -22M856.3 1515.7l22 22M856.3 1537.7l22 -22M903.4 1515.7l22 22M903.4 1537.7l22 -22M126.5 1556.6l22 22M126.5 1578.6l22 -22M220.7 1556.6l22 22M220.7 1578.6l22 -22M267.8 1556.6l22 22M267.8 1578.6l22 -22M361.9 1556.6l22 22M361.9 1578.6l22 -22M409.0 1556.6l22 22M409.0 1578.6l22 -22M503.2 1556.6l22 22M503.2 1578.6l22 -22M550.2 1556.6l22 22M550.2 1578.6l22 -22M644.4 1556.6l22 22M644.4 1578.6l22 -22M691.5 1556.6l22 22M691.5 1578.6l22 -22M785.7 1556.6l22 22M785.7 1578.6l22 -22M832.8 1556.6l22 22M832.8 1578.6l22 -22M926.9 1556.6l22 22M926.9 1578.6l22 -22M150.0 1597.4l22 22M150.0 1619.4l22 -22M197.1 1597.4l22 22M197.1 1619.4l22 -22M291.3 1597.4l22 22M291.3 1619.4l22 -22M338.4 1597.4l22 22M338.4 1619.4l22 -22M432.5 1597.4l22 22M432.5 1619.4l22 -22M479.6 1597.4l22 22M479.6 1619.4l22 -22M573.8 1597.4l22 22M573.8 1619.4l22 -22M620.9 1597.4l22 22M620.9 1619.4l22 -22M715.0 1597.4l22 22M715.0 1619.4l22 -22M762.1 1597.4l22 22M762.1 1619.4l22 -22M856.3 1597.4l22 22M856.3 1619.4l22 -22M903.4 1597.4l22 22M903.4 1619.4l22 -22M126.5 1638.2l22 22M126.5 1660.2l22 -22M220.7 1638.2l22 22M220.7 1660.2l22 -22M267.8 1638.2l22 22M267.8 1660.2l22 -22M361.9 1638.2l22 22M361.9 1660.2l22 -22M409.0 1638.2l22 22M409.0 1660.2l22 -22M503.2 1638.2l22 22M503.2 1660.2l22 -22M550.2 1638.2l22 22M550.2 1660.2l22 -22M644.4 1638.2l22 22M644.4 1660.2l22 -22M691.5 1638.2l22 22M691.5 1660.2l22 -22M785.7 1638.2l22 22M785.7 1660.2l22 -22M832.8 1638.2l22 22M832.8 1660.2l22 -22M926.9 1638.2l22 22M926.9 1660.2l22 -22M150.0 1679.0l22 22M150.0 1701.0l22 -22M197.1 1679.0l22 22M197.1 1701.0l22 -22M291.3 1679.0l22 22M291.3 1701.0l22 -22M338.4 1679.0l22 22M338.4 1701.0l22 -22M432.5 1679.0l22 22M432.5 1701.0l22 -22M479.6 1679.0l22 22M479.6 1701.0l22 -22M573.8 1679.0l22 22M573.8 1701.0l22 -22M620.9 1679.0l22 22M620.9 1701.0l22 -22M715.0 1679.0l22 22M715.0 1701.0l22 -22M762.1 1679.0l22 22M762.1 1701.0l22 -22M856.3 1679.0l22 22M856.3 1701.0l22 -22M903.4 1679.0l22 22M903.4 1701.0l22 -22M126.5 1719.8l22 22M126.5 1741.8l22 -22M220.7 1719.8l22 22M220.7 1741.8l22 -22M267.8 1719.8l22 22M267.8 1741.8l22 -22M361.9 1719.8l22 22M361.9 1741.8l22 -22M409.0 1719.8l22 22M409.0 1741.8l22 -22M503.2 1719.8l22 22M503.2 1741.8l22 -22M550.2 1719.8l22 22M550.2 1741.8l22 -22M644.4 1719.8l22 22M644.4 1741.8l22 -22M691.5 1719.8l22 22M691.5 1741.8l22 -22M785.7 1719.8l22 22M785.7 1741.8l22 -22M832.8 1719.8l22 22M832.8 1741.8l22 -22M926.9 1719.8l22 22M926.9 1741.8l22 -22M150.0 1760.7l22 22M150.0 1782.7l22 -22M197.1 1760.7l22 22M197.1 1782.7l22 -22M291.3 1760.7l22 22M291.3 1782.7l22 -22M338.4 1760.7l22 22M338.4 1782.7l22 -22M432.5 1760.7l22 22M432.5 1782.7l22 -22M479.6 1760.7l22 22M479.6 1782.7l22 -22M573.8 1760.7l22 22M573.8 1782.7l22 -22M620.9 1760.7l22 22M620.9 1782.7l22 -22M715.0 1760.7l22 22M715.0 1782.7l22 -22M762.1 1760.7l22 22M762.1 1782.7l22 -22M856.3 1760.7l22 22M856.3 1782.7l22 -22M903.4 1760.7l22 22M903.4 1782.7l22 -22M126.5 1801.5l22 22M126.5 1823.5l22 -22M220.7 1801.5l22 22M220.7 1823.5l22 -22M267.8 1801.5l22 22M267.8 1823.5l22 -22M361.9 1801.5l22 22M361.9 1823.5l22 -22M409.0 1801.5l22 22M409.0 1823.5l22 -22M503.2 1801.5l22 22M503.2 1823.5l22 -22M550.2 1801.5l22 22M550.2 1823.5l22 -22M644.4 1801.5l22 22M644.4 1823.5l22 -22M691.5 1801.5l22 22M691.5 1823.5l22 -22M785.7 1801.5l22 22M785.7 1823.5l22 -22M832.8 1801.5l22 22M832.8 1823.5l22 -22M926.9 1801.5l22 22M926.9 1823.5l22 -22M150.0 1842.3l22 22M150.0 1864.3l22 -22M197.1 1842.3l22 22M197.1 1864.3l22 -22M291.3 1842.3l22 22M291.3 1864.3l22 -22M338.4 1842.3l22 22M338.4 1864.3l22 -22M432.5 1842.3l22 22M432.5 1864.3l22 -22M479.6 1842.3l22 22M479.6 1864.3l22 -22M573.8 1842.3l22 22M573.8 1864.3l22 -22M620.9 1842.3l22 22M620.9 1864.3l22 -22M715.0 1842.3l22 22M715.0 1864.3l22 -22M762.1 1842.3l22 22M762.1 1864.3l22 -22M856.3 1842.3l22 22M856.3 1864.3l22 -22M903.4 1842.3l22 22M903.4 1864.3l22 -22"/>
<path fill="none" stroke="#ff0000" stroke-width="4.8" d="M137.5 177.3l22 22M137.5 199.3l22 -22M210.6 177.3l22 22M210.6 199.3l22 -22M277.5 186.3l22 22M277.5 208.3l22 -22M344.5 229.0l22 22M344.5 251.0l22 -22M278.6 271.8l22 22M278.6 293.8l22 -22M263.5 346.0l22 22M263.5 368.0l22 -22M331.0 368.5l22 22M331.0 390.5l22 -22M420.0 173.9l22 22M420.0 195.9l22 -22M483.0 202.0l22 22M483.0 224.0l22 -22M555.0 178.4l22 22M555.0 200.4l22 -22M633.8 184.0l22 22M633.8 206.0l22 -22M417.8 371.9l22 22M417.8 393.9l22 -22M624.8 371.9l22 22M624.8 393.9l22 -22M424.5 411.3l22 22M424.5 433.3l22 -22M546.0 411.3l22 22M546.0 433.3l22 -22M700.7 176.7l22 22M700.7 198.7l22 -22M775.3 183.7l22 22M775.3 205.7l22 -22M843.0 176.7l22 22M843.0 198.7l22 -22M917.7 176.7l22 22M917.7 198.7l22 -22M698.3 251.3l22 22M698.3 273.3l22 -22M707.7 363.3l22 22M707.7 385.3l22 -22M355.0 426.0l22 22M355.0 448.0l22 -22M288.3 602.8l22 22M288.3 624.8l22 -22M494.3 494.8l22 22M494.3 516.8l22 -22M571.9 617.4l22 22M571.9 639.4l22 -22M504.4 652.3l22 22M504.4 674.3l22 -22M486.5 714.0l22 22M486.5 736.0l22 -22M749.7 455.3l22 22M749.7 477.3l22 -22M771.8 525.3l22 22M771.8 547.3l22 -22M277.0 743.8l22 22M277.0 765.8l22 -22M281.5 777.5l22 22M281.5 799.5l22 -22M281.5 864.1l22 22M281.5 886.1l22 -22M638.3 740.4l22 22M638.3 762.4l22 -22M460.5 856.3l22 22M460.5 878.3l22 -22M517.9 901.3l22 22M517.9 923.3l22 -22M447.0 945.0l22 22M447.0 967.0l22 -22M533.6 983.4l22 22M533.6 1005.4l22 -22M615.0 1009.0l22 22M615.0 1031.0l22 -22M764.8 866.0l22 22M764.8 888.0l22 -22M696.0 905.7l22 22M696.0 927.7l22 -22M268.0 1047.8l22 22M268.0 1069.8l22 -22M353.5 1090.5l22 22M353.5 1112.5l22 -22M281.5 1117.5l22 22M281.5 1139.5l22 -22M292.8 1190.6l22 22M292.8 1212.6l22 -22M503.3 1156.9l22 22M503.3 1178.9l22 -22M533.6 1222.0l22 22M533.6 1244.0l22 -22M584.3 1269.4l22 22M584.3 1291.4l22 -22M645.0 1297.5l22 22M645.0 1319.5l22 -22M798.7 1066.5l22 22M798.7 1088.5l22 -22M710.0 1182.0l22 22M710.0 1204.0l22 -22M759.0 1271.8l22 22M759.0 1293.8l22 -22M269.1 1396.9l22 22M269.1 1418.9l22 -22M269.1 1560.0l22 22M269.1 1582.0l22 -22M297.3 1589.3l22 22M297.3 1611.3l22 -22M426.8 1443.0l22 22M426.8 1465.0l22 -22M397.5 1551.0l22 22M397.5 1573.0l22 -22M713.5 1337.2l22 22M713.5 1359.2l22 -22M777.7 1389.7l22 22M777.7 1411.7l22 -22M710.0 1425.8l22 22M710.0 1447.8l22 -22M298.4 1761.6l22 22M298.4 1783.6l22 -22M287.1 1811.1l22 22M287.1 1833.1l22 -22M353.5 1856.1l22 22M353.5 1878.1l22 -22M272.5 1864.0l22 22M272.5 1886.0l22 -22M136.4 1876.4l22 22M136.4 1898.4l22 -22M210.6 1876.4l22 22M210.6 1898.4l22 -22M642.8 1646.9l22 22M642.8 1668.9l22 -22M433.5 1766.1l22 22M433.5 1788.1l22 -22M597.8 1759.4l22 22M597.8 1781.4l22 -22M503.3 1803.3l22 22M503.3 1825.3l22 -22M647.3 1805.5l22 22M647.3 1827.5l22 -22M429.0 1848.3l22 22M429.0 1870.3l22 -22M415.5 1876.4l22 22M415.5 1898.4l22 -22M494.3 1876.4l22 22M494.3 1898.4l22 -22M560.6 1877.5l22 22M560.6 1899.5l22 -22M634.9 1876.4l22 22M634.9 1898.4l22 -22M713.5 1673.0l22 22M713.5 1695.0l22 -22M676.2 1733.7l22 22M676.2 1755.7l22 -22M703.0 1876.0l22 22M703.0 1898.0l22 -22M776.5 1876.0l22 22M776.5 1898.0l22 -22M844.2 1874.8l22 22M844.2 1896.8l22 -22M917.7 1874.8l22 22M917.7 1896.8l22 -22"/>
<g clip-path="url(#pc)"><g transform="scale(0.5)"><path fill="none" stroke="#0000ff" stroke-width="4.4" d="M284 292l-10 19M338 297l-17 13M365 303l10 4M418 304l5 3M463 303l10 4M517 289l5 24M586 300l-21 9M618 297l1 11M673 304l-6 3M706 296l14 14M770 311l-4 -4M809 309l7 -2M879 316l-19 -12M896 310l22 -4M978 313l-21 -8M1015 291l-5 21M1066 309l-7 -2M1115 291l-8 21M1153 303l5 4M1217 318l-12 -13M1241 297l20 13M1311 309l-7 -2M1351 297l3 11M1416 300l-16 8M1469 303l-22 5M1511 295l-13 15M1546 322l5 -19M1583 298l21 12M1663 309l-18 -2M1699 325l-3 -24M1760 318l-19 -15M1785 298l11 10M1836 294l10 16M266 342l13 18M341 348l-21 11M373 362l1 -7M419 371l5 -18M480 343l-10 16M526 359l-5 -3M565 373l7 -23M609 371l13 -20M686 353l-24 4M700 349l23 9M776 370l-13 -18M818 343l-3 14M853 366l13 -12M896 354l22 3M966 351l-4 6M998 345l17 14M1056 338l5 24M1098 344l14 15M1172 346l-18 13M1192 348l19 11M1271 346l-20 14M1295 365l11 -10M1342 370l16 -18M1407 371l-5 -18M1457 368l-6 -13M1485 361l21 -6M1535 348l19 11M1597 340l2 20M1642 356l7 0M1690 340l9 22M1733 356l14 0M1801 357l-7 -1M1860 363l-21 -9M280 414l-4 -10M309 410l21 -6M384 402l-11 3M433 397l-11 9M485 395l-17 13M532 418l-14 -17M564 390l7 19M636 399l-23 8M677 391l-12 18M712 402l5 4M756 391l13 19M809 407l7 -2M848 403l20 3M926 416l-17 -14M972 416l-12 -13M1025 415l-18 -13M1048 393l16 16M1092 406l22 -1M1176 403l-24 3M1192 396l20 12M1256 423l0 -24M1322 403l-22 3M1370 407l-20 -2M1393 408l11 -3M1458 398l-7 8M1492 410l10 -5M1555 388l-7 23M1605 422l-8 -23M1665 407l-22 -2M1707 393l-12 15M1756 407l-11 -2M1803 391l-10 18M1856 416l-15 -13M272 466l4 -13M326 470l-1 -20M369 438l7 21M433 441l-13 17M454 455l24 -1M537 451l-20 4M575 468l-6 -17M633 449l-17 6M654 458l17 -5M701 446l21 11M764 438l3 20M824 440l-12 18M868 458l-4 -4M904 469l12 -19M949 462l16 -9M1005 471l8 -22M1051 470l12 -21M1096 463l16 -11M1175 452l-22 3M1221 448l-17 7M1245 447l12 8M1323 450l-24 6M1357 471l-4 -22M1386 455l22 -1M1442 440l13 18M1495 470l8 -20M1555 458l-5 -4M1584 456l18 -2M1642 446l7 9M1685 442l15 16M1741 471l7 -22M1812 457l-22 -4M1859 448l-19 8M269 518l9 -18M309 501l20 3M378 488l-5 19M422 518l1 -18M473 490l-1 15M512 518l12 -19M557 511l16 -9M614 507l5 -4M664 512l4 -10M726 499l-10 5M754 491l15 16M832 506l-22 -3M852 516l15 -16M926 514l-17 -14M954 488l10 20M1024 516l-17 -17M1074 509l-17 -7M1113 512l-4 -10M1175 509l-23 -8M1194 515l17 -15M1256 485l0 24M1288 499l23 6M1364 504l-11 -1M1385 500l24 4M1458 501l-7 3M1495 504l7 -1M1568 505l-24 -2M1609 500l-11 4M1644 513l4 -11M1688 507l10 -4M1733 516l17 -17M1781 511l18 -10M1835 518l12 -19M287 546l-12 7M342 546l-23 9M380 564l-7 -13M407 544l21 11M468 569l5 -21M507 558l17 -7M559 539l14 17M603 556l20 -4M668 570l0 -24M731 542l-18 13M758 539l10 17M808 541l8 13M851 553l14 -1M921 539l-10 17M973 538l-15 19M1014 569l-4 -22M1069 538l-12 19M1125 546l-21 8M1165 546l-8 7M1214 559l-8 -7M1239 557l23 -6M1289 554l20 -2M1336 556l24 -5M1387 543l21 12M1436 548l21 6M1503 536l-3 21M1542 569l11 -22M1607 547l-9 6M1643 555l6 -3M1712 552l-18 1M1732 543l18 12M1790 569l7 -21M1860 544l-21 11M278 585l-3 21M337 615l-16 -18M360 593l17 10M407 594l21 10M486 597l-17 5M508 602l14 -1M554 609l21 -10M631 613l-16 -15M684 604l-20 -3M701 608l21 -8M767 585l-1 21M810 584l7 23M871 609l-8 -8M912 619l1 -24M978 596l-21 7M1013 585l-3 21M1043 602l22 -1M1099 601l11 1M1173 607l-19 -7M1223 603l-20 -2M1239 609l23 -10M1312 612l-8 -12M1360 610l-7 -9M1396 613l8 -13M1434 605l24 -5M1507 616l-8 -18M1559 587l-12 19M1611 593l-14 10M1631 603l22 -2M1679 600l24 2M1761 594l-20 10M1784 595l12 7M1832 615l16 -18M291 661l-20 -14M309 646l21 6M365 636l12 19M408 650l18 1M462 653l11 -3M529 635l-10 20M552 654l24 -5M616 634l4 21M655 650l14 1M701 642l21 12M782 651l-20 -1M815 634l0 22M849 641l20 13M909 646l4 5M946 646l21 6M1016 635l-6 19M1051 645l10 6M1099 664l13 -17M1161 656l-3 -6M1219 641l-14 11M1259 667l-4 -21M1301 646l4 5M1365 664l-14 -17M1398 659l5 -9M1459 658l-8 -8M1495 643l7 8M1550 657l0 -7M1590 665l12 -19M1645 656l3 -6M1692 666l6 -19M1731 642l19 11M1785 639l12 14M1831 654l14 -4M271 708l6 -9M309 694l21 7M385 711l-14 -14M440 698l-22 2M489 695l-23 6M521 710l0 -11M556 710l19 -14M629 715l-13 -20M668 717l0 -22M717 682l0 24M757 713l11 -17M817 716l-3 -20M862 683l3 22M926 699l-14 1M946 691l21 11M1010 706l1 -7M1071 711l-14 -14M1094 692l19 10M1167 684l-12 21M1219 711l-16 -15M1239 698l22 2M1323 698l-24 2M1360 716l-8 -21M1406 690l-3 11M1456 683l-5 22M1519 696l-24 5M1540 700l11 0M1593 683l8 22M1632 706l21 -8M1701 682l-5 23M1739 715l9 -20M1782 700l14 0M1840 684l5 20M260 741l21 10M319 741l7 8M375 734l-1 18M416 741l8 8M475 731l-4 24M526 764l-6 -19M587 748l-22 1M632 738l-17 14M651 748l22 1M722 761l-6 -13M771 733l-7 20M826 742l-12 7M870 735l-7 16M898 749l18 0M952 764l13 -20M996 755l19 -8M1064 766l-5 -23M1109 731l0 24M1163 745l-5 4M1195 743l13 6M1255 766l1 -22M1308 732l-4 22M1345 764l12 -20M1414 761l-14 -16M1452 731l0 24M1515 743l-17 7M1544 735l7 17M1596 761l3 -14M1638 757l11 -9M1688 754l10 -6M1763 754l-23 -7M1783 745l13 4M1860 744l-21 6M287 812l-15 -19M335 797l-11 1M362 786l15 15M438 789l-20 12M477 781l-7 23M534 789l-16 11M573 788l-3 11M628 814l-12 -21M660 783l10 19M708 793l10 5M752 807l18 -12M831 803l-21 -7M850 807l18 -12M922 793l-10 5M956 781l8 22M1006 789l5 10M1047 789l16 11M1113 793l-4 5M1153 782l6 21M1207 811l0 -14M1263 791l-8 7M1301 780l5 24M1363 783l-12 19M1409 798l-7 0M1435 801l22 -4M1505 807l-4 -10M1561 809l-14 -14M1586 789l16 11M1661 787l-17 14M1713 790l-21 10M1736 812l13 -18M1786 788l10 11M1848 814l-5 -21M259 850l22 -4M312 847l14 0M365 851l10 -5M413 860l13 -17M472 829l0 24M518 830l4 22M588 849l-24 -3M603 853l21 -8M653 838l19 11M700 847l22 0M764 830l3 22M826 861l-15 -19M846 851l24 -6M926 849l-14 -2M968 864l-8 -23M996 836l20 14M1066 848l-7 -1M1103 830l8 22M1157 841l1 6M1197 847l11 0M1261 831l-7 21M1308 832l-4 18M1364 859l-12 -15M1419 844l-20 3M1468 852l-21 -7M1484 851l23 -6M1535 841l19 7M1612 847l-14 0M1634 839l17 10M1704 860l-8 -16M1744 830l3 22M1799 859l-4 -13M1852 837l-9 11M270 879l8 23M326 906l-1 -11M359 889l20 9M405 899l24 -4M470 912l2 -20M519 880l2 20M572 878l-3 24M614 892l5 4M685 896l-22 0M703 906l18 -13M781 887l-19 11M799 901l21 -7M849 904l19 -10M912 890l1 7M951 883l14 17M1015 912l-5 -21M1072 887l-14 11M1111 914l-3 -24M1144 902l17 -7M1203 887l4 10M1256 913l0 -22M1310 884l-5 13M1346 909l10 -16M1420 890l-23 8M1434 896l24 0M1490 890l12 7M1533 901l23 -7M1614 902l-19 -8M1661 884l-17 16M1691 908l7 -13M1732 887l18 12M1792 887l3 10M1830 904l17 -10M284 930l-10 20M312 943l14 2M374 932l0 14M407 941l21 5M489 941l-22 5M522 927l-1 24M558 954l14 -11M629 934l-12 13M662 947l7 -2M703 941l17 5M750 953l21 -11M809 945l7 0M848 954l21 -12M897 943l20 3M949 934l17 14M999 949l13 -4M1057 958l3 -14M1102 961l9 -21M1143 952l19 -9M1189 944l24 1M1248 960l10 -19M1317 954l-14 -11M1343 958l14 -17M1407 940l-4 5M1438 937l18 10M1514 934l-17 14M1550 927l0 24M1609 959l-13 -18M1662 950l-17 -6M1690 934l8 12M1733 957l17 -16M1797 927l-3 24M1841 932l3 14M293 994l-22 0M317 979l10 20M379 991l-6 3M411 1004l15 -12M472 1012l0 -24M518 1012l4 -24M572 988l-2 7M621 976l-3 24M669 1010l-1 -20M733 988l-21 8M766 977l0 22M816 988l-1 7M857 977l9 23M926 984l-16 13M978 995l-20 -1M1022 1009l-15 -20M1070 1008l-13 -18M1095 984l18 13M1146 1005l15 -14M1199 1007l10 -15M1239 990l23 6M1303 977l3 22M1352 989l2 6M1397 977l8 23M1464 982l-15 16M1518 988l-23 8M1547 1011l4 -22M1594 990l5 4M1652 1009l-5 -18M1694 979l4 18M1755 980l-12 18M1790 977l7 23M1828 990l20 5M270 1057l7 -17M338 1035l-16 10M367 1027l9 22M408 1035l19 11M469 1053l3 -11M534 1042l-14 1M560 1035l11 9M628 1058l-12 -19M680 1057l-16 -18M724 1054l-8 -12M770 1055l-4 -13M797 1045l24 -2M879 1035l-19 11M915 1038l-2 6M952 1052l11 -10M1024 1036l-16 9M1068 1053l-9 -11M1111 1059l-3 -20M1146 1048l13 -5M1196 1051l12 -9M1242 1031l19 16M1317 1035l-14 10M1370 1039l-21 5M1391 1031l15 16M1464 1047l-13 -4M1496 1040l6 4M1541 1048l10 -5M1592 1030l8 16M1650 1033l-2 11M1689 1027l11 21M1733 1032l17 14M1795 1059l0 -20M1849 1027l-7 21M259 1095l22 -3M327 1087l-2 6M362 1098l13 -6M418 1089l6 4M478 1108l-8 -20M531 1105l-13 -16M574 1096l-4 -4M609 1106l13 -18M661 1078l9 18M707 1090l11 3M758 1080l10 15M804 1081l14 14M848 1095l20 -3M903 1090l11 3M953 1106l12 -18M1018 1105l-8 -15M1056 1088l4 5M1126 1087l-23 7M1169 1107l-15 -20M1218 1099l-12 -7M1268 1083l-14 11M1321 1087l-21 7M1347 1077l9 20M1415 1104l-16 -15M1469 1089l-22 4M1500 1109l1 -22M1541 1107l12 -19M1614 1082l-20 14M1639 1083l10 10M1708 1080l-14 16M1763 1093l-22 -1M1779 1088l21 6M1831 1085l16 9M274 1151l2 -11M316 1137l10 5M361 1152l17 -14M405 1138l24 4M454 1142l24 -1M515 1125l8 21M574 1125l-5 21M625 1156l-8 -18M654 1135l17 8M731 1153l-19 -15M763 1136l3 6M818 1125l-4 21M858 1134l7 8M896 1145l22 -5M957 1124l7 23M1023 1152l-15 -13M1067 1126l-9 20M1105 1129l4 14M1148 1126l13 20M1213 1153l-7 -13M1247 1126l12 21M1298 1135l8 7M1340 1137l17 5M1386 1145l22 -5M1458 1143l-7 -2M1508 1158l-9 -22M1550 1131l0 11M1608 1151l-10 -11M1649 1156l-1 -18M1698 1126l-1 18M1759 1148l-16 -8M1804 1126l-12 21M1860 1135l-21 8M289 1202l-17 -15M328 1181l-3 10M374 1184l0 7M409 1197l17 -8M474 1207l-3 -22M518 1173l4 23M580 1199l-11 -9M632 1183l-16 9M655 1201l17 -14M723 1190l-7 0M776 1204l-13 -18M809 1188l7 3M875 1176l-15 19M923 1192l-11 -2M961 1185l1 6M1016 1174l-7 21M1058 1185l2 6M1101 1205l10 -19M1147 1178l14 15M1211 1207l-5 -21M1242 1181l18 12M1293 1203l16 -17M1369 1180l-20 14M1386 1194l22 -5M1458 1198l-7 -8M1496 1194l5 -4M1560 1204l-13 -18M1607 1196l-9 -6M1650 1206l-2 -20M1688 1176l12 19M1736 1188l11 3M1778 1188l22 3M1843 1173l1 22M261 1249l20 -13M315 1239l11 1M383 1253l-11 -17M413 1227l13 16M482 1241l-11 -2M529 1250l-9 -12M563 1255l9 -20M637 1240l-24 -1M673 1223l-7 21M700 1240l22 -1M770 1256l-5 -21M824 1230l-10 10M865 1257l-1 -22M898 1231l19 11M954 1223l11 22M1012 1223l-1 22M1047 1227l17 17M1113 1257l-5 -23M1167 1249l-10 -10M1211 1249l-4 -10M1238 1243l24 -5M1315 1252l-13 -16M1345 1234l10 6M1385 1238l24 2M1439 1249l16 -12M1487 1245l17 -7M1545 1227l5 14M1607 1225l-10 18M1655 1233l-8 7M1707 1238l-11 2M1751 1256l-7 -21M1810 1233l-19 8M1860 1247l-21 -10M273 1301l3 -14M338 1301l-17 -17M390 1295l-21 -8M413 1275l13 18M467 1285l5 4M507 1295l17 -8M553 1291l22 -3M602 1285l22 5M674 1305l-8 -21M723 1305l-8 -21M761 1286l6 3M814 1305l1 -20M860 1298l4 -10M899 1300l19 -15M953 1298l10 -10M998 1279l16 12M1055 1272l6 21M1091 1285l24 5M1150 1305l11 -22M1224 1286l-22 3M1243 1279l16 12M1309 1274l-5 17M1369 1281l-19 10M1414 1274l-15 19M1438 1284l17 5M1496 1292l6 -4M1568 1289l-24 -1M1612 1300l-17 -15M1644 1305l5 -21M1714 1282l-23 9M1756 1275l-13 18M1811 1292l-20 -4M1848 1306l-5 -23M292 1346l-21 -11M317 1323l10 19M392 1340l-24 -3M422 1355l1 -22M455 1337l22 1M507 1328l18 13M564 1339l7 -1M625 1329l-7 9M669 1321l-1 22M720 1322l-4 20M751 1344l19 -8M833 1337l-24 1M847 1344l23 -9M923 1337l-11 1M959 1352l4 -17M1019 1327l-9 12M1044 1345l21 -10M1124 1330l-19 10M1170 1325l-16 17M1208 1328l-1 11M1269 1338l-14 0M1289 1339l20 -2M1338 1344l21 -8M1409 1339l-7 -1M1461 1350l-11 -15M1510 1343l-10 -6M1540 1324l13 18M1607 1350l-10 -15M1640 1323l10 19M1704 1354l-9 -22M1761 1346l-19 -11M1803 1324l-10 17M1862 1339l-24 -2M278 1381l-2 6M315 1373l13 18M359 1389l18 -3M435 1396l-14 -11M464 1374l10 15M504 1392l23 -7M552 1390l24 -4M610 1371l12 21M662 1371l8 20M699 1389l24 -3M767 1400l-1 -15M818 1369l-4 24M876 1400l-16 -18M916 1374l-3 14M979 1383l-22 5M1021 1379l-11 9M1063 1396l-3 -10M1091 1389l24 -3M1175 1383l-22 5M1208 1374l-1 14M1240 1386l20 1M1294 1394l12 -8M1356 1392l-2 -6M1403 1400l0 -15M1449 1392l3 -6M1491 1400l13 -17M1561 1400l-14 -17M1615 1379l-21 10M1660 1400l-16 -18M1684 1397l16 -13M1743 1403l4 -21M1795 1374l0 14M1861 1385l-22 2M285 1445l-10 -10M342 1438l-22 -3M362 1445l14 -11M421 1449l2 -14M463 1452l12 -21M511 1433l11 3M567 1420l4 20M637 1438l-24 -3M658 1450l13 -18M733 1440l-21 -5M781 1437l-18 -1M828 1438l-14 -2M865 1453l-1 -22M909 1419l5 22M976 1425l-19 15M1012 1442l-1 -7M1070 1422l-13 18M1109 1423l0 14M1172 1426l-18 13M1195 1430l13 6M1266 1447l-12 -13M1321 1445l-21 -12M1352 1423l2 14M1394 1440l10 -5M1439 1438l14 -2M1518 1432l-22 5M1538 1423l16 17M1593 1451l7 -19M1658 1434l-11 2M1700 1453l-4 -22M1754 1425l-9 12M1813 1432l-24 5M1843 1453l1 -22M273 1502l4 -22M335 1472l-12 16M375 1472l-1 14M428 1497l-5 -13M479 1500l-9 -20M503 1485l24 0M581 1471l-15 19M626 1470l-9 19M684 1477l-21 11M725 1498l-10 -16M756 1470l13 20M805 1498l13 -17M859 1482l6 3M899 1494l18 -12M977 1488l-18 -4M1022 1498l-14 -17M1069 1498l-11 -16M1092 1490l23 -7M1158 1467l0 24M1221 1492l-18 -9M1249 1469l9 21M1315 1471l-13 18M1351 1472l3 14M1399 1501l5 -21M1457 1489l-5 -4M1483 1487l24 -3M1555 1494l-5 -10M1595 1502l5 -23M1643 1470l6 19M1714 1488l-22 -4M1755 1501l-12 -21M1812 1491l-23 -8M1859 1477l-19 10M286 1532l-11 2M309 1528l21 8M360 1544l18 -13M423 1517l0 22M488 1538l-21 -5M513 1521l10 16M576 1533l-7 1M637 1534l-24 0M660 1547l10 -16M733 1526l-21 11M760 1520l7 17M826 1547l-14 -17M847 1532l22 3M919 1548l-7 -17M956 1551l8 -23M1028 1535l-22 -1M1059 1551l1 -22M1096 1531l14 3M1169 1545l-13 -13M1195 1526l14 10M1261 1526l-6 9M1320 1539l-19 -6M1357 1519l-4 18M1412 1529l-10 5M1435 1528l23 8M1506 1518l-6 21M1558 1528l-9 7M1589 1535l11 -1M1657 1521l-11 16M1707 1549l-13 -20M1753 1521l-8 16M1799 1551l-5 -22M1859 1543l-20 -12M272 1600l5 -22M333 1577l-9 7M366 1590l9 -8M435 1589l-13 -7M477 1567l-7 21M505 1578l21 7M583 1594l-17 -14M617 1593l2 -11M673 1587l-5 -4M713 1578l4 6M753 1596l17 -17M811 1567l5 21M876 1595l-16 -15M899 1573l18 13M953 1593l10 -11M1008 1600l4 -22M1072 1571l-15 16M1107 1593l2 -11M1162 1601l-5 -24M1200 1567l9 21M1261 1571l-6 13M1310 1586l-6 -3M1338 1590l21 -9M1413 1583l-11 0M1435 1579l23 6M1499 1596l2 -14M1562 1589l-13 -7M1615 1577l-21 8M1651 1589l-3 -6M1711 1592l-18 -12M1759 1581l-14 2M1812 1589l-23 -8M1854 1596l-12 -16M263 1643l17 -14M340 1625l-19 9M381 1649l-9 -22M405 1634l24 -2M468 1615l5 23M509 1620l15 16M571 1626l-1 7M618 1615l1 22M655 1639l16 -8M714 1649l4 -22M768 1650l-3 -24M818 1623l-3 10M868 1649l-5 -22M922 1648l-12 -21M947 1641l19 -11M1014 1649l-4 -22M1054 1630l7 2M1093 1624l21 11M1160 1627l-2 6M1198 1617l12 19M1268 1642l-14 -12M1309 1628l-4 5M1356 1649l-3 -22M1411 1647l-10 -19M1434 1636l24 -5M1512 1619l-14 17M1559 1642l-10 -11M1616 1630l-22 3M1642 1634l7 -2M1706 1617l-12 20M1740 1630l7 2M1798 1627l-3 6M1847 1649l-4 -22M273 1686l3 -5M322 1686l3 -5M388 1674l-18 9M432 1672l-10 10M485 1691l-16 -12M515 1698l8 -22M576 1695l-7 -17M620 1668l-1 15M659 1667l12 18M721 1665l-5 21M764 1687l2 -6M809 1673l7 9M871 1697l-9 -20M923 1666l-13 20M978 1685l-21 -5M1006 1697l6 -20M1056 1697l5 -20M1115 1665l-8 21M1165 1697l-9 -20M1212 1699l-7 -24M1271 1690l-19 -11M1301 1698l5 -22M1364 1684l-11 -3M1397 1698l8 -22M1451 1675l1 7M1519 1684l-24 -4M1542 1688l9 -7M1603 1672l-4 10M1662 1690l-17 -11M1693 1664l5 23M1738 1665l11 22M1799 1677l-4 5M1850 1673l-7 9M266 1743l12 -16M309 1726l21 6M387 1718l-17 17M435 1718l-15 16M468 1747l5 -22M528 1715l-9 20M576 1722l-7 9M633 1742l-19 -15M662 1729l7 1M723 1730l-7 0M762 1713l5 23M830 1723l-19 10M863 1736l1 -6M895 1734l24 -5M954 1743l10 -15M1006 1714l7 21M1072 1719l-16 15M1100 1727l10 4M1170 1718l-15 16M1225 1729l-24 2M1248 1740l9 -11M1289 1739l21 -11M1354 1724l0 7M1401 1712l3 24M1442 1733l11 -3M1514 1720l-17 13M1541 1742l11 -14M1583 1734l20 -5M1640 1714l11 22M1681 1736l21 -7M1732 1740l18 -13M1786 1745l12 -19M1844 1720l0 11M280 1796l-5 -21M309 1774l21 7M381 1764l-9 20M406 1786l23 -9M486 1788l-18 -11M520 1797l1 -24M585 1777l-18 3M620 1761l-1 24M677 1770l-10 10M709 1765l10 18M760 1795l8 -20M831 1776l-20 4M859 1796l7 -21M899 1786l18 -8M957 1777l6 3M1000 1792l14 -16M1057 1797l4 -24M1097 1785l13 -6M1148 1794l13 -20M1221 1775l-17 5M1263 1765l-9 18M1320 1777l-18 3M1344 1767l12 16M1404 1796l-1 -22M1454 1789l-2 -11M1488 1790l17 -14M1538 1792l16 -17M1613 1772l-17 9M1638 1764l13 20M1713 1787l-21 -10M1755 1765l-12 19M1796 1761l-1 24M1851 1764l-9 20M268 1822l9 7M310 1823l19 7M391 1835l-23 -9M411 1818l15 13M459 1831l14 -3M505 1829l20 -1M554 1837l21 -11M629 1820l-11 9M654 1839l18 -14M708 1844l12 -21M756 1815l13 17M824 1825l-10 4M873 1814l-12 19M922 1825l-10 4M965 1814l-4 17M1023 1823l-13 6M1059 1823l1 6M1102 1813l9 20M1174 1831l-20 -3M1211 1844l-5 -19M1271 1839l-20 -14M1292 1839l17 -14M1353 1845l1 -22M1401 1823l2 6M1460 1842l-10 -17M1515 1836l-17 -10M1540 1828l11 1M1613 1819l-18 12M1663 1830l-18 -2M1706 1814l-12 19M1735 1821l12 8M1781 1838l18 -12M1832 1815l16 18M276 1872l0 6M318 1891l8 -16M359 1874l18 4M438 1885l-19 -10M483 1864l-14 17M503 1881l24 -5M558 1867l15 13M613 1891l7 -16M666 1890l2 -14M732 1885l-19 -10M771 1860l-7 23M799 1882l21 -6M880 1872l-21 7M923 1879l-11 -2M951 1866l14 15M995 1881l20 -4M1072 1889l-16 -15M1095 1867l19 14M1174 1883l-21 -7M1191 1876l20 2M1256 1872l0 6M1316 1890l-14 -16M1371 1880l-22 -3M1389 1867l19 14M1455 1894l-4 -21M1503 1861l-3 22M1560 1877l-11 1M1598 1896l1 -24M1639 1869l10 9M1690 1884l8 -7M1759 1886l-16 -11M1791 1873l4 5M1857 1874l-14 4M267 1912l12 19M313 1932l13 -6M376 1932l-2 -6M418 1935l6 -9M455 1923l22 5M518 1941l4 -17M582 1918l-14 10M620 1932l-1 -6M663 1941l6 -17M713 1936l4 -10M757 1923l10 4M806 1915l11 14M864 1914l0 14M922 1941l-12 -19M969 1919l-8 8M1005 1913l7 16M1069 1923l-10 4M1117 1941l-10 -18M1150 1917l9 11M1204 1943l4 -21M1267 1939l-14 -16M1299 1925l7 2M1355 1921l-1 6M1404 1917l-1 11M1446 1943l8 -21M1514 1939l-17 -17M1538 1915l16 15M1615 1920l-21 9M1652 1909l-5 23M1707 1913l-13 18M1742 1923l4 4M1785 1929l11 -3M1829 1937l20 -14M286 1974l-11 2M310 1983l20 -9M362 1964l16 15M413 1984l11 -9M488 1984l-21 -11M520 1958l1 24M571 1994l-1 -24M616 1981l3 -6M673 1991l-6 -19M726 1989l-11 -17M780 1980l-17 -5M825 1973l-11 3M870 1960l-8 20M931 1972l-24 5M947 1973l18 3M1009 1966l2 11M1066 1977l-7 -1M1121 1967l-14 11M1150 1962l10 17M1214 1962l-8 16M1274 1975l-24 1M1293 1987l15 -14M1359 1959l-6 22M1393 1961l13 20M1464 1985l-14 -11M1517 1969l-21 9M1567 1978l-22 -3M1610 1961l-15 19M1665 1978l-22 -3M1710 1968l-16 9M1736 1963l13 16M1808 1988l-17 -16M1840 1985l4 -10M262 2015l18 13M327 2008l-3 22M389 2015l-20 13M413 2025l11 0M487 2034l-19 -12M526 2021l-5 4M559 2010l15 20M615 2029l4 -5M655 2014l17 14M723 2042l-8 -23M769 2043l-4 -24M821 2017l-7 9M876 2029l-13 -5M923 2038l-13 -17M958 2041l5 -21M1024 2013l-17 16M1053 2008l9 22M1105 2037l4 -13M1163 2028l-6 -3M1205 2010l2 18M1259 2019l-3 6M1297 2038l10 -16M1350 2012l4 14M1390 2036l17 -14M1434 2022l24 4M1517 2032l-21 -9M1553 2015l-3 11M1598 2035l1 -11M1657 2034l-10 -10M1707 2026l-11 -1M1748 2038l-2 -14M1807 2015l-14 12M1829 2021l18 5M292 2069l-21 6M329 2083l-4 -10M372 2061l2 14M432 2065l-10 10M476 2079l-4 -6M512 2061l11 16M553 2078l22 -5M624 2070l-5 4M663 2077l5 -3M723 2066l-7 9M766 2092l0 -24M808 2061l8 16M876 2061l-16 17M908 2083l5 -10M954 2058l11 21M1015 2083l-4 -10M1050 2082l11 -9M1116 2081l-8 -8M1160 2064l-2 11M1203 2058l5 20M1270 2065l-18 11M1309 2078l-4 -5M1349 2070l5 4M1386 2075l22 -1M1458 2090l-8 -21M1497 2091l5 -23M1552 2084l-2 -11M1581 2073l24 1M1662 2063l-19 14M1712 2083l-19 -12M1740 2058l8 21M1794 2080l1 -7M1845 2064l-1 11M293 2124l-22 -1M337 2129l-13 -7M388 2133l-18 -13M417 2115l7 9M458 2112l19 15M512 2118l10 5M587 2122l-22 1M632 2134l-17 -14M672 2128l-4 -6M724 2109l-9 18M776 2109l-13 18M797 2119l24 5M860 2128l4 -6M898 2117l19 8M974 2119l-13 4M995 2121l20 2M1055 2127l5 -4M1108 2140l1 -22M1164 2121l-7 2M1206 2107l1 20M1250 2121l7 2M1296 2135l11 -14M1337 2122l22 1M1405 2117l-2 7M1452 2106l0 22M1483 2125l24 -3M1549 2110l1 14M1602 2128l-3 -6M1645 2105l4 24M1711 2113l-18 13M1730 2121l20 3M1781 2114l18 12M1855 2110l-14 17M258 2171l24 1M337 2163l-14 11M366 2165l9 8M413 2183l12 -13M487 2162l-20 13M508 2175l14 -3M563 2185l8 -16M631 2176l-13 -4M661 2155l9 23M724 2161l-8 12M749 2168l22 5M824 2158l-12 18M863 2155l1 22M898 2162l20 13M978 2177l-21 -6M1027 2178l-21 -8M1052 2186l10 -17M1101 2159l10 16M1155 2159l3 14M1211 2168l-4 4M1252 2156l5 21M1321 2173l-20 -1M1343 2185l14 -17M1386 2178l23 -8M1466 2182l-18 -13M1514 2180l-16 -10M1563 2175l-14 -3M1611 2182l-15 -12M1635 2159l17 17M1705 2188l-11 -21M1763 2177l-23 -7M1796 2185l-1 -14M1838 2171l7 1M266 2208l13 17M339 2210l-19 15M379 2236l-6 -19M431 2205l-11 22M458 2215l17 7M515 2238l8 -23M564 2204l8 23M604 2212l20 12M659 2212l10 10M720 2208l-3 14M757 2235l12 -18M812 2238l4 -22M848 2228l21 -9M898 2218l18 4M948 2231l18 -13M1020 2235l-12 -18M1060 2208l0 14M1120 2207l-15 19M1151 2205l9 22M1208 2215l-1 7M1258 2238l-3 -22M1310 2218l-5 3M1346 2208l10 17M1402 2238l1 -22M1464 2210l-16 15M1517 2227l-21 -7M1565 2227l-19 -7M1608 2225l-10 -4M1648 2208l0 14M1700 2226l-3 -5M1756 2207l-13 18M1781 2209l19 16M1839 2225l5 -4M289 2281l-17 -14M307 2273l24 -4M359 2267l18 4M419 2256l5 17M472 2288l0 -24M532 2264l-12 7M564 2270l7 0M610 2286l12 -21M683 2273l-18 -3M705 2274l13 -4M780 2265l-17 6M821 2286l-8 -20M880 2271l-20 -1M922 2266l-10 5M952 2284l13 -18M1027 2269l-20 1M1050 2267l11 3M1110 2260l-1 11M1150 2256l10 18M1222 2275l-19 -6M1239 2274l22 -5M1313 2260l-9 11M1339 2260l20 13M1392 2257l14 17M1460 2284l-10 -17M1506 2287l-6 -22M1567 2272l-22 -2M1589 2259l12 13M1653 2286l-7 -21M1684 2281l17 -14M1760 2279l-17 -11M1804 2255l-12 20M1860 2275l-21 -6M284 2335l-10 -20M339 2329l-18 -13M367 2330l8 -12M414 2335l12 -21M478 2335l-8 -20M531 2307l-13 15M553 2314l23 7M625 2302l-8 23M673 2336l-6 -21M700 2323l22 -5M774 2304l-10 20M831 2327l-21 -10M855 2304l12 21M897 2314l21 7M945 2320l22 -1M998 2312l16 9M1054 2320l7 -1M1111 2302l-2 22M1142 2324l21 -6M1203 2310l4 10M1263 2306l-8 16M1289 2328l21 -12M1367 2332l-17 -17M1413 2334l-13 -20M1441 2306l14 17M1488 2317l14 2M1540 2335l13 -21M1606 2312l-8 8M1638 2333l13 -18M1683 2309l19 14M1747 2334l-1 -18M1806 2309l-13 12M1850 2306l-7 16M266 2357l12 14M316 2384l12 -21M373 2351l1 22M413 2360l11 9M459 2377l16 -11M538 2368l-22 1M572 2386l-3 -24M633 2379l-19 -14M658 2356l13 15M708 2354l12 19M774 2378l-9 -11M801 2359l18 12M854 2382l13 -18M908 2354l6 17M956 2368l7 0M1005 2376l7 -8M1076 2360l-21 11M1094 2361l19 10M1171 2370l-14 -2M1193 2380l19 -15M1272 2362l-21 8M1291 2378l18 -12M1366 2357l-16 15M1409 2366l-7 3M1455 2374l-3 -6M1495 2351l8 23M1560 2371l-11 -3M1609 2366l-11 3M1634 2378l18 -12M1691 2369l7 -1M1758 2380l-16 -15M1798 2383l-4 -18M1858 2380l-19 -15M288 2423l-13 -6M309 2422l21 -6M383 2432l-12 -19M428 2403l-6 17M489 2421l-22 -5M512 2430l11 -16M577 2433l-9 -20M625 2433l-8 -20M676 2430l-10 -15M729 2422l-13 -5M776 2405l-13 16M827 2423l-13 -6M865 2401l-1 20M906 2403l9 18M979 2423l-23 -7M1008 2400l4 23M1069 2430l-11 -16M1127 2421l-24 -5M1162 2433l-5 -19M1222 2423l-19 -7M1273 2422l-23 -6M1306 2423l-1 -6M1366 2423l-13 -6M1410 2433l-9 -20M1445 2410l8 8M1518 2423l-23 -7M1557 2425l-8 -8M1589 2410l11 8M1663 2422l-19 -6M1714 2424l-23 -9M1742 2413l4 5M1780 2412l19 7M1828 2412l21 7M270 2466l7 1M309 2471l21 -6M379 2450l-7 21M439 2458l-21 11M484 2478l-15 -14M535 2472l-17 -7M563 2453l8 16M613 2483l8 -21M660 2483l11 -22M716 2457l1 11M767 2481l-1 -17M818 2483l-4 -21M858 2480l7 -16M905 2461l9 6M965 2461l-3 6M999 2456l15 13M1060 2451l0 20M1115 2482l-8 -20M1155 2472l3 -6M1223 2460l-21 8M1274 2465l-24 2M1300 2483l7 -21M1343 2452l15 19M1394 2476l10 -10M1449 2472l3 -6M1494 2474l8 -8M1532 2467l24 -1M1583 2472l21 -7M1631 2464l22 3M1714 2465l-22 2M1734 2479l15 -16M1790 2464l6 3M1842 2472l2 -6M289 2505l-17 14M308 2519l22 -4M379 2512l-5 4M438 2517l-18 -2M480 2502l-10 17M527 2500l-8 20M584 2525l-18 -12M615 2501l5 18M670 2530l-2 -17M729 2522l-13 -7M752 2521l17 -7M809 2515l7 1M880 2514l-20 2M896 2513l22 3M958 2520l4 -5M995 2511l21 6M1062 2532l-3 -21M1112 2498l-4 24M1141 2509l23 9M1211 2511l-4 5M1273 2519l-22 -4M1288 2516l22 -1M1339 2525l20 -12M1394 2525l10 -10M1464 2529l-16 -18M1513 2502l-16 18M1546 2531l5 -19M1587 2528l15 -16M1656 2532l-11 -22M1682 2519l18 -4M1747 2526l-1 -11M1785 2528l12 -16M1850 2508l-7 8M279 2579l-4 -17M311 2559l17 7M382 2580l-10 -20M439 2565l-20 0M467 2579l6 -17M512 2552l11 16M553 2564l22 1M630 2557l-12 8M684 2572l-21 -10M712 2567l6 -3M750 2557l21 10M818 2582l-4 -23M865 2575l-1 -11M921 2577l-10 -15M948 2558l18 8M1027 2574l-21 -12M1075 2574l-20 -12M1124 2573l-19 -11M1166 2555l-9 11M1210 2582l-4 -23M1248 2577l10 -15M1290 2575l20 -14M1346 2571l9 -7M1386 2562l22 3M1463 2576l-14 -14M1506 2580l-6 -19M1534 2560l21 6M1597 2559l2 6M1650 2555l-2 11M1707 2578l-12 -17M1745 2548l1 22M1789 2566l7 -1M1827 2559l23 7M274 2619l2 -6M334 2599l-12 19M356 2613l24 1M440 2618l-22 -5M483 2627l-14 -17M517 2599l5 18M559 2626l14 -16M627 2624l-9 -11M680 2623l-14 -11M711 2602l7 13M761 2631l7 -23M826 2624l-13 -12M863 2620l1 -7M927 2604l-18 13M950 2626l15 -16M1006 2616l6 -3M1069 2626l-11 -15M1103 2612l7 2M1162 2628l-5 -17M1198 2600l12 18M1247 2600l12 18M1323 2617l-24 -4M1363 2602l-11 14M1412 2609l-10 5M1456 2623l-4 -10M1498 2609l3 5M1564 2621l-18 -9M1600 2632l-1 -24M1641 2629l9 -20M1695 2632l3 -24M1752 2622l-7 -9M1778 2616l22 -3M1858 2619l-17 -6M294 2665l-24 -3M314 2650l14 17M391 2669l-23 -8M431 2675l-10 -15M463 2650l11 16M536 2652l-20 14M564 2665l7 -2M608 2650l14 17M683 2667l-19 -5M733 2669l-21 -8M766 2657l0 6M826 2650l-14 17M850 2673l18 -13M928 2666l-18 -4M959 2679l4 -20M1027 2657l-21 8M1057 2648l4 18M1098 2670l12 -8M1173 2659l-18 5M1203 2679l5 -21M1243 2652l17 14M1293 2658l13 5M1361 2676l-8 -16M1397 2661l7 2M1461 2654l-10 10M1486 2668l19 -7M1533 2660l22 4M1600 2650l-1 14M1647 2648l1 18M1693 2650l4 14M1757 2677l-15 -19M1783 2675l16 -16M1843 2657l1 6M272 2728l5 -21M313 2726l16 -19M358 2717l21 -6M415 2728l11 -21M458 2703l18 12M537 2710l-20 2M567 2707l3 5M633 2722l-18 -13M664 2695l5 22M705 2723l15 -14M757 2724l11 -14M799 2707l21 6M857 2696l9 20M895 2713l24 -1M969 2728l-9 -22M1001 2698l13 18M1048 2699l16 17M1100 2700l11 14M1144 2702l18 13M1220 2709l-14 3M1243 2704l16 10M1313 2722l-9 -11M1341 2723l17 -14M1417 2720l-17 -10M1448 2728l5 -21M1491 2710l11 2M1555 2715l-5 -3M1615 2704l-21 10M1650 2729l-3 -22M1682 2713l18 -1M1729 2705l23 9M1783 2700l16 15M1834 2714l11 -2M291 2754l-20 9M323 2751l2 11M368 2753l7 9M441 2761l-24 0M489 2764l-22 -4M504 2766l23 -7M579 2748l-11 16M609 2774l12 -16M670 2779l-3 -24M722 2777l-6 -21M768 2743l-3 24M799 2764l20 -4M877 2762l-14 -1M909 2776l5 -18M964 2746l-2 18M1017 2777l-8 -21M1070 2764l-11 -3M1115 2750l-7 12M1140 2763l24 -3M1219 2752l-14 11M1269 2764l-14 -3M1292 2763l14 -2M1353 2774l1 -14M1397 2777l8 -21M1451 2751l1 11M1485 2769l21 -11M1555 2773l-5 -13M1583 2762l20 -1M1657 2776l-12 -20M1688 2775l12 -18M1732 2770l18 -12M1803 2755l-9 7M1852 2746l-10 19M290 2815l-17 -6M331 2808l-7 2M357 2810l22 0M429 2810l-7 0M484 2814l-13 -4M520 2797l1 14M581 2796l-15 19M627 2804l-9 7M670 2795l-2 18M708 2806l10 5M769 2815l-3 -5M813 2828l3 -24M850 2819l18 -12M904 2822l11 -14M979 2812l-22 -3M1026 2817l-20 -9M1051 2806l10 4M1120 2798l-14 15M1173 2813l-18 -3M1206 2793l1 22M1246 2796l13 18M1298 2795l9 20M1361 2797l-8 16M1397 2821l7 -12M1440 2798l16 16M1505 2823l-4 -14M1538 2801l14 11M1604 2819l-6 -10M1665 2812l-22 -3M1706 2825l-12 -20M1759 2800l-17 13M1801 2826l-8 -21M1855 2823l-14 -17M275 2876l1 -22M308 2859l22 0M381 2852l-8 8M426 2864l-3 -5M482 2848l-12 13M515 2876l8 -23M554 2857l20 3M601 2859l24 0M652 2853l21 8M720 2850l-3 10M768 2844l-2 18M816 2841l-1 24M855 2875l12 -21M930 2862l-22 -4M952 2872l13 -16M999 2846l16 17M1071 2869l-13 -12M1094 2867l19 -10M1170 2847l-16 16M1211 2877l-5 -24M1243 2862l14 -3M1316 2874l-15 -20M1362 2849l-9 11M1393 2873l13 -18M1438 2866l18 -9M1495 2860l7 -1M1561 2848l-14 14M1608 2843l-12 21M1633 2851l19 11M1704 2852l-8 8M1761 2850l-19 12M1790 2855l5 5M1861 2855l-22 5M280 2921l-4 -14M340 2900l-19 11M366 2892l11 22M439 2902l-21 8M461 2895l14 17M529 2922l-10 -17M584 2898l-18 13M603 2916l21 -10M680 2913l-13 -5M715 2926l3 -24M751 2899l20 12M830 2916l-20 -10M850 2898l19 14M904 2921l11 -16M978 2915l-21 -9M1004 2923l9 -18M1064 2925l-5 -22M1102 2916l8 -9M1163 2920l-5 -13M1198 2922l12 -18M1239 2908l22 0M1293 2920l15 -15M1361 2894l-9 18M1420 2910l-22 -2M1448 2899l4 10M1504 2890l-4 24M1539 2902l12 7M1600 2890l-1 24M1657 2912l-10 -4M1684 2919l17 -14M1752 2893l-7 19M1786 2918l10 -11M1833 2922l15 -18M282 2941l-8 21M316 2954l10 4M384 2971l-13 -18M426 2962l-3 -5M463 2946l11 14M518 2948l3 10M578 2970l-10 -15M601 2956l24 2M673 2954l-6 4M709 2973l10 -20M769 2941l-4 21M819 2942l-5 19M862 2963l2 -6M923 2966l-11 -10M946 2964l21 -9M1006 2942l6 19M1048 2953l13 5M1098 2971l15 -18M1141 2952l23 7M1200 2973l9 -20M1252 2948l4 10M1306 2974l-1 -22M1372 2957l-24 0M1400 2967l3 -11M1443 2972l12 -19M1498 2973l4 -20M1567 2959l-22 -2M1584 2947l20 14M1636 2961l13 -4M1694 2940l4 23M1751 2974l-6 -21M1802 2973l-9 -20M1833 2970l14 -16M260 3002l21 6M329 2991l-5 19M363 3017l13 -13M428 3023l-6 -21M479 2990l-9 22M528 2992l-9 18M561 2993l11 17M632 2996l-17 14M676 2991l-10 20M727 3019l-13 -16M776 3021l-13 -20M810 2990l7 21M866 3019l-2 -14M919 2995l-7 13M951 2997l13 11M999 2995l15 14M1050 3007l11 -1M1127 3009l-24 -4M1175 3005l-22 2M1207 3023l0 -22M1242 3018l19 -15M1299 2989l8 23M1350 3011l4 -5M1419 3015l-21 -12M1447 2990l7 21M1503 2991l-3 19M1566 3015l-21 -11M1593 3005l7 2M1634 2996l18 13M1706 2992l-12 19M1755 3021l-12 -19M1788 2993l8 16M1859 3001l-19 7M283 3042l-8 16M317 3039l11 22M370 3065l4 -10M433 3053l-11 3M459 3044l17 15M535 3065l-18 -12M553 3052l22 5M637 3057l-24 -2M683 3047l-19 11M730 3048l-16 9M751 3048l19 10M826 3042l-15 18M872 3041l-10 19M919 3038l-8 23M949 3047l16 11M998 3044l17 15M1061 3046l-1 10M1096 3044l17 15M1158 3049l0 7M1217 3058l-11 -3M1257 3039l-1 20M1307 3046l-2 10M1349 3039l6 21M1395 3061l9 -6M1470 3056l-24 -1M1484 3054l22 2M1556 3055l-7 1M1595 3040l5 19M1633 3047l19 11M1687 3041l13 19M1733 3056l14 -1M1803 3049l-9 7M1839 3052l5 4M262 3116l19 -15M333 3118l-10 -17M373 3099l1 6M421 3114l2 -10M476 3121l-5 -21M513 3121l11 -22M585 3115l-20 -14M613 3103l7 2M666 3121l3 -21M711 3118l7 -16M751 3096l19 11M829 3114l-18 -12M851 3104l14 1M909 3121l5 -21M948 3096l17 11M1005 3097l7 8M1067 3120l-9 -20M1104 3121l6 -21M1153 3089l6 19M1214 3121l-9 -22M1239 3105l22 -1M1295 3102l11 3M1351 3122l4 -23M1403 3123l0 -24M1447 3088l7 21M1494 3115l8 -12M1537 3096l16 10M1614 3113l-19 -11M1656 3120l-10 -20M1685 3091l16 18M1732 3114l18 -12M1792 3110l3 -6M1837 3093l8 13M271 3163l5 -10M327 3148l-2 6M392 3157l-24 -5M407 3146l21 10M472 3170l0 -20M521 3148l0 6M585 3149l-19 6M615 3158l4 -5M654 3163l18 -12M727 3145l-11 9M762 3168l5 -17M809 3165l7 -13M849 3159l19 -7M922 3166l-11 -15M969 3165l-8 -12M1006 3170l6 -21M1062 3148l-2 6M1091 3152l24 2M1146 3165l16 -15M1212 3151l-6 3M1261 3137l-7 21M1313 3140l-10 17M1343 3147l12 7M1400 3159l3 -6M1437 3151l18 3M1486 3144l20 13M1543 3138l9 20M1607 3148l-9 6M1642 3170l8 -22M1693 3137l5 22M1758 3142l-16 15M1807 3144l-14 12M1830 3158l17 -5M269 3190l8 15M320 3207l5 -5M364 3212l11 -10M428 3189l-6 17M462 3205l11 -3M519 3209l2 -7M564 3187l8 20M632 3192l-17 14M651 3203l22 0M704 3193l16 12M783 3198l-23 6M817 3221l-3 -24M854 3204l11 -1M922 3217l-12 -19M946 3211l21 -11M1020 3218l-12 -20M1075 3204l-18 -2M1126 3197l-23 8M1166 3193l-9 11M1191 3209l21 -8M1242 3212l18 -12M1322 3202l-22 1M1337 3196l23 9M1419 3209l-21 -8M1456 3193l-4 11M1496 3207l5 -5M1550 3220l0 -22M1583 3208l21 -7M1636 3189l16 18M1693 3198l4 5M1737 3208l10 -6M1783 3199l13 4M1841 3197l3 6M287 3266l-15 -19M336 3263l-14 -14M377 3242l-3 11M413 3250l11 2M454 3254l24 -3M517 3264l4 -13M585 3251l-18 1M626 3269l-9 -23M671 3246l-3 6M734 3251l-22 1M762 3266l5 -17M802 3262l16 -13M881 3254l-22 -3M908 3243l6 10M953 3236l12 21M1006 3255l6 -4M1064 3239l-4 14M1106 3267l4 -18M1141 3256l22 -5M1209 3235l-3 22M1251 3238l6 17M1293 3257l13 -6M1340 3240l19 16M1413 3240l-12 14M1465 3241l-17 14M1503 3236l-2 20M1545 3254l6 -2M1611 3248l-13 4M1658 3263l-12 -13M1680 3247l23 6M1745 3269l1 -22M1802 3263l-8 -12M1844 3270l0 -24M286 3293l-11 9M343 3304l-24 -4M363 3315l15 -19M424 3284l-1 22M466 3299l7 2M523 3295l-2 6M553 3308l23 -9M601 3303l24 -3M655 3314l17 -17M717 3314l0 -14M757 3316l12 -20M800 3308l20 -9M875 3315l-15 -19M911 3314l2 -14M954 3313l10 -15M1025 3291l-18 13M1055 3315l6 -17M1098 3314l14 -17M1168 3303l-11 -2M1222 3292l-20 12M1246 3290l12 13M1310 3313l-6 -13M1338 3294l21 9M1393 3314l12 -16M1463 3307l-12 -7M1497 3283l5 24M1546 3317l5 -21M1590 3288l11 16M1666 3301l-24 0M1687 3309l11 -9M1734 3313l16 -16M1803 3311l-9 -11M1858 3313l-19 -16M277 3356l-1 -7M333 3356l-9 -7M376 3334l-3 20M408 3360l20 -13M467 3347l5 3M503 3353l24 -4M576 3342l-7 9M606 3343l16 8M665 3333l4 22M729 3362l-15 -16M775 3347l-10 3M799 3344l21 8M869 3353l-6 -3M907 3366l8 -21M979 3354l-22 -5M999 3340l15 13M1064 3336l-5 17M1099 3352l11 -2M1173 3357l-19 -9M1222 3356l-19 -7M1257 3344l-1 7M1322 3354l-22 -5M1351 3333l4 22M1393 3348l11 2M1454 3335l-2 18M1484 3343l23 9M1551 3356l-1 -7M1589 3342l11 9M1654 3350l-7 0M1711 3341l-18 12M1743 3359l3 -10M1804 3334l-12 21M1829 3343l20 9M288 3405l-13 -7M331 3397l-7 2M388 3395l-17 5M436 3411l-17 -16M487 3389l-20 13M520 3417l1 -24M571 3409l-1 -11M603 3397l20 2M664 3415l5 -20M715 3415l3 -20M783 3406l-23 -9M815 3416l0 -22M859 3402l6 -3M916 3417l-4 -24M970 3389l-9 11M1001 3398l11 1M1061 3384l-1 18M1113 3403l-4 -4M1168 3410l-12 -13M1213 3383l-8 21M1257 3414l-1 -18M1320 3391l-19 10M1348 3415l8 -21M1401 3414l2 -18M1439 3388l17 14M1512 3386l-14 17M1568 3397l-24 3M1586 3407l16 -10M1665 3397l-22 3M1691 3407l7 -9M1755 3403l-10 -4M1806 3389l-13 12M1844 3382l0 22M261 3454l19 -7M327 3458l-2 -11M386 3443l-13 6M416 3437l8 12M461 3435l14 17M516 3444l5 5M587 3451l-22 -4M601 3447l24 1M685 3444l-22 5M715 3442l2 7M784 3452l-24 -5M806 3460l11 -14M876 3460l-16 -15M929 3447l-20 2M946 3447l20 1M1000 3455l12 -8M1047 3460l17 -16M1123 3457l-18 -12M1142 3454l21 -8M1213 3446l-7 2M1241 3456l19 -10M1305 3454l0 -6M1357 3465l-4 -22M1392 3461l14 -17M1465 3439l-16 11M1505 3465l-5 -22M1556 3464l-8 -21M1613 3459l-19 -15M1643 3451l6 -3M1709 3437l-15 14M1741 3463l6 -19M1789 3448l7 0M1840 3464l5 -20M287 3510l-14 -17M324 3481l1 20M368 3513l8 -21M436 3494l-14 3M471 3481l1 20M518 3514l4 -22M565 3500l6 -3M603 3506l21 -12M652 3493l21 5M699 3495l24 3M765 3515l1 -24M811 3488l4 10M859 3489l6 9M917 3488l-4 10M959 3510l3 -14M996 3506l19 -11M1045 3490l19 9M1126 3503l-23 -8M1164 3497l-7 0M1215 3504l-9 -7M1241 3489l19 11M1308 3502l-3 -5M1357 3485l-3 13M1408 3506l-5 -10M1453 3514l-1 -22M1497 3488l4 10M1544 3513l8 -20M1595 3482l5 19M1656 3513l-11 -21M1711 3509l-19 -16M1760 3501l-17 -5M1803 3513l-11 -21M1846 3515l-3 -24M261 3537l20 12M331 3529l-8 23M370 3541l4 6M436 3553l-16 -8M470 3563l3 -22M506 3538l19 11M565 3542l5 5M616 3534l3 14M680 3543l-13 4M712 3549l6 -3M777 3561l-15 -20M800 3555l19 -11M868 3563l-5 -22M921 3561l-10 -19M954 3557l9 -12M1006 3562l7 -20M1052 3530l11 22M1125 3540l-21 8M1158 3528l0 24M1197 3560l13 -18M1264 3530l-11 22M1296 3532l12 19M1337 3548l22 -2M1402 3561l1 -18M1454 3530l-3 20M1491 3545l11 1M1534 3544l20 3M1613 3550l-17 -5M1635 3553l16 -8M1681 3546l20 0M1732 3558l19 -16M1813 3550l-24 -5M1829 3543l18 4M289 3589l-16 8M332 3588l-8 8M362 3584l16 15M418 3587l6 9M463 3592l10 4M521 3582l0 15M561 3600l10 -5M626 3612l-9 -22M678 3608l-12 -16M721 3579l-5 21M769 3608l-3 -14M819 3612l-5 -22M869 3599l-5 -4M920 3612l-9 -22M962 3611l0 -20M1020 3581l-12 19M1047 3587l16 11M1113 3600l-4 -5M1152 3597l7 -2M1196 3581l15 19M1267 3603l-12 -8M1311 3578l-8 23M1355 3605l-1 -11M1388 3594l18 2M1443 3591l10 5M1488 3584l17 15M1556 3603l-7 -8M1606 3612l-9 -22M1633 3603l19 -10M1689 3579l11 22M1746 3582l0 15M1809 3586l-18 12M1861 3589l-23 8M265 3657l14 -16M334 3631l-11 17M358 3641l20 4M410 3635l16 12M467 3659l6 -17M524 3628l-4 21M560 3659l13 -20M605 3654l18 -12M667 3650l1 -6M724 3628l-9 22M759 3629l9 20M832 3642l-22 3M877 3632l-17 16M927 3651l-18 -8M945 3638l23 9M994 3643l22 2M1046 3650l17 -7M1120 3632l-14 16M1146 3631l16 18M1219 3632l-15 16M1274 3647l-24 -3M1293 3657l15 -16M1357 3632l-3 14M1388 3651l20 -9M1449 3629l4 19M1491 3653l11 -9M1540 3657l12 -16M1610 3658l-14 -17M1649 3627l-1 22M1685 3640l13 5M1738 3658l10 -17M1798 3628l-4 21M1861 3638l-23 9M268 3687l9 7M329 3711l-5 -23M388 3684l-18 12M440 3691l-22 3M461 3700l12 -7M538 3687l-23 9M563 3677l9 22M630 3680l-14 17M667 3679l1 18M734 3700l-23 -9M783 3695l-22 -2M815 3700l0 -7M874 3702l-11 -9M903 3685l11 9M978 3696l-20 -3M1021 3695l-11 -2M1049 3706l14 -15M1095 3683l18 13M1160 3677l-2 21M1203 3710l5 -21M1241 3686l19 10M1317 3707l-16 -18M1350 3679l5 17M1388 3686l20 10M1469 3692l-22 2M1511 3694l-11 -1M1536 3703l18 -12M1606 3709l-9 -20M1664 3697l-20 -4M1696 3699l1 -6M1736 3682l12 14M1786 3682l11 14M1845 3708l-1 -17M285 3757l-12 -19M330 3759l-7 -21M389 3753l-20 -14M439 3737l-21 7M476 3726l-5 21M511 3758l13 -20M570 3749l0 -7M613 3726l8 22M682 3733l-18 12M700 3741l22 2M764 3726l3 22M827 3730l-16 16M871 3757l-9 -18M925 3754l-15 -14M956 3727l8 20M1006 3726l6 21M1062 3728l-2 18M1092 3739l22 5M1167 3728l-12 19M1222 3750l-20 -9M1255 3726l1 22M1295 3728l13 20M1367 3753l-17 -14M1415 3748l-13 -6M1442 3730l13 16M1518 3749l-23 -9M1534 3747l21 -6M1591 3748l9 -6M1638 3731l12 14M1684 3754l17 -15M1740 3731l7 13M1792 3737l3 6M1839 3754l6 -13M276 3786l0 6M334 3806l-12 -19M357 3796l23 -6M410 3794l14 -3M461 3784l12 8M506 3801l20 -12M552 3795l24 -5M604 3784l20 10M659 3801l10 -10M705 3786l13 6M760 3800l7 -9M830 3800l-19 -11M864 3782l0 11M926 3799l-16 -9M954 3798l9 -7M1005 3775l8 22M1075 3802l-20 -14M1124 3799l-20 -9M1147 3806l15 -19M1215 3802l-9 -11M1263 3784l-8 8M1306 3774l-1 24M1359 3808l-7 -21M1415 3804l-16 -16M1448 3777l5 18M1496 3808l7 -21M1564 3787l-17 6M1606 3807l-9 -20M1663 3788l-18 4M1693 3807l5 -19M1728 3794l24 -3M1780 3796l19 -5M1857 3795l-14 -4M260 3845l20 -5M335 3830l-12 13M386 3829l-16 15M421 3858l3 -22M456 3841l20 0M508 3853l17 -16M553 3837l22 5M615 3845l4 -5M684 3832l-21 12M734 3838l-22 4M760 3843l7 -2M829 3845l-17 -5M868 3853l-4 -13M920 3825l-9 20M968 3857l-8 -21M1025 3830l-19 14M1042 3845l24 -6M1101 3855l10 -18M1162 3845l-4 -5M1191 3844l20 -4M1268 3828l-16 17M1315 3854l-13 -17M1351 3846l3 -6M1409 3839l-7 2M1436 3836l21 6M1512 3848l-12 -8M1553 3859l-4 -24M1582 3838l22 4M1639 3856l12 -20M1703 3857l-8 -21M1738 3826l10 19M1797 3825l-2 20M1826 3839l24 2"/><path fill="#0000ff" d="M268 322l1 -13 10 5zM312 317l6 -11 6 8zM383 311l-10 1 4 -9zM428 310l-8 2 7 -9zM481 311l-10 1 4 -10zM525 325l-8 -11 11 -2zM554 314l8 -10 5 10zM620 317l-6 -9 10 0zM663 310l2 -8 5 10zM728 318l-12 -4 8 -8zM762 303l8 0 -8 7zM821 305l-4 7 -3 -10zM849 298l13 2 -5 9zM930 304l-11 8 -2 -11zM946 301l13 -1 -4 10zM1007 323l-2 -12 10 2zM1054 305l7 -3 -3 10zM1103 323l-1 -13 10 4zM1163 311l-8 1 7 -9zM1197 296l12 5 -8 7zM1271 317l-13 -2 6 -9zM1299 305l8 -3 -5 10zM1357 317l-8 -8 10 -3zM1390 314l8 -11 5 10zM1435 311l11 -8 2 10zM1491 319l3 -12 9 7zM1554 292l2 13 -10 -3zM1615 316l-13 -1 5 -10zM1633 305l13 -4 -2 11zM1695 289l7 11 -11 2zM1732 296l13 3 -7 8zM1805 316l-13 -4 8 -8zM1852 320l-11 -8 9 -5zM286 370l-12 -7 9 -6zM309 365l8 -11 5 10zM375 350l4 6 -10 -1zM427 342l2 12 -11 -2zM464 369l2 -13 9 6zM516 353l8 -2 -7 9zM575 339l2 13 -10 -3zM629 341l-2 13 -9 -6zM650 359l11 -7 2 10zM734 363l-13 0 4 -10zM756 343l11 6 -8 6zM812 369l-3 -13 11 3zM875 346l-5 12 -7 -8zM930 358l-13 4 2 -11zM958 361l-1 -8 9 7zM1024 367l-13 -4 7 -8zM1064 374l-8 -11 10 -2zM1120 368l-12 -5 8 -8zM1144 366l7 -11 6 8zM1222 364l-13 -1 5 -9zM1241 367l7 -12 6 9zM1315 347l-5 12 -8 -8zM1366 343l-4 12 -8 -7zM1399 342l8 10 -10 3zM1447 344l9 9 -9 4zM1517 352l-10 8 -3 -10zM1565 365l-13 -2 5 -9zM1601 372l-7 -11 11 -2zM1654 357l-6 5 1 -11zM1704 372l-9 -8 9 -5zM1759 356l-12 6 0 -11zM1789 355l7 -4 -3 10zM1828 349l14 0 -5 10zM272 396l9 6 -10 4zM341 400l-10 9 -3 -11zM364 408l8 -8 2 11zM413 413l6 -11 6 8zM459 416l6 -12 6 8zM510 392l12 6 -8 7zM576 420l-10 -9 10 -4zM602 412l9 -10 4 10zM659 420l2 -14 9 6zM722 409l-8 1 7 -9zM776 420l-11 -7 9 -6zM821 403l-4 7 -3 -10zM880 408l-13 3 2 -11zM900 394l13 4 -7 8zM952 394l12 5 -8 8zM997 395l13 3 -6 8zM1072 417l-12 -4 7 -8zM1126 404l-12 6 0 -10zM1140 407l11 -6 2 10zM1222 414l-13 -1 6 -9zM1256 387l5 12 -10 0zM1288 407l11 -7 2 11zM1338 404l13 -5 -2 11zM1413 402l-7 8 -4 -10zM1446 413l1 -11 8 7zM1510 400l-5 9 -6 -9zM1545 422l-2 -13 10 3zM1593 388l9 10 -10 3zM1631 403l13 -4 -2 11zM1687 418l3 -13 9 7zM1736 403l10 -3 -2 10zM1787 419l1 -13 10 5zM1832 395l12 3 -7 9zM280 442l2 13 -11 -4zM324 438l6 12 -11 1zM379 470l-9 -9 11 -4zM413 468l3 -13 8 7zM490 453l-12 6 0 -11zM505 457l11 -7 2 10zM565 440l9 10 -10 3zM605 459l9 -9 4 10zM682 450l-10 9 -3 -11zM733 463l-13 -1 5 -10zM768 470l-7 -11 11 -2zM806 469l2 -13 9 5zM860 450l7 0 -7 8zM922 440l-2 13 -9 -6zM975 446l-8 11 -5 -9zM1017 437l1 13 -10 -3zM1069 439l-1 13 -10 -6zM1122 446l-7 11 -6 -9zM1141 457l11 -7 2 10zM1193 460l9 -9 4 9zM1267 461l-13 -1 6 -10zM1287 458l11 -8 2 11zM1351 437l8 11 -11 2zM1420 454l-12 5 0 -10zM1462 468l-11 -7 8 -6zM1507 438l1 13 -10 -3zM1545 450l8 0 -7 8zM1614 452l-11 7 -2 -10zM1654 463l-10 -5 9 -6zM1709 467l-13 -5 8 -8zM1751 437l2 13 -10 -3zM1778 451l13 -3 -2 11zM1829 461l9 -10 5 10zM283 489l0 13 -10 -5zM341 506l-13 3 2 -10zM370 519l-2 -13 10 3zM424 488l5 13 -11 -1zM471 516l-4 -12 10 1zM530 489l-2 13 -9 -6zM583 495l-8 11 -5 -9zM624 500l-1 7 -7 -8zM672 494l1 11 -10 -5zM708 508l6 -9 5 10zM778 516l-13 -5 8 -8zM798 501l13 -4 -2 11zM876 491l-5 13 -7 -8zM900 493l13 3 -7 8zM970 518l-10 -8 9 -5zM998 491l12 4 -7 8zM1046 498l13 -1 -4 10zM1105 494l9 6 -10 5zM1141 497l13 -1 -3 10zM1220 492l-6 12 -7 -8zM1256 521l-5 -12 10 0zM1322 508l-13 2 3 -10zM1344 503l9 -5 0 11zM1421 506l-13 4 2 -11zM1446 505l4 -7 3 11zM1507 502l-5 7 -1 -11zM1532 502l12 -5 0 11zM1589 506l7 -8 4 11zM1652 494l1 10 -10 -4zM1706 500l-6 8 -4 -10zM1759 491l-5 12 -7 -8zM1809 496l-8 10 -5 -9zM1853 489l-2 13 -9 -6zM265 559l7 -11 6 10zM308 559l9 -10 4 11zM368 541l10 8 -9 5zM439 560l-13 0 5 -10zM476 536l2 13 -10 -3zM535 547l-9 9 -4 -10zM581 566l-12 -6 8 -7zM635 549l-11 8 -2 -11zM668 534l5 12 -11 1zM703 563l7 -12 6 9zM774 566l-11 -7 10 -6zM822 563l-11 -7 9 -5zM877 552l-11 6 -1 -11zM905 566l1 -13 9 6zM951 567l3 -13 9 6zM1008 536l7 11 -10 1zM1051 567l2 -13 9 5zM1093 559l9 -10 4 10zM1151 559l3 -10 7 8zM1200 545l10 3 -8 8zM1273 548l-10 8 -2 -10zM1321 551l-12 6 -1 -10zM1372 549l-11 8 -2 -11zM1419 561l-14 -1 6 -9zM1468 557l-12 2 2 -11zM1499 569l-4 -12 11 1zM1558 536l-1 13 -9 -4zM1591 558l4 -10 6 9zM1653 549l-2 8 -5 -10zM1682 553l12 -6 0 11zM1760 561l-13 -1 6 -10zM1800 536l2 13 -11 -3zM1828 561l8 -11 5 10zM274 618l-4 -12 11 1zM313 588l12 5 -8 8zM388 610l-13 -2 5 -9zM439 609l-13 0 5 -10zM458 606l10 -9 3 11zM534 601l-12 6 0 -11zM586 593l-8 11 -5 -10zM607 590l12 4 -7 8zM652 599l13 -4 -2 11zM733 595l-9 10 -4 -10zM765 618l-5 -12 11 1zM820 619l-8 -10 10 -3zM857 594l10 3 -8 7zM914 584l5 12 -11 -1zM946 607l9 -9 4 10zM1009 618l-4 -12 11 1zM1077 601l-12 6 0 -11zM1119 602l-10 5 2 -11zM1143 596l13 -1 -3 10zM1191 600l12 -4 0 11zM1273 594l-9 10 -5 -10zM1298 591l11 6 -9 6zM1348 593l10 5 -9 6zM1410 590l-2 13 -9 -5zM1470 598l-11 8 -2 -11zM1495 587l9 9 -10 4zM1541 616l2 -13 9 6zM1587 610l6 -11 7 9zM1665 600l-11 6 -2 -10zM1715 603l-13 4 1 -10zM1731 609l8 -10 5 9zM1806 608l-13 -1 6 -10zM1856 588l-4 13 -8 -8zM261 640l13 3 -6 8zM341 655l-13 2 3 -10zM383 665l-11 -7 9 -6zM438 651l-12 5 0 -11zM482 648l-8 8 -2 -11zM513 666l1 -13 10 4zM588 647l-11 8 -2 -11zM622 667l-7 -10 10 -3zM681 651l-12 5 0 -11zM733 660l-14 -2 6 -9zM750 650l12 -5 0 11zM815 668l-5 -12 10 -1zM879 660l-13 -2 6 -9zM917 655l-8 -1 9 -6zM978 655l-13 2 3 -10zM1006 666l-1 -13 10 3zM1069 656l-11 0 6 -10zM1119 637l-3 13 -8 -7zM1155 646l7 1 -9 6zM1195 660l6 -12 7 9zM1253 634l7 11 -10 2zM1309 655l-8 -1 9 -6zM1343 637l12 6 -8 7zM1408 642l0 10 -9 -5zM1445 643l10 3 -8 8zM1507 658l-10 -3 9 -7zM1550 645l5 5 -10 0zM1608 636l-2 13 -9 -5zM1651 645l2 8 -10 -5zM1702 635l1 13 -10 -3zM1761 659l-13 -1 5 -10zM1805 662l-12 -6 8 -7zM1857 647l-10 8 -3 -10zM281 691l0 11 -9 -6zM341 705l-13 1 3 -10zM363 688l12 5 -8 8zM406 701l12 -6 0 10zM455 704l10 -8 3 10zM521 690l5 9 -10 0zM584 689l-6 11 -6 -8zM609 684l11 8 -9 6zM668 683l5 11 -11 1zM717 718l-5 -12 10 0zM775 686l-2 13 -9 -6zM813 684l7 11 -11 1zM866 717l-7 -12 11 -1zM900 700l11 -6 1 11zM978 708l-13 -1 5 -9zM1012 694l4 6 -10 -2zM1049 688l12 5 -8 7zM1124 708l-13 -1 5 -10zM1149 715l1 -13 10 6zM1195 688l12 4 -7 8zM1273 701l-12 4 0 -10zM1287 701l12 -6 1 11zM1348 684l9 9 -10 4zM1400 709l-2 -10 10 3zM1448 716l-2 -13 10 3zM1483 703l11 -7 2 10zM1560 699l-9 6 0 -11zM1605 717l-9 -10 10 -3zM1664 693l-9 10 -5 -10zM1693 717l-3 -13 11 3zM1753 684l0 13 -10 -4zM1808 699l-11 6 -1 -11zM1848 715l-8 -10 10 -3zM292 757l-13 -1 5 -9zM331 756l-10 -3 9 -7zM373 764l-5 -13 11 1zM430 756l-10 -3 8 -7zM469 766l-3 -12 10 2zM516 733l9 10 -10 3zM553 749l12 -6 0 11zM606 759l6 -11 6 8zM685 749l-12 5 0 -11zM712 737l9 8 -9 5zM761 765l-2 -13 11 3zM804 755l7 -10 6 9zM858 762l0 -13 10 5zM928 749l-12 5 0 -11zM972 733l-2 14 -9 -6zM1026 743l-9 9 -4 -10zM1056 731l8 11 -11 2zM1109 767l-6 -12 11 0zM1153 752l1 -7 7 8zM1219 755l-13 -1 5 -9zM1257 732l5 12 -11 0zM1302 765l-3 -12 10 2zM1363 733l-1 13 -10 -5zM1392 736l12 5 -8 8zM1452 767l-5 -12 10 0zM1487 755l9 -10 4 10zM1556 763l-10 -9 10 -4zM1602 736l3 13 -11 -3zM1658 740l-5 12 -8 -8zM1706 744l-5 9 -6 -9zM1729 743l13 -1 -3 10zM1807 753l-12 1 3 -10zM1828 754l10 -9 3 10zM265 784l12 6 -9 6zM315 799l9 -6 0 10zM386 810l-12 -5 7 -7zM408 807l7 -11 6 10zM467 815l-2 -13 10 3zM508 807l7 -11 6 9zM567 807l-2 -10 10 3zM610 782l11 8 -10 5zM676 813l-10 -8 9 -6zM726 802l-11 1 5 -10zM780 788l-7 11 -6 -8zM799 793l13 -2 -3 10zM878 788l-7 12 -6 -9zM904 802l6 -9 4 10zM968 815l-9 -10 10 -4zM1016 807l-9 -6 9 -5zM1073 806l-13 -1 6 -10zM1105 802l0 -7 8 7zM1163 814l-9 -10 11 -3zM1207 785l5 11 -10 1zM1249 805l3 -11 7 8zM1309 815l-8 -10 11 -3zM1345 812l2 -13 9 6zM1397 798l5 -6 0 11zM1469 794l-11 8 -2 -10zM1497 789l9 6 -10 4zM1539 786l12 5 -8 8zM1612 807l-13 -2 6 -10zM1635 809l6 -12 7 8zM1681 805l8 -10 5 10zM1756 784l-3 13 -8 -6zM1804 807l-12 -5 8 -7zM1840 781l8 11 -10 2zM293 844l-11 7 -2 -10zM338 847l-12 5 0 -11zM383 843l-6 8 -4 -9zM433 833l-3 13 -8 -6zM472 865l-5 -12 10 0zM524 864l-8 -11 11 -2zM552 844l13 -3 -2 10zM635 841l-9 9 -4 -10zM683 856l-13 -2 5 -9zM734 847l-12 5 0 -10zM768 864l-7 -12 11 -1zM804 833l12 6 -9 6zM882 843l-11 8 -2 -11zM900 845l13 -4 -2 11zM956 830l9 9 -10 4zM1026 857l-13 -2 6 -9zM1054 846l6 -5 -1 11zM1115 864l-9 -10 10 -3zM1159 853l-6 -5 10 -1zM1217 847l-9 5 0 -11zM1251 863l-2 -13 11 3zM1302 862l-3 -13 11 2zM1344 834l12 6 -9 7zM1387 849l11 -7 2 11zM1436 842l13 -2 -3 11zM1518 842l-10 9 -3 -11zM1565 852l-13 1 4 -10zM1586 847l12 -6 0 11zM1662 855l-13 -1 5 -10zM1690 834l10 8 -9 5zM1748 864l-7 -11 11 -2zM1791 835l9 9 -11 3zM1836 857l3 -13 8 7zM282 913l-9 -10 10 -3zM324 886l6 9 -10 0zM389 903l-13 0 5 -10zM441 893l-11 7 -2 -10zM474 880l4 13 -11 -2zM523 912l-7 -11 11 -2zM568 914l-4 -13 11 1zM624 900l-8 1 7 -9zM651 896l12 -5 0 10zM731 886l-7 11 -6 -8zM751 904l8 -10 5 9zM831 891l-10 9 -3 -11zM879 888l-8 10 -5 -9zM914 902l-6 -4 10 -3zM973 909l-12 -6 8 -7zM1007 879l8 11 -10 2zM1048 905l6 -11 7 8zM1107 878l7 11 -11 2zM1172 890l-9 10 -5 -10zM1211 905l-9 -6 10 -4zM1256 879l5 12 -11 0zM1300 908l0 -13 10 4zM1362 883l-2 13 -9 -5zM1386 902l9 -9 4 10zM1470 896l-12 5 0 -10zM1512 902l-12 -1 5 -9zM1567 891l-10 8 -3 -10zM1584 890l13 -1 -4 10zM1635 908l5 -12 7 8zM1703 884l-1 13 -9 -5zM1760 905l-13 -2 6 -9zM1798 905l-8 -6 10 -4zM1858 888l-8 11 -5 -10zM268 960l1 -13 10 5zM338 947l-13 4 2 -11zM374 958l-5 -12 10 0zM439 949l-13 3 3 -11zM455 949l11 -8 2 10zM520 963l-5 -12 11 0zM582 936l-6 12 -7 -9zM609 956l4 -12 8 7zM674 943l-4 7 -3 -10zM731 949l-13 2 3 -10zM782 937l-8 10 -5 -10zM821 945l-6 5 1 -10zM880 936l-8 11 -6 -10zM929 947l-13 4 2 -11zM975 956l-12 -4 6 -8zM1023 941l-9 9 -3 -11zM1063 932l3 13 -11 -3zM1116 929l0 14 -10 -5zM1173 938l-8 10 -5 -10zM1225 946l-12 5 0 -11zM1264 930l-1 13 -10 -5zM1293 936l13 3 -7 8zM1365 932l-4 13 -8 -7zM1399 950l-1 -8 9 7zM1466 953l-13 -1 5 -10zM1488 956l6 -12 7 8zM1550 963l-5 -12 11 0zM1589 931l11 7 -8 6zM1634 940l13 -1 -4 10zM1704 956l-11 -7 9 -6zM1759 933l-5 12 -7 -8zM1793 963l-4 -12 11 1zM1847 958l-8 -10 11 -3zM259 994l12 -5 0 11zM333 1009l-10 -8 9 -5zM369 997l2 -7 5 9zM435 984l-5 12 -7 -9zM472 976l5 12 -10 0zM524 976l3 13 -10 -2zM568 1000l-3 -7 10 3zM617 1012l-4 -13 11 2zM667 978l6 12 -11 1zM701 1000l9 -9 4 10zM766 1011l-5 -12 11 0zM814 1000l-4 -6 10 2zM871 1011l-10 -9 10 -4zM900 1004l7 -12 6 9zM946 993l12 -4 0 10zM1000 980l12 6 -9 6zM1050 980l12 7 -9 6zM1123 1004l-13 -3 6 -8zM1170 983l-5 12 -8 -8zM1215 981l-2 14 -9 -6zM1273 999l-13 2 3 -11zM1307 1011l-7 -11 11 -1zM1356 1000l-7 -3 10 -4zM1409 1011l-9 -9 10 -4zM1440 1006l5 -12 7 7zM1484 1000l10 -9 3 10zM1553 977l3 13 -11 -2zM1604 998l-8 1 7 -9zM1644 980l8 10 -10 3zM1700 1009l-8 -11 11 -2zM1737 1008l2 -13 9 6zM1800 1011l-8 -10 10 -3zM1860 998l-13 2 2 -10zM282 1029l0 14 -10 -5zM312 1051l8 -11 5 9zM381 1060l-10 -9 10 -4zM438 1051l-13 -1 5 -9zM475 1034l2 10 -10 -3zM508 1045l11 -7 1 11zM580 1051l-12 -3 6 -8zM610 1029l11 7 -9 6zM656 1029l12 6 -8 7zM710 1033l11 6 -9 6zM762 1031l9 9 -11 4zM833 1042l-12 6 0 -11zM849 1052l8 -11 5 9zM911 1049l-3 -7 10 4zM972 1035l-5 11 -8 -8zM998 1051l8 -11 5 9zM1052 1033l11 6 -8 6zM1107 1027l7 11 -11 2zM1170 1039l-9 9 -4 -10zM1218 1036l-7 11 -6 -9zM1270 1055l-13 -4 7 -8zM1293 1052l7 -12 6 9zM1338 1047l10 -8 2 11zM1415 1056l-13 -5 8 -8zM1440 1039l12 -1 -3 10zM1506 1046l-7 2 5 -9zM1559 1039l-6 9 -4 -10zM1606 1056l-10 -8 9 -5zM1646 1053l-3 -10 10 2zM1705 1059l-10 -8 10 -5zM1759 1054l-13 -3 7 -9zM1795 1027l5 12 -10 0zM1839 1059l-2 -13 11 4zM293 1090l-11 7 -2 -11zM323 1098l-3 -7 10 4zM386 1086l-8 11 -5 -10zM428 1095l-7 2 5 -9zM466 1077l9 9 -10 4zM511 1080l12 6 -9 7zM566 1088l7 0 -7 8zM629 1078l-3 13 -9 -6zM675 1107l-10 -9 10 -4zM727 1095l-10 3 2 -11zM774 1105l-11 -7 9 -6zM826 1103l-12 -4 8 -8zM880 1089l-11 8 -2 -11zM923 1095l-10 3 2 -11zM971 1078l-2 13 -9 -6zM1004 1079l10 8 -9 5zM1064 1096l-7 1 7 -8zM1092 1097l10 -8 3 10zM1147 1078l12 6 -9 7zM1196 1086l13 1 -6 9zM1244 1102l6 -12 7 8zM1289 1098l10 -9 3 10zM1361 1108l-10 -9 10 -5zM1391 1081l12 4 -7 8zM1435 1096l11 -8 2 11zM1502 1075l5 13 -11 -1zM1559 1078l-2 13 -9 -6zM1584 1103l7 -12 6 9zM1657 1102l-12 -5 8 -8zM1686 1105l4 -13 8 8zM1729 1092l12 -5 0 11zM1811 1097l-13 2 3 -11zM1857 1100l-13 -2 5 -9zM278 1132l3 9 -10 -2zM334 1146l-11 1 5 -10zM387 1131l-6 12 -6 -9zM441 1144l-13 4 2 -11zM490 1141l-12 6 0 -11zM527 1157l-9 -9 10 -4zM566 1158l-2 -13 10 2zM613 1127l9 9 -10 4zM682 1147l-13 1 4 -10zM703 1130l13 3 -7 9zM769 1146l-7 -1 9 -6zM812 1158l-3 -13 11 2zM870 1149l-10 -4 9 -6zM930 1138l-11 8 -2 -11zM967 1159l-9 -10 11 -3zM999 1131l13 4 -8 8zM1053 1157l0 -13 10 4zM1113 1154l-9 -10 11 -3zM1168 1157l-11 -8 9 -5zM1201 1130l10 8 -9 4zM1265 1157l-11 -8 10 -5zM1312 1148l-10 -2 7 -8zM1368 1146l-13 1 3 -10zM1420 1138l-11 8 -2 -11zM1446 1139l7 -3 -3 10zM1494 1125l10 9 -10 4zM1550 1151l-5 -9 10 0zM1590 1132l12 5 -8 7zM1647 1126l6 12 -11 1zM1696 1156l-5 -12 11 1zM1733 1134l13 1 -5 10zM1786 1157l1 -13 10 5zM1828 1147l9 -9 4 10zM263 1179l13 4 -7 8zM322 1200l-2 -10 10 3zM374 1196l-5 -5 10 0zM437 1184l-9 10 -5 -10zM470 1174l7 11 -11 1zM524 1208l-7 -11 10 -2zM560 1182l13 4 -8 8zM606 1198l8 -11 5 10zM681 1180l-6 12 -6 -9zM711 1191l5 -6 1 11zM756 1176l12 7 -9 6zM821 1192l-7 4 3 -10zM853 1205l3 -13 9 6zM903 1189l10 -4 -2 11zM963 1196l-6 -4 10 -2zM1006 1207l-2 -14 11 4zM1062 1196l-7 -3 10 -4zM1117 1175l-1 14 -9 -6zM1169 1202l-12 -5 8 -7zM1203 1174l8 10 -11 3zM1270 1200l-13 -2 6 -9zM1317 1177l-4 13 -8 -8zM1339 1201l7 -12 6 9zM1420 1187l-11 8 -2 -11zM1446 1183l10 3 -9 7zM1506 1187l-1 7 -7 -8zM1540 1177l11 6 -8 7zM1591 1184l10 2 -6 8zM1646 1175l7 11 -11 1zM1706 1205l-11 -8 9 -5zM1756 1193l-11 3 3 -10zM1812 1193l-13 4 2 -11zM1845 1207l-6 -11 11 -1zM291 1230l-7 11 -6 -9zM335 1240l-9 5 0 -11zM365 1226l11 7 -9 6zM433 1252l-12 -6 9 -7zM462 1238l10 -4 -2 11zM513 1229l12 6 -9 7zM577 1224l0 13 -10 -4zM601 1239l12 -5 0 11zM663 1256l-2 -13 11 3zM734 1239l-12 6 0 -11zM762 1223l8 10 -10 3zM806 1249l4 -12 8 7zM863 1223l6 11 -11 1zM928 1248l-13 -1 5 -10zM970 1256l-10 -9 10 -5zM1010 1256l-5 -12 11 1zM1073 1252l-12 -4 7 -8zM1105 1222l8 10 -11 3zM1149 1230l12 5 -8 7zM1203 1230l9 6 -10 5zM1274 1236l-11 8 -2 -11zM1295 1227l12 6 -9 7zM1363 1245l-11 0 6 -10zM1421 1241l-13 4 1 -10zM1465 1231l-7 11 -6 -9zM1515 1234l-9 10 -4 -11zM1555 1252l-10 -9 11 -4zM1591 1254l1 -14 10 6zM1641 1246l3 -10 7 8zM1687 1241l8 -7 2 11zM1741 1223l8 10 -10 4zM1780 1246l9 -10 4 10zM1828 1232l13 0 -5 10zM279 1276l3 13 -11 -3zM312 1276l12 5 -7 7zM358 1282l14 0 -5 10zM433 1302l-11 -6 8 -7zM477 1292l-8 1 7 -8zM535 1282l-9 10 -5 -10zM587 1286l-11 7 -2 -10zM636 1292l-13 3 2 -11zM662 1273l9 9 -10 4zM711 1273l9 9 -10 4zM771 1291l-7 3 5 -10zM816 1273l5 12 -11 -1zM868 1279l1 11 -10 -5zM927 1277l-6 12 -7 -8zM971 1280l-4 12 -8 -8zM1024 1299l-13 -4 6 -8zM1065 1305l-9 -10 11 -3zM1127 1292l-13 3 2 -10zM1166 1273l0 13 -10 -5zM1190 1291l11 -7 2 11zM1269 1298l-13 -3 6 -9zM1301 1303l-2 -13 10 3zM1339 1296l8 -10 5 10zM1392 1303l3 -13 9 7zM1466 1293l-13 2 3 -11zM1506 1285l-2 8 -5 -9zM1532 1288l12 -5 0 11zM1586 1277l13 4 -7 8zM1652 1272l2 13 -10 -3zM1680 1296l9 -10 5 10zM1736 1303l3 -13 9 6zM1779 1285l13 -3 -2 11zM1840 1271l8 11 -11 2zM260 1330l13 0 -5 10zM333 1353l-10 -8 9 -6zM356 1335l13 -4 -2 11zM424 1321l5 12 -11 -1zM489 1338l-12 5 0 -11zM535 1347l-13 -2 6 -9zM576 1336l-4 7 -3 -11zM613 1346l1 -11 9 7zM667 1355l-5 -13 11 1zM714 1353l-3 -13 10 3zM781 1332l-9 9 -4 -10zM797 1338l12 -6 0 11zM881 1331l-9 9 -4 -10zM903 1338l9 -6 0 11zM965 1323l3 13 -11 -2zM1003 1348l3 -13 8 7zM1076 1330l-8 10 -5 -10zM1094 1346l8 -11 5 10zM1146 1351l4 -13 8 8zM1206 1348l-4 -10 10 1zM1243 1338l12 -6 0 11zM1321 1336l-11 7 -2 -11zM1370 1332l-9 9 -4 -10zM1397 1336l6 -4 -2 11zM1443 1326l11 6 -8 7zM1492 1333l11 -1 -6 10zM1560 1352l-12 -7 9 -6zM1591 1325l11 7 -9 6zM1656 1353l-10 -8 9 -6zM1690 1321l10 9 -10 4zM1731 1330l13 1 -5 9zM1787 1352l1 -14 10 6zM1826 1337l12 -5 0 11zM274 1392l-3 -6 10 3zM335 1401l-12 -7 9 -6zM389 1384l-11 8 -2 -11zM411 1378l13 3 -7 8zM480 1399l-11 -7 9 -6zM538 1382l-10 8 -3 -10zM588 1384l-11 7 -2 -11zM628 1402l-11 -7 10 -6zM674 1403l-9 -10 10 -3zM735 1385l-11 7 -2 -11zM765 1374l6 11 -11 1zM812 1405l-3 -13 10 1zM852 1373l12 6 -8 7zM910 1400l-3 -13 11 2zM945 1391l11 -8 2 10zM1001 1394l6 -11 6 9zM1057 1377l8 7 -10 4zM1127 1385l-11 6 -2 -10zM1141 1391l11 -8 2 10zM1206 1400l-4 -12 10 0zM1272 1387l-12 5 0 -10zM1316 1380l-7 11 -6 -9zM1352 1381l7 4 -10 3zM1403 1374l5 11 -10 0zM1455 1382l2 7 -9 -6zM1511 1373l-3 13 -8 -6zM1539 1374l12 5 -8 7zM1583 1394l8 -10 5 10zM1636 1374l12 5 -8 7zM1710 1377l-7 12 -6 -9zM1749 1370l3 13 -10 -2zM1795 1400l-5 -12 10 0zM1827 1389l11 -7 2 11zM267 1427l12 4 -8 8zM308 1434l13 -4 -2 11zM386 1427l-6 11 -7 -8zM425 1423l4 13 -11 -2zM481 1420l-1 13 -10 -5zM531 1438l-10 3 2 -10zM573 1452l-7 -11 10 -2zM601 1434l13 -4 -2 10zM678 1422l-3 13 -9 -6zM701 1432l13 -3 -3 11zM751 1435l12 -5 0 11zM802 1434l12 -4 -1 11zM863 1419l6 12 -11 0zM917 1452l-8 -10 10 -3zM948 1447l6 -12 7 9zM1010 1430l6 5 -10 1zM1050 1449l3 -13 8 7zM1109 1449l-5 -12 10 0zM1144 1446l7 -12 6 9zM1219 1442l-13 -1 5 -9zM1246 1425l12 5 -8 7zM1289 1427l13 1 -5 10zM1356 1449l-7 -11 11 -2zM1412 1432l-6 8 -4 -10zM1465 1434l-11 7 -2 -11zM1484 1440l11 -8 2 10zM1562 1449l-12 -5 8 -8zM1605 1421l0 13 -10 -4zM1638 1438l8 -7 2 10zM1694 1419l7 11 -10 2zM1738 1446l3 -12 9 6zM1777 1439l11 -7 2 10zM1845 1419l5 12 -11 0zM279 1468l3 13 -10 -2zM315 1498l3 -13 9 6zM373 1498l-5 -12 11 1zM418 1473l9 9 -9 4zM465 1470l10 8 -10 5zM539 1485l-12 5 0 -10zM559 1499l3 -13 8 7zM612 1500l0 -13 10 5zM652 1493l8 -10 5 9zM709 1472l11 7 -9 6zM776 1500l-11 -7 9 -6zM825 1471l-3 13 -8 -6zM869 1488l-7 2 5 -9zM927 1475l-7 12 -6 -9zM947 1482l13 -3 -2 11zM1000 1472l12 6 -8 7zM1051 1472l11 7 -9 6zM1126 1480l-10 8 -3 -10zM1158 1503l-5 -12 10 0zM1193 1477l13 1 -5 10zM1263 1501l-10 -9 10 -5zM1295 1499l3 -13 9 6zM1357 1497l-8 -9 11 -3zM1407 1468l3 13 -11 -2zM1447 1481l8 -1 -7 9zM1519 1482l-11 7 -2 -10zM1545 1476l9 5 -9 6zM1603 1467l3 13 -11 -2zM1653 1500l-9 -10 10 -3zM1680 1482l13 -3 -2 10zM1737 1469l11 8 -10 5zM1778 1479l13 -1 -3 10zM1829 1493l8 -10 5 9zM266 1536l8 -7 2 10zM341 1540l-13 1 4 -10zM388 1524l-7 12 -6 -9zM423 1551l-5 -12 11 0zM456 1530l12 -2 -2 10zM529 1547l-11 -8 9 -5zM564 1535l4 -6 2 10zM601 1534l12 -5 0 10zM676 1521l-2 13 -9 -5zM701 1542l8 -10 5 10zM772 1548l-10 -9 10 -5zM804 1521l12 6 -8 7zM881 1536l-13 4 2 -11zM907 1520l10 9 -10 4zM968 1517l1 13 -10 -4zM994 1533l12 -5 0 11zM1061 1517l5 12 -11 0zM1122 1537l-13 3 2 -11zM1147 1523l13 5 -8 8zM1219 1542l-13 -2 7 -9zM1251 1542l0 -10 9 6zM1290 1529l13 -1 -4 10zM1351 1549l-3 -13 11 2zM1394 1539l6 -9 5 9zM1469 1540l-13 1 3 -10zM1496 1550l-2 -13 11 3zM1542 1540l4 -10 6 9zM1609 1533l-8 6 -2 -10zM1639 1547l2 -13 9 6zM1687 1519l11 7 -9 6zM1739 1547l1 -13 9 5zM1791 1517l8 11 -10 2zM1829 1525l13 1 -6 10zM280 1566l2 13 -10 -2zM317 1589l4 -10 6 9zM382 1576l-4 10 -7 -8zM411 1577l13 1 -5 9zM467 1599l-2 -13 11 4zM537 1588l-13 2 3 -11zM557 1572l13 4 -7 8zM621 1573l3 10 -10 -2zM663 1579l8 0 -7 8zM721 1588l-8 -1 9 -7zM779 1570l-5 13 -8 -8zM819 1600l-8 -11 10 -2zM852 1571l12 5 -7 7zM927 1593l-13 -3 6 -8zM971 1574l-4 12 -8 -8zM1014 1566l3 13 -11 -2zM1048 1596l5 -13 8 7zM1111 1573l3 10 -10 -2zM1154 1566l8 10 -11 3zM1214 1599l-10 -9 10 -4zM1251 1595l0 -13 9 5zM1300 1581l7 -3 -5 10zM1370 1576l-9 10 -5 -10zM1393 1583l9 -5 0 10zM1469 1587l-13 3 3 -11zM1503 1570l4 13 -11 -2zM1538 1577l13 1 -5 9zM1583 1589l9 -9 4 10zM1645 1578l8 2 -10 5zM1683 1574l13 2 -6 9zM1733 1585l11 -7 2 11zM1778 1578l13 -2 -3 10zM1834 1570l12 7 -9 6zM289 1622l-6 11 -6 -8zM310 1640l8 -10 5 9zM367 1616l10 8 -10 5zM441 1631l-12 6 0 -11zM476 1650l-8 -11 10 -2zM533 1644l-12 -4 7 -8zM569 1638l-4 -6 10 2zM620 1649l-6 -12 11 0zM681 1625l-8 11 -5 -10zM720 1615l3 13 -11 -2zM764 1614l7 12 -11 1zM812 1642l-2 -10 10 3zM860 1616l8 10 -10 3zM904 1616l11 8 -10 6zM977 1623l-8 11 -6 -9zM1008 1616l7 10 -10 2zM1066 1634l-7 3 4 -10zM1125 1641l-13 -1 5 -10zM1156 1638l-3 -7 10 4zM1216 1647l-11 -8 9 -5zM1244 1623l13 3 -7 8zM1301 1637l0 -8 8 7zM1352 1615l7 11 -11 2zM1395 1617l11 8 -10 5zM1470 1628l-11 8 -2 -10zM1490 1645l4 -13 8 7zM1541 1623l12 5 -8 7zM1582 1635l11 -7 2 10zM1654 1630l-4 7 -3 -10zM1688 1648l1 -13 10 5zM1752 1634l-7 3 4 -10zM1792 1637l-2 -7 9 5zM1841 1615l8 11 -11 2zM279 1676l2 7 -9 -5zM328 1676l2 7 -9 -5zM360 1688l8 -10 5 10zM414 1690l4 -12 8 8zM459 1672l13 3 -6 8zM527 1664l1 14 -10 -4zM564 1667l10 9 -10 4zM618 1694l-4 -12 10 1zM677 1695l-11 -7 9 -6zM713 1698l-2 -13 10 2zM768 1676l3 7 -10 -4zM821 1689l-10 -4 9 -6zM857 1666l10 8 -10 5zM903 1696l2 -13 9 6zM946 1677l12 -2 -2 10zM1016 1666l1 13 -10 -3zM1064 1666l2 13 -10 -3zM1103 1697l-1 -13 10 4zM1151 1666l10 8 -10 5zM1202 1664l9 10 -11 3zM1241 1672l14 2 -6 9zM1309 1665l3 13 -11 -3zM1344 1679l10 -3 -2 10zM1409 1664l1 13 -10 -3zM1453 1687l-6 -5 10 -1zM1483 1679l13 -4 -2 11zM1558 1675l-4 10 -7 -8zM1595 1690l-1 -10 9 4zM1634 1673l13 2 -5 9zM1701 1699l-8 -11 11 -2zM1754 1698l-10 -9 9 -5zM1791 1686l0 -8 8 7zM1838 1689l1 -10 9 6zM286 1718l-3 13 -9 -7zM341 1735l-13 2 3 -10zM361 1743l5 -12 8 7zM411 1743l5 -13 7 8zM476 1714l2 13 -10 -3zM514 1746l0 -13 10 4zM564 1739l1 -11 9 6zM605 1719l13 3 -7 9zM674 1732l-7 4 3 -11zM711 1731l5 -6 1 11zM770 1748l-8 -11 11 -2zM800 1738l8 -10 5 9zM865 1724l4 6 -10 -1zM931 1726l-11 8 -2 -10zM970 1718l-2 13 -9 -6zM1016 1747l-9 -10 11 -4zM1048 1742l5 -12 7 8zM1118 1733l-10 3 4 -10zM1146 1743l5 -13 8 8zM1189 1732l12 -7 0 11zM1264 1720l-3 13 -8 -7zM1321 1722l-8 10 -5 -9zM1354 1736l-5 -5 10 0zM1405 1748l-7 -11 11 -1zM1462 1728l-8 7 -2 -10zM1488 1741l6 -12 6 9zM1559 1718l-3 13 -9 -6zM1615 1727l-11 8 -2 -11zM1656 1746l-10 -8 10 -5zM1713 1724l-9 10 -4 -11zM1760 1721l-7 11 -6 -9zM1804 1716l-2 13 -9 -6zM1844 1740l-5 -9 10 1zM272 1763l8 10 -10 3zM341 1785l-13 1 4 -10zM367 1795l0 -13 10 4zM440 1773l-9 9 -4 -10zM458 1770l13 2 -6 9zM522 1761l5 13 -11 -1zM555 1782l11 -7 2 10zM618 1797l-5 -12 11 1zM659 1789l4 -12 8 7zM725 1793l-11 -7 10 -6zM772 1763l1 14 -10 -4zM799 1783l11 -8 2 10zM869 1763l2 13 -11 -3zM927 1772l-8 10 -5 -9zM967 1782l-7 2 5 -9zM1022 1767l-4 12 -8 -7zM1063 1762l3 12 -10 -1zM1121 1774l-8 10 -5 -10zM1168 1764l-2 13 -9 -6zM1193 1784l10 -9 3 10zM1249 1794l0 -13 10 4zM1290 1782l11 -8 2 11zM1364 1792l-12 -6 9 -7zM1402 1762l6 12 -11 1zM1450 1770l7 7 -10 3zM1514 1769l-6 11 -7 -8zM1562 1766l-4 13 -8 -8zM1585 1787l8 -10 5 9zM1658 1794l-11 -7 9 -6zM1681 1772l13 0 -5 10zM1737 1794l2 -13 9 5zM1794 1797l-5 -12 11 1zM1837 1795l0 -13 10 4zM284 1835l-11 -2 7 -8zM340 1834l-13 1 4 -10zM357 1822l13 -1 -4 10zM435 1839l-13 -4 8 -8zM485 1826l-11 8 -2 -11zM537 1828l-12 6 0 -11zM586 1820l-8 11 -5 -10zM609 1837l6 -12 6 8zM682 1818l-7 12 -6 -9zM726 1813l-1 13 -10 -5zM776 1842l-11 -6 8 -7zM806 1832l6 -8 4 10zM855 1843l2 -13 9 6zM904 1832l6 -8 4 10zM959 1843l-3 -13 11 3zM999 1834l9 -10 4 10zM1061 1834l-6 -4 10 -2zM1116 1844l-10 -9 10 -4zM1142 1826l13 -3 -2 10zM1203 1813l8 10 -10 3zM1241 1818l13 3 -6 8zM1318 1818l-6 11 -7 -8zM1355 1812l5 12 -11 -1zM1405 1834l-7 -3 10 -3zM1444 1814l11 8 -10 6zM1487 1821l13 1 -5 9zM1560 1829l-9 5 0 -11zM1585 1838l7 -11 6 9zM1633 1827l13 -4 -2 10zM1688 1843l2 -13 9 6zM1757 1835l-13 -1 6 -9zM1809 1819l-7 11 -6 -9zM1856 1842l-12 -5 8 -8zM276 1884l-5 -6 10 0zM332 1864l-1 14 -9 -6zM389 1881l-13 3 2 -11zM408 1870l13 0 -5 10zM461 1891l4 -13 8 7zM539 1874l-11 8 -2 -11zM582 1889l-13 -5 8 -8zM625 1864l0 13 -10 -4zM670 1865l4 12 -11 -2zM702 1870l13 0 -5 10zM761 1895l-2 -13 11 3zM831 1873l-10 8 -3 -10zM848 1883l9 -9 4 10zM903 1876l10 -4 -2 11zM973 1890l-12 -6 8 -7zM1027 1874l-11 8 -2 -11zM1048 1866l12 4 -7 8zM1123 1888l-12 -3 6 -8zM1142 1872l13 -1 -4 10zM1223 1880l-13 3 2 -10zM1256 1884l-5 -6 10 1zM1294 1865l12 5 -8 7zM1337 1875l13 -4 -2 11zM1417 1888l-12 -3 6 -8zM1449 1861l7 11 -10 2zM1499 1894l-4 -12 11 1zM1540 1878l9 -6 0 11zM1600 1860l5 12 -11 -1zM1657 1887l-12 -5 8 -7zM1704 1871l-3 10 -7 -8zM1733 1869l13 2 -6 9zM1799 1882l-8 -1 9 -6zM1831 1881l10 -8 3 10zM285 1941l-11 -7 9 -6zM337 1922l-9 9 -4 -10zM372 1921l7 3 -10 4zM428 1918l0 11 -9 -6zM489 1930l-13 3 2 -10zM524 1912l3 13 -11 -2zM558 1935l6 -11 7 9zM618 1921l6 4 -10 2zM673 1913l1 13 -10 -4zM721 1917l1 11 -10 -4zM775 1930l-10 2 4 -10zM824 1939l-11 -7 8 -6zM864 1940l-5 -12 10 0zM904 1912l11 8 -9 5zM955 1934l2 -10 8 7zM1017 1940l-10 -9 10 -4zM1051 1931l6 -9 4 10zM1101 1913l11 8 -10 5zM1166 1937l-11 -6 8 -7zM1210 1910l3 13 -10 -2zM1245 1914l12 5 -8 8zM1311 1928l-7 4 3 -11zM1353 1933l-4 -6 10 1zM1402 1937l-4 -10 10 1zM1458 1911l1 13 -10 -4zM1488 1914l12 5 -7 7zM1562 1938l-12 -4 7 -8zM1583 1934l9 -10 5 10zM1644 1944l-3 -13 11 3zM1687 1941l3 -13 9 6zM1750 1931l-7 0 7 -8zM1805 1924l-8 8 -2 -11zM1859 1916l-7 12 -6 -9zM266 1978l8 -7 2 10zM340 1969l-8 10 -5 -10zM386 1988l-12 -5 7 -8zM433 1967l-5 12 -8 -8zM456 1967l13 1 -5 10zM522 1994l-6 -12 11 -1zM569 1958l6 11 -11 1zM622 1971l2 7 -9 -6zM663 1961l9 9 -10 4zM708 1963l11 6 -9 7zM752 1971l13 -1 -3 10zM805 1978l8 -7 2 10zM858 1992l-1 -13 10 3zM895 1979l11 -7 2 10zM977 1979l-13 3 2 -11zM1013 1986l-7 -8 10 -2zM1054 1974l7 -4 -3 11zM1097 1985l6 -12 7 9zM1166 1989l-11 -7 10 -6zM1200 1989l1 -13 9 5zM1238 1977l12 -6 0 10zM1317 1965l-5 12 -8 -8zM1349 1992l-2 -13 11 3zM1413 1991l-11 -7 9 -6zM1440 1966l13 4 -7 8zM1485 1982l9 -9 4 10zM1533 1974l13 -4 -2 11zM1588 1990l3 -13 9 7zM1631 1973l13 -3 -2 10zM1684 1983l8 -10 5 9zM1756 1988l-12 -6 9 -7zM1782 1964l12 4 -7 8zM1848 1967l1 10 -9 -5zM290 2034l-13 -2 6 -9zM323 2042l-4 -13 11 1zM359 2034l7 -11 6 10zM433 2025l-9 5 0 -11zM457 2016l13 2 -5 9zM516 2028l1 -7 7 8zM581 2039l-12 -6 9 -7zM623 2020l0 8 -7 -7zM681 2036l-13 -4 7 -8zM711 2008l9 9 -10 4zM763 2007l7 11 -10 2zM809 2033l1 -11 9 7zM852 2020l13 -1 -4 10zM903 2011l11 7 -8 6zM966 2008l2 13 -10 -2zM998 2037l5 -12 7 8zM1067 2041l-10 -9 10 -4zM1113 2013l2 12 -11 -3zM1153 2022l7 -2 -5 9zM1209 2040l-7 -12 11 -1zM1253 2030l-2 -7 10 5zM1313 2012l-2 13 -9 -6zM1358 2037l-9 -9 11 -3zM1416 2014l-6 12 -7 -9zM1470 2028l-13 3 2 -11zM1485 2018l14 0 -5 10zM1547 2034l-2 -10 10 3zM1600 2015l4 10 -10 -2zM1639 2016l12 4 -8 8zM1687 2024l10 -5 -2 11zM1744 2012l7 11 -11 1zM1783 2034l6 -11 7 8zM1859 2029l-13 2 2 -11zM260 2079l10 -9 3 11zM321 2065l8 6 -9 4zM376 2087l-7 -11 11 -2zM414 2083l4 -12 8 8zM468 2069l8 1 -9 7zM530 2087l-11 -7 9 -6zM587 2070l-11 8 -2 -10zM614 2077l1 -7 7 9zM673 2070l-1 8 -7 -9zM711 2082l1 -10 9 6zM766 2056l5 12 -11 0zM822 2087l-10 -8 9 -5zM852 2087l4 -12 8 7zM918 2065l0 10 -9 -4zM970 2090l-10 -8 10 -5zM1007 2065l9 6 -10 4zM1070 2065l-6 12 -6 -8zM1102 2067l10 2 -8 8zM1156 2084l-3 -10 10 2zM1211 2089l-8 -10 10 -3zM1242 2083l7 -11 6 9zM1301 2070l8 0 -8 7zM1359 2078l-8 0 7 -8zM1420 2073l-12 6 0 -11zM1446 2058l9 9 -10 4zM1505 2056l3 13 -11 -2zM1548 2064l7 8 -10 2zM1617 2074l-12 5 0 -10zM1634 2085l6 -12 6 9zM1682 2065l13 2 -5 9zM1752 2090l-9 -10 10 -3zM1796 2068l4 6 -10 -1zM1843 2084l-4 -10 10 1zM259 2121l13 -4 -1 11zM313 2117l13 1 -5 9zM360 2113l13 3 -6 8zM429 2131l-10 -4 9 -6zM486 2134l-13 -3 7 -9zM530 2128l-11 0 5 -9zM553 2124l12 -6 0 11zM606 2112l13 4 -7 8zM664 2118l8 1 -9 7zM710 2137l0 -13 10 5zM756 2136l3 -12 8 6zM833 2127l-13 2 2 -10zM868 2118l1 8 -9 -7zM928 2129l-13 0 4 -9zM950 2127l9 -9 3 10zM1027 2125l-13 4 2 -11zM1065 2119l-1 8 -7 -9zM1110 2106l5 12 -11 0zM1152 2125l3 -7 4 10zM1208 2139l-6 -12 11 0zM1262 2125l-7 3 3 -10zM1314 2111l-3 13 -8 -7zM1371 2124l-12 5 0 -11zM1401 2129l-3 -7 10 3zM1452 2140l-5 -12 10 0zM1519 2121l-11 7 -2 -11zM1551 2136l-6 -12 10 0zM1596 2118l8 2 -10 5zM1651 2141l-7 -11 10 -2zM1683 2133l7 -11 6 8zM1762 2125l-13 4 2 -11zM1809 2132l-13 -2 6 -9zM1833 2136l4 -13 8 7zM294 2173l-12 5 0 -11zM313 2181l6 -11 7 8zM382 2179l-11 -2 7 -8zM433 2161l-4 13 -8 -8zM457 2182l7 -11 6 9zM534 2169l-10 8 -3 -11zM577 2159l-1 13 -9 -5zM607 2168l13 -1 -4 10zM675 2189l-10 -9 10 -4zM710 2183l2 -13 9 6zM783 2176l-13 2 2 -10zM806 2186l2 -13 9 6zM865 2189l-6 -12 11 0zM928 2182l-13 -2 6 -9zM946 2167l13 -2 -3 11zM995 2166l13 -1 -4 10zM1068 2158l-1 13 -10 -5zM1117 2185l-11 -8 9 -5zM1161 2185l-8 -11 11 -2zM1203 2176l0 -7 7 7zM1260 2188l-8 -10 11 -3zM1289 2172l12 -5 0 10zM1365 2159l-4 13 -8 -7zM1420 2166l-9 9 -4 -10zM1438 2162l13 3 -6 9zM1488 2164l13 2 -5 9zM1537 2169l13 -3 -2 11zM1587 2162l12 3 -7 9zM1661 2185l-13 -5 8 -8zM1689 2156l10 8 -9 5zM1729 2167l13 -2 -3 11zM1794 2159l6 11 -10 1zM1850 2173l-6 4 2 -10zM286 2235l-11 -7 8 -6zM311 2233l6 -12 7 8zM369 2206l9 10 -10 3zM415 2237l1 -13 9 5zM486 2227l-14 0 5 -10zM527 2204l1 13 -10 -3zM576 2238l-9 -9 10 -4zM634 2231l-13 -2 6 -9zM677 2230l-12 -4 8 -8zM714 2234l-3 -13 11 2zM775 2207l-2 13 -9 -6zM818 2204l3 13 -11 -2zM880 2215l-9 9 -4 -10zM928 2224l-13 3 2 -11zM976 2211l-7 11 -6 -8zM1002 2207l11 7 -9 6zM1060 2234l-5 -12 10 0zM1098 2236l3 -13 9 6zM1165 2237l-9 -8 9 -5zM1206 2227l-4 -6 10 1zM1254 2204l7 12 -11 1zM1300 2225l1 -8 7 9zM1362 2235l-10 -8 9 -5zM1404 2204l5 12 -11 0zM1440 2233l5 -12 7 7zM1485 2216l13 -2 -3 11zM1535 2215l13 0 -4 10zM1590 2217l10 -1 -4 10zM1648 2234l-5 -12 10 1zM1694 2216l7 2 -9 5zM1736 2235l3 -13 8 6zM1809 2233l-13 -4 7 -8zM1849 2218l-1 7 -7 -9zM263 2260l12 3 -6 8zM343 2267l-11 8 -2 -11zM389 2274l-13 2 2 -10zM427 2285l-8 -11 10 -2zM472 2252l5 12 -10 0zM510 2277l7 -11 6 10zM576 2270l-5 6 0 -11zM628 2254l-1 13 -10 -5zM653 2268l13 -4 -2 11zM729 2266l-9 9 -4 -10zM752 2275l9 -9 4 10zM809 2254l9 10 -10 3zM848 2269l12 -4 0 10zM904 2275l6 -9 4 9zM972 2256l-3 13 -9 -6zM995 2271l12 -6 0 11zM1070 2273l-11 3 3 -11zM1108 2280l-4 -9 10 1zM1166 2284l-11 -8 10 -5zM1192 2266l13 -2 -3 10zM1273 2266l-11 8 -2 -10zM1297 2280l3 -12 8 7zM1369 2280l-13 -2 6 -9zM1414 2283l-12 -5 8 -8zM1444 2256l11 8 -10 5zM1496 2254l9 10 -11 3zM1533 2269l13 -5 -1 11zM1609 2281l-12 -5 8 -7zM1643 2254l9 10 -11 3zM1710 2259l-6 12 -7 -8zM1732 2262l13 2 -5 9zM1786 2286l1 -13 10 5zM1828 2265l13 -1 -3 10zM268 2304l11 8 -10 5zM311 2309l13 3 -6 9zM381 2308l-2 13 -9 -6zM432 2304l-1 13 -10 -6zM466 2303l9 10 -10 4zM511 2332l3 -13 9 7zM587 2324l-13 2 3 -10zM613 2336l-1 -13 10 4zM663 2303l9 10 -11 3zM734 2315l-11 8 -2 -10zM758 2334l1 -13 10 5zM799 2312l13 0 -5 10zM873 2335l-11 -8 10 -5zM929 2324l-13 2 3 -10zM979 2318l-12 6 0 -10zM1024 2327l-13 -2 5 -9zM1066 2319l-5 6 -1 -11zM1107 2336l-4 -12 11 1zM1174 2315l-10 8 -3 -10zM1211 2329l-9 -7 10 -4zM1249 2333l1 -13 10 4zM1321 2311l-8 10 -5 -9zM1341 2306l13 5 -8 8zM1393 2305l11 6 -9 6zM1463 2332l-12 -5 8 -7zM1514 2321l-13 4 2 -11zM1560 2304l-2 13 -9 -6zM1592 2327l2 -11 8 8zM1658 2305l-3 13 -9 -6zM1711 2330l-12 -3 6 -8zM1745 2304l6 12 -11 1zM1784 2330l5 -13 8 8zM1838 2333l0 -13 10 4zM286 2380l-12 -6 8 -7zM334 2353l-1 13 -9 -6zM375 2385l-6 -11 11 -1zM433 2376l-12 -3 6 -8zM485 2359l-7 12 -6 -9zM504 2369l12 -6 0 11zM568 2350l7 12 -11 1zM605 2358l12 2 -6 9zM678 2381l-12 -6 9 -7zM726 2383l-11 -8 9 -5zM758 2359l11 5 -8 7zM829 2377l-13 -1 6 -10zM874 2355l-3 13 -8 -7zM918 2382l-9 -9 10 -4zM968 2368l-5 6 0 -11zM1017 2360l-1 11 -9 -7zM1044 2376l8 -10 5 10zM1124 2376l-13 -1 5 -9zM1145 2367l12 -4 -1 11zM1221 2357l-6 12 -7 -9zM1240 2375l9 -10 4 10zM1319 2359l-7 11 -6 -9zM1342 2380l5 -12 7 8zM1397 2370l4 -6 3 10zM1449 2363l8 2 -10 5zM1507 2385l-9 -9 10 -4zM1540 2366l10 -3 -2 10zM1589 2371l8 -8 2 11zM1662 2359l-7 11 -6 -9zM1703 2367l-5 7 -1 -11zM1734 2357l12 4 -7 8zM1792 2354l8 10 -11 2zM1830 2357l13 3 -7 9zM264 2412l13 0 -4 10zM341 2412l-10 9 -3 -10zM365 2403l11 7 -9 6zM418 2432l-1 -13 10 3zM455 2414l13 -3 -2 11zM530 2404l-2 13 -9 -6zM563 2402l10 9 -10 4zM613 2402l9 9 -10 4zM660 2405l11 7 -9 6zM705 2413l13 -1 -4 10zM756 2430l3 -13 9 7zM803 2412l13 0 -4 10zM863 2433l-5 -12 11 1zM920 2432l-10 -9 10 -4zM945 2412l13 -2 -3 11zM1014 2435l-7 -11 10 -2zM1051 2405l11 6 -9 6zM1091 2414l13 -3 -2 11zM1154 2402l8 10 -10 3zM1192 2412l13 -1 -4 10zM1239 2413l13 -2 -3 10zM1304 2411l6 5 -10 1zM1342 2412l13 0 -4 10zM1396 2402l10 9 -10 4zM1459 2425l-10 -3 8 -7zM1484 2412l13 -2 -3 11zM1543 2410l10 3 -8 8zM1609 2425l-12 -2 6 -9zM1633 2413l13 -2 -3 11zM1680 2410l14 0 -5 10zM1750 2422l-8 -1 8 -7zM1810 2423l-13 1 4 -10zM1860 2422l-13 2 3 -10zM282 2467l-6 5 1 -11zM341 2462l-10 8 -3 -10zM369 2483l-2 -13 11 3zM407 2475l8 -11 5 10zM460 2455l13 5 -8 8zM507 2461l13 -1 -4 10zM577 2480l-10 -8 9 -6zM625 2450l1 14 -10 -4zM676 2451l0 13 -10 -5zM718 2476l-6 -8 10 -1zM765 2452l6 11 -11 1zM812 2450l7 11 -10 2zM870 2453l0 13 -10 -4zM921 2472l-10 -1 6 -8zM959 2472l-2 -7 9 5zM1023 2477l-12 -4 7 -8zM1060 2483l-6 -13 11 1zM1103 2451l9 9 -10 4zM1161 2461l2 8 -9 -6zM1191 2473l9 -10 4 10zM1238 2468l12 -6 0 10zM1310 2450l2 13 -11 -3zM1365 2481l-12 -6 9 -7zM1412 2457l-4 12 -8 -7zM1455 2461l2 8 -9 -6zM1508 2459l-2 11 -8 -8zM1568 2466l-12 6 0 -11zM1615 2461l-10 9 -3 -10zM1665 2469l-13 4 2 -11zM1680 2468l12 -6 0 10zM1758 2454l-5 13 -7 -8zM1800 2469l-7 3 5 -10zM1846 2461l3 7 -10 -4zM263 2526l6 -11 6 8zM342 2512l-11 8 -2 -11zM369 2519l1 -7 7 8zM408 2514l13 -4 -2 11zM464 2530l1 -13 10 5zM515 2531l-1 -13 10 4zM556 2507l13 1 -6 10zM623 2530l-9 -10 11 -3zM666 2501l7 11 -11 1zM705 2510l13 0 -5 10zM780 2510l-9 9 -4 -10zM821 2516l-6 5 1 -11zM848 2517l11 -6 2 10zM930 2518l-13 4 2 -11zM966 2511l0 8 -7 -8zM1027 2520l-13 2 3 -10zM1058 2499l7 11 -11 1zM1106 2533l-3 -12 10 1zM1175 2523l-14 0 5 -10zM1203 2520l-1 -7 9 6zM1239 2513l13 -4 -2 11zM1322 2515l-12 6 0 -11zM1369 2506l-7 11 -6 -9zM1412 2506l-4 12 -8 -7zM1440 2502l12 6 -8 7zM1489 2529l4 -12 8 7zM1554 2500l2 13 -10 -3zM1611 2503l-5 13 -7 -8zM1640 2499l10 9 -9 4zM1712 2512l-11 8 -2 -10zM1745 2506l6 8 -10 1zM1805 2503l-3 13 -9 -7zM1838 2524l1 -11 9 7zM273 2550l8 11 -11 2zM339 2570l-13 1 4 -10zM366 2550l10 8 -9 5zM407 2564l12 -5 0 11zM477 2551l1 13 -10 -4zM530 2578l-11 -7 9 -6zM587 2565l-12 5 0 -10zM608 2572l7 -11 6 9zM652 2557l13 0 -5 10zM722 2562l-2 7 -5 -9zM782 2572l-13 0 5 -10zM812 2547l7 11 -10 2zM863 2555l6 8 -10 1zM905 2552l11 7 -9 6zM976 2572l-13 -1 5 -9zM995 2556l14 1 -6 9zM1045 2556l13 1 -6 9zM1094 2556l13 2 -5 9zM1150 2575l3 -13 8 7zM1204 2547l7 11 -10 2zM1264 2552l-2 13 -9 -6zM1320 2554l-7 11 -6 -8zM1362 2559l-4 9 -6 -8zM1420 2567l-13 4 2 -11zM1441 2553l12 5 -8 8zM1496 2549l9 10 -10 3zM1566 2570l-13 1 3 -10zM1601 2570l-7 -3 10 -3zM1646 2574l-3 -9 10 2zM1687 2552l12 6 -9 7zM1747 2582l-6 -12 11 -1zM1801 2563l-4 7 -3 -11zM1861 2570l-13 2 3 -11zM278 2608l3 7 -10 -4zM316 2628l2 -13 9 6zM392 2614l-12 5 0 -10zM406 2610l13 -3 -2 11zM461 2601l12 5 -8 7zM525 2628l-9 -10 11 -3zM581 2601l-4 13 -8 -8zM611 2603l12 7 -9 6zM656 2604l13 4 -7 8zM723 2625l-10 -8 9 -5zM771 2597l2 13 -10 -4zM804 2603l13 5 -8 7zM865 2608l4 6 -10 -2zM899 2624l7 -12 6 9zM974 2602l-5 12 -7 -8zM1016 2611l-2 7 -5 -9zM1051 2601l12 7 -9 6zM1115 2616l-7 3 3 -10zM1154 2599l8 11 -10 2zM1216 2628l-11 -7 9 -6zM1265 2628l-11 -7 9 -6zM1287 2610l13 -3 -2 11zM1345 2625l3 -12 8 6zM1394 2618l6 -9 5 10zM1448 2605l8 6 -9 4zM1504 2619l-7 -2 9 -6zM1536 2606l13 1 -5 10zM1598 2596l6 11 -11 1zM1655 2598l0 13 -10 -4zM1699 2596l4 12 -11 -1zM1740 2606l10 4 -9 6zM1812 2611l-11 7 -2 -10zM1830 2608l13 0 -4 10zM258 2660l13 -3 -2 10zM336 2675l-12 -5 8 -7zM357 2656l13 0 -4 10zM415 2650l11 7 -9 6zM481 2676l-11 -7 9 -6zM506 2673l7 -11 6 9zM576 2661l-3 7 -5 -10zM630 2676l-12 -6 8 -7zM653 2659l13 -2 -3 10zM701 2657l13 -1 -4 10zM766 2669l-5 -6 10 1zM804 2676l4 -13 8 7zM878 2653l-7 11 -6 -8zM898 2660l13 -3 -2 11zM965 2647l3 13 -11 -2zM995 2669l9 -9 4 10zM1063 2677l-8 -10 11 -2zM1120 2655l-7 11 -6 -8zM1143 2667l11 -9 2 11zM1211 2646l2 13 -10 -2zM1269 2673l-12 -3 6 -8zM1317 2668l-13 0 4 -10zM1347 2650l10 8 -9 5zM1409 2665l-7 3 4 -10zM1443 2672l4 -12 8 8zM1516 2657l-9 10 -4 -11zM1567 2666l-13 3 2 -11zM1598 2676l-4 -12 10 1zM1649 2678l-6 -12 11 0zM1701 2675l-9 -9 11 -3zM1735 2649l11 6 -8 7zM1807 2651l-5 12 -7 -8zM1845 2669l-6 -4 10 -3zM280 2695l2 13 -10 -2zM337 2698l-4 13 -8 -7zM390 2707l-10 9 -3 -11zM431 2696l-1 13 -9 -5zM486 2721l-13 -2 6 -9zM505 2713l12 -6 1 11zM573 2717l-7 -2 9 -5zM605 2702l13 3 -6 8zM672 2728l-8 -10 10 -2zM729 2701l-5 12 -8 -8zM775 2700l-3 13 -9 -7zM831 2717l-13 2 3 -11zM871 2727l-10 -8 10 -5zM931 2711l-12 6 0 -11zM955 2695l10 9 -10 5zM1021 2726l-12 -7 9 -6zM1072 2725l-12 -5 8 -7zM1118 2724l-12 -6 9 -7zM1172 2722l-13 -3 6 -9zM1194 2715l11 -8 2 10zM1269 2720l-13 -2 5 -9zM1297 2702l11 6 -8 6zM1367 2700l-6 13 -7 -8zM1389 2704l13 1 -5 10zM1456 2696l3 13 -11 -3zM1511 2714l-10 3 2 -10zM1545 2709l8 -2 -7 9zM1583 2720l8 -10 5 9zM1646 2695l7 11 -11 2zM1712 2711l-12 6 0 -11zM1763 2719l-14 0 5 -10zM1807 2724l-12 -5 7 -8zM1854 2710l-8 7 -2 -11zM261 2768l8 -10 5 10zM327 2771l-7 -8 10 -2zM380 2769l-10 -4 9 -6zM405 2761l12 -5 0 10zM455 2758l13 -3 -2 10zM538 2756l-10 9 -3 -11zM561 2774l2 -13 9 6zM629 2748l-3 13 -9 -6zM666 2743l7 11 -11 2zM712 2745l9 10 -11 3zM764 2779l-4 -13 11 1zM831 2758l-11 7 -2 -10zM851 2760l12 -4 -1 10zM917 2746l2 13 -10 -2zM960 2776l-4 -13 11 2zM1005 2745l9 9 -10 4zM1050 2758l11 -2 -3 10zM1103 2772l1 -12 9 5zM1176 2759l-11 7 -2 -11zM1195 2770l6 -12 7 9zM1243 2758l13 -3 -3 11zM1318 2759l-11 7 -2 -11zM1355 2748l4 12 -10 -1zM1409 2745l1 13 -10 -4zM1453 2771l-6 -9 10 0zM1517 2753l-8 10 -5 -10zM1545 2749l10 9 -11 4zM1615 2760l-12 6 0 -11zM1639 2746l11 7 -10 6zM1706 2747l-2 13 -9 -6zM1760 2752l-7 11 -6 -9zM1787 2767l4 -10 6 9zM1836 2776l1 -13 10 5zM262 2806l13 -2 -3 10zM319 2812l4 -7 3 10zM391 2810l-12 6 0 -11zM417 2810l6 -5 -1 10zM460 2806l12 -1 -3 10zM522 2823l-6 -11 11 -1zM559 2824l3 -12 9 6zM611 2816l4 -10 7 9zM666 2825l-4 -12 11 1zM726 2814l-10 1 4 -9zM763 2805l7 2 -9 5zM817 2792l4 13 -11 -1zM878 2801l-7 11 -6 -9zM922 2798l-3 13 -8 -7zM945 2808l13 -4 -2 11zM996 2803l13 0 -5 10zM1069 2814l-10 1 4 -9zM1098 2822l4 -12 8 7zM1143 2808l13 -4 -2 11zM1208 2827l-6 -12 11 0zM1266 2824l-12 -7 9 -6zM1312 2825l-10 -8 10 -5zM1347 2824l1 -14 10 5zM1409 2799l-1 13 -9 -6zM1464 2822l-12 -5 7 -7zM1497 2798l9 9 -11 3zM1562 2819l-13 -3 7 -8zM1594 2802l9 4 -9 6zM1631 2808l13 -4 -2 11zM1688 2795l10 7 -9 6zM1733 2820l6 -11 6 8zM1789 2794l9 10 -10 3zM1833 2797l12 6 -8 7zM277 2842l5 12 -11 0zM342 2860l-12 5 0 -11zM367 2867l2 -11 8 8zM420 2854l7 2 -9 6zM462 2870l4 -12 8 7zM527 2842l1 13 -10 -3zM586 2861l-13 4 2 -11zM637 2859l-12 6 0 -11zM684 2865l-13 1 4 -10zM714 2869l-2 -11 10 4zM764 2874l-4 -13 11 2zM814 2877l-5 -12 11 0zM873 2844l-1 13 -10 -6zM896 2856l13 -3 -2 11zM972 2847l-3 12 -9 -6zM1023 2872l-12 -5 8 -7zM1049 2849l12 4 -7 8zM1124 2851l-8 11 -5 -10zM1146 2871l5 -12 7 8zM1203 2842l8 10 -11 3zM1269 2857l-11 7 -2 -10zM1294 2845l12 6 -9 7zM1346 2870l3 -13 9 6zM1413 2845l-3 13 -8 -6zM1466 2852l-8 10 -5 -9zM1507 2858l-5 6 -1 -10zM1539 2871l4 -13 8 8zM1590 2875l1 -13 10 5zM1663 2867l-13 -1 5 -9zM1690 2866l3 -10 7 8zM1731 2868l8 -11 5 9zM1800 2863l-8 1 7 -9zM1827 2863l11 -8 2 11zM272 2896l9 9 -11 4zM310 2917l8 -11 5 9zM382 2924l-10 -8 10 -5zM407 2915l9 -10 4 10zM483 2921l-12 -5 8 -8zM513 2894l11 8 -10 5zM556 2918l7 -11 6 9zM635 2900l-8 10 -5 -9zM656 2904l13 -1 -4 10zM719 2890l4 13 -11 -1zM781 2918l-13 -2 6 -9zM800 2901l13 0 -5 10zM878 2919l-12 -3 6 -9zM922 2895l-2 13 -9 -6zM946 2902l14 -1 -5 10zM1018 2894l0 13 -10 -5zM1056 2892l8 10 -10 3zM1116 2901l-2 10 -8 -7zM1153 2896l10 9 -11 4zM1216 2894l-2 13 -9 -6zM1273 2908l-12 6 0 -11zM1317 2896l-5 12 -7 -7zM1347 2923l0 -13 10 4zM1386 2906l13 -4 -2 11zM1456 2917l-9 -6 10 -4zM1498 2926l-3 -13 10 2zM1561 2915l-13 -1 6 -10zM1598 2926l-5 -12 11 0zM1639 2905l10 -2 -4 10zM1710 2897l-6 12 -7 -8zM1740 2923l0 -13 10 4zM1804 2899l-4 12 -8 -7zM1855 2894l-3 13 -9 -7zM270 2973l-1 -13 10 4zM334 2961l-10 2 4 -10zM364 2943l12 7 -9 6zM420 2952l7 2 -9 6zM481 2969l-11 -6 8 -7zM524 2967l-8 -7 10 -3zM562 2944l11 8 -9 6zM637 2958l-12 5 0 -11zM663 2961l2 -8 5 9zM725 2942l-1 13 -10 -5zM763 2974l-3 -13 11 2zM811 2973l-2 -13 10 3zM866 2952l3 7 -10 -4zM903 2949l12 3 -6 9zM978 2951l-9 9 -5 -10zM1016 2973l-9 -10 10 -3zM1072 2962l-13 1 4 -10zM1120 2943l-3 13 -8 -7zM1175 2963l-13 1 3 -10zM1214 2942l0 13 -10 -4zM1260 2966l-8 -5 9 -5zM1304 2940l6 12 -11 1zM1336 2958l12 -6 0 11zM1406 2948l2 10 -10 -3zM1461 2943l-2 13 -9 -6zM1504 2942l3 12 -11 -2zM1533 2956l13 -5 -2 11zM1614 2967l-13 -2 6 -9zM1660 2953l-9 9 -3 -10zM1700 2975l-7 -11 10 -2zM1741 2941l9 10 -11 3zM1788 2942l10 9 -10 4zM1855 2945l-4 12 -8 -7zM292 3011l-13 2 3 -11zM321 3022l-2 -13 10 3zM385 2996l-5 12 -8 -8zM418 2990l9 10 -11 3zM465 3023l0 -13 10 4zM514 3021l0 -13 10 4zM579 3019l-11 -6 9 -6zM606 3017l6 -12 7 9zM660 3021l1 -13 9 5zM707 2994l12 6 -9 7zM756 2992l11 6 -9 6zM820 3023l-9 -10 11 -4zM862 2994l7 10 -11 2zM907 3018l1 -13 9 5zM973 3016l-12 -4 7 -8zM1023 3018l-13 -5 8 -8zM1070 3006l-9 6 0 -11zM1091 3003l13 -3 -2 11zM1141 3007l12 -6 0 11zM1207 2989l5 12 -10 0zM1270 2995l-6 12 -7 -9zM1311 3024l-9 -10 10 -4zM1358 3002l0 7 -8 -7zM1387 2997l14 2 -6 9zM1457 3023l-9 -10 11 -3zM1499 3022l-4 -12 11 1zM1534 2998l13 1 -5 9zM1605 3008l-7 4 3 -11zM1662 3016l-13 -2 6 -9zM1688 3021l2 -13 9 6zM1737 2992l11 7 -9 6zM1802 3020l-10 -8 9 -5zM1829 3011l10 -8 3 10zM269 3069l1 -13 9 5zM333 3072l-10 -9 9 -4zM378 3046l1 11 -10 -4zM413 3058l8 -7 3 10zM485 3067l-13 -4 7 -8zM507 3046l13 2 -6 9zM587 3059l-13 3 2 -11zM601 3054l12 -4 0 10zM653 3064l8 -11 6 10zM704 3063l8 -11 5 10zM781 3063l-13 0 5 -10zM804 3069l3 -12 8 7zM856 3070l1 -13 9 5zM907 3072l-1 -13 10 4zM975 3064l-13 -2 6 -9zM1024 3067l-13 -4 7 -8zM1059 3065l-4 -9 10 1zM1122 3067l-13 -4 7 -8zM1158 3061l-5 -5 10 0zM1197 3053l10 -3 -2 11zM1255 3071l-5 -12 11 1zM1303 3065l-3 -10 10 3zM1359 3072l-9 -10 11 -3zM1411 3050l-4 9 -6 -9zM1434 3055l12 -5 0 11zM1518 3057l-13 4 1 -10zM1544 3056l5 -6 1 11zM1603 3071l-8 -10 10 -3zM1663 3064l-14 -1 6 -10zM1707 3070l-11 -7 9 -6zM1759 3055l-12 6 0 -11zM1787 3062l4 -10 7 8zM1849 3059l-8 1 7 -8zM290 3093l-6 12 -7 -8zM317 3091l11 7 -10 6zM375 3111l-6 -5 10 -1zM425 3095l3 9 -10 -1zM468 3088l8 10 -10 3zM529 3088l-1 13 -9 -4zM555 3094l13 3 -6 8zM625 3106l-7 4 3 -11zM670 3088l4 12 -11 -1zM723 3091l0 13 -10 -4zM781 3113l-13 -1 5 -10zM801 3095l13 2 -6 9zM877 3105l-12 5 1 -11zM917 3088l2 13 -10 -3zM976 3113l-13 -2 5 -9zM1017 3113l-10 -4 9 -7zM1053 3089l10 9 -10 4zM1114 3088l2 13 -11 -3zM1163 3120l-9 -10 10 -3zM1200 3088l10 9 -10 4zM1273 3104l-12 6 0 -11zM1315 3107l-10 3 2 -10zM1357 3087l3 13 -10 -2zM1403 3087l5 12 -10 0zM1457 3121l-9 -10 11 -3zM1508 3094l-2 13 -9 -7zM1563 3113l-13 -2 5 -9zM1584 3096l13 1 -5 10zM1640 3090l10 8 -9 5zM1709 3118l-12 -5 8 -8zM1760 3095l-7 11 -6 -9zM1798 3099l2 8 -9 -6zM1851 3116l-11 -8 9 -5zM281 3145l0 10 -9 -5zM323 3159l-3 -6 10 3zM356 3150l13 -3 -2 11zM439 3161l-13 0 5 -10zM472 3138l5 12 -10 0zM521 3160l-5 -5 10 -1zM555 3158l10 -9 3 11zM623 3149l0 8 -7 -8zM682 3144l-7 11 -6 -9zM707 3162l6 -12 6 9zM770 3139l2 13 -10 -3zM821 3142l-1 13 -9 -5zM879 3149l-9 8 -4 -10zM904 3141l12 7 -9 6zM955 3143l11 7 -9 5zM1016 3137l2 13 -11 -3zM1058 3159l-3 -6 10 3zM1127 3155l-13 5 2 -11zM1170 3142l-5 12 -7 -8zM1202 3157l2 -8 5 10zM1251 3170l-2 -13 11 3zM1297 3167l1 -13 10 6zM1365 3160l-13 -1 6 -9zM1406 3149l2 7 -9 -6zM1467 3157l-13 3 2 -11zM1516 3163l-13 -2 6 -9zM1557 3169l-10 -9 10 -4zM1591 3159l4 -9 6 9zM1654 3137l1 13 -10 -4zM1701 3170l-8 -10 10 -3zM1734 3166l5 -13 7 8zM1783 3163l6 -12 7 9zM1858 3150l-10 8 -3 -10zM283 3216l-10 -8 9 -5zM330 3199l-1 7 -7 -8zM384 3194l-5 12 -8 -8zM418 3217l-1 -13 10 3zM482 3200l-8 8 -3 -11zM523 3197l3 7 -10 -3zM576 3219l-9 -10 10 -4zM606 3213l6 -11 7 8zM685 3203l-12 5 0 -11zM730 3212l-13 -3 6 -8zM749 3208l10 -9 3 11zM813 3185l7 11 -11 1zM874 3202l-8 6 -2 -11zM904 3188l11 8 -9 5zM978 3195l-8 10 -5 -10zM1002 3187l11 8 -10 5zM1045 3201l12 -4 0 11zM1092 3209l10 -9 3 10zM1150 3213l3 -13 8 7zM1223 3196l-9 10 -4 -10zM1270 3193l-7 11 -6 -9zM1288 3203l12 -5 0 10zM1371 3209l-13 1 4 -10zM1387 3197l13 -1 -4 10zM1448 3212l-1 -10 10 4zM1506 3199l-1 8 -7 -9zM1550 3186l5 12 -10 0zM1615 3197l-10 9 -3 -10zM1660 3216l-12 -5 8 -7zM1701 3207l-8 0 9 -7zM1755 3198l-5 9 -6 -9zM1807 3206l-12 2 3 -10zM1847 3208l-8 -2 10 -5zM265 3238l11 6 -8 7zM314 3240l12 5 -8 8zM371 3261l-2 -10 10 3zM433 3253l-10 4 2 -10zM490 3249l-11 7 -2 -10zM525 3240l2 12 -11 -3zM555 3252l12 -5 0 10zM612 3235l10 9 -10 4zM665 3257l-2 -7 10 5zM700 3252l12 -5 0 10zM770 3237l2 13 -10 -3zM828 3242l-7 12 -6 -9zM847 3250l13 -4 -2 11zM918 3260l-9 -5 9 -5zM971 3268l-11 -8 10 -6zM1016 3249l-2 7 -5 -9zM1056 3264l-2 -13 11 4zM1112 3237l3 13 -11 -2zM1175 3248l-11 8 -2 -11zM1205 3269l-4 -13 11 2zM1261 3266l-9 -10 10 -3zM1317 3246l-8 10 -5 -10zM1368 3263l-13 -3 7 -9zM1393 3263l4 -12 8 7zM1439 3263l6 -12 7 8zM1499 3268l-4 -13 11 1zM1555 3249l-2 7 -5 -9zM1587 3256l9 -9 3 10zM1638 3240l12 6 -8 7zM1714 3257l-13 2 3 -11zM1747 3235l5 12 -11 0zM1788 3241l11 7 -9 6zM1844 3234l5 12 -10 0zM266 3309l6 -11 6 8zM307 3298l13 -4 -2 11zM385 3286l-3 13 -9 -6zM422 3318l-5 -12 11 0zM478 3302l-7 4 3 -10zM519 3307l-3 -7 10 3zM587 3294l-9 10 -4 -10zM637 3299l-11 7 -2 -11zM681 3288l-5 12 -8 -7zM717 3288l5 12 -10 -1zM775 3285l-1 13 -10 -5zM830 3294l-8 10 -5 -10zM853 3287l12 6 -9 6zM915 3288l4 12 -11 -1zM970 3288l-2 13 -9 -6zM997 3311l7 -12 6 9zM1065 3287l1 13 -10 -4zM1120 3288l-4 13 -8 -7zM1148 3299l10 -4 -2 11zM1192 3310l7 -11 6 10zM1266 3312l-12 -5 8 -7zM1300 3289l9 8 -9 5zM1370 3308l-14 0 5 -10zM1413 3288l-3 13 -9 -7zM1441 3295l12 1 -5 9zM1505 3318l-8 -10 11 -2zM1554 3284l2 13 -10 -2zM1608 3314l-11 -7 9 -6zM1630 3301l12 -6 0 11zM1707 3293l-6 11 -6 -8zM1758 3289l-5 12 -7 -7zM1787 3290l12 7 -9 6zM1830 3289l13 4 -7 8zM275 3344l6 4 -10 3zM317 3344l11 1 -7 9zM372 3366l-4 -13 11 2zM438 3340l-7 11 -6 -9zM477 3353l-8 2 7 -9zM539 3347l-11 7 -2 -10zM564 3358l1 -11 9 7zM632 3357l-13 -1 5 -10zM671 3367l-7 -11 10 -2zM705 3338l12 5 -7 7zM757 3353l6 -8 4 10zM831 3356l-13 1 4 -10zM859 3347l7 -2 -5 9zM919 3334l1 13 -10 -4zM945 3346l13 -2 -2 10zM1023 3360l-12 -3 7 -9zM1056 3364l-2 -13 10 3zM1119 3348l-8 7 -2 -11zM1143 3343l14 0 -5 10zM1192 3344l13 0 -4 10zM1255 3356l-4 -7 10 3zM1288 3346l13 -2 -2 10zM1357 3367l-7 -11 10 -2zM1413 3352l-10 3 2 -10zM1450 3365l-4 -13 11 2zM1518 3357l-14 0 5 -10zM1549 3344l6 5 -10 1zM1609 3358l-13 -3 7 -8zM1642 3350l6 -5 -1 10zM1683 3359l7 -11 6 9zM1749 3341l2 10 -10 -4zM1786 3366l1 -13 10 5zM1859 3357l-13 0 5 -10zM264 3393l13 1 -5 9zM319 3401l4 -7 3 10zM360 3403l10 -8 3 10zM410 3387l12 4 -7 8zM457 3409l7 -11 6 9zM522 3381l5 12 -11 0zM569 3389l6 9 -10 1zM635 3401l-13 4 2 -11zM672 3384l2 13 -10 -3zM719 3383l4 13 -11 -2zM749 3392l13 0 -4 10zM815 3382l5 12 -10 0zM869 3396l-2 7 -5 -9zM910 3381l7 11 -10 2zM954 3409l3 -12 8 6zM1021 3400l-9 5 0 -11zM1059 3414l-5 -12 11 0zM1105 3395l7 0 -7 7zM1148 3388l12 5 -8 7zM1201 3415l-1 -13 10 4zM1255 3384l6 12 -11 0zM1290 3407l8 -10 5 9zM1360 3383l1 13 -10 -3zM1405 3384l4 13 -11 -2zM1465 3410l-12 -4 6 -8zM1490 3412l4 -13 8 7zM1532 3401l12 -7 0 11zM1612 3391l-8 11 -5 -9zM1631 3402l11 -8 2 11zM1703 3391l-1 10 -9 -6zM1737 3395l10 -1 -4 10zM1784 3409l5 -12 7 8zM1844 3416l-5 -12 10 0zM291 3442l-9 10 -4 -10zM323 3438l7 8 -10 2zM362 3453l9 -9 4 10zM430 3459l-11 -7 9 -6zM483 3461l-12 -6 8 -7zM526 3452l-8 1 7 -9zM553 3445l13 -3 -2 10zM637 3449l-12 5 0 -11zM651 3452l11 -8 2 11zM719 3454l-7 -4 10 -3zM748 3444l13 -2 -2 10zM824 3436l-3 13 -8 -7zM852 3436l12 5 -7 7zM897 3450l11 -7 2 11zM978 3449l-12 5 0 -11zM1022 3441l-7 11 -6 -9zM1073 3436l-5 12 -7 -8zM1095 3439l13 2 -6 9zM1174 3442l-9 9 -4 -10zM1201 3450l4 -7 3 10zM1271 3440l-8 10 -5 -9zM1305 3442l5 6 -10 -1zM1351 3431l8 11 -11 2zM1414 3435l-4 13 -8 -7zM1439 3458l7 -12 6 9zM1497 3431l8 11 -10 2zM1544 3432l9 10 -10 3zM1585 3437l13 3 -7 9zM1653 3445l-2 7 -5 -9zM1685 3459l5 -12 8 8zM1751 3433l1 13 -10 -3zM1801 3448l-6 6 1 -11zM1848 3433l2 13 -10 -3zM265 3485l12 5 -8 7zM326 3513l-6 -12 11 0zM380 3481l1 13 -10 -3zM410 3500l11 -8 2 11zM473 3513l-6 -11 11 -1zM524 3480l3 13 -11 -2zM575 3495l-2 7 -5 -10zM635 3488l-8 11 -5 -9zM684 3502l-13 2 3 -11zM735 3499l-13 4 2 -10zM767 3479l5 13 -11 -1zM819 3506l-9 -6 10 -4zM869 3506l-9 -5 9 -6zM909 3506l-1 -10 9 4zM965 3485l3 12 -11 -2zM1026 3489l-8 10 -5 -9zM1075 3505l-13 -1 5 -9zM1092 3491l13 -1 -3 10zM1152 3497l5 -5 0 11zM1199 3491l11 1 -7 9zM1271 3505l-13 -1 5 -9zM1302 3492l7 2 -9 6zM1351 3510l-3 -13 11 3zM1398 3488l9 6 -9 5zM1451 3480l6 12 -11 0zM1505 3506l-9 -6 10 -4zM1556 3481l1 14 -10 -4zM1603 3513l-8 -11 10 -2zM1640 3481l10 8 -10 5zM1683 3485l13 4 -7 8zM1732 3493l13 -2 -3 11zM1787 3481l10 8 -9 5zM1842 3479l7 12 -11 1zM291 3556l-13 -2 6 -9zM319 3563l-1 -13 10 4zM378 3551l-8 -1 9 -6zM410 3539l13 1 -5 10zM474 3529l4 13 -11 -1zM536 3554l-13 -1 5 -9zM575 3550l-8 1 7 -8zM622 3559l-8 -10 11 -3zM656 3550l9 -9 3 11zM722 3544l-2 7 -5 -10zM755 3532l12 6 -9 7zM830 3537l-8 11 -6 -9zM860 3530l8 10 -10 3zM905 3531l10 8 -9 5zM970 3536l-3 12 -9 -6zM1016 3530l2 13 -11 -3zM1068 3563l-10 -9 9 -5zM1093 3552l9 -9 4 10zM1158 3564l-5 -12 10 0zM1217 3532l-3 13 -9 -6zM1248 3562l0 -13 10 5zM1314 3561l-11 -8 9 -5zM1371 3544l-11 7 -2 -11zM1404 3531l5 13 -11 -1zM1450 3562l-4 -13 11 2zM1511 3547l-9 5 0 -11zM1566 3548l-13 4 2 -11zM1585 3542l13 -2 -3 11zM1661 3539l-8 11 -5 -10zM1713 3546l-12 6 0 -11zM1760 3535l-6 12 -7 -9zM1777 3543l13 -3 -2 10zM1859 3550l-13 2 2 -10zM263 3602l8 -10 5 10zM318 3603l2 -11 8 8zM386 3607l-12 -4 7 -8zM428 3604l-9 -5 9 -6zM481 3599l-10 2 4 -10zM521 3608l-5 -11 10 -1zM579 3591l-6 9 -4 -10zM612 3579l10 9 -10 4zM658 3583l12 6 -9 6zM713 3612l-2 -13 10 2zM763 3583l8 10 -11 2zM811 3579l8 10 -10 3zM859 3592l8 -1 -7 8zM906 3579l10 9 -10 4zM962 3579l5 12 -10 0zM1002 3610l2 -13 9 5zM1073 3604l-13 -2 6 -9zM1105 3591l8 0 -9 7zM1164 3594l-4 6 -3 -10zM1218 3609l-11 -6 8 -6zM1245 3588l13 2 -6 9zM1299 3612l-1 -13 10 4zM1353 3585l6 9 -10 1zM1418 3597l-13 4 1 -11zM1461 3600l-11 1 5 -10zM1514 3606l-13 -3 7 -8zM1544 3587l10 4 -9 7zM1592 3579l10 9 -10 4zM1663 3587l-8 11 -5 -10zM1705 3612l-10 -9 9 -5zM1746 3608l-5 -12 10 1zM1781 3605l7 -11 6 9zM1827 3601l10 -9 3 10zM287 3631l-4 13 -8 -7zM316 3658l2 -13 9 6zM390 3648l-13 3 2 -11zM436 3654l-13 -3 6 -8zM477 3630l1 13 -10 -3zM518 3661l-3 -13 10 2zM580 3630l-2 13 -9 -7zM633 3635l-7 11 -6 -9zM669 3639l4 6 -10 -2zM710 3661l0 -13 10 4zM773 3660l-10 -9 10 -4zM798 3646l11 -6 2 10zM851 3657l5 -13 7 8zM899 3638l13 0 -5 10zM979 3651l-14 1 5 -10zM1028 3646l-13 4 1 -10zM1074 3639l-9 9 -4 -10zM1098 3657l4 -12 8 7zM1170 3658l-12 -5 8 -7zM1195 3657l5 -13 7 8zM1238 3642l13 -4 -2 11zM1317 3632l-5 13 -7 -8zM1351 3657l-3 -12 11 2zM1418 3637l-8 10 -5 -10zM1455 3660l-8 -11 11 -1zM1511 3636l-5 12 -8 -8zM1560 3632l-3 13 -9 -7zM1588 3631l12 6 -8 7zM1647 3661l-5 -12 11 1zM1709 3649l-12 1 3 -10zM1754 3631l-1 13 -10 -6zM1792 3661l-3 -13 10 2zM1827 3651l9 -9 4 10zM284 3700l-11 -2 7 -8zM321 3676l8 10 -11 3zM360 3703l7 -11 6 9zM406 3696l11 -7 2 11zM483 3687l-7 10 -6 -9zM504 3700l9 -9 4 10zM577 3710l-10 -9 10 -4zM608 3707l4 -13 8 7zM669 3708l-6 -11 11 -1zM700 3687l13 -1 -3 11zM749 3693l12 -5 0 11zM815 3688l5 5 -10 0zM854 3685l12 4 -6 8zM923 3702l-12 -3 6 -9zM946 3691l13 -3 -2 10zM1001 3692l10 -4 -2 11zM1071 3681l-4 13 -8 -7zM1123 3704l-13 -3 6 -9zM1156 3710l-4 -12 11 1zM1211 3677l2 13 -10 -3zM1271 3701l-13 0 5 -10zM1293 3680l12 5 -8 8zM1358 3708l-8 -10 10 -3zM1418 3701l-13 0 5 -10zM1435 3695l11 -6 2 10zM1491 3693l9 -5 0 11zM1564 3684l-7 11 -6 -9zM1592 3678l10 9 -10 4zM1632 3690l13 -3 -2 11zM1698 3688l4 6 -10 -2zM1756 3705l-12 -6 8 -7zM1804 3705l-11 -6 8 -6zM1843 3679l6 11 -11 1zM267 3728l11 7 -9 6zM320 3726l9 10 -11 4zM359 3732l13 3 -6 9zM407 3748l10 -9 3 10zM468 3759l-2 -13 10 3zM531 3727l-2 13 -9 -5zM570 3737l5 5 -10 0zM625 3760l-9 -10 10 -3zM654 3752l7 -11 6 9zM734 3744l-12 4 0 -10zM768 3760l-7 -12 11 -1zM803 3755l5 -13 7 8zM857 3728l10 9 -10 5zM901 3732l13 4 -8 8zM968 3758l-9 -9 10 -4zM1016 3759l-9 -10 11 -3zM1058 3757l-4 -12 11 1zM1126 3746l-13 3 2 -11zM1149 3757l2 -13 9 6zM1192 3735l13 1 -5 9zM1257 3760l-6 -12 11 -1zM1315 3757l-11 -6 9 -6zM1341 3732l12 3 -6 9zM1391 3738l13 -1 -4 10zM1462 3755l-12 -6 9 -7zM1484 3736l14 -1 -5 10zM1566 3738l-10 9 -2 -11zM1607 3737l-4 10 -6 -9zM1658 3754l-12 -6 8 -7zM1710 3731l-6 12 -7 -8zM1752 3754l-10 -8 9 -5zM1798 3748l-7 -2 9 -6zM1849 3731l0 13 -9 -5zM276 3798l-5 -6 10 0zM316 3777l11 8 -9 5zM391 3787l-10 8 -3 -10zM436 3789l-11 8 -2 -11zM483 3799l-13 -2 6 -9zM536 3782l-7 11 -6 -9zM588 3788l-11 8 -2 -11zM634 3799l-13 0 5 -10zM677 3782l-4 12 -8 -7zM729 3797l-13 0 5 -10zM772 3784l-1 10 -9 -6zM800 3783l13 2 -5 9zM864 3802l-5 -9 10 -1zM900 3784l13 2 -5 9zM970 3786l-4 9 -6 -8zM1017 3809l-9 -10 10 -4zM1045 3782l13 2 -6 9zM1094 3784l13 1 -5 9zM1169 3778l-3 12 -8 -6zM1199 3781l11 6 -8 7zM1249 3799l2 -10 8 7zM1304 3810l-5 -13 11 1zM1349 3775l9 10 -11 4zM1391 3780l12 4 -7 8zM1456 3806l-9 -10 11 -3zM1506 3775l2 14 -11 -4zM1536 3797l9 -9 4 10zM1592 3776l10 9 -10 5zM1633 3795l11 -8 2 11zM1701 3776l2 13 -10 -2zM1764 3789l-11 7 -2 -10zM1810 3787l-10 9 -3 -11zM1831 3788l13 -2 -3 11zM292 3837l-11 8 -2 -10zM315 3852l4 -13 8 8zM362 3852l5 -12 7 8zM425 3824l4 12 -11 -1zM488 3841l-12 5 0 -11zM534 3828l-5 13 -7 -8zM587 3845l-13 2 2 -10zM623 3837l0 7 -7 -8zM652 3849l8 -10 5 9zM700 3844l11 -8 2 11zM772 3839l-4 7 -3 -11zM801 3837l13 -2 -3 10zM860 3828l9 10 -11 3zM906 3856l0 -13 10 4zM956 3825l9 9 -10 4zM997 3852l6 -12 7 9zM1078 3837l-11 8 -2 -11zM1117 3827l-1 13 -10 -5zM1154 3836l8 1 -8 7zM1223 3837l-11 8 -2 -10zM1244 3854l4 -13 8 8zM1295 3827l11 7 -8 6zM1357 3835l2 8 -10 -5zM1397 3842l4 -6 3 10zM1468 3846l-13 1 3 -10zM1490 3833l13 3 -6 8zM1547 3823l7 11 -10 2zM1616 3844l-13 3 2 -11zM1657 3825l-1 13 -9 -5zM1691 3825l9 9 -10 4zM1754 3856l-10 -8 9 -5zM1793 3857l-4 -13 11 1zM1862 3843l-13 4 2 -11z"/></g></g>
<rect x="138" y="154" width="802.5" height="1767.5" fill="none" stroke="#000" stroke-width="2.5"/>
<rect x="997.5" y="153.75" width="76.5" height="1768.25" fill="url(#cb)" stroke="#000" stroke-width="2.5"/>
<path d="M997.5 281.2h17M1074 281.2h-17M997.5 568.2h17M1074 568.2h-17M997.5 855.2h17M1074 855.2h-17M997.5 1142.2h17M1074 1142.2h-17M997.5 1429.2h17M1074 1429.2h-17M997.5 1716.2h17M1074 1716.2h-17" stroke="#000" stroke-width="2.5"/>
<text transform="translate(124.6 36.0) scale(1.108 1)" font-size="43.5">Logarithm</text>
<text transform="translate(345.7 36.0) scale(0.975 1)" font-size="43.5">of</text>
<text transform="translate(388.4 36.0) scale(1.338 1)" font-size="43.5">the</text>
<text transform="translate(473.1 36.0) scale(1.126 1)" font-size="43.5">current</text>
<text transform="translate(628.7 36.0) scale(1.155 1)" font-size="43.5">strength</text>
<text transform="translate(807.5 36.0) scale(1.048 1)" font-size="43.5">in</text>
<text transform="translate(861.0 36.0) scale(1.113 1)" font-size="46" font-style="italic">xy</text>
<text transform="translate(907.7 36.0) scale(1.116 1)" font-size="43.5">-plane</text>
<text transform="translate(124.1 90.0) scale(1.233 1)" font-size="43.5">at</text>
<text transform="translate(183.1 90.0) scale(1.093 1)" font-size="46" font-style="italic">E</text>
<text transform="translate(226.7 90.0) scale(1.519 1)" font-size="43.5">=</text>
<text transform="translate(275.8 90.0) scale(1.346 1)" font-size="43.5">−</text>
<text transform="translate(308.2 90.0) scale(1.067 1)" font-size="43.5">0.04</text>
<text transform="translate(396.3 90.0) scale(0.980 1)" font-size="43.5">eV,</text>
<text transform="translate(471.4 90.0) scale(1.186 1)" font-size="46" font-style="italic">T</text>
<text transform="translate(504.9 90.0) scale(0.850 1)" font-size="43.5">(</text>
<text transform="translate(524.6 90.0) scale(1.183 1)" font-size="46" font-style="italic">E</text>
<text transform="translate(563.8 90.0) scale(0.877 1)" font-size="43.5">)</text>
<text transform="translate(588.6 90.0) scale(1.571 1)" font-size="43.5">=</text>
<text transform="translate(637.8 90.0) scale(1.009 1)" font-size="43.5">0.91</text>
<text transform="translate(840.8 126.0) scale(1.013 1)" font-size="43.5">log</text>
<text transform="translate(896.1 135.6) scale(1.278 1)" font-size="29">10</text>
<text transform="translate(949.9 125.1) scale(1.245 1)" font-size="50.5">∫</text>
<text transform="translate(979.7 126.0) scale(1.262 1)" font-size="43.5">d</text>
<text transform="translate(1009.0 126.0) scale(0.971 1)" font-size="46" font-style="italic">z</text>
<text transform="translate(1043.3 126.1) scale(0.820 1)" font-size="49">|</text>
<text transform="translate(1058.7 126.0) scale(1.068 1)" font-size="46" font-style="italic">j</text>
<text transform="translate(1074.4 131.7) scale(1.383 1)" font-size="29" font-style="italic">xy</text>
<text transform="translate(1115.8 126.1) scale(0.888 1)" font-size="50">(</text>
<text transform="translate(1134.7 126.1) scale(1.144 1)" font-size="46" font-style="italic">E</text>
<text transform="translate(1168.2 126.1) scale(0.833 1)" font-size="50">)</text>
<text transform="translate(1186.8 126.1) scale(0.820 1)" font-size="49">|</text>
<text x="108.8" y="195.0" font-size="34">0</text>
<text x="80.5" y="368.2" font-size="34">-10</text>
<text x="80.5" y="541.4" font-size="34">-20</text>
<text x="80.5" y="714.7" font-size="34">-30</text>
<text x="80.5" y="887.9" font-size="34">-40</text>
<text x="80.5" y="1061.1" font-size="34">-50</text>
<text x="80.5" y="1234.3" font-size="34">-60</text>
<text x="80.5" y="1407.5" font-size="34">-70</text>
<text x="80.5" y="1580.8" font-size="34">-80</text>
<text x="80.5" y="1754.0" font-size="34">-90</text>
<text x="63.5" y="1927.2" font-size="34">-100</text>
<text x="271.8" y="1967.3" font-size="34">0</text>
<text x="435.1" y="1967.3" font-size="34">10</text>
<text x="608.6" y="1967.3" font-size="34">20</text>
<text x="781.2" y="1967.3" font-size="34">30</text>
<text transform="translate(309.3 2023.0) scale(1.103 1)" font-size="44">spatial</text>
<text transform="translate(451.2 2023.0) scale(1.073 1)" font-size="44">coordinate</text>
<text transform="translate(666.0 2023.0) scale(1.095 1)" font-size="46" font-style="italic">x</text>
<text transform="translate(705.1 2023.0) scale(1.005 1)" font-size="44">in</text>
<text transform="translate(752.8 2023.0) scale(1.105 1)" font-size="44">a.u.</text>
<g transform="translate(37.5 0) rotate(-90)"><text transform="translate(-1212.7 0.0) scale(1.100 1)" font-size="44">spatial</text><text transform="translate(-1072.5 0.0) scale(1.072 1)" font-size="44">coordinate</text><text transform="translate(-854.3 0.0) scale(0.811 1)" font-size="46" font-style="italic">y</text><text transform="translate(-821.0 0.0) scale(1.036 1)" font-size="44">in</text><text transform="translate(-771.2 0.0) scale(1.109 1)" font-size="44">a.u.</text></g>
<text x="1084.7" y="296.1" font-size="34">0</text>
<text x="1084.2" y="583.0" font-size="34">-1</text>
<text x="1084.2" y="870.0" font-size="34">-2</text>
<text x="1084.2" y="1157.0" font-size="34">-3</text>
<text x="1084.2" y="1444.0" font-size="34">-4</text>
<text x="1084.2" y="1731.0" font-size="34">-5</text>
</svg></body></html>
